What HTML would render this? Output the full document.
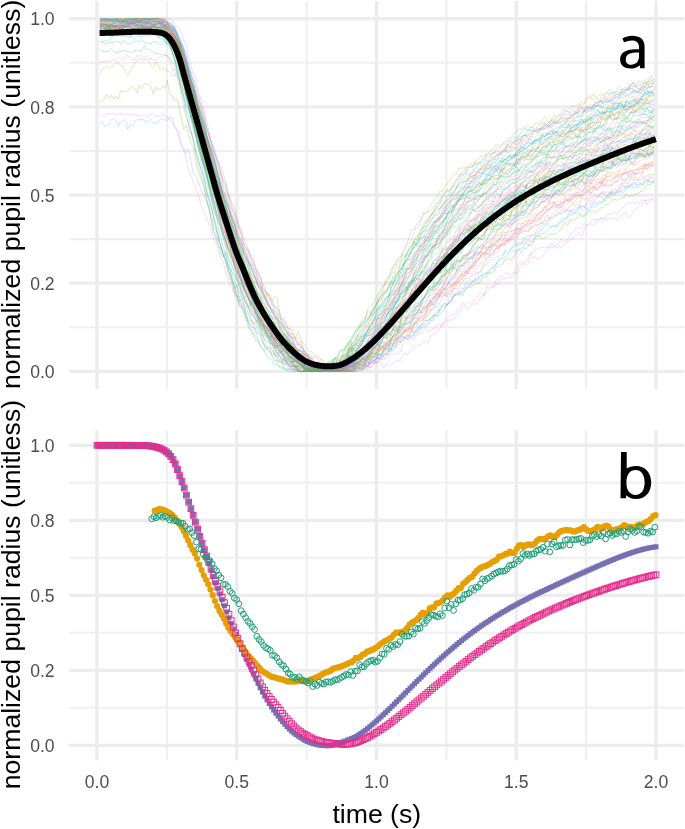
<!DOCTYPE html>
<html><head><meta charset="utf-8"><title>pupil</title>
<style>html,body{margin:0;padding:0;background:#fff;overflow:hidden}svg{display:block;filter:blur(0.45px)}</style>
</head><body>
<svg width="685" height="829" viewBox="0 0 685 829">
<rect width="685" height="829" fill="#fff"/>
<line x1="69.05" x2="683.95" y1="327.31" y2="327.31" stroke="#EFEFEF" stroke-width="2.1"/>
<line x1="69.05" x2="683.95" y1="239.14" y2="239.14" stroke="#EFEFEF" stroke-width="2.1"/>
<line x1="69.05" x2="683.95" y1="150.96" y2="150.96" stroke="#EFEFEF" stroke-width="2.1"/>
<line x1="69.05" x2="683.95" y1="62.79" y2="62.79" stroke="#EFEFEF" stroke-width="2.1"/>
<line x1="166.88" x2="166.88" y1="1.06" y2="389.03" stroke="#EFEFEF" stroke-width="2.1"/>
<line x1="306.62" x2="306.62" y1="1.06" y2="389.03" stroke="#EFEFEF" stroke-width="2.1"/>
<line x1="446.38" x2="446.38" y1="1.06" y2="389.03" stroke="#EFEFEF" stroke-width="2.1"/>
<line x1="586.12" x2="586.12" y1="1.06" y2="389.03" stroke="#EFEFEF" stroke-width="2.1"/>
<line x1="69.05" x2="683.95" y1="371.40" y2="371.40" stroke="#ECECEC" stroke-width="3.3"/>
<line x1="69.05" x2="683.95" y1="283.22" y2="283.22" stroke="#ECECEC" stroke-width="3.3"/>
<line x1="69.05" x2="683.95" y1="195.05" y2="195.05" stroke="#ECECEC" stroke-width="3.3"/>
<line x1="69.05" x2="683.95" y1="106.88" y2="106.88" stroke="#ECECEC" stroke-width="3.3"/>
<line x1="69.05" x2="683.95" y1="18.70" y2="18.70" stroke="#ECECEC" stroke-width="3.3"/>
<line x1="97.00" x2="97.00" y1="1.06" y2="389.03" stroke="#ECECEC" stroke-width="3.3"/>
<line x1="236.75" x2="236.75" y1="1.06" y2="389.03" stroke="#ECECEC" stroke-width="3.3"/>
<line x1="376.50" x2="376.50" y1="1.06" y2="389.03" stroke="#ECECEC" stroke-width="3.3"/>
<line x1="516.25" x2="516.25" y1="1.06" y2="389.03" stroke="#ECECEC" stroke-width="3.3"/>
<line x1="656.00" x2="656.00" y1="1.06" y2="389.03" stroke="#ECECEC" stroke-width="3.3"/>
<line x1="69.05" x2="683.95" y1="707.80" y2="707.80" stroke="#EFEFEF" stroke-width="2.1"/>
<line x1="69.05" x2="683.95" y1="632.80" y2="632.80" stroke="#EFEFEF" stroke-width="2.1"/>
<line x1="69.05" x2="683.95" y1="557.80" y2="557.80" stroke="#EFEFEF" stroke-width="2.1"/>
<line x1="69.05" x2="683.95" y1="482.80" y2="482.80" stroke="#EFEFEF" stroke-width="2.1"/>
<line x1="166.88" x2="166.88" y1="430.30" y2="760.30" stroke="#EFEFEF" stroke-width="2.1"/>
<line x1="306.62" x2="306.62" y1="430.30" y2="760.30" stroke="#EFEFEF" stroke-width="2.1"/>
<line x1="446.38" x2="446.38" y1="430.30" y2="760.30" stroke="#EFEFEF" stroke-width="2.1"/>
<line x1="586.12" x2="586.12" y1="430.30" y2="760.30" stroke="#EFEFEF" stroke-width="2.1"/>
<line x1="69.05" x2="683.95" y1="745.30" y2="745.30" stroke="#ECECEC" stroke-width="3.3"/>
<line x1="69.05" x2="683.95" y1="670.30" y2="670.30" stroke="#ECECEC" stroke-width="3.3"/>
<line x1="69.05" x2="683.95" y1="595.30" y2="595.30" stroke="#ECECEC" stroke-width="3.3"/>
<line x1="69.05" x2="683.95" y1="520.30" y2="520.30" stroke="#ECECEC" stroke-width="3.3"/>
<line x1="69.05" x2="683.95" y1="445.30" y2="445.30" stroke="#ECECEC" stroke-width="3.3"/>
<line x1="97.00" x2="97.00" y1="430.30" y2="760.30" stroke="#ECECEC" stroke-width="3.3"/>
<line x1="236.75" x2="236.75" y1="430.30" y2="760.30" stroke="#ECECEC" stroke-width="3.3"/>
<line x1="376.50" x2="376.50" y1="430.30" y2="760.30" stroke="#ECECEC" stroke-width="3.3"/>
<line x1="516.25" x2="516.25" y1="430.30" y2="760.30" stroke="#ECECEC" stroke-width="3.3"/>
<line x1="656.00" x2="656.00" y1="430.30" y2="760.30" stroke="#ECECEC" stroke-width="3.3"/>
<g fill="none" stroke-width="0.85" stroke-opacity="0.32" stroke-linejoin="round"><path d="M99.8,23.3 L102.1,25.6 L104.5,24.0 L106.8,25.3 L109.1,24.7 L111.4,23.9 L113.8,26.7 L116.1,27.1 L118.4,24.4 L120.8,23.4 L123.1,22.9 L125.4,22.1 L127.7,22.4 L130.1,23.2 L132.4,24.5 L134.7,22.9 L137.1,22.5 L139.4,22.0 L141.7,20.4 L144.0,21.3 L146.4,22.7 L148.7,22.6 L151.0,24.5 L153.4,24.0 L155.7,24.7 L158.0,24.2 L160.4,26.3 L162.7,28.6 L165.0,29.8 L167.3,31.5 L169.7,36.1 L172.0,40.9 L174.3,44.9 L176.7,52.9 L179.0,62.3 L181.3,72.9 L183.6,82.1 L186.0,94.9 L188.3,103.3 L190.6,112.4 L193.0,120.1 L195.3,130.3 L197.6,137.9 L199.9,147.6 L202.3,153.0 L204.6,165.2 L206.9,172.5 L209.3,186.1 L211.6,193.3 L213.9,200.2 L216.3,212.0 L218.6,214.5 L220.9,222.7 L223.2,232.1 L225.6,241.6 L227.9,247.0 L230.2,252.6 L232.6,261.7 L234.9,267.0 L237.2,278.0 L239.5,283.9 L241.9,293.0 L244.2,300.0 L246.5,304.7 L248.9,309.6 L251.2,313.9 L253.5,314.8 L255.8,317.6 L258.2,323.7 L260.5,324.4 L262.8,329.8 L265.2,329.4 L267.5,338.0 L269.8,337.1 L272.2,343.6 L274.5,344.4 L276.8,348.9 L279.1,345.1 L281.5,351.2 L283.8,353.3 L286.1,360.2 L288.5,366.2 L290.8,366.5 L293.1,365.3 L295.4,367.2 L297.8,369.6 L300.1,371.4 L302.4,371.4 L304.8,370.1 L307.1,366.8 L309.4,369.5 L311.7,369.9 L314.1,371.4 L316.4,371.1 L318.7,371.4 L321.1,371.4 L323.4,371.4 L325.7,366.9 L328.1,370.8 L330.4,367.8 L332.7,370.4 L335.0,369.4 L337.4,370.4 L339.7,369.1 L342.0,368.5 L344.4,371.4 L346.7,371.1 L349.0,369.0 L351.3,366.0 L353.7,365.3 L356.0,360.2 L358.3,357.4 L360.7,355.4 L363.0,351.8 L365.3,346.9 L367.6,341.3 L370.0,342.2 L372.3,338.6 L374.6,335.0 L377.0,329.2 L379.3,328.2 L381.6,324.6 L384.0,321.0 L386.3,318.6 L388.6,313.1 L390.9,311.6 L393.3,305.3 L395.6,301.1 L397.9,295.7 L400.3,289.2 L402.6,287.3 L404.9,285.1 L407.2,280.3 L409.6,275.7 L411.9,271.9 L414.2,267.1 L416.6,263.9 L418.9,259.6 L421.2,257.7 L423.5,252.1 L425.9,246.0 L428.2,243.0 L430.5,239.9 L432.9,238.3 L435.2,233.8 L437.5,230.2 L439.9,224.7 L442.2,221.5 L444.5,218.9 L446.8,218.0 L449.2,218.0 L451.5,213.1 L453.8,204.4 L456.2,202.5 L458.5,199.1 L460.8,194.7 L463.1,194.4 L465.5,190.8 L467.8,187.5 L470.1,186.9 L472.5,187.1 L474.8,186.0 L477.1,183.2 L479.4,183.0 L481.8,184.9 L484.1,180.6 L486.4,179.0 L488.8,175.0 L491.1,173.6 L493.4,171.9 L495.8,171.3 L498.1,166.5 L500.4,167.3 L502.7,162.7 L505.1,159.3 L507.4,160.4 L509.7,160.6 L512.1,158.4 L514.4,157.9 L516.7,153.8 L519.0,152.6 L521.4,151.7 L523.7,148.3 L526.0,149.1 L528.4,145.7 L530.7,142.5 L533.0,144.8 L535.3,139.9 L537.7,141.5 L540.0,140.3 L542.3,138.8 L544.7,139.0 L547.0,140.3 L549.3,137.2 L551.7,135.7 L554.0,133.4 L556.3,131.3 L558.6,135.0 L561.0,134.8 L563.3,131.8 L565.6,131.7 L568.0,131.1 L570.3,130.6 L572.6,127.7 L574.9,124.7 L577.3,125.1 L579.6,123.2 L581.9,122.0 L584.3,120.0 L586.6,117.1 L588.9,115.9 L591.2,113.9 L593.6,111.0 L595.9,110.0 L598.2,109.9 L600.6,114.8 L602.9,112.4 L605.2,112.2 L607.6,110.9 L609.9,112.2 L612.2,110.8 L614.5,103.4 L616.9,104.7 L619.2,107.0 L621.5,104.2 L623.9,109.4 L626.2,104.6 L628.5,108.2 L630.8,105.2 L633.2,107.9 L635.5,103.0 L637.8,103.5 L640.2,99.1 L642.5,99.3 L644.8,91.0 L647.1,90.0 L649.5,93.7 L651.8,90.9 L654.1,94.3" stroke="#00adfa"/>
<path d="M99.8,124.8 L102.1,121.2 L104.5,126.9 L106.8,124.6 L109.1,124.8 L111.4,119.6 L113.8,118.8 L116.1,120.9 L118.4,126.4 L120.8,121.7 L123.1,120.7 L125.4,119.3 L127.7,129.4 L130.1,124.7 L132.4,125.9 L134.7,121.7 L137.1,119.9 L139.4,119.7 L141.7,119.7 L144.0,119.7 L146.4,123.2 L148.7,120.3 L151.0,119.7 L153.4,123.6 L155.7,122.2 L158.0,122.8 L160.4,118.8 L162.7,120.3 L165.0,118.3 L167.3,120.8 L169.7,117.0 L172.0,117.5 L174.3,127.6 L176.7,130.1 L179.0,132.1 L181.3,145.0 L183.6,147.8 L186.0,153.1 L188.3,148.8 L190.6,158.7 L193.0,172.6 L195.3,173.8 L197.6,179.4 L199.9,186.6 L202.3,193.1 L204.6,196.6 L206.9,202.7 L209.3,208.1 L211.6,224.4 L213.9,232.6 L216.3,236.5 L218.6,247.4 L220.9,248.2 L223.2,252.2 L225.6,251.7 L227.9,266.5 L230.2,268.1 L232.6,273.0 L234.9,276.5 L237.2,279.4 L239.5,282.2 L241.9,292.7 L244.2,299.1 L246.5,302.6 L248.9,307.4 L251.2,301.7 L253.5,302.4 L255.8,313.9 L258.2,314.7 L260.5,326.4 L262.8,324.9 L265.2,330.7 L267.5,330.0 L269.8,341.4 L272.2,332.7 L274.5,346.4 L276.8,345.2 L279.1,346.3 L281.5,351.2 L283.8,353.5 L286.1,352.0 L288.5,354.1 L290.8,354.7 L293.1,362.8 L295.4,358.8 L297.8,369.4 L300.1,369.2 L302.4,365.4 L304.8,365.3 L307.1,369.1 L309.4,368.0 L311.7,371.4 L314.1,366.9 L316.4,369.9 L318.7,369.8 L321.1,371.4 L323.4,371.4 L325.7,371.4 L328.1,371.4 L330.4,369.4 L332.7,371.4 L335.0,370.1 L337.4,371.4 L339.7,371.1 L342.0,371.4 L344.4,362.0 L346.7,367.3 L349.0,367.0 L351.3,366.6 L353.7,369.7 L356.0,369.5 L358.3,357.3 L360.7,361.1 L363.0,358.5 L365.3,350.2 L367.6,343.6 L370.0,349.0 L372.3,341.2 L374.6,342.8 L377.0,341.5 L379.3,347.4 L381.6,343.4 L384.0,335.6 L386.3,334.6 L388.6,323.4 L390.9,328.6 L393.3,329.4 L395.6,311.4 L397.9,317.3 L400.3,314.8 L402.6,311.4 L404.9,311.9 L407.2,311.0 L409.6,307.2 L411.9,300.8 L414.2,302.1 L416.6,295.9 L418.9,298.6 L421.2,297.9 L423.5,286.4 L425.9,279.5 L428.2,278.7 L430.5,271.5 L432.9,269.5 L435.2,272.4 L437.5,268.0 L439.9,272.3 L442.2,262.3 L444.5,260.8 L446.8,263.2 L449.2,263.5 L451.5,264.9 L453.8,262.4 L456.2,253.5 L458.5,254.0 L460.8,246.5 L463.1,245.9 L465.5,244.5 L467.8,237.5 L470.1,240.0 L472.5,235.8 L474.8,234.1 L477.1,232.6 L479.4,231.9 L481.8,226.3 L484.1,226.1 L486.4,221.9 L488.8,216.0 L491.1,211.0 L493.4,214.1 L495.8,214.9 L498.1,216.0 L500.4,217.5 L502.7,212.0 L505.1,209.2 L507.4,199.6 L509.7,194.0 L512.1,198.3 L514.4,194.2 L516.7,200.7 L519.0,205.6 L521.4,202.4 L523.7,197.5 L526.0,196.3 L528.4,194.9 L530.7,194.7 L533.0,194.0 L535.3,191.6 L537.7,183.4 L540.0,184.0 L542.3,188.3 L544.7,180.9 L547.0,178.6 L549.3,179.0 L551.7,178.3 L554.0,177.0 L556.3,174.1 L558.6,171.8 L561.0,174.0 L563.3,172.5 L565.6,177.2 L568.0,171.8 L570.3,174.6 L572.6,173.3 L574.9,177.8 L577.3,172.3 L579.6,173.4 L581.9,167.6 L584.3,164.8 L586.6,171.4 L588.9,175.5 L591.2,172.5 L593.6,173.0 L595.9,159.2 L598.2,158.1 L600.6,159.3 L602.9,151.5 L605.2,140.9 L607.6,146.5 L609.9,152.8 L612.2,145.7 L614.5,155.2 L616.9,156.3 L619.2,152.5 L621.5,154.7 L623.9,149.9 L626.2,162.0 L628.5,160.2 L630.8,152.4 L633.2,148.6 L635.5,140.2 L637.8,138.2 L640.2,139.6 L642.5,134.7 L644.8,135.2 L647.1,130.5 L649.5,130.8 L651.8,138.2 L654.1,139.9" stroke="#3fa1ff"/>
<path d="M99.8,29.1 L102.1,26.5 L104.5,26.5 L106.8,25.1 L109.1,26.4 L111.4,26.3 L113.8,25.8 L116.1,24.1 L118.4,25.8 L120.8,25.1 L123.1,25.2 L125.4,23.1 L127.7,22.3 L130.1,22.3 L132.4,22.0 L134.7,23.4 L137.1,24.3 L139.4,22.4 L141.7,24.8 L144.0,21.5 L146.4,23.5 L148.7,25.2 L151.0,27.8 L153.4,26.6 L155.7,28.8 L158.0,26.8 L160.4,25.6 L162.7,28.9 L165.0,29.2 L167.3,30.7 L169.7,33.6 L172.0,37.6 L174.3,40.0 L176.7,45.8 L179.0,50.8 L181.3,59.0 L183.6,68.2 L186.0,78.4 L188.3,87.0 L190.6,99.3 L193.0,107.4 L195.3,115.4 L197.6,127.2 L199.9,135.5 L202.3,143.3 L204.6,153.9 L206.9,162.7 L209.3,169.4 L211.6,178.1 L213.9,185.9 L216.3,195.0 L218.6,200.5 L220.9,208.1 L223.2,217.9 L225.6,224.6 L227.9,234.8 L230.2,239.4 L232.6,244.6 L234.9,255.4 L237.2,261.6 L239.5,267.3 L241.9,270.5 L244.2,278.9 L246.5,287.5 L248.9,289.7 L251.2,294.7 L253.5,301.0 L255.8,306.3 L258.2,307.9 L260.5,317.8 L262.8,320.7 L265.2,320.9 L267.5,327.7 L269.8,331.8 L272.2,336.5 L274.5,337.7 L276.8,341.4 L279.1,342.3 L281.5,347.7 L283.8,351.0 L286.1,351.7 L288.5,356.3 L290.8,356.2 L293.1,358.8 L295.4,358.8 L297.8,363.7 L300.1,361.2 L302.4,367.9 L304.8,368.5 L307.1,367.1 L309.4,371.4 L311.7,366.8 L314.1,367.8 L316.4,366.9 L318.7,365.6 L321.1,369.3 L323.4,367.4 L325.7,368.7 L328.1,367.9 L330.4,367.2 L332.7,369.3 L335.0,369.6 L337.4,369.1 L339.7,369.2 L342.0,369.3 L344.4,367.7 L346.7,366.4 L349.0,364.5 L351.3,358.9 L353.7,355.6 L356.0,351.9 L358.3,347.4 L360.7,341.4 L363.0,339.9 L365.3,335.5 L367.6,336.6 L370.0,329.3 L372.3,329.4 L374.6,326.5 L377.0,320.0 L379.3,317.9 L381.6,314.8 L384.0,308.2 L386.3,302.9 L388.6,300.1 L390.9,295.9 L393.3,291.6 L395.6,289.7 L397.9,283.9 L400.3,276.5 L402.6,275.8 L404.9,270.7 L407.2,265.4 L409.6,263.6 L411.9,262.3 L414.2,259.0 L416.6,250.9 L418.9,247.9 L421.2,246.1 L423.5,243.4 L425.9,235.4 L428.2,231.7 L430.5,228.7 L432.9,224.5 L435.2,221.0 L437.5,217.8 L439.9,220.3 L442.2,216.7 L444.5,213.3 L446.8,208.7 L449.2,207.8 L451.5,204.1 L453.8,207.6 L456.2,209.1 L458.5,208.8 L460.8,206.5 L463.1,204.0 L465.5,198.5 L467.8,197.7 L470.1,192.6 L472.5,186.7 L474.8,181.8 L477.1,181.5 L479.4,182.8 L481.8,180.9 L484.1,179.5 L486.4,179.9 L488.8,178.1 L491.1,175.6 L493.4,170.1 L495.8,171.3 L498.1,169.3 L500.4,169.1 L502.7,169.7 L505.1,166.7 L507.4,163.7 L509.7,163.2 L512.1,162.8 L514.4,165.5 L516.7,164.3 L519.0,158.8 L521.4,158.0 L523.7,158.2 L526.0,155.7 L528.4,152.7 L530.7,151.8 L533.0,151.0 L535.3,150.8 L537.7,148.9 L540.0,147.4 L542.3,148.6 L544.7,146.8 L547.0,146.2 L549.3,145.4 L551.7,144.8 L554.0,141.2 L556.3,140.0 L558.6,138.7 L561.0,136.0 L563.3,136.5 L565.6,133.0 L568.0,132.2 L570.3,131.5 L572.6,131.4 L574.9,129.1 L577.3,127.7 L579.6,131.7 L581.9,126.7 L584.3,128.1 L586.6,125.2 L588.9,124.2 L591.2,123.8 L593.6,123.7 L595.9,122.7 L598.2,122.7 L600.6,122.5 L602.9,118.2 L605.2,120.8 L607.6,118.2 L609.9,115.5 L612.2,118.8 L614.5,118.9 L616.9,118.7 L619.2,111.3 L621.5,113.3 L623.9,110.3 L626.2,110.4 L628.5,109.4 L630.8,108.3 L633.2,110.3 L635.5,103.6 L637.8,104.3 L640.2,102.9 L642.5,103.9 L644.8,103.7 L647.1,98.8 L649.5,104.8 L651.8,101.2 L654.1,103.2" stroke="#ff62ba"/>
<path d="M99.8,32.0 L102.1,32.2 L104.5,34.3 L106.8,32.7 L109.1,33.0 L111.4,32.7 L113.8,31.5 L116.1,32.5 L118.4,32.7 L120.8,33.8 L123.1,31.4 L125.4,30.3 L127.7,29.8 L130.1,31.1 L132.4,32.9 L134.7,32.4 L137.1,30.0 L139.4,29.5 L141.7,28.5 L144.0,27.7 L146.4,29.1 L148.7,29.4 L151.0,29.0 L153.4,31.2 L155.7,30.6 L158.0,30.8 L160.4,28.6 L162.7,30.1 L165.0,30.0 L167.3,32.4 L169.7,36.7 L172.0,41.2 L174.3,43.5 L176.7,48.8 L179.0,55.0 L181.3,64.1 L183.6,75.7 L186.0,87.5 L188.3,92.1 L190.6,97.4 L193.0,104.5 L195.3,113.2 L197.6,123.6 L199.9,128.8 L202.3,138.9 L204.6,145.6 L206.9,150.9 L209.3,155.9 L211.6,162.0 L213.9,173.8 L216.3,184.8 L218.6,194.4 L220.9,199.9 L223.2,208.1 L225.6,216.3 L227.9,222.2 L230.2,227.2 L232.6,234.2 L234.9,240.2 L237.2,247.5 L239.5,251.0 L241.9,257.3 L244.2,262.3 L246.5,271.2 L248.9,273.3 L251.2,283.3 L253.5,288.9 L255.8,295.1 L258.2,299.9 L260.5,306.3 L262.8,307.0 L265.2,311.5 L267.5,315.4 L269.8,318.4 L272.2,322.3 L274.5,324.1 L276.8,328.8 L279.1,331.8 L281.5,335.8 L283.8,340.2 L286.1,338.1 L288.5,342.6 L290.8,343.3 L293.1,347.8 L295.4,347.6 L297.8,352.6 L300.1,357.5 L302.4,357.8 L304.8,360.6 L307.1,363.5 L309.4,368.3 L311.7,367.5 L314.1,369.6 L316.4,370.9 L318.7,369.9 L321.1,371.4 L323.4,371.4 L325.7,371.4 L328.1,371.4 L330.4,370.7 L332.7,371.4 L335.0,371.4 L337.4,368.6 L339.7,367.6 L342.0,365.8 L344.4,365.3 L346.7,359.8 L349.0,358.9 L351.3,358.9 L353.7,355.4 L356.0,354.8 L358.3,351.8 L360.7,351.8 L363.0,354.8 L365.3,352.7 L367.6,347.2 L370.0,345.1 L372.3,342.4 L374.6,337.5 L377.0,337.1 L379.3,331.8 L381.6,326.9 L384.0,325.5 L386.3,320.5 L388.6,319.5 L390.9,317.7 L393.3,317.9 L395.6,317.7 L397.9,315.4 L400.3,311.2 L402.6,310.4 L404.9,307.3 L407.2,306.8 L409.6,302.8 L411.9,296.7 L414.2,292.1 L416.6,291.0 L418.9,292.1 L421.2,285.4 L423.5,280.5 L425.9,281.9 L428.2,275.5 L430.5,277.7 L432.9,274.9 L435.2,275.2 L437.5,271.3 L439.9,273.7 L442.2,265.8 L444.5,264.8 L446.8,263.9 L449.2,260.7 L451.5,257.8 L453.8,257.1 L456.2,253.4 L458.5,251.0 L460.8,253.0 L463.1,246.2 L465.5,245.4 L467.8,242.1 L470.1,243.6 L472.5,240.7 L474.8,239.7 L477.1,235.7 L479.4,239.0 L481.8,239.9 L484.1,236.7 L486.4,229.5 L488.8,229.5 L491.1,229.1 L493.4,228.5 L495.8,225.6 L498.1,226.0 L500.4,226.0 L502.7,221.9 L505.1,221.4 L507.4,219.2 L509.7,216.2 L512.1,211.7 L514.4,208.2 L516.7,209.0 L519.0,206.3 L521.4,209.8 L523.7,203.9 L526.0,202.7 L528.4,198.1 L530.7,200.4 L533.0,199.1 L535.3,196.5 L537.7,196.3 L540.0,194.1 L542.3,195.4 L544.7,191.8 L547.0,189.0 L549.3,186.7 L551.7,186.8 L554.0,187.2 L556.3,189.9 L558.6,187.6 L561.0,188.0 L563.3,186.7 L565.6,187.9 L568.0,183.3 L570.3,184.4 L572.6,180.1 L574.9,184.1 L577.3,182.8 L579.6,182.6 L581.9,181.8 L584.3,184.7 L586.6,179.8 L588.9,179.1 L591.2,179.8 L593.6,173.9 L595.9,170.5 L598.2,169.6 L600.6,169.5 L602.9,166.9 L605.2,166.4 L607.6,163.8 L609.9,161.6 L612.2,160.8 L614.5,166.1 L616.9,163.1 L619.2,164.1 L621.5,162.2 L623.9,164.2 L626.2,161.6 L628.5,159.5 L630.8,158.5 L633.2,157.4 L635.5,156.5 L637.8,156.6 L640.2,153.3 L642.5,154.6 L644.8,156.4 L647.1,153.3 L649.5,154.3 L651.8,153.8 L654.1,149.8" stroke="#de8c00"/>
<path d="M99.8,29.2 L102.1,31.9 L104.5,31.7 L106.8,31.3 L109.1,31.1 L111.4,27.7 L113.8,24.5 L116.1,28.4 L118.4,27.1 L120.8,29.9 L123.1,27.2 L125.4,31.3 L127.7,32.0 L130.1,29.8 L132.4,32.3 L134.7,30.3 L137.1,34.1 L139.4,31.9 L141.7,30.3 L144.0,30.2 L146.4,32.1 L148.7,31.6 L151.0,31.0 L153.4,31.3 L155.7,30.8 L158.0,30.4 L160.4,30.8 L162.7,30.1 L165.0,31.1 L167.3,31.4 L169.7,34.3 L172.0,34.3 L174.3,36.3 L176.7,38.8 L179.0,41.5 L181.3,45.2 L183.6,49.1 L186.0,56.8 L188.3,69.3 L190.6,74.9 L193.0,80.8 L195.3,91.2 L197.6,101.5 L199.9,112.0 L202.3,121.2 L204.6,130.6 L206.9,137.9 L209.3,144.3 L211.6,153.8 L213.9,167.1 L216.3,173.6 L218.6,181.7 L220.9,188.6 L223.2,196.6 L225.6,205.4 L227.9,213.1 L230.2,219.8 L232.6,226.1 L234.9,236.2 L237.2,244.2 L239.5,251.3 L241.9,258.7 L244.2,265.1 L246.5,270.2 L248.9,272.2 L251.2,279.0 L253.5,284.8 L255.8,292.7 L258.2,296.1 L260.5,300.2 L262.8,304.6 L265.2,310.9 L267.5,315.3 L269.8,320.7 L272.2,323.8 L274.5,326.4 L276.8,333.8 L279.1,334.1 L281.5,337.5 L283.8,342.2 L286.1,342.1 L288.5,347.7 L290.8,347.7 L293.1,354.5 L295.4,352.1 L297.8,355.8 L300.1,358.4 L302.4,357.8 L304.8,361.3 L307.1,364.7 L309.4,364.7 L311.7,364.1 L314.1,368.3 L316.4,369.7 L318.7,371.4 L321.1,370.8 L323.4,370.1 L325.7,369.8 L328.1,371.4 L330.4,371.4 L332.7,371.1 L335.0,370.2 L337.4,368.7 L339.7,363.7 L342.0,364.4 L344.4,362.8 L346.7,362.7 L349.0,358.3 L351.3,356.9 L353.7,355.0 L356.0,357.0 L358.3,352.4 L360.7,349.3 L363.0,346.2 L365.3,346.6 L367.6,344.6 L370.0,345.6 L372.3,340.8 L374.6,340.4 L377.0,337.4 L379.3,336.9 L381.6,330.7 L384.0,330.4 L386.3,325.8 L388.6,319.6 L390.9,316.6 L393.3,309.7 L395.6,308.1 L397.9,307.1 L400.3,304.2 L402.6,296.4 L404.9,295.4 L407.2,292.3 L409.6,286.5 L411.9,283.4 L414.2,282.1 L416.6,279.6 L418.9,275.4 L421.2,274.7 L423.5,269.7 L425.9,266.3 L428.2,262.1 L430.5,259.3 L432.9,256.8 L435.2,254.1 L437.5,253.8 L439.9,248.2 L442.2,248.1 L444.5,244.9 L446.8,242.2 L449.2,241.4 L451.5,236.5 L453.8,236.8 L456.2,230.1 L458.5,231.6 L460.8,226.7 L463.1,224.7 L465.5,221.5 L467.8,220.0 L470.1,214.1 L472.5,210.6 L474.8,210.7 L477.1,211.9 L479.4,210.3 L481.8,208.5 L484.1,204.5 L486.4,202.8 L488.8,200.7 L491.1,201.2 L493.4,201.5 L495.8,201.6 L498.1,200.3 L500.4,197.0 L502.7,191.3 L505.1,189.1 L507.4,186.6 L509.7,186.3 L512.1,183.4 L514.4,182.6 L516.7,186.9 L519.0,188.2 L521.4,183.0 L523.7,182.4 L526.0,179.8 L528.4,178.7 L530.7,175.4 L533.0,175.5 L535.3,174.3 L537.7,171.7 L540.0,171.1 L542.3,166.0 L544.7,166.8 L547.0,164.6 L549.3,166.0 L551.7,165.1 L554.0,163.2 L556.3,160.9 L558.6,158.8 L561.0,158.8 L563.3,158.3 L565.6,157.7 L568.0,157.7 L570.3,156.3 L572.6,153.6 L574.9,152.8 L577.3,151.2 L579.6,149.9 L581.9,152.5 L584.3,151.7 L586.6,149.2 L588.9,150.8 L591.2,149.2 L593.6,149.9 L595.9,147.7 L598.2,143.1 L600.6,141.9 L602.9,141.5 L605.2,138.9 L607.6,138.9 L609.9,137.3 L612.2,137.4 L614.5,136.4 L616.9,136.0 L619.2,135.8 L621.5,135.5 L623.9,137.5 L626.2,137.0 L628.5,138.3 L630.8,133.4 L633.2,134.3 L635.5,135.8 L637.8,134.4 L640.2,132.2 L642.5,130.0 L644.8,129.7 L647.1,128.8 L649.5,123.7 L651.8,120.7 L654.1,119.6" stroke="#bf9c00"/>
<path d="M99.8,32.8 L102.1,30.8 L104.5,30.6 L106.8,26.9 L109.1,29.3 L111.4,29.8 L113.8,30.4 L116.1,29.9 L118.4,27.9 L120.8,26.6 L123.1,26.1 L125.4,25.3 L127.7,25.7 L130.1,25.4 L132.4,27.9 L134.7,25.4 L137.1,25.9 L139.4,25.0 L141.7,26.3 L144.0,26.3 L146.4,27.5 L148.7,28.8 L151.0,28.4 L153.4,29.6 L155.7,29.3 L158.0,28.6 L160.4,30.3 L162.7,29.5 L165.0,28.1 L167.3,30.0 L169.7,31.5 L172.0,33.6 L174.3,38.0 L176.7,42.8 L179.0,45.0 L181.3,51.3 L183.6,59.8 L186.0,71.7 L188.3,78.5 L190.6,85.9 L193.0,95.5 L195.3,102.7 L197.6,108.8 L199.9,119.3 L202.3,129.5 L204.6,136.8 L206.9,147.0 L209.3,154.6 L211.6,166.3 L213.9,174.6 L216.3,185.7 L218.6,191.6 L220.9,201.5 L223.2,206.3 L225.6,217.0 L227.9,220.9 L230.2,228.4 L232.6,236.9 L234.9,241.9 L237.2,255.1 L239.5,257.9 L241.9,258.8 L244.2,271.1 L246.5,274.4 L248.9,283.4 L251.2,288.2 L253.5,291.2 L255.8,297.5 L258.2,300.1 L260.5,307.8 L262.8,315.4 L265.2,316.0 L267.5,322.1 L269.8,323.9 L272.2,327.8 L274.5,331.7 L276.8,332.4 L279.1,335.8 L281.5,343.0 L283.8,344.8 L286.1,350.4 L288.5,349.4 L290.8,353.6 L293.1,353.6 L295.4,358.3 L297.8,360.8 L300.1,362.3 L302.4,365.9 L304.8,368.1 L307.1,368.5 L309.4,371.4 L311.7,370.3 L314.1,367.9 L316.4,370.9 L318.7,370.0 L321.1,370.3 L323.4,370.6 L325.7,369.1 L328.1,367.3 L330.4,369.2 L332.7,367.4 L335.0,368.3 L337.4,369.6 L339.7,370.4 L342.0,371.4 L344.4,370.2 L346.7,369.5 L349.0,366.4 L351.3,363.8 L353.7,362.8 L356.0,359.8 L358.3,355.6 L360.7,354.7 L363.0,349.5 L365.3,347.5 L367.6,346.0 L370.0,343.0 L372.3,344.3 L374.6,340.3 L377.0,337.0 L379.3,335.2 L381.6,332.2 L384.0,332.1 L386.3,323.0 L388.6,325.0 L390.9,318.3 L393.3,313.8 L395.6,314.5 L397.9,315.1 L400.3,314.5 L402.6,311.3 L404.9,310.4 L407.2,306.4 L409.6,302.4 L411.9,298.7 L414.2,291.0 L416.6,286.4 L418.9,286.6 L421.2,283.9 L423.5,283.6 L425.9,280.3 L428.2,275.1 L430.5,275.1 L432.9,273.8 L435.2,271.8 L437.5,269.7 L439.9,266.7 L442.2,258.9 L444.5,256.0 L446.8,250.7 L449.2,248.7 L451.5,250.6 L453.8,243.6 L456.2,241.2 L458.5,240.2 L460.8,236.9 L463.1,234.6 L465.5,232.5 L467.8,230.4 L470.1,230.1 L472.5,228.0 L474.8,226.3 L477.1,225.3 L479.4,224.5 L481.8,217.0 L484.1,216.1 L486.4,212.3 L488.8,214.1 L491.1,212.7 L493.4,213.1 L495.8,211.4 L498.1,210.4 L500.4,204.3 L502.7,206.6 L505.1,206.8 L507.4,206.5 L509.7,204.9 L512.1,205.4 L514.4,198.5 L516.7,195.2 L519.0,198.8 L521.4,196.6 L523.7,191.0 L526.0,188.3 L528.4,187.5 L530.7,185.5 L533.0,184.8 L535.3,181.6 L537.7,182.2 L540.0,178.9 L542.3,178.6 L544.7,177.8 L547.0,176.1 L549.3,178.7 L551.7,175.5 L554.0,177.2 L556.3,176.9 L558.6,177.4 L561.0,173.1 L563.3,172.5 L565.6,172.0 L568.0,168.9 L570.3,166.6 L572.6,165.6 L574.9,168.7 L577.3,165.9 L579.6,168.6 L581.9,161.8 L584.3,164.1 L586.6,161.0 L588.9,159.6 L591.2,163.3 L593.6,158.4 L595.9,159.9 L598.2,157.1 L600.6,157.5 L602.9,153.8 L605.2,149.5 L607.6,149.3 L609.9,147.0 L612.2,148.1 L614.5,148.9 L616.9,144.3 L619.2,148.8 L621.5,148.7 L623.9,145.6 L626.2,147.8 L628.5,147.0 L630.8,147.0 L633.2,148.5 L635.5,147.4 L637.8,146.8 L640.2,141.1 L642.5,142.8 L644.8,140.5 L647.1,137.2 L649.5,137.3 L651.8,135.5 L654.1,137.9" stroke="#e88526"/>
<path d="M99.8,30.0 L102.1,33.5 L104.5,28.4 L106.8,28.4 L109.1,27.6 L111.4,28.9 L113.8,28.6 L116.1,30.2 L118.4,29.1 L120.8,27.9 L123.1,29.2 L125.4,26.7 L127.7,26.6 L130.1,29.0 L132.4,29.8 L134.7,29.2 L137.1,26.8 L139.4,30.1 L141.7,29.2 L144.0,31.3 L146.4,31.1 L148.7,30.2 L151.0,27.0 L153.4,26.8 L155.7,27.4 L158.0,29.6 L160.4,30.1 L162.7,31.8 L165.0,33.9 L167.3,35.4 L169.7,40.3 L172.0,44.7 L174.3,49.2 L176.7,54.0 L179.0,65.6 L181.3,77.5 L183.6,82.5 L186.0,92.0 L188.3,99.4 L190.6,106.3 L193.0,113.8 L195.3,120.6 L197.6,131.8 L199.9,140.2 L202.3,146.3 L204.6,157.0 L206.9,165.6 L209.3,174.7 L211.6,183.4 L213.9,189.1 L216.3,198.9 L218.6,208.7 L220.9,214.0 L223.2,223.2 L225.6,227.7 L227.9,237.6 L230.2,245.1 L232.6,253.1 L234.9,258.3 L237.2,266.8 L239.5,274.2 L241.9,277.6 L244.2,282.7 L246.5,287.3 L248.9,294.0 L251.2,299.5 L253.5,305.1 L255.8,310.1 L258.2,316.5 L260.5,318.9 L262.8,323.5 L265.2,327.8 L267.5,328.3 L269.8,334.1 L272.2,339.0 L274.5,339.0 L276.8,344.4 L279.1,351.9 L281.5,351.6 L283.8,349.4 L286.1,348.8 L288.5,355.5 L290.8,356.6 L293.1,362.7 L295.4,357.4 L297.8,360.5 L300.1,364.0 L302.4,367.3 L304.8,369.0 L307.1,368.2 L309.4,368.6 L311.7,367.9 L314.1,368.0 L316.4,367.7 L318.7,370.4 L321.1,370.2 L323.4,368.6 L325.7,371.4 L328.1,370.8 L330.4,371.4 L332.7,370.8 L335.0,371.4 L337.4,365.9 L339.7,371.4 L342.0,370.9 L344.4,368.0 L346.7,365.3 L349.0,367.4 L351.3,362.0 L353.7,362.2 L356.0,358.5 L358.3,358.3 L360.7,358.2 L363.0,357.4 L365.3,355.7 L367.6,352.7 L370.0,349.0 L372.3,349.6 L374.6,342.6 L377.0,343.2 L379.3,341.6 L381.6,339.8 L384.0,337.1 L386.3,334.3 L388.6,330.7 L390.9,327.1 L393.3,326.4 L395.6,322.2 L397.9,321.9 L400.3,320.3 L402.6,315.0 L404.9,316.3 L407.2,311.4 L409.6,307.7 L411.9,307.8 L414.2,306.1 L416.6,298.2 L418.9,294.5 L421.2,292.8 L423.5,290.2 L425.9,285.9 L428.2,284.5 L430.5,281.2 L432.9,280.3 L435.2,276.7 L437.5,273.0 L439.9,274.3 L442.2,272.4 L444.5,270.5 L446.8,265.2 L449.2,261.3 L451.5,260.1 L453.8,256.4 L456.2,253.2 L458.5,251.1 L460.8,253.4 L463.1,249.0 L465.5,244.2 L467.8,245.1 L470.1,244.0 L472.5,242.8 L474.8,237.9 L477.1,238.3 L479.4,238.2 L481.8,236.1 L484.1,233.7 L486.4,229.3 L488.8,223.8 L491.1,222.6 L493.4,220.5 L495.8,221.6 L498.1,218.6 L500.4,219.5 L502.7,217.0 L505.1,211.5 L507.4,208.5 L509.7,206.2 L512.1,206.4 L514.4,207.8 L516.7,204.8 L519.0,205.8 L521.4,207.2 L523.7,206.7 L526.0,201.5 L528.4,204.7 L530.7,202.5 L533.0,200.7 L535.3,196.2 L537.7,194.0 L540.0,190.9 L542.3,193.8 L544.7,190.5 L547.0,190.2 L549.3,188.7 L551.7,191.6 L554.0,188.2 L556.3,185.8 L558.6,185.8 L561.0,184.4 L563.3,184.6 L565.6,184.1 L568.0,182.1 L570.3,177.8 L572.6,176.4 L574.9,175.6 L577.3,173.6 L579.6,171.6 L581.9,172.1 L584.3,173.7 L586.6,170.7 L588.9,168.8 L591.2,171.4 L593.6,170.5 L595.9,165.7 L598.2,164.6 L600.6,164.5 L602.9,163.7 L605.2,163.6 L607.6,160.6 L609.9,162.9 L612.2,163.4 L614.5,158.7 L616.9,160.5 L619.2,158.8 L621.5,161.8 L623.9,159.3 L626.2,157.4 L628.5,159.9 L630.8,154.3 L633.2,152.5 L635.5,154.1 L637.8,153.7 L640.2,154.8 L642.5,152.4 L644.8,149.8 L647.1,148.8 L649.5,145.5 L651.8,142.3 L654.1,135.3" stroke="#00c1a9"/>
<path d="M99.8,25.2 L102.1,25.5 L104.5,24.5 L106.8,27.3 L109.1,26.1 L111.4,28.8 L113.8,28.0 L116.1,24.8 L118.4,23.9 L120.8,23.8 L123.1,23.8 L125.4,24.9 L127.7,23.6 L130.1,24.1 L132.4,22.9 L134.7,25.9 L137.1,26.3 L139.4,26.7 L141.7,24.9 L144.0,23.8 L146.4,25.3 L148.7,26.8 L151.0,25.6 L153.4,24.2 L155.7,23.5 L158.0,27.6 L160.4,27.7 L162.7,27.9 L165.0,29.2 L167.3,27.5 L169.7,27.8 L172.0,31.3 L174.3,35.4 L176.7,39.9 L179.0,42.2 L181.3,46.0 L183.6,54.0 L186.0,61.8 L188.3,67.3 L190.6,75.5 L193.0,85.5 L195.3,94.5 L197.6,102.0 L199.9,109.3 L202.3,114.1 L204.6,128.2 L206.9,136.9 L209.3,144.0 L211.6,150.5 L213.9,156.9 L216.3,170.4 L218.6,175.1 L220.9,185.6 L223.2,194.4 L225.6,203.2 L227.9,207.1 L230.2,213.7 L232.6,219.3 L234.9,226.0 L237.2,235.3 L239.5,238.1 L241.9,242.4 L244.2,248.6 L246.5,254.5 L248.9,264.8 L251.2,274.1 L253.5,275.6 L255.8,278.5 L258.2,284.7 L260.5,290.1 L262.8,290.4 L265.2,299.4 L267.5,301.2 L269.8,306.8 L272.2,313.2 L274.5,315.7 L276.8,323.1 L279.1,326.7 L281.5,329.7 L283.8,333.6 L286.1,336.1 L288.5,342.9 L290.8,348.4 L293.1,349.0 L295.4,351.3 L297.8,353.0 L300.1,355.1 L302.4,356.2 L304.8,359.8 L307.1,358.8 L309.4,360.1 L311.7,364.1 L314.1,367.8 L316.4,368.5 L318.7,368.6 L321.1,370.8 L323.4,370.1 L325.7,371.4 L328.1,368.5 L330.4,369.5 L332.7,366.2 L335.0,369.2 L337.4,366.4 L339.7,368.3 L342.0,369.7 L344.4,366.4 L346.7,368.4 L349.0,362.8 L351.3,365.1 L353.7,362.3 L356.0,361.9 L358.3,356.1 L360.7,355.2 L363.0,356.2 L365.3,351.1 L367.6,349.7 L370.0,346.4 L372.3,343.1 L374.6,341.5 L377.0,340.9 L379.3,339.2 L381.6,332.2 L384.0,332.0 L386.3,329.4 L388.6,322.6 L390.9,321.0 L393.3,316.0 L395.6,313.3 L397.9,313.7 L400.3,312.9 L402.6,307.7 L404.9,301.0 L407.2,300.2 L409.6,294.6 L411.9,294.3 L414.2,289.4 L416.6,286.6 L418.9,286.8 L421.2,281.8 L423.5,279.1 L425.9,278.4 L428.2,273.6 L430.5,268.8 L432.9,267.1 L435.2,265.7 L437.5,260.9 L439.9,258.2 L442.2,256.6 L444.5,258.1 L446.8,253.9 L449.2,249.7 L451.5,246.0 L453.8,241.5 L456.2,239.8 L458.5,242.3 L460.8,234.2 L463.1,231.7 L465.5,230.5 L467.8,230.1 L470.1,229.1 L472.5,226.5 L474.8,223.5 L477.1,218.5 L479.4,215.1 L481.8,214.7 L484.1,213.7 L486.4,212.8 L488.8,210.4 L491.1,210.0 L493.4,210.3 L495.8,206.7 L498.1,205.9 L500.4,202.3 L502.7,201.7 L505.1,198.7 L507.4,197.8 L509.7,198.7 L512.1,194.7 L514.4,191.6 L516.7,190.1 L519.0,188.6 L521.4,184.9 L523.7,186.7 L526.0,187.2 L528.4,187.4 L530.7,188.9 L533.0,186.7 L535.3,182.0 L537.7,180.8 L540.0,177.9 L542.3,177.1 L544.7,174.7 L547.0,174.4 L549.3,170.1 L551.7,167.8 L554.0,167.9 L556.3,166.3 L558.6,165.7 L561.0,166.0 L563.3,163.1 L565.6,165.0 L568.0,163.0 L570.3,163.6 L572.6,161.1 L574.9,162.2 L577.3,157.9 L579.6,157.3 L581.9,153.9 L584.3,150.0 L586.6,151.0 L588.9,151.0 L591.2,155.0 L593.6,155.7 L595.9,154.3 L598.2,149.3 L600.6,145.7 L602.9,145.6 L605.2,147.3 L607.6,145.6 L609.9,145.7 L612.2,141.3 L614.5,141.8 L616.9,141.7 L619.2,141.1 L621.5,139.9 L623.9,137.3 L626.2,136.0 L628.5,134.6 L630.8,136.7 L633.2,137.8 L635.5,139.0 L637.8,136.7 L640.2,137.9 L642.5,138.6 L644.8,135.3 L647.1,131.7 L649.5,127.4 L651.8,129.3 L654.1,127.3" stroke="#9da700"/>
<path d="M99.8,24.7 L102.1,23.6 L104.5,24.6 L106.8,24.9 L109.1,24.3 L111.4,22.2 L113.8,22.4 L116.1,21.8 L118.4,23.5 L120.8,21.6 L123.1,21.5 L125.4,21.9 L127.7,20.6 L130.1,22.0 L132.4,22.3 L134.7,24.2 L137.1,22.0 L139.4,20.8 L141.7,20.1 L144.0,19.8 L146.4,19.8 L148.7,19.6 L151.0,22.4 L153.4,22.7 L155.7,24.3 L158.0,23.2 L160.4,24.2 L162.7,26.4 L165.0,28.6 L167.3,32.7 L169.7,38.6 L172.0,40.9 L174.3,50.2 L176.7,58.2 L179.0,66.0 L181.3,72.9 L183.6,82.0 L186.0,95.1 L188.3,108.4 L190.6,115.7 L193.0,120.2 L195.3,131.6 L197.6,141.6 L199.9,151.5 L202.3,161.6 L204.6,167.3 L206.9,174.8 L209.3,182.4 L211.6,189.1 L213.9,200.7 L216.3,205.4 L218.6,213.6 L220.9,223.8 L223.2,232.3 L225.6,241.1 L227.9,249.3 L230.2,256.0 L232.6,259.1 L234.9,267.5 L237.2,271.0 L239.5,277.1 L241.9,282.1 L244.2,288.1 L246.5,293.5 L248.9,299.4 L251.2,304.1 L253.5,305.5 L255.8,312.9 L258.2,319.8 L260.5,323.4 L262.8,326.8 L265.2,332.7 L267.5,336.4 L269.8,339.5 L272.2,340.7 L274.5,344.7 L276.8,353.0 L279.1,353.1 L281.5,350.8 L283.8,358.1 L286.1,360.7 L288.5,364.2 L290.8,365.1 L293.1,364.8 L295.4,367.2 L297.8,368.2 L300.1,365.4 L302.4,366.1 L304.8,371.4 L307.1,371.4 L309.4,371.4 L311.7,371.1 L314.1,371.4 L316.4,371.4 L318.7,370.4 L321.1,369.3 L323.4,370.2 L325.7,371.3 L328.1,368.9 L330.4,369.5 L332.7,364.9 L335.0,362.0 L337.4,358.8 L339.7,360.9 L342.0,362.2 L344.4,363.6 L346.7,363.3 L349.0,366.8 L351.3,363.0 L353.7,370.8 L356.0,363.9 L358.3,363.0 L360.7,360.4 L363.0,358.4 L365.3,356.7 L367.6,354.0 L370.0,354.0 L372.3,349.7 L374.6,348.1 L377.0,345.9 L379.3,340.2 L381.6,333.0 L384.0,328.5 L386.3,325.5 L388.6,318.8 L390.9,315.5 L393.3,309.5 L395.6,305.1 L397.9,299.0 L400.3,298.1 L402.6,297.1 L404.9,295.4 L407.2,286.7 L409.6,281.4 L411.9,279.0 L414.2,272.9 L416.6,268.7 L418.9,264.8 L421.2,260.7 L423.5,258.0 L425.9,252.3 L428.2,248.4 L430.5,243.9 L432.9,236.0 L435.2,231.0 L437.5,227.1 L439.9,226.3 L442.2,223.8 L444.5,220.7 L446.8,217.4 L449.2,213.9 L451.5,211.9 L453.8,208.0 L456.2,204.8 L458.5,201.2 L460.8,198.8 L463.1,193.4 L465.5,190.9 L467.8,187.8 L470.1,180.4 L472.5,182.1 L474.8,179.4 L477.1,176.8 L479.4,175.6 L481.8,172.8 L484.1,173.4 L486.4,174.6 L488.8,175.5 L491.1,169.9 L493.4,168.7 L495.8,164.7 L498.1,163.5 L500.4,160.4 L502.7,161.8 L505.1,159.1 L507.4,160.4 L509.7,155.2 L512.1,157.2 L514.4,157.1 L516.7,149.6 L519.0,150.4 L521.4,143.3 L523.7,145.3 L526.0,143.2 L528.4,141.5 L530.7,139.0 L533.0,141.6 L535.3,140.9 L537.7,138.4 L540.0,135.8 L542.3,134.1 L544.7,132.4 L547.0,134.9 L549.3,131.3 L551.7,130.9 L554.0,130.5 L556.3,126.7 L558.6,127.3 L561.0,125.7 L563.3,127.7 L565.6,127.3 L568.0,125.4 L570.3,120.9 L572.6,121.4 L574.9,119.7 L577.3,116.2 L579.6,116.9 L581.9,116.4 L584.3,110.7 L586.6,107.3 L588.9,107.8 L591.2,107.8 L593.6,108.7 L595.9,105.9 L598.2,105.0 L600.6,107.8 L602.9,107.4 L605.2,104.3 L607.6,102.4 L609.9,100.7 L612.2,102.9 L614.5,101.8 L616.9,101.4 L619.2,96.9 L621.5,98.6 L623.9,97.6 L626.2,95.7 L628.5,94.6 L630.8,95.2 L633.2,90.9 L635.5,90.2 L637.8,91.4 L640.2,92.6 L642.5,87.7 L644.8,89.9 L647.1,88.6 L649.5,86.9 L651.8,84.3 L654.1,81.6" stroke="#00b1f5"/>
<path d="M99.8,23.8 L102.1,24.5 L104.5,27.6 L106.8,26.0 L109.1,27.7 L111.4,29.2 L113.8,27.2 L116.1,29.5 L118.4,31.1 L120.8,32.2 L123.1,31.2 L125.4,29.2 L127.7,26.9 L130.1,25.4 L132.4,26.0 L134.7,25.9 L137.1,24.6 L139.4,24.7 L141.7,26.7 L144.0,26.7 L146.4,25.7 L148.7,26.5 L151.0,28.6 L153.4,28.0 L155.7,30.0 L158.0,31.8 L160.4,31.9 L162.7,30.4 L165.0,30.5 L167.3,33.3 L169.7,34.1 L172.0,38.3 L174.3,39.0 L176.7,40.5 L179.0,47.3 L181.3,51.9 L183.6,57.5 L186.0,64.8 L188.3,72.6 L190.6,79.1 L193.0,86.2 L195.3,94.9 L197.6,100.4 L199.9,108.2 L202.3,113.5 L204.6,122.0 L206.9,129.6 L209.3,137.8 L211.6,146.5 L213.9,151.8 L216.3,158.8 L218.6,162.5 L220.9,174.0 L223.2,182.3 L225.6,189.4 L227.9,195.9 L230.2,204.4 L232.6,211.7 L234.9,217.7 L237.2,222.2 L239.5,230.1 L241.9,236.6 L244.2,245.0 L246.5,247.5 L248.9,252.5 L251.2,257.4 L253.5,258.5 L255.8,268.6 L258.2,273.4 L260.5,276.2 L262.8,288.1 L265.2,290.3 L267.5,293.0 L269.8,295.9 L272.2,302.1 L274.5,307.4 L276.8,311.5 L279.1,317.4 L281.5,321.2 L283.8,324.6 L286.1,326.7 L288.5,328.2 L290.8,329.6 L293.1,338.2 L295.4,338.2 L297.8,342.7 L300.1,345.3 L302.4,348.3 L304.8,356.5 L307.1,355.5 L309.4,359.1 L311.7,356.6 L314.1,358.2 L316.4,354.7 L318.7,356.1 L321.1,359.9 L323.4,361.5 L325.7,366.7 L328.1,365.3 L330.4,367.5 L332.7,371.1 L335.0,371.4 L337.4,370.8 L339.7,370.4 L342.0,367.7 L344.4,368.0 L346.7,366.8 L349.0,366.7 L351.3,368.5 L353.7,365.6 L356.0,365.9 L358.3,367.3 L360.7,362.9 L363.0,362.3 L365.3,358.8 L367.6,356.7 L370.0,357.1 L372.3,351.7 L374.6,353.6 L377.0,353.6 L379.3,350.3 L381.6,349.8 L384.0,346.2 L386.3,344.7 L388.6,340.8 L390.9,338.2 L393.3,336.0 L395.6,331.3 L397.9,330.8 L400.3,325.6 L402.6,324.2 L404.9,323.7 L407.2,318.6 L409.6,318.3 L411.9,315.7 L414.2,314.8 L416.6,313.6 L418.9,309.8 L421.2,311.2 L423.5,308.4 L425.9,308.9 L428.2,304.1 L430.5,303.1 L432.9,299.2 L435.2,296.6 L437.5,294.3 L439.9,293.3 L442.2,286.1 L444.5,282.7 L446.8,278.0 L449.2,276.5 L451.5,274.7 L453.8,274.5 L456.2,272.5 L458.5,265.3 L460.8,265.9 L463.1,265.7 L465.5,262.5 L467.8,258.0 L470.1,258.2 L472.5,258.2 L474.8,254.7 L477.1,254.6 L479.4,252.7 L481.8,249.6 L484.1,245.7 L486.4,249.8 L488.8,247.0 L491.1,239.8 L493.4,236.6 L495.8,234.5 L498.1,236.3 L500.4,232.2 L502.7,232.2 L505.1,227.5 L507.4,226.0 L509.7,225.6 L512.1,223.9 L514.4,221.5 L516.7,218.7 L519.0,219.9 L521.4,218.8 L523.7,217.6 L526.0,217.2 L528.4,214.7 L530.7,211.5 L533.0,209.9 L535.3,206.9 L537.7,207.4 L540.0,204.1 L542.3,202.1 L544.7,201.4 L547.0,197.6 L549.3,201.1 L551.7,196.2 L554.0,194.1 L556.3,193.7 L558.6,194.7 L561.0,193.5 L563.3,195.2 L565.6,193.0 L568.0,190.1 L570.3,190.0 L572.6,190.1 L574.9,187.8 L577.3,189.0 L579.6,188.1 L581.9,186.3 L584.3,183.5 L586.6,183.2 L588.9,181.0 L591.2,183.4 L593.6,179.7 L595.9,181.6 L598.2,180.5 L600.6,182.9 L602.9,181.0 L605.2,180.1 L607.6,172.6 L609.9,173.5 L612.2,172.6 L614.5,172.7 L616.9,171.5 L619.2,170.4 L621.5,169.0 L623.9,170.1 L626.2,168.5 L628.5,166.8 L630.8,164.1 L633.2,163.4 L635.5,165.3 L637.8,161.7 L640.2,161.0 L642.5,158.8 L644.8,155.1 L647.1,154.2 L649.5,155.9 L651.8,154.3 L654.1,150.5" stroke="#d98f00"/>
<path d="M99.8,30.9 L102.1,30.8 L104.5,30.2 L106.8,30.9 L109.1,26.2 L111.4,27.0 L113.8,25.3 L116.1,26.7 L118.4,27.9 L120.8,29.6 L123.1,27.5 L125.4,26.0 L127.7,28.0 L130.1,30.5 L132.4,28.1 L134.7,30.9 L137.1,32.4 L139.4,31.3 L141.7,30.4 L144.0,28.6 L146.4,28.9 L148.7,29.2 L151.0,29.9 L153.4,28.3 L155.7,27.4 L158.0,30.0 L160.4,28.6 L162.7,29.8 L165.0,31.6 L167.3,32.1 L169.7,35.3 L172.0,37.7 L174.3,40.0 L176.7,45.3 L179.0,50.8 L181.3,61.6 L183.6,69.9 L186.0,76.6 L188.3,88.7 L190.6,96.5 L193.0,106.5 L195.3,114.5 L197.6,121.2 L199.9,131.2 L202.3,138.8 L204.6,146.6 L206.9,157.1 L209.3,165.4 L211.6,171.6 L213.9,179.4 L216.3,190.2 L218.6,196.5 L220.9,205.0 L223.2,215.8 L225.6,222.3 L227.9,230.9 L230.2,239.8 L232.6,248.7 L234.9,254.6 L237.2,265.9 L239.5,267.8 L241.9,274.3 L244.2,280.5 L246.5,286.2 L248.9,289.0 L251.2,297.6 L253.5,302.7 L255.8,306.2 L258.2,306.7 L260.5,313.9 L262.8,317.1 L265.2,318.8 L267.5,325.2 L269.8,328.1 L272.2,333.4 L274.5,337.5 L276.8,340.3 L279.1,344.2 L281.5,348.0 L283.8,349.9 L286.1,352.1 L288.5,355.7 L290.8,357.8 L293.1,358.2 L295.4,362.1 L297.8,360.1 L300.1,360.5 L302.4,362.4 L304.8,365.4 L307.1,362.9 L309.4,362.4 L311.7,364.7 L314.1,364.2 L316.4,366.1 L318.7,369.7 L321.1,370.9 L323.4,371.4 L325.7,371.4 L328.1,371.4 L330.4,371.1 L332.7,371.4 L335.0,371.4 L337.4,370.7 L339.7,370.5 L342.0,368.3 L344.4,365.6 L346.7,362.9 L349.0,360.5 L351.3,360.9 L353.7,358.7 L356.0,356.9 L358.3,351.3 L360.7,351.7 L363.0,348.6 L365.3,344.8 L367.6,347.1 L370.0,343.6 L372.3,343.0 L374.6,342.3 L377.0,336.6 L379.3,335.3 L381.6,333.7 L384.0,330.2 L386.3,325.0 L388.6,322.7 L390.9,320.4 L393.3,314.2 L395.6,312.5 L397.9,311.0 L400.3,307.3 L402.6,303.8 L404.9,301.5 L407.2,303.6 L409.6,301.2 L411.9,298.5 L414.2,292.0 L416.6,287.3 L418.9,284.7 L421.2,279.1 L423.5,277.4 L425.9,271.8 L428.2,276.8 L430.5,272.6 L432.9,268.9 L435.2,265.6 L437.5,263.7 L439.9,261.1 L442.2,259.1 L444.5,256.5 L446.8,252.1 L449.2,248.8 L451.5,248.7 L453.8,246.2 L456.2,244.6 L458.5,239.2 L460.8,233.3 L463.1,232.0 L465.5,228.6 L467.8,229.5 L470.1,225.2 L472.5,229.9 L474.8,229.5 L477.1,228.2 L479.4,222.8 L481.8,221.4 L484.1,218.8 L486.4,216.3 L488.8,219.7 L491.1,215.4 L493.4,211.6 L495.8,210.2 L498.1,206.4 L500.4,202.7 L502.7,200.6 L505.1,199.5 L507.4,198.0 L509.7,200.7 L512.1,200.6 L514.4,196.7 L516.7,192.6 L519.0,194.7 L521.4,192.2 L523.7,192.1 L526.0,191.0 L528.4,192.3 L530.7,191.2 L533.0,187.3 L535.3,187.3 L537.7,185.0 L540.0,179.3 L542.3,179.2 L544.7,178.1 L547.0,174.0 L549.3,174.4 L551.7,177.7 L554.0,175.5 L556.3,172.3 L558.6,172.5 L561.0,170.4 L563.3,170.9 L565.6,168.3 L568.0,165.9 L570.3,163.1 L572.6,162.7 L574.9,163.2 L577.3,163.1 L579.6,157.2 L581.9,158.0 L584.3,157.3 L586.6,160.4 L588.9,160.0 L591.2,156.4 L593.6,156.2 L595.9,154.6 L598.2,156.2 L600.6,156.5 L602.9,156.4 L605.2,156.3 L607.6,157.7 L609.9,154.9 L612.2,152.7 L614.5,150.3 L616.9,149.7 L619.2,147.9 L621.5,145.3 L623.9,144.4 L626.2,144.8 L628.5,146.3 L630.8,145.6 L633.2,141.9 L635.5,141.3 L637.8,139.1 L640.2,135.6 L642.5,138.2 L644.8,138.7 L647.1,137.3 L649.5,133.5 L651.8,137.3 L654.1,135.2" stroke="#7cae00"/>
<path d="M99.8,25.9 L102.1,26.1 L104.5,27.9 L106.8,27.0 L109.1,25.3 L111.4,27.3 L113.8,25.8 L116.1,26.5 L118.4,25.7 L120.8,27.9 L123.1,25.7 L125.4,24.1 L127.7,21.5 L130.1,22.1 L132.4,21.3 L134.7,23.1 L137.1,20.9 L139.4,21.1 L141.7,22.1 L144.0,21.7 L146.4,23.2 L148.7,23.0 L151.0,23.3 L153.4,23.0 L155.7,25.9 L158.0,24.2 L160.4,23.4 L162.7,21.1 L165.0,25.7 L167.3,28.2 L169.7,28.6 L172.0,31.7 L174.3,35.6 L176.7,39.1 L179.0,44.4 L181.3,53.4 L183.6,59.1 L186.0,70.5 L188.3,78.2 L190.6,86.2 L193.0,89.4 L195.3,100.1 L197.6,107.7 L199.9,119.9 L202.3,127.5 L204.6,137.2 L206.9,142.4 L209.3,151.9 L211.6,162.7 L213.9,167.3 L216.3,178.6 L218.6,184.2 L220.9,193.1 L223.2,202.1 L225.6,207.1 L227.9,216.1 L230.2,228.2 L232.6,234.3 L234.9,239.0 L237.2,249.3 L239.5,255.8 L241.9,258.1 L244.2,268.7 L246.5,272.1 L248.9,277.2 L251.2,281.7 L253.5,286.5 L255.8,299.6 L258.2,301.9 L260.5,305.8 L262.8,311.5 L265.2,311.4 L267.5,316.7 L269.8,323.1 L272.2,320.7 L274.5,323.3 L276.8,332.3 L279.1,333.2 L281.5,341.2 L283.8,341.5 L286.1,342.4 L288.5,343.0 L290.8,344.5 L293.1,346.9 L295.4,348.8 L297.8,356.6 L300.1,358.9 L302.4,358.4 L304.8,360.2 L307.1,365.0 L309.4,363.8 L311.7,367.5 L314.1,368.1 L316.4,366.5 L318.7,368.3 L321.1,369.0 L323.4,370.8 L325.7,371.4 L328.1,371.4 L330.4,371.4 L332.7,369.0 L335.0,368.9 L337.4,366.6 L339.7,361.8 L342.0,359.0 L344.4,355.1 L346.7,355.0 L349.0,349.8 L351.3,344.6 L353.7,341.7 L356.0,338.4 L358.3,333.9 L360.7,325.9 L363.0,323.8 L365.3,323.8 L367.6,320.8 L370.0,315.5 L372.3,308.5 L374.6,307.5 L377.0,300.9 L379.3,293.7 L381.6,290.0 L384.0,285.4 L386.3,278.7 L388.6,276.0 L390.9,269.2 L393.3,268.1 L395.6,263.5 L397.9,258.7 L400.3,257.1 L402.6,252.2 L404.9,246.7 L407.2,243.1 L409.6,235.9 L411.9,229.4 L414.2,229.3 L416.6,224.4 L418.9,221.7 L421.2,218.2 L423.5,214.4 L425.9,210.7 L428.2,211.7 L430.5,204.2 L432.9,202.5 L435.2,198.9 L437.5,196.0 L439.9,190.7 L442.2,191.6 L444.5,186.3 L446.8,184.7 L449.2,181.1 L451.5,177.5 L453.8,173.7 L456.2,174.0 L458.5,168.6 L460.8,168.1 L463.1,168.0 L465.5,167.8 L467.8,167.5 L470.1,167.2 L472.5,167.4 L474.8,163.6 L477.1,159.2 L479.4,157.7 L481.8,156.0 L484.1,155.2 L486.4,155.4 L488.8,153.0 L491.1,150.6 L493.4,148.8 L495.8,145.3 L498.1,145.0 L500.4,147.1 L502.7,144.6 L505.1,141.0 L507.4,139.0 L509.7,138.0 L512.1,135.2 L514.4,133.5 L516.7,131.1 L519.0,128.9 L521.4,129.1 L523.7,127.2 L526.0,127.0 L528.4,126.1 L530.7,128.0 L533.0,126.2 L535.3,123.4 L537.7,124.1 L540.0,121.9 L542.3,119.9 L544.7,116.5 L547.0,119.5 L549.3,124.2 L551.7,119.1 L554.0,115.8 L556.3,117.7 L558.6,114.4 L561.0,116.4 L563.3,114.1 L565.6,109.7 L568.0,112.2 L570.3,107.8 L572.6,105.9 L574.9,106.8 L577.3,104.6 L579.6,103.0 L581.9,101.2 L584.3,103.4 L586.6,97.5 L588.9,95.1 L591.2,98.1 L593.6,93.6 L595.9,98.4 L598.2,95.9 L600.6,94.4 L602.9,94.1 L605.2,93.9 L607.6,91.9 L609.9,90.0 L612.2,92.6 L614.5,93.5 L616.9,89.2 L619.2,87.0 L621.5,90.6 L623.9,87.9 L626.2,87.1 L628.5,89.8 L630.8,84.7 L633.2,83.3 L635.5,83.4 L637.8,81.7 L640.2,81.9 L642.5,81.8 L644.8,80.6 L647.1,79.4 L649.5,76.9 L651.8,75.9 L654.1,80.8" stroke="#cd9600"/>
<path d="M99.8,26.4 L102.1,24.8 L104.5,21.9 L106.8,20.2 L109.1,18.7 L111.4,19.9 L113.8,20.3 L116.1,19.7 L118.4,20.7 L120.8,22.9 L123.1,21.6 L125.4,20.6 L127.7,18.7 L130.1,18.7 L132.4,19.2 L134.7,21.3 L137.1,20.9 L139.4,21.3 L141.7,20.8 L144.0,20.5 L146.4,19.2 L148.7,19.9 L151.0,19.4 L153.4,18.7 L155.7,19.3 L158.0,18.7 L160.4,20.2 L162.7,21.5 L165.0,25.2 L167.3,29.6 L169.7,32.2 L172.0,36.5 L174.3,45.6 L176.7,54.1 L179.0,63.8 L181.3,75.0 L183.6,81.5 L186.0,91.2 L188.3,103.1 L190.6,111.8 L193.0,123.2 L195.3,132.3 L197.6,145.0 L199.9,151.8 L202.3,159.6 L204.6,166.4 L206.9,178.8 L209.3,188.3 L211.6,199.0 L213.9,209.2 L216.3,215.9 L218.6,228.3 L220.9,237.6 L223.2,246.8 L225.6,255.8 L227.9,258.4 L230.2,267.6 L232.6,274.1 L234.9,280.8 L237.2,288.4 L239.5,292.4 L241.9,298.2 L244.2,305.6 L246.5,308.7 L248.9,313.4 L251.2,320.5 L253.5,322.6 L255.8,324.9 L258.2,329.5 L260.5,332.7 L262.8,340.9 L265.2,348.1 L267.5,350.5 L269.8,351.4 L272.2,355.8 L274.5,355.8 L276.8,360.2 L279.1,361.6 L281.5,360.6 L283.8,367.8 L286.1,368.1 L288.5,369.3 L290.8,368.0 L293.1,370.0 L295.4,370.0 L297.8,371.4 L300.1,371.4 L302.4,371.4 L304.8,371.4 L307.1,371.3 L309.4,369.7 L311.7,369.5 L314.1,370.8 L316.4,371.4 L318.7,371.4 L321.1,371.4 L323.4,371.4 L325.7,367.1 L328.1,368.6 L330.4,365.2 L332.7,360.7 L335.0,363.3 L337.4,359.1 L339.7,360.7 L342.0,357.2 L344.4,353.3 L346.7,350.1 L349.0,348.4 L351.3,346.1 L353.7,341.2 L356.0,339.8 L358.3,334.6 L360.7,332.2 L363.0,326.6 L365.3,322.8 L367.6,318.9 L370.0,315.7 L372.3,310.3 L374.6,307.1 L377.0,302.0 L379.3,301.2 L381.6,299.2 L384.0,293.4 L386.3,291.3 L388.6,288.1 L390.9,284.6 L393.3,277.1 L395.6,275.2 L397.9,271.8 L400.3,264.8 L402.6,265.2 L404.9,257.6 L407.2,252.4 L409.6,249.3 L411.9,246.5 L414.2,242.2 L416.6,240.9 L418.9,235.3 L421.2,231.9 L423.5,224.4 L425.9,220.5 L428.2,218.7 L430.5,216.1 L432.9,211.9 L435.2,210.4 L437.5,204.1 L439.9,199.6 L442.2,195.6 L444.5,193.3 L446.8,190.9 L449.2,191.6 L451.5,187.9 L453.8,185.5 L456.2,179.8 L458.5,178.1 L460.8,172.8 L463.1,175.4 L465.5,173.4 L467.8,168.7 L470.1,167.0 L472.5,166.3 L474.8,164.8 L477.1,163.8 L479.4,162.0 L481.8,162.9 L484.1,160.4 L486.4,156.0 L488.8,156.1 L491.1,154.7 L493.4,153.4 L495.8,149.7 L498.1,148.1 L500.4,145.8 L502.7,143.8 L505.1,144.2 L507.4,141.5 L509.7,141.9 L512.1,136.7 L514.4,137.7 L516.7,137.2 L519.0,136.4 L521.4,131.4 L523.7,129.0 L526.0,128.1 L528.4,131.0 L530.7,127.2 L533.0,128.0 L535.3,128.3 L537.7,126.9 L540.0,124.2 L542.3,122.5 L544.7,124.2 L547.0,124.8 L549.3,126.3 L551.7,122.5 L554.0,119.6 L556.3,117.9 L558.6,116.1 L561.0,113.8 L563.3,110.6 L565.6,110.4 L568.0,111.9 L570.3,113.1 L572.6,110.1 L574.9,112.4 L577.3,109.0 L579.6,106.9 L581.9,107.5 L584.3,109.4 L586.6,105.4 L588.9,108.3 L591.2,107.7 L593.6,105.5 L595.9,103.7 L598.2,102.3 L600.6,101.7 L602.9,99.4 L605.2,95.9 L607.6,92.5 L609.9,94.5 L612.2,92.2 L614.5,92.7 L616.9,90.5 L619.2,93.2 L621.5,91.9 L623.9,93.6 L626.2,89.6 L628.5,89.4 L630.8,85.4 L633.2,82.0 L635.5,87.3 L637.8,84.3 L640.2,85.3 L642.5,83.4 L644.8,82.6 L647.1,81.2 L649.5,81.4 L651.8,80.3 L654.1,82.4" stroke="#00becd"/>
<path d="M99.8,22.8 L102.1,21.5 L104.5,22.8 L106.8,22.3 L109.1,20.9 L111.4,18.7 L113.8,19.8 L116.1,18.7 L118.4,18.7 L120.8,21.0 L123.1,19.5 L125.4,20.2 L127.7,20.0 L130.1,20.1 L132.4,22.3 L134.7,21.5 L137.1,20.0 L139.4,23.1 L141.7,21.3 L144.0,24.0 L146.4,22.7 L148.7,19.6 L151.0,18.7 L153.4,19.1 L155.7,18.8 L158.0,20.2 L160.4,20.6 L162.7,19.9 L165.0,22.7 L167.3,21.3 L169.7,23.7 L172.0,25.7 L174.3,28.3 L176.7,32.0 L179.0,37.6 L181.3,42.7 L183.6,48.4 L186.0,52.0 L188.3,62.0 L190.6,71.7 L193.0,73.7 L195.3,85.2 L197.6,97.0 L199.9,104.2 L202.3,108.5 L204.6,117.2 L206.9,129.7 L209.3,135.5 L211.6,143.4 L213.9,150.7 L216.3,161.4 L218.6,170.1 L220.9,176.6 L223.2,186.4 L225.6,196.6 L227.9,201.2 L230.2,208.2 L232.6,218.0 L234.9,222.9 L237.2,230.3 L239.5,237.9 L241.9,244.8 L244.2,251.1 L246.5,253.6 L248.9,262.2 L251.2,267.8 L253.5,269.3 L255.8,274.0 L258.2,280.9 L260.5,284.6 L262.8,289.9 L265.2,296.1 L267.5,304.5 L269.8,308.9 L272.2,310.1 L274.5,316.9 L276.8,316.7 L279.1,320.8 L281.5,322.9 L283.8,326.2 L286.1,330.6 L288.5,335.9 L290.8,338.5 L293.1,339.6 L295.4,346.0 L297.8,351.3 L300.1,350.8 L302.4,352.7 L304.8,353.8 L307.1,356.0 L309.4,357.7 L311.7,360.6 L314.1,363.4 L316.4,365.3 L318.7,369.4 L321.1,369.0 L323.4,369.2 L325.7,370.8 L328.1,371.4 L330.4,371.4 L332.7,371.4 L335.0,371.4 L337.4,370.8 L339.7,370.5 L342.0,370.4 L344.4,363.9 L346.7,360.8 L349.0,360.5 L351.3,358.2 L353.7,356.0 L356.0,356.5 L358.3,352.6 L360.7,344.4 L363.0,345.7 L365.3,343.6 L367.6,342.1 L370.0,338.1 L372.3,337.1 L374.6,334.6 L377.0,330.5 L379.3,328.0 L381.6,323.0 L384.0,321.3 L386.3,316.2 L388.6,312.4 L390.9,310.4 L393.3,307.9 L395.6,302.5 L397.9,300.0 L400.3,293.7 L402.6,292.0 L404.9,288.9 L407.2,286.6 L409.6,281.3 L411.9,280.4 L414.2,274.3 L416.6,272.5 L418.9,270.7 L421.2,267.8 L423.5,257.8 L425.9,257.0 L428.2,255.7 L430.5,248.9 L432.9,246.4 L435.2,246.3 L437.5,240.0 L439.9,237.3 L442.2,234.1 L444.5,227.1 L446.8,222.5 L449.2,217.6 L451.5,216.6 L453.8,210.4 L456.2,209.9 L458.5,210.5 L460.8,208.5 L463.1,208.7 L465.5,205.2 L467.8,203.8 L470.1,200.9 L472.5,198.9 L474.8,199.3 L477.1,196.5 L479.4,195.9 L481.8,197.3 L484.1,193.5 L486.4,193.5 L488.8,193.3 L491.1,188.3 L493.4,186.5 L495.8,185.1 L498.1,178.2 L500.4,177.1 L502.7,171.7 L505.1,174.6 L507.4,171.0 L509.7,168.4 L512.1,166.5 L514.4,164.7 L516.7,162.7 L519.0,164.7 L521.4,161.6 L523.7,160.4 L526.0,159.3 L528.4,159.9 L530.7,159.2 L533.0,156.3 L535.3,155.8 L537.7,157.0 L540.0,152.2 L542.3,154.9 L544.7,153.4 L547.0,150.9 L549.3,151.3 L551.7,146.8 L554.0,147.0 L556.3,147.7 L558.6,142.8 L561.0,143.4 L563.3,139.6 L565.6,139.6 L568.0,137.5 L570.3,138.1 L572.6,137.0 L574.9,134.7 L577.3,137.2 L579.6,135.0 L581.9,131.0 L584.3,134.5 L586.6,134.5 L588.9,131.7 L591.2,132.7 L593.6,133.1 L595.9,128.3 L598.2,127.4 L600.6,126.7 L602.9,130.0 L605.2,127.0 L607.6,128.8 L609.9,124.8 L612.2,122.0 L614.5,119.6 L616.9,118.9 L619.2,117.0 L621.5,116.4 L623.9,114.0 L626.2,111.2 L628.5,113.5 L630.8,112.7 L633.2,111.6 L635.5,112.3 L637.8,112.5 L640.2,112.3 L642.5,115.0 L644.8,111.3 L647.1,108.0 L649.5,106.1 L651.8,107.9 L654.1,109.3" stroke="#e36ef6"/>
<path d="M99.8,18.7 L102.1,18.7 L104.5,18.7 L106.8,18.7 L109.1,20.8 L111.4,21.3 L113.8,20.9 L116.1,20.2 L118.4,21.1 L120.8,18.7 L123.1,19.6 L125.4,19.7 L127.7,20.8 L130.1,18.7 L132.4,19.5 L134.7,20.4 L137.1,18.7 L139.4,18.7 L141.7,18.7 L144.0,20.0 L146.4,18.7 L148.7,18.7 L151.0,18.7 L153.4,20.6 L155.7,20.8 L158.0,20.7 L160.4,23.1 L162.7,22.9 L165.0,28.3 L167.3,32.6 L169.7,38.8 L172.0,44.1 L174.3,52.1 L176.7,57.5 L179.0,66.2 L181.3,74.5 L183.6,81.8 L186.0,90.8 L188.3,95.2 L190.6,104.4 L193.0,110.7 L195.3,118.4 L197.6,124.9 L199.9,133.2 L202.3,145.8 L204.6,155.4 L206.9,164.6 L209.3,171.6 L211.6,184.5 L213.9,190.0 L216.3,200.7 L218.6,210.9 L220.9,216.9 L223.2,224.4 L225.6,225.3 L227.9,232.2 L230.2,242.9 L232.6,250.2 L234.9,253.3 L237.2,259.6 L239.5,265.5 L241.9,269.5 L244.2,274.0 L246.5,283.7 L248.9,286.7 L251.2,292.1 L253.5,297.7 L255.8,300.5 L258.2,303.6 L260.5,307.6 L262.8,312.6 L265.2,318.8 L267.5,324.0 L269.8,327.9 L272.2,335.1 L274.5,337.9 L276.8,340.9 L279.1,342.3 L281.5,346.0 L283.8,349.9 L286.1,350.3 L288.5,350.6 L290.8,353.6 L293.1,356.8 L295.4,360.7 L297.8,360.1 L300.1,363.4 L302.4,366.1 L304.8,370.1 L307.1,367.2 L309.4,367.6 L311.7,367.5 L314.1,369.6 L316.4,369.4 L318.7,367.7 L321.1,369.7 L323.4,369.1 L325.7,370.0 L328.1,371.4 L330.4,371.4 L332.7,370.1 L335.0,369.3 L337.4,369.3 L339.7,369.2 L342.0,366.6 L344.4,370.4 L346.7,368.2 L349.0,367.2 L351.3,366.8 L353.7,362.7 L356.0,360.9 L358.3,359.0 L360.7,352.9 L363.0,354.8 L365.3,350.4 L367.6,351.0 L370.0,345.6 L372.3,343.2 L374.6,340.1 L377.0,339.8 L379.3,337.2 L381.6,329.6 L384.0,328.4 L386.3,321.3 L388.6,315.7 L390.9,312.6 L393.3,309.0 L395.6,302.6 L397.9,301.1 L400.3,294.2 L402.6,292.7 L404.9,288.6 L407.2,289.2 L409.6,284.8 L411.9,283.1 L414.2,278.3 L416.6,274.9 L418.9,272.9 L421.2,268.5 L423.5,262.4 L425.9,256.6 L428.2,255.1 L430.5,248.9 L432.9,246.3 L435.2,245.8 L437.5,241.8 L439.9,235.6 L442.2,233.1 L444.5,230.8 L446.8,228.1 L449.2,222.6 L451.5,221.9 L453.8,220.5 L456.2,216.8 L458.5,211.2 L460.8,207.4 L463.1,204.2 L465.5,197.2 L467.8,197.6 L470.1,198.1 L472.5,198.5 L474.8,196.2 L477.1,190.6 L479.4,191.4 L481.8,185.0 L484.1,182.0 L486.4,177.3 L488.8,173.6 L491.1,176.6 L493.4,173.1 L495.8,169.3 L498.1,173.1 L500.4,171.9 L502.7,165.5 L505.1,164.2 L507.4,164.0 L509.7,165.7 L512.1,166.8 L514.4,164.8 L516.7,157.4 L519.0,155.1 L521.4,154.0 L523.7,153.0 L526.0,152.7 L528.4,149.7 L530.7,151.5 L533.0,147.4 L535.3,150.1 L537.7,148.4 L540.0,142.2 L542.3,143.2 L544.7,139.4 L547.0,137.6 L549.3,139.0 L551.7,137.4 L554.0,134.0 L556.3,135.3 L558.6,135.8 L561.0,135.8 L563.3,136.5 L565.6,134.7 L568.0,131.9 L570.3,131.7 L572.6,130.4 L574.9,129.7 L577.3,123.8 L579.6,122.0 L581.9,122.9 L584.3,122.2 L586.6,120.5 L588.9,119.4 L591.2,117.0 L593.6,119.6 L595.9,117.5 L598.2,115.2 L600.6,117.5 L602.9,115.4 L605.2,112.6 L607.6,111.5 L609.9,111.0 L612.2,111.3 L614.5,109.7 L616.9,105.9 L619.2,107.4 L621.5,109.5 L623.9,107.3 L626.2,101.0 L628.5,101.2 L630.8,105.2 L633.2,100.8 L635.5,100.0 L637.8,104.2 L640.2,105.5 L642.5,103.1 L644.8,105.6 L647.1,102.9 L649.5,104.1 L651.8,104.3 L654.1,105.0" stroke="#00a9ff"/>
<path d="M99.8,22.1 L102.1,18.8 L104.5,19.1 L106.8,20.4 L109.1,20.9 L111.4,19.2 L113.8,19.8 L116.1,19.9 L118.4,18.7 L120.8,18.7 L123.1,19.4 L125.4,19.7 L127.7,18.7 L130.1,20.3 L132.4,20.1 L134.7,19.1 L137.1,18.8 L139.4,18.7 L141.7,19.0 L144.0,18.7 L146.4,19.2 L148.7,21.0 L151.0,21.8 L153.4,25.9 L155.7,25.7 L158.0,22.3 L160.4,22.4 L162.7,26.6 L165.0,26.8 L167.3,30.2 L169.7,33.3 L172.0,41.0 L174.3,48.4 L176.7,54.9 L179.0,63.8 L181.3,73.6 L183.6,81.8 L186.0,86.8 L188.3,100.7 L190.6,108.9 L193.0,118.9 L195.3,125.5 L197.6,127.9 L199.9,138.9 L202.3,148.1 L204.6,154.3 L206.9,162.5 L209.3,169.7 L211.6,176.7 L213.9,185.6 L216.3,200.1 L218.6,208.3 L220.9,212.5 L223.2,220.9 L225.6,229.7 L227.9,239.1 L230.2,249.4 L232.6,257.6 L234.9,262.8 L237.2,266.2 L239.5,275.4 L241.9,281.6 L244.2,288.3 L246.5,290.9 L248.9,297.0 L251.2,301.3 L253.5,309.0 L255.8,307.3 L258.2,314.2 L260.5,317.0 L262.8,323.6 L265.2,327.0 L267.5,330.9 L269.8,331.8 L272.2,337.8 L274.5,340.3 L276.8,342.6 L279.1,347.5 L281.5,351.0 L283.8,351.1 L286.1,352.6 L288.5,352.1 L290.8,357.5 L293.1,361.4 L295.4,361.4 L297.8,365.3 L300.1,363.8 L302.4,367.6 L304.8,366.8 L307.1,371.3 L309.4,368.7 L311.7,370.6 L314.1,370.7 L316.4,371.4 L318.7,368.9 L321.1,367.7 L323.4,370.0 L325.7,371.4 L328.1,368.9 L330.4,369.6 L332.7,369.9 L335.0,369.3 L337.4,369.0 L339.7,364.7 L342.0,362.3 L344.4,361.2 L346.7,356.4 L349.0,356.2 L351.3,350.1 L353.7,348.9 L356.0,346.2 L358.3,341.3 L360.7,335.0 L363.0,330.3 L365.3,325.7 L367.6,325.5 L370.0,320.3 L372.3,315.9 L374.6,311.7 L377.0,308.6 L379.3,306.2 L381.6,299.5 L384.0,294.6 L386.3,292.6 L388.6,288.3 L390.9,284.6 L393.3,283.6 L395.6,279.3 L397.9,276.7 L400.3,267.6 L402.6,269.4 L404.9,261.0 L407.2,259.2 L409.6,255.3 L411.9,250.3 L414.2,246.4 L416.6,242.6 L418.9,240.9 L421.2,235.4 L423.5,231.8 L425.9,227.5 L428.2,225.0 L430.5,220.9 L432.9,218.5 L435.2,214.1 L437.5,211.9 L439.9,207.7 L442.2,206.2 L444.5,201.3 L446.8,197.1 L449.2,194.9 L451.5,195.2 L453.8,192.0 L456.2,188.6 L458.5,184.0 L460.8,181.1 L463.1,179.7 L465.5,175.4 L467.8,174.3 L470.1,175.2 L472.5,176.6 L474.8,175.5 L477.1,171.0 L479.4,171.6 L481.8,166.5 L484.1,166.7 L486.4,163.8 L488.8,160.7 L491.1,160.9 L493.4,157.7 L495.8,156.4 L498.1,154.9 L500.4,151.0 L502.7,149.4 L505.1,148.7 L507.4,144.5 L509.7,147.1 L512.1,147.2 L514.4,149.3 L516.7,146.7 L519.0,142.8 L521.4,142.7 L523.7,142.1 L526.0,141.3 L528.4,139.5 L530.7,136.4 L533.0,136.7 L535.3,137.6 L537.7,134.3 L540.0,128.1 L542.3,129.5 L544.7,128.4 L547.0,127.6 L549.3,125.4 L551.7,127.0 L554.0,124.4 L556.3,123.2 L558.6,123.6 L561.0,123.4 L563.3,125.9 L565.6,123.1 L568.0,118.7 L570.3,117.9 L572.6,119.3 L574.9,117.4 L577.3,114.8 L579.6,115.7 L581.9,115.8 L584.3,110.3 L586.6,113.7 L588.9,109.1 L591.2,109.2 L593.6,109.6 L595.9,105.8 L598.2,105.8 L600.6,106.0 L602.9,107.7 L605.2,108.8 L607.6,106.6 L609.9,104.6 L612.2,103.0 L614.5,104.4 L616.9,103.2 L619.2,103.2 L621.5,101.4 L623.9,101.4 L626.2,101.4 L628.5,96.7 L630.8,98.1 L633.2,96.2 L635.5,98.0 L637.8,96.1 L640.2,94.8 L642.5,90.5 L644.8,87.1 L647.1,89.1 L649.5,82.3 L651.8,83.2 L654.1,83.8" stroke="#e48800"/>
<path d="M99.8,22.2 L102.1,21.9 L104.5,19.3 L106.8,21.3 L109.1,20.0 L111.4,19.5 L113.8,22.5 L116.1,21.8 L118.4,20.2 L120.8,20.9 L123.1,21.1 L125.4,20.0 L127.7,20.3 L130.1,18.7 L132.4,18.7 L134.7,18.7 L137.1,18.7 L139.4,18.7 L141.7,18.7 L144.0,18.7 L146.4,18.7 L148.7,18.7 L151.0,18.7 L153.4,18.7 L155.7,18.7 L158.0,18.7 L160.4,18.7 L162.7,20.8 L165.0,20.7 L167.3,23.5 L169.7,24.1 L172.0,22.9 L174.3,27.5 L176.7,33.4 L179.0,39.5 L181.3,45.8 L183.6,55.8 L186.0,66.7 L188.3,74.8 L190.6,84.7 L193.0,99.4 L195.3,107.6 L197.6,118.3 L199.9,125.1 L202.3,135.2 L204.6,141.4 L206.9,153.1 L209.3,160.9 L211.6,176.6 L213.9,184.9 L216.3,192.7 L218.6,200.6 L220.9,206.9 L223.2,216.7 L225.6,222.2 L227.9,232.7 L230.2,239.4 L232.6,245.4 L234.9,251.6 L237.2,261.5 L239.5,267.8 L241.9,279.4 L244.2,285.5 L246.5,295.4 L248.9,300.0 L251.2,303.7 L253.5,308.1 L255.8,315.4 L258.2,318.7 L260.5,328.8 L262.8,329.0 L265.2,333.4 L267.5,336.5 L269.8,342.3 L272.2,343.8 L274.5,346.2 L276.8,345.7 L279.1,350.0 L281.5,353.4 L283.8,355.9 L286.1,357.1 L288.5,359.4 L290.8,361.9 L293.1,366.3 L295.4,365.7 L297.8,366.4 L300.1,363.3 L302.4,366.5 L304.8,368.1 L307.1,368.7 L309.4,368.9 L311.7,371.4 L314.1,368.3 L316.4,370.8 L318.7,371.4 L321.1,371.4 L323.4,370.5 L325.7,371.4 L328.1,368.8 L330.4,365.3 L332.7,368.9 L335.0,366.5 L337.4,367.0 L339.7,362.5 L342.0,361.6 L344.4,360.7 L346.7,358.3 L349.0,360.1 L351.3,357.8 L353.7,359.0 L356.0,360.3 L358.3,363.1 L360.7,363.9 L363.0,367.3 L365.3,368.7 L367.6,366.3 L370.0,362.3 L372.3,359.9 L374.6,360.5 L377.0,358.0 L379.3,359.3 L381.6,355.3 L384.0,349.7 L386.3,349.2 L388.6,347.9 L390.9,342.6 L393.3,339.8 L395.6,335.5 L397.9,332.7 L400.3,328.5 L402.6,327.3 L404.9,323.2 L407.2,324.6 L409.6,323.1 L411.9,317.4 L414.2,313.5 L416.6,309.2 L418.9,310.1 L421.2,299.7 L423.5,299.2 L425.9,294.8 L428.2,290.9 L430.5,286.3 L432.9,287.8 L435.2,281.8 L437.5,282.9 L439.9,280.3 L442.2,276.2 L444.5,271.0 L446.8,265.4 L449.2,259.9 L451.5,256.9 L453.8,254.2 L456.2,249.8 L458.5,248.1 L460.8,247.1 L463.1,241.8 L465.5,243.4 L467.8,240.4 L470.1,241.6 L472.5,238.4 L474.8,238.4 L477.1,234.5 L479.4,229.1 L481.8,226.3 L484.1,224.2 L486.4,220.2 L488.8,218.1 L491.1,218.5 L493.4,217.0 L495.8,216.1 L498.1,214.2 L500.4,209.0 L502.7,205.5 L505.1,204.2 L507.4,202.8 L509.7,200.3 L512.1,195.6 L514.4,194.2 L516.7,195.7 L519.0,192.2 L521.4,190.2 L523.7,191.3 L526.0,187.0 L528.4,183.4 L530.7,183.5 L533.0,182.9 L535.3,183.1 L537.7,182.4 L540.0,186.5 L542.3,179.7 L544.7,175.2 L547.0,177.8 L549.3,177.6 L551.7,170.9 L554.0,174.0 L556.3,175.0 L558.6,176.2 L561.0,171.2 L563.3,170.2 L565.6,161.8 L568.0,159.0 L570.3,159.7 L572.6,157.2 L574.9,155.1 L577.3,156.2 L579.6,153.0 L581.9,154.9 L584.3,154.3 L586.6,154.8 L588.9,152.8 L591.2,152.4 L593.6,153.9 L595.9,150.7 L598.2,151.8 L600.6,154.2 L602.9,150.1 L605.2,150.4 L607.6,148.3 L609.9,146.1 L612.2,141.1 L614.5,143.7 L616.9,141.0 L619.2,141.5 L621.5,139.3 L623.9,141.3 L626.2,140.3 L628.5,139.0 L630.8,139.6 L633.2,139.7 L635.5,135.2 L637.8,137.9 L640.2,134.1 L642.5,129.3 L644.8,127.3 L647.1,124.9 L649.5,127.1 L651.8,126.6 L654.1,124.7" stroke="#00bdd5"/>
<path d="M99.8,22.7 L102.1,21.4 L104.5,21.7 L106.8,22.3 L109.1,21.0 L111.4,22.7 L113.8,23.1 L116.1,20.6 L118.4,18.7 L120.8,20.4 L123.1,22.1 L125.4,21.1 L127.7,21.4 L130.1,22.3 L132.4,20.9 L134.7,19.3 L137.1,19.3 L139.4,19.4 L141.7,21.2 L144.0,19.8 L146.4,19.3 L148.7,21.2 L151.0,19.4 L153.4,18.7 L155.7,18.7 L158.0,18.7 L160.4,18.7 L162.7,18.7 L165.0,19.0 L167.3,20.4 L169.7,25.6 L172.0,28.3 L174.3,30.1 L176.7,35.9 L179.0,40.9 L181.3,47.4 L183.6,53.9 L186.0,60.2 L188.3,69.8 L190.6,79.9 L193.0,83.1 L195.3,92.2 L197.6,98.6 L199.9,102.4 L202.3,111.6 L204.6,123.3 L206.9,128.0 L209.3,136.8 L211.6,142.2 L213.9,152.6 L216.3,156.7 L218.6,163.5 L220.9,173.1 L223.2,179.9 L225.6,182.3 L227.9,193.3 L230.2,200.2 L232.6,202.8 L234.9,209.3 L237.2,217.8 L239.5,226.4 L241.9,231.1 L244.2,238.4 L246.5,244.0 L248.9,252.3 L251.2,257.9 L253.5,264.6 L255.8,268.7 L258.2,272.4 L260.5,279.1 L262.8,283.0 L265.2,290.1 L267.5,296.6 L269.8,299.8 L272.2,304.2 L274.5,306.8 L276.8,309.0 L279.1,312.8 L281.5,317.9 L283.8,321.1 L286.1,322.6 L288.5,328.6 L290.8,329.2 L293.1,330.5 L295.4,337.4 L297.8,337.5 L300.1,341.1 L302.4,342.7 L304.8,344.8 L307.1,349.4 L309.4,352.0 L311.7,351.4 L314.1,355.1 L316.4,357.1 L318.7,362.3 L321.1,358.2 L323.4,360.7 L325.7,363.1 L328.1,365.1 L330.4,366.3 L332.7,365.0 L335.0,371.4 L337.4,371.4 L339.7,371.2 L342.0,371.4 L344.4,371.0 L346.7,371.4 L349.0,370.2 L351.3,368.8 L353.7,368.7 L356.0,366.8 L358.3,361.5 L360.7,359.5 L363.0,357.9 L365.3,360.1 L367.6,360.3 L370.0,353.1 L372.3,351.2 L374.6,350.3 L377.0,350.4 L379.3,347.1 L381.6,346.9 L384.0,343.9 L386.3,342.6 L388.6,336.8 L390.9,333.7 L393.3,327.6 L395.6,325.4 L397.9,321.6 L400.3,322.4 L402.6,319.4 L404.9,317.8 L407.2,317.7 L409.6,315.9 L411.9,314.8 L414.2,309.7 L416.6,306.4 L418.9,305.6 L421.2,301.1 L423.5,298.2 L425.9,294.2 L428.2,291.0 L430.5,289.7 L432.9,291.1 L435.2,289.6 L437.5,284.2 L439.9,282.6 L442.2,276.0 L444.5,276.5 L446.8,271.9 L449.2,267.8 L451.5,266.8 L453.8,264.4 L456.2,261.9 L458.5,260.4 L460.8,261.5 L463.1,256.4 L465.5,258.0 L467.8,253.9 L470.1,252.4 L472.5,250.4 L474.8,243.9 L477.1,240.7 L479.4,240.4 L481.8,235.9 L484.1,232.8 L486.4,231.2 L488.8,226.5 L491.1,223.5 L493.4,222.6 L495.8,221.2 L498.1,218.8 L500.4,219.6 L502.7,217.7 L505.1,214.8 L507.4,216.1 L509.7,214.7 L512.1,216.0 L514.4,213.3 L516.7,212.9 L519.0,212.5 L521.4,211.1 L523.7,212.5 L526.0,209.7 L528.4,206.8 L530.7,203.9 L533.0,201.0 L535.3,198.0 L537.7,197.6 L540.0,198.2 L542.3,194.6 L544.7,195.0 L547.0,192.1 L549.3,193.0 L551.7,190.5 L554.0,188.9 L556.3,185.4 L558.6,186.7 L561.0,185.0 L563.3,182.8 L565.6,180.4 L568.0,178.3 L570.3,177.9 L572.6,176.8 L574.9,174.9 L577.3,175.3 L579.6,176.1 L581.9,174.9 L584.3,177.5 L586.6,177.2 L588.9,175.7 L591.2,171.7 L593.6,171.2 L595.9,173.9 L598.2,167.4 L600.6,167.5 L602.9,169.1 L605.2,169.9 L607.6,167.7 L609.9,166.6 L612.2,162.9 L614.5,165.1 L616.9,163.7 L619.2,158.2 L621.5,156.8 L623.9,157.3 L626.2,151.7 L628.5,151.4 L630.8,152.9 L633.2,151.8 L635.5,153.7 L637.8,151.8 L640.2,152.2 L642.5,149.9 L644.8,151.7 L647.1,150.7 L649.5,149.6 L651.8,149.0 L654.1,145.6" stroke="#f57a5f"/>
<path d="M99.8,32.6 L102.1,30.9 L104.5,30.8 L106.8,26.2 L109.1,27.0 L111.4,26.1 L113.8,25.8 L116.1,26.4 L118.4,27.3 L120.8,25.8 L123.1,26.4 L125.4,26.6 L127.7,26.2 L130.1,24.4 L132.4,24.1 L134.7,25.5 L137.1,25.9 L139.4,21.4 L141.7,21.2 L144.0,24.3 L146.4,25.3 L148.7,26.0 L151.0,27.6 L153.4,26.7 L155.7,25.5 L158.0,27.6 L160.4,29.0 L162.7,26.0 L165.0,27.6 L167.3,30.3 L169.7,32.0 L172.0,37.0 L174.3,41.8 L176.7,48.9 L179.0,59.7 L181.3,70.4 L183.6,80.7 L186.0,93.2 L188.3,104.7 L190.6,116.8 L193.0,124.3 L195.3,134.6 L197.6,146.4 L199.9,155.8 L202.3,167.9 L204.6,179.0 L206.9,191.0 L209.3,199.2 L211.6,206.9 L213.9,217.7 L216.3,226.2 L218.6,239.1 L220.9,246.5 L223.2,253.6 L225.6,260.7 L227.9,268.7 L230.2,276.7 L232.6,285.7 L234.9,294.5 L237.2,297.6 L239.5,306.9 L241.9,307.7 L244.2,316.1 L246.5,320.3 L248.9,329.0 L251.2,329.9 L253.5,335.0 L255.8,341.3 L258.2,340.6 L260.5,346.1 L262.8,348.7 L265.2,352.4 L267.5,357.8 L269.8,357.8 L272.2,360.8 L274.5,364.9 L276.8,364.2 L279.1,366.9 L281.5,368.5 L283.8,368.8 L286.1,369.9 L288.5,369.5 L290.8,369.6 L293.1,369.5 L295.4,365.9 L297.8,370.3 L300.1,371.3 L302.4,371.4 L304.8,370.5 L307.1,369.9 L309.4,369.4 L311.7,371.4 L314.1,366.6 L316.4,365.1 L318.7,366.0 L321.1,363.6 L323.4,364.2 L325.7,364.8 L328.1,365.3 L330.4,366.5 L332.7,366.7 L335.0,365.5 L337.4,365.3 L339.7,363.5 L342.0,364.4 L344.4,358.4 L346.7,358.1 L349.0,356.2 L351.3,351.2 L353.7,350.5 L356.0,349.8 L358.3,342.9 L360.7,341.3 L363.0,338.5 L365.3,334.2 L367.6,331.2 L370.0,325.0 L372.3,321.2 L374.6,317.0 L377.0,308.3 L379.3,309.1 L381.6,305.5 L384.0,303.1 L386.3,297.6 L388.6,295.8 L390.9,291.8 L393.3,291.6 L395.6,283.9 L397.9,280.8 L400.3,272.1 L402.6,269.9 L404.9,262.8 L407.2,261.8 L409.6,256.3 L411.9,249.0 L414.2,248.1 L416.6,243.8 L418.9,243.6 L421.2,238.6 L423.5,237.2 L425.9,230.4 L428.2,229.9 L430.5,226.3 L432.9,222.0 L435.2,222.1 L437.5,218.4 L439.9,218.2 L442.2,214.4 L444.5,212.8 L446.8,206.8 L449.2,205.4 L451.5,200.3 L453.8,198.7 L456.2,199.7 L458.5,195.1 L460.8,192.6 L463.1,189.8 L465.5,186.2 L467.8,188.4 L470.1,183.8 L472.5,181.6 L474.8,178.4 L477.1,177.1 L479.4,178.6 L481.8,174.1 L484.1,173.1 L486.4,169.5 L488.8,169.6 L491.1,165.6 L493.4,166.0 L495.8,166.6 L498.1,162.8 L500.4,160.5 L502.7,162.1 L505.1,158.5 L507.4,157.6 L509.7,155.3 L512.1,153.9 L514.4,156.3 L516.7,154.8 L519.0,150.5 L521.4,146.7 L523.7,149.5 L526.0,147.8 L528.4,145.3 L530.7,145.3 L533.0,141.5 L535.3,141.2 L537.7,139.5 L540.0,142.1 L542.3,134.9 L544.7,136.9 L547.0,134.6 L549.3,133.4 L551.7,134.4 L554.0,131.7 L556.3,132.6 L558.6,134.1 L561.0,132.0 L563.3,131.0 L565.6,129.6 L568.0,126.1 L570.3,130.1 L572.6,125.5 L574.9,127.4 L577.3,125.1 L579.6,124.7 L581.9,123.3 L584.3,125.0 L586.6,122.5 L588.9,124.8 L591.2,119.5 L593.6,116.3 L595.9,111.7 L598.2,110.7 L600.6,111.7 L602.9,113.8 L605.2,112.7 L607.6,109.4 L609.9,109.8 L612.2,108.1 L614.5,109.3 L616.9,108.8 L619.2,104.8 L621.5,106.6 L623.9,104.6 L626.2,105.7 L628.5,104.1 L630.8,102.4 L633.2,99.4 L635.5,98.7 L637.8,100.7 L640.2,97.3 L642.5,96.5 L644.8,92.6 L647.1,93.4 L649.5,96.1 L651.8,94.3 L654.1,96.1" stroke="#00bfc4"/>
<path d="M99.8,61.8 L102.1,61.8 L104.5,61.7 L106.8,61.0 L109.1,61.3 L111.4,60.4 L113.8,60.3 L116.1,59.2 L118.4,57.6 L120.8,58.2 L123.1,60.5 L125.4,56.3 L127.7,55.5 L130.1,58.1 L132.4,60.1 L134.7,59.9 L137.1,55.6 L139.4,56.2 L141.7,55.8 L144.0,58.0 L146.4,55.5 L148.7,58.2 L151.0,58.5 L153.4,59.8 L155.7,60.0 L158.0,58.5 L160.4,57.1 L162.7,57.2 L165.0,54.9 L167.3,55.1 L169.7,61.6 L172.0,67.9 L174.3,72.2 L176.7,77.1 L179.0,84.5 L181.3,95.4 L183.6,107.3 L186.0,117.0 L188.3,122.8 L190.6,130.7 L193.0,139.3 L195.3,151.6 L197.6,157.9 L199.9,165.0 L202.3,174.7 L204.6,182.4 L206.9,194.3 L209.3,201.6 L211.6,208.6 L213.9,219.4 L216.3,226.9 L218.6,235.3 L220.9,246.3 L223.2,253.9 L225.6,258.9 L227.9,268.1 L230.2,274.9 L232.6,281.8 L234.9,286.6 L237.2,295.7 L239.5,301.4 L241.9,304.8 L244.2,306.9 L246.5,311.8 L248.9,315.8 L251.2,319.1 L253.5,323.3 L255.8,332.6 L258.2,338.0 L260.5,339.7 L262.8,343.8 L265.2,345.9 L267.5,348.6 L269.8,350.6 L272.2,353.8 L274.5,354.8 L276.8,356.6 L279.1,359.8 L281.5,363.1 L283.8,361.7 L286.1,366.0 L288.5,368.1 L290.8,368.3 L293.1,371.4 L295.4,371.4 L297.8,371.4 L300.1,371.4 L302.4,371.4 L304.8,368.0 L307.1,371.4 L309.4,369.6 L311.7,366.0 L314.1,366.8 L316.4,369.7 L318.7,371.0 L321.1,368.3 L323.4,369.3 L325.7,370.4 L328.1,371.4 L330.4,371.4 L332.7,369.4 L335.0,369.8 L337.4,367.6 L339.7,367.8 L342.0,365.2 L344.4,365.8 L346.7,367.1 L349.0,366.3 L351.3,364.6 L353.7,364.7 L356.0,360.4 L358.3,359.5 L360.7,357.1 L363.0,358.6 L365.3,357.9 L367.6,351.0 L370.0,356.2 L372.3,351.6 L374.6,346.8 L377.0,347.9 L379.3,349.9 L381.6,347.6 L384.0,345.2 L386.3,345.1 L388.6,344.2 L390.9,339.1 L393.3,334.9 L395.6,333.6 L397.9,327.7 L400.3,327.4 L402.6,325.3 L404.9,325.0 L407.2,321.4 L409.6,321.5 L411.9,319.6 L414.2,315.9 L416.6,313.9 L418.9,309.0 L421.2,305.8 L423.5,308.1 L425.9,306.0 L428.2,304.1 L430.5,303.9 L432.9,305.1 L435.2,303.9 L437.5,301.7 L439.9,295.2 L442.2,297.1 L444.5,295.5 L446.8,296.6 L449.2,296.8 L451.5,292.6 L453.8,290.2 L456.2,285.9 L458.5,282.8 L460.8,279.4 L463.1,278.4 L465.5,275.1 L467.8,274.4 L470.1,274.0 L472.5,273.1 L474.8,270.5 L477.1,267.4 L479.4,265.5 L481.8,261.3 L484.1,261.3 L486.4,257.3 L488.8,257.4 L491.1,257.4 L493.4,255.0 L495.8,253.0 L498.1,251.2 L500.4,244.2 L502.7,244.8 L505.1,240.1 L507.4,241.5 L509.7,238.0 L512.1,238.5 L514.4,237.2 L516.7,236.8 L519.0,231.6 L521.4,232.7 L523.7,230.1 L526.0,231.3 L528.4,232.1 L530.7,227.7 L533.0,226.9 L535.3,225.3 L537.7,225.5 L540.0,224.4 L542.3,219.6 L544.7,221.1 L547.0,221.1 L549.3,221.4 L551.7,214.8 L554.0,213.0 L556.3,209.9 L558.6,212.6 L561.0,210.3 L563.3,208.1 L565.6,211.1 L568.0,209.3 L570.3,210.6 L572.6,210.7 L574.9,210.2 L577.3,209.2 L579.6,205.9 L581.9,210.3 L584.3,208.4 L586.6,202.5 L588.9,199.4 L591.2,200.7 L593.6,198.8 L595.9,197.1 L598.2,196.4 L600.6,192.5 L602.9,193.9 L605.2,190.5 L607.6,193.0 L609.9,192.8 L612.2,189.8 L614.5,189.3 L616.9,190.9 L619.2,189.3 L621.5,187.7 L623.9,185.5 L626.2,188.7 L628.5,185.8 L630.8,184.2 L633.2,183.8 L635.5,182.5 L637.8,180.9 L640.2,175.7 L642.5,176.7 L644.8,178.5 L647.1,180.0 L649.5,180.9 L651.8,176.7 L654.1,174.9" stroke="#ea6af1"/>
<path d="M99.8,20.6 L102.1,18.7 L104.5,19.0 L106.8,18.7 L109.1,18.8 L111.4,19.5 L113.8,18.9 L116.1,19.9 L118.4,20.8 L120.8,20.7 L123.1,22.3 L125.4,20.7 L127.7,22.1 L130.1,19.7 L132.4,19.8 L134.7,19.1 L137.1,20.0 L139.4,22.4 L141.7,22.8 L144.0,22.2 L146.4,20.9 L148.7,18.7 L151.0,18.7 L153.4,18.7 L155.7,18.7 L158.0,18.7 L160.4,20.6 L162.7,19.4 L165.0,20.6 L167.3,24.2 L169.7,25.9 L172.0,28.1 L174.3,34.0 L176.7,39.4 L179.0,43.7 L181.3,52.3 L183.6,58.8 L186.0,70.1 L188.3,76.5 L190.6,83.2 L193.0,94.4 L195.3,100.8 L197.6,111.5 L199.9,116.3 L202.3,128.7 L204.6,133.1 L206.9,141.9 L209.3,151.5 L211.6,159.9 L213.9,166.3 L216.3,178.4 L218.6,187.3 L220.9,193.3 L223.2,204.3 L225.6,210.2 L227.9,217.5 L230.2,226.5 L232.6,232.7 L234.9,239.6 L237.2,247.9 L239.5,251.2 L241.9,257.5 L244.2,261.0 L246.5,270.0 L248.9,275.7 L251.2,282.5 L253.5,286.4 L255.8,291.8 L258.2,299.6 L260.5,305.4 L262.8,309.9 L265.2,314.3 L267.5,320.3 L269.8,324.1 L272.2,324.4 L274.5,329.5 L276.8,330.0 L279.1,334.8 L281.5,337.1 L283.8,340.2 L286.1,344.7 L288.5,345.8 L290.8,349.8 L293.1,351.8 L295.4,353.4 L297.8,356.6 L300.1,359.6 L302.4,362.7 L304.8,361.6 L307.1,360.4 L309.4,366.6 L311.7,370.2 L314.1,366.7 L316.4,366.9 L318.7,366.2 L321.1,369.9 L323.4,370.9 L325.7,371.4 L328.1,371.4 L330.4,371.2 L332.7,371.4 L335.0,371.4 L337.4,370.7 L339.7,367.8 L342.0,371.4 L344.4,368.8 L346.7,367.6 L349.0,369.8 L351.3,366.3 L353.7,369.3 L356.0,370.2 L358.3,368.1 L360.7,369.6 L363.0,369.3 L365.3,367.0 L367.6,365.9 L370.0,362.8 L372.3,361.5 L374.6,359.2 L377.0,358.3 L379.3,351.7 L381.6,350.0 L384.0,350.4 L386.3,346.2 L388.6,349.9 L390.9,343.3 L393.3,343.3 L395.6,341.3 L397.9,333.6 L400.3,333.0 L402.6,333.5 L404.9,331.3 L407.2,330.2 L409.6,330.5 L411.9,329.1 L414.2,323.2 L416.6,323.3 L418.9,318.1 L421.2,316.7 L423.5,316.2 L425.9,314.0 L428.2,308.8 L430.5,305.9 L432.9,303.3 L435.2,300.3 L437.5,295.7 L439.9,297.4 L442.2,292.1 L444.5,289.1 L446.8,290.0 L449.2,287.2 L451.5,285.0 L453.8,284.5 L456.2,283.1 L458.5,277.0 L460.8,276.1 L463.1,274.6 L465.5,272.1 L467.8,269.2 L470.1,267.7 L472.5,268.9 L474.8,264.2 L477.1,261.8 L479.4,258.4 L481.8,255.0 L484.1,253.9 L486.4,254.8 L488.8,253.7 L491.1,248.3 L493.4,244.5 L495.8,245.1 L498.1,248.6 L500.4,245.1 L502.7,243.6 L505.1,242.9 L507.4,237.8 L509.7,239.6 L512.1,235.8 L514.4,233.2 L516.7,233.5 L519.0,234.4 L521.4,227.9 L523.7,224.5 L526.0,224.5 L528.4,220.9 L530.7,223.6 L533.0,223.9 L535.3,219.0 L537.7,213.4 L540.0,212.5 L542.3,210.8 L544.7,206.8 L547.0,206.9 L549.3,201.8 L551.7,204.0 L554.0,202.1 L556.3,203.1 L558.6,206.0 L561.0,201.2 L563.3,198.6 L565.6,197.7 L568.0,201.3 L570.3,199.8 L572.6,198.9 L574.9,196.0 L577.3,194.6 L579.6,194.4 L581.9,196.6 L584.3,194.8 L586.6,192.5 L588.9,192.2 L591.2,183.7 L593.6,183.2 L595.9,184.7 L598.2,182.3 L600.6,181.8 L602.9,182.7 L605.2,182.1 L607.6,180.6 L609.9,182.1 L612.2,180.1 L614.5,177.2 L616.9,175.7 L619.2,175.0 L621.5,175.1 L623.9,172.9 L626.2,172.7 L628.5,172.6 L630.8,169.9 L633.2,170.6 L635.5,169.4 L637.8,169.2 L640.2,167.8 L642.5,165.7 L644.8,164.9 L647.1,165.8 L649.5,166.5 L651.8,165.8 L654.1,166.0" stroke="#ff699c"/>
<path d="M99.8,21.4 L102.1,18.7 L104.5,20.7 L106.8,21.3 L109.1,20.8 L111.4,21.2 L113.8,21.4 L116.1,23.9 L118.4,21.9 L120.8,24.4 L123.1,22.0 L125.4,20.8 L127.7,21.0 L130.1,20.0 L132.4,20.8 L134.7,22.2 L137.1,18.7 L139.4,18.7 L141.7,18.7 L144.0,18.7 L146.4,20.5 L148.7,19.4 L151.0,20.8 L153.4,21.5 L155.7,21.8 L158.0,21.5 L160.4,22.2 L162.7,24.8 L165.0,25.4 L167.3,25.7 L169.7,27.9 L172.0,31.3 L174.3,36.4 L176.7,41.4 L179.0,48.3 L181.3,55.9 L183.6,66.4 L186.0,77.1 L188.3,85.0 L190.6,91.9 L193.0,101.3 L195.3,111.5 L197.6,118.6 L199.9,130.2 L202.3,138.1 L204.6,145.6 L206.9,152.9 L209.3,163.7 L211.6,169.4 L213.9,179.0 L216.3,189.1 L218.6,196.6 L220.9,207.2 L223.2,210.1 L225.6,216.5 L227.9,223.0 L230.2,233.5 L232.6,237.4 L234.9,247.0 L237.2,250.9 L239.5,257.4 L241.9,263.7 L244.2,265.7 L246.5,274.3 L248.9,281.5 L251.2,289.1 L253.5,292.2 L255.8,298.4 L258.2,306.4 L260.5,310.7 L262.8,313.5 L265.2,314.4 L267.5,320.8 L269.8,322.9 L272.2,326.8 L274.5,334.1 L276.8,336.2 L279.1,338.3 L281.5,341.8 L283.8,343.6 L286.1,348.8 L288.5,346.6 L290.8,352.5 L293.1,355.2 L295.4,355.8 L297.8,355.3 L300.1,359.9 L302.4,361.0 L304.8,362.6 L307.1,361.8 L309.4,364.5 L311.7,368.2 L314.1,368.8 L316.4,371.4 L318.7,371.4 L321.1,369.3 L323.4,370.6 L325.7,371.4 L328.1,371.4 L330.4,371.4 L332.7,371.4 L335.0,371.4 L337.4,371.4 L339.7,371.4 L342.0,368.8 L344.4,371.1 L346.7,369.8 L349.0,364.2 L351.3,365.6 L353.7,361.8 L356.0,363.7 L358.3,362.8 L360.7,360.0 L363.0,360.1 L365.3,359.3 L367.6,355.4 L370.0,354.2 L372.3,353.4 L374.6,351.7 L377.0,351.0 L379.3,344.0 L381.6,340.0 L384.0,335.8 L386.3,336.1 L388.6,332.8 L390.9,330.8 L393.3,328.9 L395.6,325.7 L397.9,326.8 L400.3,321.4 L402.6,317.2 L404.9,317.6 L407.2,318.8 L409.6,318.1 L411.9,316.7 L414.2,311.9 L416.6,309.1 L418.9,304.6 L421.2,306.0 L423.5,298.5 L425.9,298.4 L428.2,296.2 L430.5,295.4 L432.9,293.8 L435.2,288.4 L437.5,282.8 L439.9,284.9 L442.2,281.4 L444.5,278.6 L446.8,273.3 L449.2,274.4 L451.5,271.3 L453.8,267.9 L456.2,267.4 L458.5,265.9 L460.8,261.3 L463.1,258.5 L465.5,259.7 L467.8,255.9 L470.1,252.6 L472.5,252.7 L474.8,252.9 L477.1,250.2 L479.4,248.3 L481.8,244.3 L484.1,246.2 L486.4,243.1 L488.8,242.1 L491.1,244.3 L493.4,238.6 L495.8,234.8 L498.1,228.3 L500.4,230.4 L502.7,226.6 L505.1,224.3 L507.4,224.8 L509.7,227.7 L512.1,220.1 L514.4,217.8 L516.7,217.6 L519.0,214.8 L521.4,214.8 L523.7,215.8 L526.0,211.3 L528.4,209.3 L530.7,209.7 L533.0,208.9 L535.3,208.4 L537.7,207.8 L540.0,204.0 L542.3,201.7 L544.7,196.2 L547.0,200.1 L549.3,195.5 L551.7,197.4 L554.0,192.1 L556.3,193.4 L558.6,195.2 L561.0,192.8 L563.3,193.5 L565.6,191.4 L568.0,188.9 L570.3,190.6 L572.6,185.6 L574.9,185.0 L577.3,182.0 L579.6,180.4 L581.9,178.5 L584.3,179.1 L586.6,178.9 L588.9,181.1 L591.2,181.5 L593.6,180.1 L595.9,178.3 L598.2,179.0 L600.6,180.1 L602.9,175.1 L605.2,175.9 L607.6,171.2 L609.9,172.5 L612.2,169.8 L614.5,166.6 L616.9,165.0 L619.2,165.3 L621.5,162.7 L623.9,159.8 L626.2,159.9 L628.5,161.0 L630.8,161.5 L633.2,163.4 L635.5,159.6 L637.8,155.5 L640.2,154.3 L642.5,157.0 L644.8,158.0 L647.1,158.1 L649.5,154.3 L651.8,153.8 L654.1,152.1" stroke="#ff6c91"/>
<path d="M99.8,25.7 L102.1,24.6 L104.5,24.6 L106.8,24.2 L109.1,24.4 L111.4,25.2 L113.8,23.1 L116.1,22.9 L118.4,20.5 L120.8,23.1 L123.1,22.1 L125.4,22.9 L127.7,21.4 L130.1,22.8 L132.4,23.9 L134.7,21.5 L137.1,22.3 L139.4,22.4 L141.7,22.4 L144.0,22.6 L146.4,22.6 L148.7,21.7 L151.0,23.7 L153.4,23.9 L155.7,25.2 L158.0,23.2 L160.4,23.7 L162.7,24.7 L165.0,25.8 L167.3,26.9 L169.7,27.7 L172.0,30.6 L174.3,33.7 L176.7,38.2 L179.0,42.7 L181.3,49.7 L183.6,55.2 L186.0,62.1 L188.3,70.7 L190.6,79.2 L193.0,88.8 L195.3,100.3 L197.6,105.2 L199.9,110.3 L202.3,119.2 L204.6,126.6 L206.9,136.1 L209.3,145.3 L211.6,151.3 L213.9,157.7 L216.3,168.1 L218.6,175.9 L220.9,184.5 L223.2,194.8 L225.6,200.2 L227.9,205.1 L230.2,212.2 L232.6,225.0 L234.9,232.3 L237.2,237.5 L239.5,241.4 L241.9,248.5 L244.2,254.4 L246.5,261.2 L248.9,267.3 L251.2,273.5 L253.5,281.9 L255.8,288.6 L258.2,292.5 L260.5,296.2 L262.8,302.1 L265.2,306.7 L267.5,310.2 L269.8,315.3 L272.2,318.3 L274.5,318.8 L276.8,319.1 L279.1,324.4 L281.5,329.7 L283.8,332.1 L286.1,337.7 L288.5,340.6 L290.8,344.6 L293.1,347.3 L295.4,351.6 L297.8,353.5 L300.1,356.6 L302.4,357.2 L304.8,363.8 L307.1,358.3 L309.4,362.2 L311.7,362.3 L314.1,363.3 L316.4,364.1 L318.7,367.9 L321.1,369.8 L323.4,366.5 L325.7,366.6 L328.1,371.4 L330.4,370.3 L332.7,371.4 L335.0,371.4 L337.4,371.4 L339.7,371.4 L342.0,371.4 L344.4,371.4 L346.7,369.5 L349.0,365.3 L351.3,363.3 L353.7,360.2 L356.0,360.6 L358.3,357.4 L360.7,353.9 L363.0,353.2 L365.3,352.7 L367.6,347.6 L370.0,346.7 L372.3,343.5 L374.6,340.9 L377.0,338.0 L379.3,333.2 L381.6,331.2 L384.0,327.5 L386.3,323.1 L388.6,324.1 L390.9,314.9 L393.3,313.2 L395.6,310.8 L397.9,303.6 L400.3,305.4 L402.6,304.1 L404.9,299.7 L407.2,288.2 L409.6,285.7 L411.9,280.8 L414.2,280.6 L416.6,274.6 L418.9,275.7 L421.2,272.2 L423.5,269.3 L425.9,264.5 L428.2,257.4 L430.5,255.3 L432.9,249.0 L435.2,245.2 L437.5,244.2 L439.9,243.4 L442.2,238.4 L444.5,233.1 L446.8,232.4 L449.2,229.8 L451.5,225.0 L453.8,221.6 L456.2,221.2 L458.5,217.5 L460.8,214.0 L463.1,209.8 L465.5,208.7 L467.8,206.0 L470.1,204.1 L472.5,206.1 L474.8,198.6 L477.1,199.5 L479.4,195.8 L481.8,197.1 L484.1,193.0 L486.4,192.1 L488.8,188.8 L491.1,187.8 L493.4,184.5 L495.8,185.0 L498.1,181.0 L500.4,176.2 L502.7,176.6 L505.1,177.2 L507.4,176.9 L509.7,176.1 L512.1,173.4 L514.4,172.5 L516.7,170.7 L519.0,169.8 L521.4,166.6 L523.7,168.7 L526.0,165.5 L528.4,163.9 L530.7,161.9 L533.0,157.2 L535.3,157.8 L537.7,152.8 L540.0,152.6 L542.3,147.7 L544.7,146.7 L547.0,146.5 L549.3,142.5 L551.7,147.3 L554.0,144.3 L556.3,144.7 L558.6,141.4 L561.0,139.2 L563.3,143.6 L565.6,147.0 L568.0,147.0 L570.3,143.5 L572.6,142.4 L574.9,142.5 L577.3,141.6 L579.6,134.8 L581.9,141.7 L584.3,139.2 L586.6,135.8 L588.9,131.7 L591.2,132.7 L593.6,129.6 L595.9,130.6 L598.2,128.2 L600.6,127.8 L602.9,124.8 L605.2,120.9 L607.6,116.7 L609.9,115.5 L612.2,112.0 L614.5,117.5 L616.9,119.7 L619.2,113.5 L621.5,115.7 L623.9,113.8 L626.2,117.9 L628.5,116.7 L630.8,111.8 L633.2,113.7 L635.5,110.5 L637.8,109.8 L640.2,108.9 L642.5,107.6 L644.8,111.8 L647.1,109.9 L649.5,111.0 L651.8,110.8 L654.1,109.1" stroke="#00bc5a"/>
<path d="M99.8,28.7 L102.1,29.0 L104.5,27.8 L106.8,30.5 L109.1,29.7 L111.4,31.9 L113.8,31.6 L116.1,32.2 L118.4,31.1 L120.8,31.1 L123.1,31.1 L125.4,31.3 L127.7,30.7 L130.1,27.4 L132.4,27.4 L134.7,32.3 L137.1,31.8 L139.4,29.2 L141.7,28.7 L144.0,27.0 L146.4,28.9 L148.7,27.1 L151.0,27.9 L153.4,29.2 L155.7,30.9 L158.0,33.6 L160.4,32.9 L162.7,32.8 L165.0,32.2 L167.3,36.1 L169.7,35.1 L172.0,37.9 L174.3,40.9 L176.7,47.1 L179.0,52.7 L181.3,54.5 L183.6,60.9 L186.0,69.7 L188.3,71.2 L190.6,82.8 L193.0,88.2 L195.3,100.1 L197.6,109.3 L199.9,118.9 L202.3,126.9 L204.6,135.0 L206.9,147.8 L209.3,153.9 L211.6,164.2 L213.9,175.9 L216.3,182.7 L218.6,187.9 L220.9,198.0 L223.2,204.9 L225.6,212.1 L227.9,219.0 L230.2,225.5 L232.6,235.0 L234.9,242.5 L237.2,248.2 L239.5,252.9 L241.9,260.3 L244.2,264.4 L246.5,269.7 L248.9,277.7 L251.2,280.1 L253.5,286.5 L255.8,291.0 L258.2,297.9 L260.5,304.7 L262.8,307.4 L265.2,312.7 L267.5,319.9 L269.8,324.4 L272.2,328.1 L274.5,332.0 L276.8,335.4 L279.1,336.6 L281.5,339.0 L283.8,343.6 L286.1,349.2 L288.5,351.4 L290.8,352.9 L293.1,354.0 L295.4,355.2 L297.8,355.9 L300.1,355.2 L302.4,360.9 L304.8,360.4 L307.1,364.7 L309.4,365.0 L311.7,365.1 L314.1,365.4 L316.4,365.7 L318.7,365.9 L321.1,366.2 L323.4,371.4 L325.7,371.4 L328.1,370.0 L330.4,369.2 L332.7,368.3 L335.0,370.6 L337.4,370.1 L339.7,371.4 L342.0,367.8 L344.4,366.6 L346.7,361.4 L349.0,355.9 L351.3,358.9 L353.7,355.0 L356.0,353.4 L358.3,349.2 L360.7,345.9 L363.0,342.7 L365.3,336.8 L367.6,335.6 L370.0,335.8 L372.3,333.5 L374.6,331.4 L377.0,327.5 L379.3,319.3 L381.6,318.5 L384.0,314.4 L386.3,311.3 L388.6,308.0 L390.9,301.0 L393.3,299.3 L395.6,296.2 L397.9,292.6 L400.3,286.3 L402.6,280.7 L404.9,275.1 L407.2,269.2 L409.6,268.5 L411.9,265.9 L414.2,261.3 L416.6,257.5 L418.9,253.9 L421.2,249.6 L423.5,250.2 L425.9,247.1 L428.2,242.9 L430.5,237.4 L432.9,232.1 L435.2,230.5 L437.5,233.1 L439.9,228.6 L442.2,227.3 L444.5,219.3 L446.8,215.0 L449.2,211.2 L451.5,207.3 L453.8,206.9 L456.2,204.4 L458.5,200.9 L460.8,196.0 L463.1,195.5 L465.5,194.1 L467.8,191.3 L470.1,191.9 L472.5,190.8 L474.8,188.4 L477.1,184.4 L479.4,185.7 L481.8,182.8 L484.1,179.7 L486.4,174.4 L488.8,172.4 L491.1,169.6 L493.4,169.4 L495.8,168.6 L498.1,166.0 L500.4,164.0 L502.7,160.7 L505.1,163.0 L507.4,162.9 L509.7,164.8 L512.1,163.9 L514.4,166.1 L516.7,159.4 L519.0,159.7 L521.4,157.3 L523.7,156.7 L526.0,154.5 L528.4,155.2 L530.7,149.9 L533.0,150.7 L535.3,148.8 L537.7,147.3 L540.0,150.1 L542.3,151.0 L544.7,149.8 L547.0,146.2 L549.3,142.7 L551.7,142.6 L554.0,141.4 L556.3,138.6 L558.6,137.1 L561.0,134.3 L563.3,133.4 L565.6,134.7 L568.0,133.7 L570.3,130.6 L572.6,131.3 L574.9,130.7 L577.3,127.4 L579.6,126.6 L581.9,123.7 L584.3,121.9 L586.6,122.6 L588.9,118.1 L591.2,119.5 L593.6,123.0 L595.9,122.7 L598.2,121.6 L600.6,119.8 L602.9,115.8 L605.2,115.8 L607.6,116.7 L609.9,112.8 L612.2,107.7 L614.5,109.7 L616.9,108.8 L619.2,109.8 L621.5,107.4 L623.9,106.8 L626.2,109.1 L628.5,110.2 L630.8,106.4 L633.2,105.9 L635.5,105.3 L637.8,103.8 L640.2,102.5 L642.5,101.1 L644.8,102.8 L647.1,103.4 L649.5,102.3 L651.8,100.7 L654.1,100.7" stroke="#00ba38"/>
<path d="M99.8,26.4 L102.1,25.3 L104.5,24.8 L106.8,26.2 L109.1,25.2 L111.4,22.9 L113.8,24.0 L116.1,21.0 L118.4,22.7 L120.8,23.7 L123.1,22.2 L125.4,20.4 L127.7,22.8 L130.1,22.6 L132.4,19.9 L134.7,20.9 L137.1,21.7 L139.4,23.3 L141.7,23.3 L144.0,21.4 L146.4,24.0 L148.7,20.2 L151.0,20.8 L153.4,21.4 L155.7,22.8 L158.0,23.6 L160.4,22.6 L162.7,24.2 L165.0,25.5 L167.3,30.8 L169.7,35.0 L172.0,36.6 L174.3,42.8 L176.7,47.9 L179.0,53.0 L181.3,60.3 L183.6,70.8 L186.0,80.8 L188.3,89.3 L190.6,95.7 L193.0,104.9 L195.3,114.4 L197.6,122.5 L199.9,128.8 L202.3,137.5 L204.6,148.8 L206.9,155.4 L209.3,163.9 L211.6,173.4 L213.9,182.6 L216.3,190.2 L218.6,198.4 L220.9,207.1 L223.2,210.9 L225.6,221.0 L227.9,228.8 L230.2,237.7 L232.6,241.7 L234.9,249.8 L237.2,257.7 L239.5,262.1 L241.9,270.2 L244.2,280.9 L246.5,287.5 L248.9,291.7 L251.2,296.8 L253.5,301.3 L255.8,305.1 L258.2,308.6 L260.5,311.5 L262.8,317.5 L265.2,320.0 L267.5,325.6 L269.8,328.5 L272.2,333.4 L274.5,335.3 L276.8,339.8 L279.1,344.0 L281.5,345.2 L283.8,345.5 L286.1,350.6 L288.5,348.7 L290.8,352.6 L293.1,354.7 L295.4,357.8 L297.8,358.7 L300.1,364.2 L302.4,366.9 L304.8,368.4 L307.1,368.9 L309.4,369.0 L311.7,367.8 L314.1,367.5 L316.4,367.3 L318.7,369.2 L321.1,367.2 L323.4,367.8 L325.7,370.0 L328.1,371.4 L330.4,371.4 L332.7,371.4 L335.0,370.4 L337.4,370.9 L339.7,368.4 L342.0,368.6 L344.4,368.4 L346.7,369.5 L349.0,368.1 L351.3,370.3 L353.7,370.7 L356.0,367.5 L358.3,368.4 L360.7,367.1 L363.0,366.0 L365.3,362.4 L367.6,360.4 L370.0,355.3 L372.3,350.2 L374.6,348.7 L377.0,346.4 L379.3,341.7 L381.6,343.4 L384.0,336.7 L386.3,338.3 L388.6,334.1 L390.9,331.1 L393.3,329.9 L395.6,329.8 L397.9,323.8 L400.3,321.9 L402.6,314.1 L404.9,312.1 L407.2,308.5 L409.6,308.1 L411.9,302.9 L414.2,294.1 L416.6,292.8 L418.9,289.0 L421.2,285.4 L423.5,284.2 L425.9,280.2 L428.2,280.7 L430.5,275.1 L432.9,271.1 L435.2,267.2 L437.5,266.1 L439.9,262.9 L442.2,259.9 L444.5,254.8 L446.8,252.8 L449.2,254.1 L451.5,248.7 L453.8,244.1 L456.2,240.8 L458.5,237.5 L460.8,234.5 L463.1,233.2 L465.5,231.9 L467.8,222.7 L470.1,220.7 L472.5,222.4 L474.8,218.5 L477.1,220.9 L479.4,221.4 L481.8,215.4 L484.1,214.6 L486.4,212.6 L488.8,207.8 L491.1,208.6 L493.4,204.5 L495.8,203.1 L498.1,202.3 L500.4,200.4 L502.7,199.9 L505.1,198.6 L507.4,196.7 L509.7,195.5 L512.1,192.2 L514.4,193.7 L516.7,187.2 L519.0,186.7 L521.4,183.0 L523.7,183.0 L526.0,177.4 L528.4,178.4 L530.7,178.2 L533.0,176.9 L535.3,176.0 L537.7,173.6 L540.0,175.6 L542.3,172.1 L544.7,169.1 L547.0,165.5 L549.3,163.3 L551.7,162.8 L554.0,163.5 L556.3,161.2 L558.6,159.7 L561.0,158.3 L563.3,158.5 L565.6,156.8 L568.0,156.9 L570.3,155.4 L572.6,158.0 L574.9,154.7 L577.3,155.5 L579.6,153.5 L581.9,146.3 L584.3,149.7 L586.6,149.1 L588.9,149.6 L591.2,147.9 L593.6,149.8 L595.9,144.8 L598.2,145.3 L600.6,141.7 L602.9,140.3 L605.2,140.2 L607.6,135.9 L609.9,141.1 L612.2,139.0 L614.5,137.8 L616.9,137.4 L619.2,132.6 L621.5,132.1 L623.9,134.1 L626.2,132.2 L628.5,131.6 L630.8,132.3 L633.2,130.4 L635.5,130.5 L637.8,131.1 L640.2,133.0 L642.5,130.2 L644.8,129.6 L647.1,126.2 L649.5,125.5 L651.8,127.9 L654.1,129.5" stroke="#a6a400"/>
<path d="M99.8,25.5 L102.1,23.9 L104.5,24.8 L106.8,24.9 L109.1,26.4 L111.4,25.6 L113.8,26.7 L116.1,26.2 L118.4,25.7 L120.8,24.9 L123.1,26.7 L125.4,26.9 L127.7,26.2 L130.1,27.4 L132.4,25.1 L134.7,25.3 L137.1,24.3 L139.4,24.9 L141.7,25.0 L144.0,26.0 L146.4,27.6 L148.7,26.9 L151.0,26.7 L153.4,27.5 L155.7,26.9 L158.0,28.6 L160.4,26.6 L162.7,29.2 L165.0,32.1 L167.3,32.3 L169.7,35.3 L172.0,36.6 L174.3,40.7 L176.7,47.9 L179.0,55.9 L181.3,67.1 L183.6,73.0 L186.0,83.5 L188.3,91.4 L190.6,101.5 L193.0,109.2 L195.3,115.4 L197.6,126.2 L199.9,133.3 L202.3,143.7 L204.6,157.4 L206.9,164.2 L209.3,173.4 L211.6,181.9 L213.9,189.3 L216.3,198.8 L218.6,207.5 L220.9,217.9 L223.2,223.0 L225.6,228.7 L227.9,238.6 L230.2,244.8 L232.6,252.1 L234.9,260.8 L237.2,261.9 L239.5,272.4 L241.9,278.5 L244.2,286.8 L246.5,292.7 L248.9,297.7 L251.2,301.5 L253.5,305.7 L255.8,311.4 L258.2,315.7 L260.5,318.2 L262.8,323.3 L265.2,325.9 L267.5,328.3 L269.8,334.5 L272.2,338.1 L274.5,341.6 L276.8,344.7 L279.1,346.5 L281.5,348.6 L283.8,354.9 L286.1,353.1 L288.5,357.4 L290.8,357.6 L293.1,358.1 L295.4,361.1 L297.8,363.9 L300.1,365.9 L302.4,363.7 L304.8,368.4 L307.1,368.0 L309.4,366.6 L311.7,365.4 L314.1,369.7 L316.4,371.2 L318.7,367.5 L321.1,368.4 L323.4,368.9 L325.7,368.2 L328.1,364.9 L330.4,371.3 L332.7,366.8 L335.0,367.9 L337.4,370.4 L339.7,370.8 L342.0,367.1 L344.4,368.2 L346.7,366.0 L349.0,360.5 L351.3,358.1 L353.7,359.6 L356.0,356.4 L358.3,354.4 L360.7,351.4 L363.0,348.4 L365.3,345.9 L367.6,341.2 L370.0,338.7 L372.3,337.1 L374.6,332.8 L377.0,327.0 L379.3,323.5 L381.6,322.0 L384.0,323.7 L386.3,316.0 L388.6,309.8 L390.9,303.9 L393.3,300.9 L395.6,296.7 L397.9,294.2 L400.3,294.4 L402.6,288.5 L404.9,281.6 L407.2,277.8 L409.6,277.0 L411.9,274.5 L414.2,273.1 L416.6,266.8 L418.9,264.6 L421.2,258.4 L423.5,255.0 L425.9,258.5 L428.2,251.5 L430.5,251.8 L432.9,245.2 L435.2,246.6 L437.5,242.7 L439.9,241.3 L442.2,237.7 L444.5,237.3 L446.8,232.4 L449.2,228.0 L451.5,225.2 L453.8,222.4 L456.2,221.8 L458.5,220.0 L460.8,218.8 L463.1,214.0 L465.5,209.1 L467.8,209.3 L470.1,208.7 L472.5,210.2 L474.8,202.3 L477.1,207.3 L479.4,208.0 L481.8,201.5 L484.1,201.9 L486.4,195.9 L488.8,197.4 L491.1,194.3 L493.4,192.2 L495.8,192.0 L498.1,188.4 L500.4,184.9 L502.7,188.2 L505.1,185.1 L507.4,179.8 L509.7,181.5 L512.1,179.3 L514.4,179.0 L516.7,179.4 L519.0,176.2 L521.4,176.8 L523.7,175.5 L526.0,173.1 L528.4,172.1 L530.7,172.0 L533.0,171.6 L535.3,171.0 L537.7,165.9 L540.0,164.3 L542.3,169.2 L544.7,166.4 L547.0,161.8 L549.3,156.4 L551.7,158.2 L554.0,156.7 L556.3,155.0 L558.6,151.4 L561.0,153.3 L563.3,150.6 L565.6,145.2 L568.0,146.4 L570.3,147.0 L572.6,143.9 L574.9,146.1 L577.3,144.9 L579.6,142.9 L581.9,142.0 L584.3,140.5 L586.6,141.9 L588.9,143.1 L591.2,137.8 L593.6,137.2 L595.9,136.1 L598.2,139.3 L600.6,138.1 L602.9,140.3 L605.2,135.6 L607.6,136.2 L609.9,139.1 L612.2,135.1 L614.5,133.9 L616.9,130.3 L619.2,131.3 L621.5,128.7 L623.9,125.1 L626.2,122.2 L628.5,124.8 L630.8,128.0 L633.2,124.5 L635.5,125.1 L637.8,123.2 L640.2,121.6 L642.5,120.8 L644.8,123.2 L647.1,122.9 L649.5,117.6 L651.8,118.9 L654.1,121.0" stroke="#ff61cc"/>
<path d="M99.8,24.1 L102.1,23.9 L104.5,24.1 L106.8,25.1 L109.1,25.6 L111.4,25.2 L113.8,26.5 L116.1,25.2 L118.4,23.1 L120.8,21.9 L123.1,22.9 L125.4,21.9 L127.7,22.9 L130.1,25.7 L132.4,22.7 L134.7,23.6 L137.1,21.4 L139.4,21.3 L141.7,21.3 L144.0,19.9 L146.4,20.1 L148.7,23.8 L151.0,21.9 L153.4,20.2 L155.7,21.6 L158.0,21.5 L160.4,23.4 L162.7,22.8 L165.0,25.2 L167.3,24.1 L169.7,25.0 L172.0,27.6 L174.3,31.4 L176.7,34.5 L179.0,39.6 L181.3,46.5 L183.6,51.1 L186.0,64.2 L188.3,71.3 L190.6,80.9 L193.0,86.8 L195.3,99.4 L197.6,107.0 L199.9,116.5 L202.3,123.0 L204.6,129.0 L206.9,137.4 L209.3,145.3 L211.6,153.2 L213.9,160.7 L216.3,167.4 L218.6,177.7 L220.9,184.6 L223.2,192.2 L225.6,195.4 L227.9,204.9 L230.2,213.2 L232.6,218.6 L234.9,224.2 L237.2,237.1 L239.5,244.5 L241.9,249.8 L244.2,254.8 L246.5,258.2 L248.9,263.2 L251.2,269.4 L253.5,271.3 L255.8,280.2 L258.2,286.8 L260.5,292.4 L262.8,297.4 L265.2,298.6 L267.5,305.3 L269.8,306.9 L272.2,309.4 L274.5,315.0 L276.8,320.0 L279.1,322.2 L281.5,329.4 L283.8,335.2 L286.1,337.2 L288.5,339.3 L290.8,346.2 L293.1,349.4 L295.4,350.0 L297.8,349.2 L300.1,350.5 L302.4,353.5 L304.8,354.0 L307.1,353.8 L309.4,359.8 L311.7,361.6 L314.1,363.2 L316.4,365.5 L318.7,366.7 L321.1,367.4 L323.4,371.2 L325.7,371.0 L328.1,371.4 L330.4,369.9 L332.7,370.2 L335.0,371.4 L337.4,371.1 L339.7,371.4 L342.0,371.3 L344.4,371.4 L346.7,369.3 L349.0,369.7 L351.3,370.7 L353.7,364.6 L356.0,363.4 L358.3,360.6 L360.7,356.4 L363.0,357.3 L365.3,355.4 L367.6,358.6 L370.0,355.6 L372.3,355.9 L374.6,354.2 L377.0,354.9 L379.3,354.2 L381.6,354.6 L384.0,349.0 L386.3,346.8 L388.6,344.5 L390.9,338.9 L393.3,336.2 L395.6,337.9 L397.9,331.1 L400.3,327.5 L402.6,323.5 L404.9,324.0 L407.2,323.5 L409.6,322.9 L411.9,321.6 L414.2,318.5 L416.6,312.0 L418.9,310.5 L421.2,305.2 L423.5,301.8 L425.9,302.2 L428.2,298.4 L430.5,292.7 L432.9,290.4 L435.2,289.5 L437.5,289.1 L439.9,284.0 L442.2,281.1 L444.5,281.1 L446.8,279.4 L449.2,272.9 L451.5,271.7 L453.8,266.9 L456.2,269.5 L458.5,270.4 L460.8,267.9 L463.1,264.2 L465.5,259.6 L467.8,258.6 L470.1,257.3 L472.5,256.4 L474.8,252.7 L477.1,248.2 L479.4,247.3 L481.8,248.7 L484.1,243.1 L486.4,242.0 L488.8,235.4 L491.1,234.9 L493.4,230.9 L495.8,230.8 L498.1,229.3 L500.4,228.4 L502.7,226.4 L505.1,223.1 L507.4,224.5 L509.7,223.0 L512.1,220.3 L514.4,218.3 L516.7,214.7 L519.0,210.2 L521.4,212.8 L523.7,210.8 L526.0,209.7 L528.4,206.2 L530.7,204.0 L533.0,203.8 L535.3,201.8 L537.7,201.4 L540.0,197.6 L542.3,196.6 L544.7,193.0 L547.0,195.1 L549.3,195.6 L551.7,194.2 L554.0,193.5 L556.3,190.5 L558.6,189.4 L561.0,191.9 L563.3,189.7 L565.6,184.0 L568.0,185.2 L570.3,185.6 L572.6,186.5 L574.9,180.6 L577.3,180.7 L579.6,176.5 L581.9,175.9 L584.3,172.6 L586.6,176.0 L588.9,173.8 L591.2,175.3 L593.6,177.4 L595.9,171.4 L598.2,170.3 L600.6,170.3 L602.9,171.6 L605.2,170.9 L607.6,168.2 L609.9,169.0 L612.2,164.6 L614.5,161.5 L616.9,158.9 L619.2,159.1 L621.5,158.7 L623.9,160.0 L626.2,160.4 L628.5,157.7 L630.8,156.6 L633.2,154.7 L635.5,153.0 L637.8,154.2 L640.2,155.4 L642.5,154.6 L644.8,158.2 L647.1,154.0 L649.5,154.1 L651.8,148.0 L654.1,147.1" stroke="#00bf80"/>
<path d="M99.8,28.7 L102.1,30.4 L104.5,31.2 L106.8,30.7 L109.1,30.0 L111.4,29.7 L113.8,31.1 L116.1,25.7 L118.4,28.0 L120.8,29.5 L123.1,30.4 L125.4,30.3 L127.7,29.4 L130.1,31.2 L132.4,29.0 L134.7,29.6 L137.1,25.8 L139.4,29.0 L141.7,27.5 L144.0,28.1 L146.4,27.6 L148.7,27.9 L151.0,27.4 L153.4,26.3 L155.7,27.1 L158.0,27.4 L160.4,30.3 L162.7,30.1 L165.0,31.2 L167.3,33.0 L169.7,35.8 L172.0,40.4 L174.3,48.7 L176.7,53.4 L179.0,60.3 L181.3,67.4 L183.6,79.3 L186.0,88.3 L188.3,97.5 L190.6,108.9 L193.0,116.5 L195.3,129.5 L197.6,136.6 L199.9,143.8 L202.3,154.7 L204.6,164.2 L206.9,169.2 L209.3,175.8 L211.6,183.2 L213.9,191.1 L216.3,198.9 L218.6,211.9 L220.9,223.0 L223.2,229.1 L225.6,234.7 L227.9,247.4 L230.2,251.3 L232.6,258.0 L234.9,265.9 L237.2,272.5 L239.5,275.0 L241.9,282.4 L244.2,292.1 L246.5,296.6 L248.9,298.8 L251.2,306.3 L253.5,312.0 L255.8,314.6 L258.2,317.1 L260.5,321.8 L262.8,321.5 L265.2,327.5 L267.5,328.0 L269.8,334.5 L272.2,335.7 L274.5,341.1 L276.8,345.6 L279.1,346.8 L281.5,351.4 L283.8,354.8 L286.1,356.4 L288.5,361.9 L290.8,361.0 L293.1,361.4 L295.4,365.9 L297.8,365.8 L300.1,362.7 L302.4,364.7 L304.8,366.7 L307.1,366.3 L309.4,369.5 L311.7,369.7 L314.1,370.7 L316.4,371.2 L318.7,371.3 L321.1,369.7 L323.4,371.4 L325.7,371.4 L328.1,370.4 L330.4,370.3 L332.7,368.8 L335.0,368.0 L337.4,367.5 L339.7,371.4 L342.0,366.8 L344.4,366.4 L346.7,366.7 L349.0,368.3 L351.3,367.1 L353.7,363.3 L356.0,364.6 L358.3,362.5 L360.7,360.1 L363.0,356.4 L365.3,352.1 L367.6,350.3 L370.0,348.6 L372.3,345.1 L374.6,342.2 L377.0,336.3 L379.3,333.1 L381.6,331.8 L384.0,331.4 L386.3,326.6 L388.6,320.6 L390.9,320.7 L393.3,313.4 L395.6,309.9 L397.9,307.0 L400.3,307.0 L402.6,301.5 L404.9,290.4 L407.2,290.6 L409.6,287.6 L411.9,281.6 L414.2,272.8 L416.6,271.3 L418.9,268.7 L421.2,262.4 L423.5,262.2 L425.9,257.5 L428.2,252.9 L430.5,249.9 L432.9,246.5 L435.2,243.2 L437.5,241.1 L439.9,235.3 L442.2,233.6 L444.5,229.9 L446.8,230.2 L449.2,223.8 L451.5,219.6 L453.8,213.4 L456.2,213.0 L458.5,210.9 L460.8,203.7 L463.1,205.6 L465.5,202.3 L467.8,201.8 L470.1,195.9 L472.5,193.3 L474.8,192.4 L477.1,188.6 L479.4,186.9 L481.8,181.8 L484.1,183.9 L486.4,183.4 L488.8,182.3 L491.1,176.9 L493.4,176.5 L495.8,172.7 L498.1,169.6 L500.4,168.8 L502.7,172.6 L505.1,170.0 L507.4,173.4 L509.7,172.0 L512.1,168.1 L514.4,164.5 L516.7,163.1 L519.0,164.0 L521.4,158.4 L523.7,157.3 L526.0,157.8 L528.4,154.1 L530.7,157.2 L533.0,154.1 L535.3,151.2 L537.7,148.5 L540.0,142.3 L542.3,144.9 L544.7,141.0 L547.0,139.3 L549.3,137.2 L551.7,138.0 L554.0,140.2 L556.3,136.0 L558.6,137.7 L561.0,134.3 L563.3,131.6 L565.6,135.1 L568.0,133.3 L570.3,128.4 L572.6,130.6 L574.9,129.7 L577.3,129.7 L579.6,129.4 L581.9,130.0 L584.3,129.1 L586.6,125.8 L588.9,125.7 L591.2,123.3 L593.6,126.5 L595.9,124.3 L598.2,121.9 L600.6,122.8 L602.9,118.9 L605.2,118.7 L607.6,117.7 L609.9,117.1 L612.2,112.8 L614.5,114.1 L616.9,113.2 L619.2,113.0 L621.5,110.8 L623.9,109.3 L626.2,110.0 L628.5,106.8 L630.8,106.2 L633.2,105.5 L635.5,99.8 L637.8,103.8 L640.2,99.6 L642.5,100.0 L644.8,99.7 L647.1,96.9 L649.5,96.9 L651.8,96.9 L654.1,97.4" stroke="#ed813e"/>
<path d="M99.8,25.7 L102.1,25.7 L104.5,27.7 L106.8,27.0 L109.1,28.1 L111.4,25.6 L113.8,26.9 L116.1,26.7 L118.4,27.1 L120.8,28.3 L123.1,26.2 L125.4,22.4 L127.7,24.3 L130.1,24.2 L132.4,23.3 L134.7,24.4 L137.1,24.2 L139.4,24.2 L141.7,22.5 L144.0,22.6 L146.4,24.7 L148.7,24.8 L151.0,23.4 L153.4,25.7 L155.7,27.1 L158.0,27.2 L160.4,26.8 L162.7,27.6 L165.0,25.5 L167.3,28.9 L169.7,30.8 L172.0,34.0 L174.3,39.0 L176.7,44.5 L179.0,52.0 L181.3,58.9 L183.6,70.5 L186.0,78.4 L188.3,85.7 L190.6,92.5 L193.0,107.5 L195.3,114.9 L197.6,122.9 L199.9,130.5 L202.3,140.6 L204.6,149.7 L206.9,159.6 L209.3,167.8 L211.6,180.3 L213.9,187.4 L216.3,195.0 L218.6,206.5 L220.9,210.4 L223.2,221.1 L225.6,225.0 L227.9,233.5 L230.2,239.6 L232.6,245.5 L234.9,251.9 L237.2,262.6 L239.5,265.2 L241.9,271.9 L244.2,279.5 L246.5,286.1 L248.9,293.0 L251.2,295.5 L253.5,301.3 L255.8,306.4 L258.2,314.7 L260.5,321.0 L262.8,325.1 L265.2,329.4 L267.5,326.5 L269.8,327.5 L272.2,331.1 L274.5,333.9 L276.8,343.3 L279.1,344.6 L281.5,345.0 L283.8,344.4 L286.1,350.8 L288.5,355.3 L290.8,357.9 L293.1,358.5 L295.4,362.6 L297.8,361.3 L300.1,363.3 L302.4,365.7 L304.8,368.2 L307.1,367.5 L309.4,371.4 L311.7,370.3 L314.1,369.2 L316.4,370.2 L318.7,371.2 L321.1,371.4 L323.4,371.4 L325.7,371.4 L328.1,371.4 L330.4,371.4 L332.7,371.4 L335.0,371.1 L337.4,368.5 L339.7,367.0 L342.0,364.8 L344.4,368.9 L346.7,364.3 L349.0,365.0 L351.3,366.5 L353.7,365.8 L356.0,364.6 L358.3,363.0 L360.7,369.0 L363.0,368.4 L365.3,364.2 L367.6,370.5 L370.0,363.0 L372.3,361.7 L374.6,362.5 L377.0,362.9 L379.3,360.1 L381.6,357.1 L384.0,353.7 L386.3,353.4 L388.6,351.6 L390.9,348.8 L393.3,343.8 L395.6,338.9 L397.9,337.4 L400.3,336.8 L402.6,332.5 L404.9,333.8 L407.2,329.7 L409.6,328.7 L411.9,328.2 L414.2,322.8 L416.6,322.8 L418.9,318.6 L421.2,315.8 L423.5,315.6 L425.9,312.1 L428.2,304.7 L430.5,299.6 L432.9,297.3 L435.2,295.6 L437.5,290.6 L439.9,290.2 L442.2,289.7 L444.5,283.0 L446.8,285.1 L449.2,282.4 L451.5,277.8 L453.8,279.8 L456.2,273.4 L458.5,269.4 L460.8,266.7 L463.1,265.7 L465.5,264.7 L467.8,261.6 L470.1,258.5 L472.5,255.0 L474.8,255.4 L477.1,254.5 L479.4,254.3 L481.8,248.7 L484.1,246.3 L486.4,243.7 L488.8,241.0 L491.1,238.5 L493.4,237.8 L495.8,232.1 L498.1,230.4 L500.4,227.1 L502.7,225.2 L505.1,226.3 L507.4,226.2 L509.7,223.0 L512.1,224.4 L514.4,218.8 L516.7,216.4 L519.0,215.8 L521.4,214.5 L523.7,209.9 L526.0,205.6 L528.4,206.0 L530.7,205.8 L533.0,207.0 L535.3,203.3 L537.7,200.6 L540.0,202.5 L542.3,201.8 L544.7,201.3 L547.0,196.8 L549.3,195.8 L551.7,196.1 L554.0,195.4 L556.3,193.0 L558.6,192.8 L561.0,188.9 L563.3,185.9 L565.6,183.9 L568.0,182.8 L570.3,182.1 L572.6,182.3 L574.9,179.9 L577.3,178.5 L579.6,181.3 L581.9,179.3 L584.3,185.0 L586.6,183.0 L588.9,184.0 L591.2,179.5 L593.6,178.3 L595.9,176.9 L598.2,173.6 L600.6,171.4 L602.9,167.8 L605.2,167.2 L607.6,163.4 L609.9,163.0 L612.2,161.5 L614.5,163.7 L616.9,161.2 L619.2,162.9 L621.5,159.9 L623.9,161.5 L626.2,160.1 L628.5,160.1 L630.8,159.3 L633.2,156.2 L635.5,158.4 L637.8,153.0 L640.2,152.7 L642.5,154.1 L644.8,152.7 L647.1,151.4 L649.5,156.4 L651.8,151.5 L654.1,153.5" stroke="#ff61c3"/>
<path d="M99.8,25.0 L102.1,24.9 L104.5,26.0 L106.8,25.5 L109.1,27.0 L111.4,26.1 L113.8,22.9 L116.1,26.4 L118.4,25.5 L120.8,25.8 L123.1,25.8 L125.4,26.2 L127.7,27.3 L130.1,27.1 L132.4,27.2 L134.7,24.7 L137.1,23.3 L139.4,26.5 L141.7,25.7 L144.0,23.0 L146.4,22.7 L148.7,23.3 L151.0,22.6 L153.4,21.6 L155.7,21.8 L158.0,22.9 L160.4,24.6 L162.7,27.1 L165.0,27.7 L167.3,29.7 L169.7,31.3 L172.0,35.7 L174.3,40.3 L176.7,44.0 L179.0,50.5 L181.3,60.4 L183.6,67.4 L186.0,76.3 L188.3,84.2 L190.6,94.7 L193.0,99.5 L195.3,104.8 L197.6,114.0 L199.9,121.3 L202.3,131.0 L204.6,136.7 L206.9,146.0 L209.3,151.5 L211.6,160.3 L213.9,170.0 L216.3,176.4 L218.6,185.8 L220.9,192.4 L223.2,202.5 L225.6,206.6 L227.9,215.4 L230.2,221.0 L232.6,226.8 L234.9,234.6 L237.2,241.6 L239.5,250.1 L241.9,254.5 L244.2,261.9 L246.5,270.4 L248.9,275.1 L251.2,281.3 L253.5,286.0 L255.8,286.5 L258.2,294.6 L260.5,298.4 L262.8,305.6 L265.2,311.8 L267.5,314.3 L269.8,319.7 L272.2,322.3 L274.5,328.4 L276.8,328.0 L279.1,333.5 L281.5,337.0 L283.8,340.8 L286.1,342.0 L288.5,341.0 L290.8,344.2 L293.1,343.0 L295.4,350.6 L297.8,353.9 L300.1,354.5 L302.4,353.6 L304.8,357.7 L307.1,361.9 L309.4,361.7 L311.7,363.8 L314.1,368.1 L316.4,367.2 L318.7,368.4 L321.1,367.9 L323.4,370.6 L325.7,370.0 L328.1,370.2 L330.4,370.6 L332.7,370.4 L335.0,371.4 L337.4,369.5 L339.7,368.0 L342.0,367.1 L344.4,366.1 L346.7,362.9 L349.0,362.0 L351.3,359.1 L353.7,356.4 L356.0,355.1 L358.3,346.0 L360.7,345.3 L363.0,341.1 L365.3,336.2 L367.6,333.8 L370.0,331.3 L372.3,331.4 L374.6,330.5 L377.0,320.9 L379.3,316.8 L381.6,313.5 L384.0,311.5 L386.3,305.2 L388.6,303.4 L390.9,297.1 L393.3,295.1 L395.6,291.6 L397.9,289.2 L400.3,282.5 L402.6,276.0 L404.9,273.3 L407.2,269.5 L409.6,269.4 L411.9,261.9 L414.2,257.3 L416.6,254.1 L418.9,248.6 L421.2,245.2 L423.5,245.0 L425.9,238.6 L428.2,237.2 L430.5,234.1 L432.9,228.2 L435.2,225.4 L437.5,225.6 L439.9,217.4 L442.2,217.2 L444.5,210.8 L446.8,211.1 L449.2,206.5 L451.5,205.7 L453.8,205.7 L456.2,203.3 L458.5,198.2 L460.8,196.9 L463.1,192.7 L465.5,189.4 L467.8,188.9 L470.1,188.6 L472.5,184.1 L474.8,179.1 L477.1,176.9 L479.4,172.1 L481.8,172.9 L484.1,172.5 L486.4,169.4 L488.8,168.4 L491.1,166.8 L493.4,167.3 L495.8,165.2 L498.1,168.5 L500.4,167.6 L502.7,165.4 L505.1,163.1 L507.4,163.3 L509.7,161.0 L512.1,157.3 L514.4,154.4 L516.7,155.2 L519.0,152.8 L521.4,148.3 L523.7,146.0 L526.0,142.9 L528.4,141.6 L530.7,142.1 L533.0,143.9 L535.3,143.6 L537.7,143.2 L540.0,140.3 L542.3,136.8 L544.7,136.7 L547.0,134.0 L549.3,134.5 L551.7,134.4 L554.0,130.7 L556.3,132.3 L558.6,131.5 L561.0,127.1 L563.3,126.9 L565.6,127.9 L568.0,124.7 L570.3,125.3 L572.6,124.7 L574.9,124.3 L577.3,127.2 L579.6,120.2 L581.9,120.5 L584.3,122.3 L586.6,119.3 L588.9,121.3 L591.2,117.5 L593.6,114.2 L595.9,113.6 L598.2,116.8 L600.6,112.9 L602.9,111.7 L605.2,113.4 L607.6,111.9 L609.9,112.5 L612.2,111.6 L614.5,109.3 L616.9,108.4 L619.2,104.8 L621.5,102.5 L623.9,105.5 L626.2,102.2 L628.5,103.8 L630.8,102.2 L633.2,102.8 L635.5,98.7 L637.8,98.3 L640.2,99.3 L642.5,96.0 L644.8,96.1 L647.1,93.2 L649.5,89.9 L651.8,93.2 L654.1,87.8" stroke="#db72fb"/>
<path d="M99.8,43.5 L102.1,41.0 L104.5,43.5 L106.8,43.6 L109.1,42.1 L111.4,42.2 L113.8,42.7 L116.1,41.7 L118.4,41.0 L120.8,44.2 L123.1,40.1 L125.4,41.9 L127.7,43.8 L130.1,43.8 L132.4,42.5 L134.7,41.6 L137.1,41.1 L139.4,41.9 L141.7,39.1 L144.0,42.4 L146.4,43.4 L148.7,43.2 L151.0,43.6 L153.4,41.6 L155.7,41.7 L158.0,43.3 L160.4,44.4 L162.7,42.6 L165.0,42.9 L167.3,43.4 L169.7,44.3 L172.0,47.3 L174.3,51.8 L176.7,56.1 L179.0,61.8 L181.3,72.8 L183.6,78.0 L186.0,87.0 L188.3,96.0 L190.6,103.2 L193.0,111.0 L195.3,124.0 L197.6,132.8 L199.9,139.7 L202.3,149.7 L204.6,156.7 L206.9,168.7 L209.3,174.4 L211.6,187.4 L213.9,191.9 L216.3,204.6 L218.6,209.9 L220.9,215.7 L223.2,220.7 L225.6,232.9 L227.9,240.5 L230.2,247.9 L232.6,253.5 L234.9,262.5 L237.2,266.8 L239.5,271.3 L241.9,280.4 L244.2,287.0 L246.5,292.5 L248.9,295.6 L251.2,303.9 L253.5,305.5 L255.8,312.0 L258.2,317.4 L260.5,320.6 L262.8,324.0 L265.2,331.4 L267.5,336.2 L269.8,336.6 L272.2,335.5 L274.5,337.8 L276.8,344.5 L279.1,346.1 L281.5,345.7 L283.8,351.3 L286.1,354.7 L288.5,359.1 L290.8,359.3 L293.1,363.9 L295.4,368.0 L297.8,365.5 L300.1,367.4 L302.4,366.2 L304.8,364.8 L307.1,368.4 L309.4,371.4 L311.7,371.4 L314.1,371.4 L316.4,371.4 L318.7,371.4 L321.1,371.4 L323.4,371.4 L325.7,370.2 L328.1,369.7 L330.4,370.6 L332.7,368.1 L335.0,371.1 L337.4,369.7 L339.7,363.3 L342.0,365.5 L344.4,365.2 L346.7,361.1 L349.0,354.5 L351.3,348.3 L353.7,347.3 L356.0,342.7 L358.3,339.8 L360.7,340.5 L363.0,337.8 L365.3,335.3 L367.6,330.1 L370.0,328.9 L372.3,324.3 L374.6,317.2 L377.0,314.5 L379.3,310.1 L381.6,308.0 L384.0,304.7 L386.3,302.1 L388.6,297.3 L390.9,292.4 L393.3,288.9 L395.6,285.2 L397.9,279.5 L400.3,276.7 L402.6,275.2 L404.9,268.3 L407.2,268.2 L409.6,266.0 L411.9,263.7 L414.2,258.2 L416.6,253.2 L418.9,251.2 L421.2,242.4 L423.5,240.9 L425.9,236.8 L428.2,238.0 L430.5,233.1 L432.9,228.3 L435.2,222.8 L437.5,221.0 L439.9,216.3 L442.2,213.6 L444.5,206.4 L446.8,206.0 L449.2,203.0 L451.5,200.7 L453.8,198.5 L456.2,193.5 L458.5,192.2 L460.8,190.8 L463.1,187.9 L465.5,186.0 L467.8,183.3 L470.1,183.6 L472.5,178.9 L474.8,177.1 L477.1,180.3 L479.4,178.4 L481.8,174.6 L484.1,171.5 L486.4,168.9 L488.8,168.2 L491.1,165.7 L493.4,162.7 L495.8,162.4 L498.1,158.4 L500.4,157.6 L502.7,159.1 L505.1,160.2 L507.4,158.0 L509.7,155.2 L512.1,158.2 L514.4,154.0 L516.7,156.0 L519.0,153.2 L521.4,150.8 L523.7,147.4 L526.0,144.3 L528.4,142.8 L530.7,143.8 L533.0,142.9 L535.3,142.9 L537.7,139.8 L540.0,139.2 L542.3,134.3 L544.7,136.9 L547.0,133.4 L549.3,134.3 L551.7,132.1 L554.0,132.7 L556.3,132.3 L558.6,128.3 L561.0,126.5 L563.3,123.7 L565.6,124.0 L568.0,123.6 L570.3,127.6 L572.6,127.7 L574.9,124.8 L577.3,124.8 L579.6,122.9 L581.9,118.7 L584.3,122.3 L586.6,119.2 L588.9,117.1 L591.2,118.3 L593.6,117.9 L595.9,116.6 L598.2,112.0 L600.6,112.6 L602.9,110.8 L605.2,114.4 L607.6,108.1 L609.9,108.7 L612.2,106.8 L614.5,107.0 L616.9,109.0 L619.2,102.5 L621.5,105.3 L623.9,107.1 L626.2,101.7 L628.5,103.8 L630.8,100.3 L633.2,99.4 L635.5,102.4 L637.8,101.4 L640.2,101.5 L642.5,95.5 L644.8,92.7 L647.1,94.6 L649.5,91.0 L651.8,93.1 L654.1,93.9" stroke="#00c19f"/>
<path d="M99.8,25.2 L102.1,24.5 L104.5,23.5 L106.8,23.4 L109.1,23.4 L111.4,26.0 L113.8,26.6 L116.1,25.2 L118.4,25.0 L120.8,24.9 L123.1,24.4 L125.4,22.8 L127.7,25.0 L130.1,25.0 L132.4,22.2 L134.7,28.5 L137.1,27.3 L139.4,27.1 L141.7,26.0 L144.0,25.9 L146.4,26.5 L148.7,25.4 L151.0,25.0 L153.4,25.1 L155.7,24.8 L158.0,23.1 L160.4,23.3 L162.7,24.7 L165.0,27.7 L167.3,28.0 L169.7,31.4 L172.0,35.8 L174.3,37.0 L176.7,41.6 L179.0,45.9 L181.3,54.4 L183.6,60.3 L186.0,67.8 L188.3,73.6 L190.6,83.0 L193.0,87.4 L195.3,97.3 L197.6,104.4 L199.9,116.9 L202.3,122.8 L204.6,129.4 L206.9,139.2 L209.3,145.9 L211.6,154.6 L213.9,158.5 L216.3,167.8 L218.6,177.3 L220.9,187.0 L223.2,193.5 L225.6,196.2 L227.9,203.2 L230.2,208.5 L232.6,217.5 L234.9,225.7 L237.2,230.4 L239.5,235.4 L241.9,244.0 L244.2,250.0 L246.5,259.5 L248.9,261.7 L251.2,267.7 L253.5,273.6 L255.8,281.8 L258.2,286.6 L260.5,286.1 L262.8,293.5 L265.2,298.3 L267.5,300.8 L269.8,308.6 L272.2,312.8 L274.5,315.5 L276.8,318.1 L279.1,320.2 L281.5,324.2 L283.8,330.1 L286.1,332.1 L288.5,335.7 L290.8,336.4 L293.1,343.3 L295.4,345.4 L297.8,344.4 L300.1,346.0 L302.4,347.4 L304.8,352.0 L307.1,356.6 L309.4,355.2 L311.7,362.4 L314.1,361.7 L316.4,366.1 L318.7,369.1 L321.1,366.9 L323.4,367.9 L325.7,371.4 L328.1,370.7 L330.4,371.4 L332.7,371.4 L335.0,371.3 L337.4,369.8 L339.7,369.1 L342.0,367.7 L344.4,368.8 L346.7,368.7 L349.0,365.9 L351.3,364.6 L353.7,362.6 L356.0,358.5 L358.3,357.7 L360.7,356.7 L363.0,350.9 L365.3,347.5 L367.6,351.5 L370.0,343.3 L372.3,341.2 L374.6,339.4 L377.0,335.9 L379.3,335.9 L381.6,331.8 L384.0,328.1 L386.3,324.2 L388.6,319.3 L390.9,320.3 L393.3,315.6 L395.6,312.7 L397.9,308.8 L400.3,310.1 L402.6,305.5 L404.9,304.7 L407.2,300.0 L409.6,296.8 L411.9,292.0 L414.2,293.3 L416.6,283.7 L418.9,282.3 L421.2,282.2 L423.5,275.0 L425.9,272.0 L428.2,270.4 L430.5,271.7 L432.9,267.5 L435.2,263.3 L437.5,263.6 L439.9,258.5 L442.2,257.9 L444.5,253.6 L446.8,252.7 L449.2,247.6 L451.5,241.7 L453.8,237.0 L456.2,236.0 L458.5,235.4 L460.8,234.0 L463.1,231.4 L465.5,229.4 L467.8,226.8 L470.1,222.7 L472.5,219.3 L474.8,217.7 L477.1,214.9 L479.4,214.5 L481.8,215.7 L484.1,212.3 L486.4,207.3 L488.8,208.1 L491.1,205.8 L493.4,207.6 L495.8,206.6 L498.1,206.4 L500.4,202.0 L502.7,199.2 L505.1,197.9 L507.4,197.0 L509.7,189.6 L512.1,193.1 L514.4,188.8 L516.7,191.0 L519.0,184.6 L521.4,185.7 L523.7,184.4 L526.0,185.7 L528.4,183.5 L530.7,181.3 L533.0,180.7 L535.3,176.8 L537.7,174.1 L540.0,172.9 L542.3,169.4 L544.7,169.4 L547.0,167.4 L549.3,168.7 L551.7,168.7 L554.0,170.0 L556.3,167.3 L558.6,164.8 L561.0,167.3 L563.3,162.9 L565.6,164.9 L568.0,163.3 L570.3,161.2 L572.6,157.7 L574.9,159.5 L577.3,158.6 L579.6,162.5 L581.9,158.6 L584.3,158.2 L586.6,153.8 L588.9,153.9 L591.2,156.0 L593.6,152.0 L595.9,152.3 L598.2,146.5 L600.6,151.1 L602.9,150.5 L605.2,144.5 L607.6,145.5 L609.9,143.4 L612.2,143.6 L614.5,140.2 L616.9,138.8 L619.2,137.3 L621.5,133.7 L623.9,134.3 L626.2,135.8 L628.5,134.5 L630.8,135.4 L633.2,132.2 L635.5,130.7 L637.8,133.3 L640.2,134.1 L642.5,134.8 L644.8,132.6 L647.1,133.6 L649.5,131.9 L651.8,126.7 L654.1,127.7" stroke="#fc61d4"/>
<path d="M99.8,28.7 L102.1,31.3 L104.5,29.9 L106.8,28.1 L109.1,27.5 L111.4,27.3 L113.8,26.4 L116.1,27.6 L118.4,28.6 L120.8,27.7 L123.1,27.8 L125.4,26.6 L127.7,26.1 L130.1,25.7 L132.4,23.4 L134.7,23.0 L137.1,26.2 L139.4,27.7 L141.7,28.1 L144.0,27.4 L146.4,28.1 L148.7,27.5 L151.0,28.1 L153.4,26.1 L155.7,25.7 L158.0,26.8 L160.4,26.3 L162.7,27.4 L165.0,27.5 L167.3,27.8 L169.7,29.2 L172.0,33.9 L174.3,38.3 L176.7,41.6 L179.0,50.0 L181.3,57.7 L183.6,64.6 L186.0,73.8 L188.3,84.3 L190.6,92.0 L193.0,99.1 L195.3,106.2 L197.6,116.3 L199.9,120.8 L202.3,130.4 L204.6,141.4 L206.9,149.1 L209.3,156.6 L211.6,166.5 L213.9,176.2 L216.3,184.9 L218.6,194.0 L220.9,198.9 L223.2,205.6 L225.6,215.6 L227.9,219.3 L230.2,228.6 L232.6,237.2 L234.9,245.3 L237.2,251.2 L239.5,256.1 L241.9,264.4 L244.2,270.2 L246.5,277.5 L248.9,278.7 L251.2,287.2 L253.5,294.0 L255.8,297.8 L258.2,301.0 L260.5,303.6 L262.8,309.8 L265.2,311.9 L267.5,319.9 L269.8,324.0 L272.2,327.0 L274.5,327.7 L276.8,331.4 L279.1,335.7 L281.5,339.3 L283.8,340.7 L286.1,340.3 L288.5,343.7 L290.8,349.4 L293.1,352.5 L295.4,353.6 L297.8,354.9 L300.1,359.9 L302.4,362.7 L304.8,365.2 L307.1,365.0 L309.4,367.0 L311.7,367.9 L314.1,367.1 L316.4,364.9 L318.7,369.4 L321.1,369.4 L323.4,370.3 L325.7,367.7 L328.1,371.4 L330.4,371.4 L332.7,371.4 L335.0,371.4 L337.4,371.4 L339.7,371.4 L342.0,371.4 L344.4,371.4 L346.7,369.1 L349.0,371.4 L351.3,371.4 L353.7,371.4 L356.0,371.4 L358.3,371.4 L360.7,370.8 L363.0,368.6 L365.3,366.3 L367.6,362.9 L370.0,363.1 L372.3,362.5 L374.6,362.7 L377.0,362.9 L379.3,361.8 L381.6,362.8 L384.0,368.4 L386.3,363.2 L388.6,365.4 L390.9,364.6 L393.3,363.5 L395.6,361.1 L397.9,360.2 L400.3,360.6 L402.6,356.2 L404.9,352.9 L407.2,355.5 L409.6,352.1 L411.9,348.8 L414.2,348.2 L416.6,345.7 L418.9,344.8 L421.2,344.9 L423.5,341.3 L425.9,342.0 L428.2,342.6 L430.5,335.9 L432.9,334.3 L435.2,334.0 L437.5,331.9 L439.9,328.4 L442.2,323.7 L444.5,322.7 L446.8,321.3 L449.2,319.7 L451.5,320.9 L453.8,317.5 L456.2,318.3 L458.5,315.5 L460.8,310.6 L463.1,306.0 L465.5,306.0 L467.8,310.4 L470.1,306.3 L472.5,303.5 L474.8,304.5 L477.1,303.0 L479.4,299.7 L481.8,298.9 L484.1,293.1 L486.4,293.0 L488.8,289.4 L491.1,287.6 L493.4,286.2 L495.8,280.7 L498.1,278.6 L500.4,275.9 L502.7,276.9 L505.1,274.1 L507.4,272.5 L509.7,275.5 L512.1,273.2 L514.4,272.5 L516.7,269.1 L519.0,263.5 L521.4,261.8 L523.7,263.0 L526.0,261.5 L528.4,256.2 L530.7,252.8 L533.0,252.8 L535.3,249.1 L537.7,249.0 L540.0,247.7 L542.3,247.0 L544.7,247.2 L547.0,247.4 L549.3,246.8 L551.7,248.3 L554.0,246.0 L556.3,244.8 L558.6,243.8 L561.0,239.0 L563.3,241.7 L565.6,240.6 L568.0,239.7 L570.3,234.1 L572.6,233.2 L574.9,228.3 L577.3,227.5 L579.6,228.8 L581.9,227.9 L584.3,223.7 L586.6,225.7 L588.9,223.2 L591.2,220.7 L593.6,219.2 L595.9,219.2 L598.2,220.0 L600.6,217.4 L602.9,219.7 L605.2,218.5 L607.6,214.0 L609.9,214.2 L612.2,214.3 L614.5,212.3 L616.9,214.2 L619.2,210.7 L621.5,207.9 L623.9,207.3 L626.2,203.2 L628.5,202.4 L630.8,203.3 L633.2,202.3 L635.5,203.5 L637.8,201.9 L640.2,203.4 L642.5,199.5 L644.8,200.3 L647.1,200.7 L649.5,199.5 L651.8,198.8 L654.1,200.8" stroke="#ae87ff"/>
<path d="M99.8,23.2 L102.1,22.8 L104.5,20.3 L106.8,22.0 L109.1,22.4 L111.4,21.2 L113.8,21.7 L116.1,23.3 L118.4,22.7 L120.8,23.6 L123.1,23.9 L125.4,22.5 L127.7,21.5 L130.1,23.8 L132.4,21.2 L134.7,21.5 L137.1,20.3 L139.4,20.4 L141.7,21.7 L144.0,21.0 L146.4,22.9 L148.7,22.2 L151.0,21.9 L153.4,21.9 L155.7,21.1 L158.0,21.7 L160.4,21.8 L162.7,23.5 L165.0,25.6 L167.3,23.2 L169.7,26.7 L172.0,29.8 L174.3,34.4 L176.7,37.9 L179.0,43.8 L181.3,50.5 L183.6,54.3 L186.0,62.7 L188.3,72.8 L190.6,80.6 L193.0,85.9 L195.3,92.5 L197.6,100.3 L199.9,110.3 L202.3,119.3 L204.6,124.6 L206.9,134.8 L209.3,141.6 L211.6,149.8 L213.9,156.1 L216.3,164.8 L218.6,173.0 L220.9,180.5 L223.2,190.0 L225.6,199.7 L227.9,206.0 L230.2,214.1 L232.6,222.6 L234.9,226.1 L237.2,236.3 L239.5,238.2 L241.9,242.2 L244.2,252.1 L246.5,253.7 L248.9,259.2 L251.2,263.1 L253.5,268.7 L255.8,269.7 L258.2,280.4 L260.5,285.6 L262.8,291.8 L265.2,296.8 L267.5,303.6 L269.8,307.6 L272.2,311.6 L274.5,314.0 L276.8,319.1 L279.1,322.1 L281.5,325.3 L283.8,328.7 L286.1,330.7 L288.5,333.9 L290.8,337.8 L293.1,339.3 L295.4,346.8 L297.8,349.7 L300.1,351.6 L302.4,355.6 L304.8,353.5 L307.1,357.5 L309.4,360.3 L311.7,357.9 L314.1,361.6 L316.4,363.1 L318.7,364.7 L321.1,363.0 L323.4,369.7 L325.7,371.4 L328.1,368.8 L330.4,370.2 L332.7,371.4 L335.0,370.3 L337.4,371.3 L339.7,368.8 L342.0,368.5 L344.4,368.8 L346.7,369.0 L349.0,365.2 L351.3,364.4 L353.7,361.0 L356.0,356.2 L358.3,355.2 L360.7,350.5 L363.0,346.1 L365.3,344.6 L367.6,342.8 L370.0,341.4 L372.3,336.7 L374.6,331.7 L377.0,323.8 L379.3,321.8 L381.6,319.5 L384.0,314.2 L386.3,308.3 L388.6,308.4 L390.9,301.9 L393.3,301.6 L395.6,296.6 L397.9,295.0 L400.3,285.2 L402.6,283.3 L404.9,275.5 L407.2,269.5 L409.6,267.4 L411.9,258.3 L414.2,254.6 L416.6,251.4 L418.9,250.3 L421.2,246.1 L423.5,242.1 L425.9,241.2 L428.2,236.7 L430.5,234.0 L432.9,231.5 L435.2,225.8 L437.5,220.1 L439.9,217.1 L442.2,210.4 L444.5,209.1 L446.8,203.0 L449.2,201.8 L451.5,200.4 L453.8,197.7 L456.2,199.4 L458.5,191.0 L460.8,188.9 L463.1,187.2 L465.5,184.0 L467.8,179.3 L470.1,178.4 L472.5,175.8 L474.8,175.5 L477.1,170.3 L479.4,169.2 L481.8,169.7 L484.1,168.9 L486.4,167.1 L488.8,161.2 L491.1,158.7 L493.4,157.0 L495.8,157.0 L498.1,153.9 L500.4,153.5 L502.7,151.8 L505.1,150.9 L507.4,152.4 L509.7,147.1 L512.1,146.1 L514.4,143.6 L516.7,144.3 L519.0,141.0 L521.4,140.1 L523.7,139.7 L526.0,137.4 L528.4,134.8 L530.7,133.5 L533.0,131.0 L535.3,130.2 L537.7,132.6 L540.0,128.7 L542.3,126.8 L544.7,128.7 L547.0,125.6 L549.3,122.9 L551.7,118.7 L554.0,120.2 L556.3,122.9 L558.6,120.9 L561.0,117.5 L563.3,114.3 L565.6,114.6 L568.0,114.8 L570.3,114.4 L572.6,115.7 L574.9,113.7 L577.3,112.6 L579.6,108.7 L581.9,109.0 L584.3,109.8 L586.6,108.4 L588.9,110.5 L591.2,109.1 L593.6,104.7 L595.9,104.0 L598.2,102.9 L600.6,101.3 L602.9,102.9 L605.2,100.9 L607.6,101.9 L609.9,99.5 L612.2,99.5 L614.5,96.1 L616.9,94.1 L619.2,95.7 L621.5,93.5 L623.9,94.9 L626.2,91.8 L628.5,89.3 L630.8,86.1 L633.2,86.2 L635.5,85.2 L637.8,87.9 L640.2,89.4 L642.5,90.4 L644.8,85.7 L647.1,87.7 L649.5,87.7 L651.8,86.5 L654.1,84.9" stroke="#ff66a6"/>
<path d="M99.8,26.8 L102.1,24.7 L104.5,24.1 L106.8,22.6 L109.1,27.8 L111.4,27.1 L113.8,28.5 L116.1,27.5 L118.4,28.5 L120.8,26.0 L123.1,29.1 L125.4,30.5 L127.7,29.6 L130.1,29.0 L132.4,28.3 L134.7,28.8 L137.1,28.8 L139.4,26.9 L141.7,26.9 L144.0,25.2 L146.4,26.0 L148.7,27.4 L151.0,26.9 L153.4,27.5 L155.7,28.7 L158.0,26.8 L160.4,27.2 L162.7,27.0 L165.0,30.1 L167.3,28.6 L169.7,31.5 L172.0,33.0 L174.3,35.9 L176.7,39.7 L179.0,45.3 L181.3,54.4 L183.6,58.5 L186.0,70.9 L188.3,81.0 L190.6,91.4 L193.0,102.1 L195.3,113.2 L197.6,120.0 L199.9,128.6 L202.3,138.2 L204.6,149.7 L206.9,156.9 L209.3,164.0 L211.6,176.3 L213.9,187.4 L216.3,199.5 L218.6,206.6 L220.9,212.9 L223.2,223.0 L225.6,234.4 L227.9,239.8 L230.2,248.2 L232.6,256.1 L234.9,264.9 L237.2,269.2 L239.5,275.6 L241.9,282.5 L244.2,290.6 L246.5,294.0 L248.9,300.4 L251.2,305.1 L253.5,306.1 L255.8,311.5 L258.2,315.5 L260.5,320.7 L262.8,325.0 L265.2,329.1 L267.5,335.5 L269.8,337.0 L272.2,341.3 L274.5,343.3 L276.8,346.6 L279.1,350.5 L281.5,351.0 L283.8,357.5 L286.1,357.8 L288.5,357.0 L290.8,361.1 L293.1,365.7 L295.4,366.1 L297.8,370.6 L300.1,371.4 L302.4,371.4 L304.8,371.4 L307.1,371.4 L309.4,371.4 L311.7,371.4 L314.1,371.4 L316.4,371.4 L318.7,371.4 L321.1,371.4 L323.4,371.4 L325.7,370.8 L328.1,364.0 L330.4,365.9 L332.7,363.5 L335.0,362.0 L337.4,361.7 L339.7,360.5 L342.0,356.6 L344.4,358.1 L346.7,354.2 L349.0,349.1 L351.3,346.9 L353.7,345.3 L356.0,340.7 L358.3,338.4 L360.7,336.6 L363.0,335.6 L365.3,331.4 L367.6,325.8 L370.0,320.4 L372.3,316.3 L374.6,309.4 L377.0,302.1 L379.3,298.9 L381.6,295.6 L384.0,292.1 L386.3,292.6 L388.6,285.2 L390.9,280.5 L393.3,275.3 L395.6,270.8 L397.9,268.7 L400.3,262.9 L402.6,259.2 L404.9,256.7 L407.2,254.1 L409.6,248.2 L411.9,246.2 L414.2,240.2 L416.6,236.2 L418.9,234.6 L421.2,233.6 L423.5,228.7 L425.9,222.3 L428.2,221.7 L430.5,215.4 L432.9,214.5 L435.2,206.4 L437.5,207.2 L439.9,203.3 L442.2,197.1 L444.5,193.5 L446.8,189.1 L449.2,189.9 L451.5,189.0 L453.8,183.6 L456.2,180.3 L458.5,179.0 L460.8,174.7 L463.1,171.5 L465.5,170.6 L467.8,166.7 L470.1,163.1 L472.5,166.3 L474.8,161.5 L477.1,164.2 L479.4,164.3 L481.8,159.5 L484.1,159.9 L486.4,153.2 L488.8,153.6 L491.1,154.2 L493.4,152.5 L495.8,152.1 L498.1,151.6 L500.4,153.0 L502.7,152.5 L505.1,148.2 L507.4,144.2 L509.7,145.0 L512.1,143.0 L514.4,142.6 L516.7,141.1 L519.0,137.5 L521.4,138.8 L523.7,135.3 L526.0,135.6 L528.4,132.4 L530.7,129.8 L533.0,129.7 L535.3,131.4 L537.7,132.3 L540.0,130.6 L542.3,126.2 L544.7,126.3 L547.0,123.4 L549.3,121.8 L551.7,120.7 L554.0,123.9 L556.3,120.5 L558.6,120.3 L561.0,117.6 L563.3,117.7 L565.6,118.4 L568.0,118.1 L570.3,118.2 L572.6,116.0 L574.9,114.3 L577.3,110.9 L579.6,104.2 L581.9,105.7 L584.3,103.5 L586.6,100.3 L588.9,96.9 L591.2,99.0 L593.6,99.5 L595.9,103.4 L598.2,102.4 L600.6,98.6 L602.9,94.9 L605.2,97.5 L607.6,99.8 L609.9,97.6 L612.2,96.5 L614.5,95.4 L616.9,93.5 L619.2,95.5 L621.5,96.2 L623.9,94.8 L626.2,96.4 L628.5,93.8 L630.8,92.4 L633.2,91.7 L635.5,90.7 L637.8,92.4 L640.2,88.0 L642.5,86.9 L644.8,84.5 L647.1,83.7 L649.5,78.8 L651.8,80.2 L654.1,79.6" stroke="#d39200"/>
<path d="M99.8,35.8 L102.1,32.2 L104.5,30.9 L106.8,30.8 L109.1,26.7 L111.4,24.9 L113.8,25.6 L116.1,26.2 L118.4,28.6 L120.8,25.3 L123.1,26.9 L125.4,24.0 L127.7,24.2 L130.1,25.8 L132.4,26.0 L134.7,26.4 L137.1,24.5 L139.4,29.0 L141.7,24.4 L144.0,27.1 L146.4,25.2 L148.7,23.1 L151.0,26.7 L153.4,24.0 L155.7,25.2 L158.0,23.0 L160.4,25.8 L162.7,25.8 L165.0,27.5 L167.3,28.4 L169.7,30.0 L172.0,30.3 L174.3,36.6 L176.7,41.4 L179.0,50.4 L181.3,56.1 L183.6,68.2 L186.0,79.4 L188.3,89.3 L190.6,95.5 L193.0,106.8 L195.3,113.0 L197.6,125.4 L199.9,137.3 L202.3,144.0 L204.6,148.6 L206.9,156.6 L209.3,169.1 L211.6,179.6 L213.9,190.0 L216.3,198.8 L218.6,210.2 L220.9,217.5 L223.2,223.5 L225.6,233.5 L227.9,240.1 L230.2,248.1 L232.6,251.8 L234.9,259.8 L237.2,264.5 L239.5,275.8 L241.9,280.5 L244.2,287.7 L246.5,292.8 L248.9,297.3 L251.2,303.9 L253.5,309.0 L255.8,313.8 L258.2,317.7 L260.5,324.0 L262.8,325.4 L265.2,329.0 L267.5,336.9 L269.8,337.5 L272.2,340.9 L274.5,344.7 L276.8,347.0 L279.1,350.5 L281.5,355.1 L283.8,356.3 L286.1,358.3 L288.5,359.2 L290.8,366.6 L293.1,366.3 L295.4,371.4 L297.8,371.4 L300.1,371.4 L302.4,371.4 L304.8,371.4 L307.1,368.7 L309.4,371.4 L311.7,370.4 L314.1,371.1 L316.4,368.6 L318.7,371.4 L321.1,370.5 L323.4,371.4 L325.7,371.4 L328.1,371.4 L330.4,371.3 L332.7,367.2 L335.0,367.3 L337.4,369.5 L339.7,367.0 L342.0,367.5 L344.4,364.1 L346.7,362.9 L349.0,356.8 L351.3,356.4 L353.7,358.0 L356.0,356.8 L358.3,353.7 L360.7,352.1 L363.0,349.8 L365.3,346.4 L367.6,346.4 L370.0,345.5 L372.3,343.0 L374.6,342.5 L377.0,337.3 L379.3,334.8 L381.6,333.2 L384.0,332.8 L386.3,327.7 L388.6,325.6 L390.9,322.0 L393.3,316.4 L395.6,311.4 L397.9,309.6 L400.3,305.3 L402.6,304.9 L404.9,299.1 L407.2,300.8 L409.6,296.6 L411.9,289.1 L414.2,284.9 L416.6,285.1 L418.9,279.7 L421.2,279.8 L423.5,275.2 L425.9,273.9 L428.2,269.2 L430.5,270.3 L432.9,270.3 L435.2,265.9 L437.5,262.0 L439.9,260.5 L442.2,261.4 L444.5,258.8 L446.8,256.0 L449.2,249.7 L451.5,247.3 L453.8,246.1 L456.2,239.2 L458.5,238.6 L460.8,235.2 L463.1,231.0 L465.5,226.2 L467.8,223.9 L470.1,227.4 L472.5,224.6 L474.8,220.3 L477.1,218.6 L479.4,215.2 L481.8,211.5 L484.1,212.1 L486.4,208.4 L488.8,207.8 L491.1,205.6 L493.4,204.3 L495.8,205.7 L498.1,204.3 L500.4,202.8 L502.7,200.0 L505.1,198.2 L507.4,196.3 L509.7,192.7 L512.1,191.8 L514.4,192.2 L516.7,189.8 L519.0,187.8 L521.4,187.1 L523.7,186.6 L526.0,187.4 L528.4,182.7 L530.7,180.7 L533.0,178.8 L535.3,181.7 L537.7,180.9 L540.0,177.6 L542.3,177.9 L544.7,172.9 L547.0,172.5 L549.3,171.4 L551.7,171.4 L554.0,171.4 L556.3,169.1 L558.6,169.6 L561.0,170.1 L563.3,169.7 L565.6,171.7 L568.0,171.0 L570.3,165.4 L572.6,170.0 L574.9,168.4 L577.3,166.6 L579.6,161.7 L581.9,162.2 L584.3,160.4 L586.6,157.3 L588.9,158.1 L591.2,154.1 L593.6,150.3 L595.9,149.4 L598.2,149.0 L600.6,148.7 L602.9,149.5 L605.2,149.9 L607.6,144.3 L609.9,148.8 L612.2,147.1 L614.5,147.4 L616.9,144.1 L619.2,140.1 L621.5,142.9 L623.9,142.0 L626.2,141.4 L628.5,142.4 L630.8,142.5 L633.2,140.2 L635.5,135.2 L637.8,134.2 L640.2,134.8 L642.5,134.8 L644.8,133.4 L647.1,136.1 L649.5,137.5 L651.8,137.5 L654.1,133.6" stroke="#f962dc"/>
<path d="M99.8,21.9 L102.1,23.4 L104.5,25.1 L106.8,24.3 L109.1,24.2 L111.4,22.4 L113.8,24.9 L116.1,26.0 L118.4,27.0 L120.8,24.8 L123.1,27.9 L125.4,25.9 L127.7,23.2 L130.1,26.6 L132.4,26.4 L134.7,23.8 L137.1,24.0 L139.4,26.4 L141.7,25.1 L144.0,24.1 L146.4,24.4 L148.7,23.0 L151.0,24.1 L153.4,25.1 L155.7,25.2 L158.0,24.2 L160.4,21.7 L162.7,24.3 L165.0,21.5 L167.3,24.3 L169.7,28.7 L172.0,30.3 L174.3,33.6 L176.7,39.8 L179.0,41.9 L181.3,50.0 L183.6,57.9 L186.0,64.7 L188.3,74.5 L190.6,81.1 L193.0,93.5 L195.3,97.5 L197.6,111.9 L199.9,121.8 L202.3,131.7 L204.6,138.2 L206.9,145.3 L209.3,156.6 L211.6,167.6 L213.9,172.2 L216.3,183.1 L218.6,190.0 L220.9,197.7 L223.2,208.6 L225.6,214.9 L227.9,221.9 L230.2,229.5 L232.6,238.9 L234.9,240.3 L237.2,249.2 L239.5,256.9 L241.9,263.1 L244.2,268.0 L246.5,273.0 L248.9,278.4 L251.2,288.7 L253.5,296.9 L255.8,300.9 L258.2,304.9 L260.5,311.3 L262.8,312.9 L265.2,318.4 L267.5,324.0 L269.8,323.6 L272.2,331.1 L274.5,335.5 L276.8,338.3 L279.1,341.9 L281.5,345.4 L283.8,343.2 L286.1,347.8 L288.5,352.4 L290.8,354.3 L293.1,355.6 L295.4,357.3 L297.8,359.8 L300.1,366.9 L302.4,367.2 L304.8,371.1 L307.1,367.2 L309.4,368.9 L311.7,369.8 L314.1,370.3 L316.4,371.4 L318.7,371.4 L321.1,371.4 L323.4,371.4 L325.7,371.0 L328.1,371.3 L330.4,371.4 L332.7,370.8 L335.0,369.4 L337.4,371.4 L339.7,371.4 L342.0,371.0 L344.4,367.6 L346.7,366.5 L349.0,362.4 L351.3,364.0 L353.7,363.5 L356.0,361.7 L358.3,361.0 L360.7,359.6 L363.0,351.8 L365.3,351.9 L367.6,349.2 L370.0,344.1 L372.3,339.0 L374.6,335.0 L377.0,333.5 L379.3,328.2 L381.6,321.4 L384.0,318.0 L386.3,315.1 L388.6,312.2 L390.9,306.4 L393.3,304.2 L395.6,298.2 L397.9,292.5 L400.3,288.2 L402.6,282.2 L404.9,276.6 L407.2,275.5 L409.6,272.1 L411.9,270.8 L414.2,262.0 L416.6,259.2 L418.9,251.6 L421.2,249.5 L423.5,244.0 L425.9,240.8 L428.2,237.7 L430.5,230.1 L432.9,226.9 L435.2,220.7 L437.5,219.0 L439.9,216.3 L442.2,212.7 L444.5,211.1 L446.8,204.4 L449.2,203.0 L451.5,198.5 L453.8,194.0 L456.2,196.2 L458.5,192.7 L460.8,187.5 L463.1,189.7 L465.5,186.5 L467.8,181.0 L470.1,176.2 L472.5,178.8 L474.8,176.3 L477.1,172.0 L479.4,172.8 L481.8,170.8 L484.1,171.2 L486.4,166.9 L488.8,164.0 L491.1,164.6 L493.4,161.4 L495.8,157.1 L498.1,154.6 L500.4,154.1 L502.7,150.8 L505.1,148.5 L507.4,153.4 L509.7,152.4 L512.1,147.3 L514.4,147.6 L516.7,148.7 L519.0,145.3 L521.4,138.6 L523.7,135.0 L526.0,136.0 L528.4,135.6 L530.7,133.1 L533.0,131.4 L535.3,131.1 L537.7,129.7 L540.0,130.6 L542.3,128.2 L544.7,122.6 L547.0,125.4 L549.3,128.5 L551.7,124.7 L554.0,121.3 L556.3,122.0 L558.6,122.4 L561.0,122.2 L563.3,121.2 L565.6,119.5 L568.0,122.0 L570.3,117.2 L572.6,114.6 L574.9,111.5 L577.3,114.0 L579.6,110.8 L581.9,107.2 L584.3,110.6 L586.6,107.1 L588.9,107.2 L591.2,105.0 L593.6,104.5 L595.9,102.4 L598.2,99.8 L600.6,101.1 L602.9,102.7 L605.2,101.2 L607.6,97.5 L609.9,93.3 L612.2,93.7 L614.5,96.5 L616.9,94.4 L619.2,93.5 L621.5,93.9 L623.9,90.1 L626.2,90.6 L628.5,85.1 L630.8,89.2 L633.2,87.8 L635.5,85.9 L637.8,88.4 L640.2,90.1 L642.5,83.9 L644.8,82.9 L647.1,83.5 L649.5,83.5 L651.8,84.4 L654.1,82.6" stroke="#fd6f86"/>
<path d="M99.8,23.2 L102.1,24.7 L104.5,26.8 L106.8,27.7 L109.1,25.0 L111.4,23.9 L113.8,25.3 L116.1,26.9 L118.4,26.3 L120.8,27.6 L123.1,26.0 L125.4,27.5 L127.7,24.2 L130.1,24.5 L132.4,24.6 L134.7,26.2 L137.1,24.7 L139.4,25.4 L141.7,26.0 L144.0,27.0 L146.4,25.9 L148.7,25.9 L151.0,26.5 L153.4,27.3 L155.7,24.6 L158.0,24.0 L160.4,23.9 L162.7,25.6 L165.0,25.4 L167.3,27.3 L169.7,28.7 L172.0,31.5 L174.3,28.4 L176.7,37.9 L179.0,42.9 L181.3,48.8 L183.6,53.2 L186.0,65.4 L188.3,70.8 L190.6,78.1 L193.0,89.3 L195.3,96.0 L197.6,107.0 L199.9,115.0 L202.3,127.2 L204.6,132.8 L206.9,143.0 L209.3,150.6 L211.6,160.5 L213.9,168.7 L216.3,177.6 L218.6,183.7 L220.9,193.2 L223.2,204.4 L225.6,207.5 L227.9,218.9 L230.2,221.1 L232.6,232.1 L234.9,240.0 L237.2,249.5 L239.5,257.2 L241.9,263.3 L244.2,266.7 L246.5,275.4 L248.9,279.4 L251.2,285.2 L253.5,291.8 L255.8,297.8 L258.2,306.4 L260.5,312.0 L262.8,315.1 L265.2,315.8 L267.5,321.7 L269.8,323.8 L272.2,329.8 L274.5,331.1 L276.8,335.8 L279.1,340.2 L281.5,341.8 L283.8,345.3 L286.1,349.1 L288.5,350.4 L290.8,353.9 L293.1,356.0 L295.4,357.7 L297.8,359.9 L300.1,363.2 L302.4,365.9 L304.8,365.6 L307.1,363.1 L309.4,370.3 L311.7,371.4 L314.1,371.1 L316.4,371.4 L318.7,368.9 L321.1,369.9 L323.4,371.4 L325.7,368.4 L328.1,368.6 L330.4,368.4 L332.7,367.0 L335.0,371.4 L337.4,371.4 L339.7,369.3 L342.0,371.4 L344.4,371.4 L346.7,371.4 L349.0,371.0 L351.3,371.4 L353.7,370.7 L356.0,366.6 L358.3,366.6 L360.7,365.1 L363.0,362.4 L365.3,356.6 L367.6,356.2 L370.0,352.4 L372.3,352.6 L374.6,347.2 L377.0,345.2 L379.3,342.3 L381.6,340.6 L384.0,334.9 L386.3,334.6 L388.6,327.8 L390.9,327.8 L393.3,324.4 L395.6,319.0 L397.9,318.6 L400.3,315.0 L402.6,309.9 L404.9,306.6 L407.2,305.0 L409.6,302.1 L411.9,298.9 L414.2,298.3 L416.6,297.3 L418.9,289.7 L421.2,283.2 L423.5,281.9 L425.9,278.1 L428.2,273.1 L430.5,271.2 L432.9,264.3 L435.2,259.0 L437.5,260.7 L439.9,255.3 L442.2,252.2 L444.5,246.9 L446.8,247.9 L449.2,247.1 L451.5,243.7 L453.8,242.9 L456.2,239.6 L458.5,233.1 L460.8,228.6 L463.1,230.4 L465.5,224.4 L467.8,221.0 L470.1,221.1 L472.5,218.2 L474.8,218.0 L477.1,217.9 L479.4,211.0 L481.8,209.5 L484.1,206.6 L486.4,203.8 L488.8,204.6 L491.1,204.9 L493.4,196.9 L495.8,197.3 L498.1,197.3 L500.4,197.0 L502.7,193.4 L505.1,189.1 L507.4,188.5 L509.7,183.5 L512.1,181.2 L514.4,181.0 L516.7,182.5 L519.0,179.8 L521.4,178.9 L523.7,176.9 L526.0,175.9 L528.4,170.5 L530.7,173.2 L533.0,171.3 L535.3,169.0 L537.7,164.4 L540.0,167.8 L542.3,163.2 L544.7,166.9 L547.0,162.8 L549.3,162.5 L551.7,158.7 L554.0,155.8 L556.3,157.8 L558.6,155.0 L561.0,151.8 L563.3,150.9 L565.6,146.1 L568.0,148.7 L570.3,149.6 L572.6,150.0 L574.9,147.8 L577.3,146.4 L579.6,148.7 L581.9,150.4 L584.3,148.7 L586.6,144.6 L588.9,143.6 L591.2,143.3 L593.6,139.9 L595.9,142.2 L598.2,141.1 L600.6,138.3 L602.9,136.5 L605.2,137.9 L607.6,140.0 L609.9,135.9 L612.2,133.4 L614.5,132.9 L616.9,131.3 L619.2,125.9 L621.5,126.6 L623.9,125.4 L626.2,126.5 L628.5,127.2 L630.8,126.9 L633.2,128.0 L635.5,124.4 L637.8,119.6 L640.2,120.3 L642.5,117.6 L644.8,117.2 L647.1,117.6 L649.5,117.1 L651.8,116.3 L654.1,114.1" stroke="#8e92ff"/>
<path d="M99.8,25.5 L102.1,27.1 L104.5,25.7 L106.8,24.7 L109.1,22.0 L111.4,25.2 L113.8,25.2 L116.1,26.4 L118.4,26.2 L120.8,27.8 L123.1,27.1 L125.4,25.7 L127.7,25.4 L130.1,25.1 L132.4,23.8 L134.7,22.5 L137.1,24.5 L139.4,25.1 L141.7,24.4 L144.0,24.3 L146.4,21.1 L148.7,23.1 L151.0,25.5 L153.4,26.6 L155.7,27.2 L158.0,29.1 L160.4,28.7 L162.7,31.0 L165.0,33.3 L167.3,35.4 L169.7,39.7 L172.0,44.9 L174.3,52.0 L176.7,59.6 L179.0,69.7 L181.3,78.4 L183.6,84.5 L186.0,92.1 L188.3,100.7 L190.6,113.8 L193.0,122.5 L195.3,134.2 L197.6,139.9 L199.9,151.2 L202.3,160.5 L204.6,168.1 L206.9,178.8 L209.3,186.7 L211.6,193.9 L213.9,203.7 L216.3,211.8 L218.6,216.0 L220.9,225.4 L223.2,231.9 L225.6,239.7 L227.9,248.4 L230.2,253.5 L232.6,261.1 L234.9,264.8 L237.2,269.4 L239.5,277.3 L241.9,283.2 L244.2,286.2 L246.5,292.9 L248.9,299.5 L251.2,302.0 L253.5,306.2 L255.8,309.9 L258.2,313.2 L260.5,315.8 L262.8,324.4 L265.2,325.5 L267.5,334.8 L269.8,336.0 L272.2,338.5 L274.5,342.0 L276.8,345.8 L279.1,350.1 L281.5,353.6 L283.8,356.4 L286.1,361.6 L288.5,360.9 L290.8,362.0 L293.1,365.7 L295.4,365.1 L297.8,369.5 L300.1,371.4 L302.4,371.4 L304.8,370.9 L307.1,368.6 L309.4,370.7 L311.7,371.4 L314.1,370.7 L316.4,368.9 L318.7,371.0 L321.1,368.0 L323.4,368.7 L325.7,371.4 L328.1,368.5 L330.4,365.6 L332.7,370.3 L335.0,365.5 L337.4,364.0 L339.7,360.5 L342.0,361.4 L344.4,356.3 L346.7,353.0 L349.0,350.4 L351.3,346.8 L353.7,350.8 L356.0,343.9 L358.3,341.1 L360.7,338.3 L363.0,336.3 L365.3,333.4 L367.6,330.0 L370.0,324.0 L372.3,322.9 L374.6,318.7 L377.0,318.0 L379.3,314.9 L381.6,313.4 L384.0,312.4 L386.3,305.3 L388.6,302.6 L390.9,296.4 L393.3,293.1 L395.6,291.4 L397.9,287.5 L400.3,278.3 L402.6,276.6 L404.9,274.9 L407.2,268.0 L409.6,269.5 L411.9,266.5 L414.2,262.4 L416.6,259.3 L418.9,254.1 L421.2,250.4 L423.5,247.5 L425.9,243.9 L428.2,237.4 L430.5,237.8 L432.9,231.2 L435.2,226.7 L437.5,226.5 L439.9,223.2 L442.2,222.3 L444.5,218.3 L446.8,215.1 L449.2,210.8 L451.5,207.5 L453.8,205.2 L456.2,201.1 L458.5,200.5 L460.8,195.2 L463.1,194.7 L465.5,188.6 L467.8,186.1 L470.1,187.2 L472.5,189.4 L474.8,190.6 L477.1,191.8 L479.4,186.0 L481.8,184.1 L484.1,184.2 L486.4,181.6 L488.8,180.1 L491.1,177.1 L493.4,177.8 L495.8,179.8 L498.1,177.1 L500.4,171.5 L502.7,169.7 L505.1,164.8 L507.4,161.2 L509.7,159.1 L512.1,156.3 L514.4,155.6 L516.7,154.9 L519.0,155.9 L521.4,156.3 L523.7,151.5 L526.0,153.6 L528.4,154.9 L530.7,150.8 L533.0,146.9 L535.3,145.5 L537.7,148.2 L540.0,145.6 L542.3,143.9 L544.7,142.9 L547.0,141.1 L549.3,137.2 L551.7,136.6 L554.0,138.7 L556.3,135.7 L558.6,134.6 L561.0,137.5 L563.3,138.6 L565.6,136.0 L568.0,137.2 L570.3,134.4 L572.6,134.3 L574.9,131.4 L577.3,128.7 L579.6,127.0 L581.9,132.5 L584.3,129.6 L586.6,128.8 L588.9,123.6 L591.2,122.4 L593.6,122.3 L595.9,120.3 L598.2,119.2 L600.6,118.1 L602.9,117.7 L605.2,118.7 L607.6,118.9 L609.9,117.7 L612.2,114.7 L614.5,115.4 L616.9,111.6 L619.2,112.3 L621.5,111.1 L623.9,109.4 L626.2,109.7 L628.5,107.9 L630.8,107.2 L633.2,110.5 L635.5,110.5 L637.8,107.5 L640.2,106.5 L642.5,105.7 L644.8,103.9 L647.1,100.2 L649.5,100.1 L651.8,99.2 L654.1,99.3" stroke="#b79f00"/>
<path d="M99.8,25.8 L102.1,26.4 L104.5,26.2 L106.8,24.9 L109.1,25.2 L111.4,25.3 L113.8,21.5 L116.1,25.4 L118.4,28.0 L120.8,26.9 L123.1,25.5 L125.4,24.4 L127.7,23.1 L130.1,23.7 L132.4,23.2 L134.7,22.4 L137.1,25.5 L139.4,24.9 L141.7,27.4 L144.0,26.0 L146.4,27.6 L148.7,26.0 L151.0,25.0 L153.4,25.6 L155.7,26.8 L158.0,25.2 L160.4,25.6 L162.7,25.3 L165.0,26.1 L167.3,24.9 L169.7,25.9 L172.0,28.8 L174.3,29.5 L176.7,32.9 L179.0,38.6 L181.3,44.8 L183.6,53.6 L186.0,59.4 L188.3,71.2 L190.6,79.1 L193.0,87.0 L195.3,99.2 L197.6,107.6 L199.9,115.3 L202.3,122.8 L204.6,132.8 L206.9,143.3 L209.3,150.1 L211.6,160.6 L213.9,167.9 L216.3,177.7 L218.6,184.7 L220.9,196.9 L223.2,203.0 L225.6,211.6 L227.9,220.9 L230.2,226.4 L232.6,237.0 L234.9,242.2 L237.2,251.1 L239.5,257.8 L241.9,263.6 L244.2,266.1 L246.5,274.1 L248.9,280.4 L251.2,285.0 L253.5,293.6 L255.8,300.9 L258.2,305.7 L260.5,309.5 L262.8,313.0 L265.2,319.0 L267.5,324.4 L269.8,326.5 L272.2,327.9 L274.5,334.5 L276.8,335.8 L279.1,343.0 L281.5,345.2 L283.8,349.3 L286.1,348.4 L288.5,354.7 L290.8,358.4 L293.1,356.6 L295.4,360.2 L297.8,361.6 L300.1,365.0 L302.4,365.2 L304.8,370.1 L307.1,370.3 L309.4,369.4 L311.7,366.6 L314.1,369.8 L316.4,369.9 L318.7,367.2 L321.1,365.9 L323.4,371.4 L325.7,370.4 L328.1,368.3 L330.4,366.6 L332.7,365.9 L335.0,363.1 L337.4,364.6 L339.7,361.0 L342.0,360.8 L344.4,360.9 L346.7,355.4 L349.0,349.9 L351.3,350.2 L353.7,343.5 L356.0,341.3 L358.3,335.0 L360.7,337.2 L363.0,336.7 L365.3,333.4 L367.6,334.7 L370.0,331.6 L372.3,329.4 L374.6,325.9 L377.0,318.6 L379.3,318.3 L381.6,317.4 L384.0,313.6 L386.3,313.4 L388.6,310.3 L390.9,308.3 L393.3,306.7 L395.6,303.3 L397.9,301.2 L400.3,297.2 L402.6,293.1 L404.9,292.8 L407.2,289.9 L409.6,286.6 L411.9,285.0 L414.2,277.9 L416.6,278.4 L418.9,278.0 L421.2,272.4 L423.5,273.3 L425.9,270.2 L428.2,268.0 L430.5,267.7 L432.9,260.9 L435.2,259.5 L437.5,258.8 L439.9,253.3 L442.2,251.0 L444.5,248.1 L446.8,250.3 L449.2,245.7 L451.5,245.4 L453.8,245.8 L456.2,244.3 L458.5,240.1 L460.8,240.2 L463.1,234.9 L465.5,237.1 L467.8,234.9 L470.1,229.5 L472.5,226.8 L474.8,229.9 L477.1,228.7 L479.4,227.1 L481.8,223.0 L484.1,218.0 L486.4,217.8 L488.8,213.8 L491.1,211.4 L493.4,212.6 L495.8,204.8 L498.1,204.8 L500.4,203.2 L502.7,202.1 L505.1,198.9 L507.4,200.5 L509.7,199.0 L512.1,197.4 L514.4,195.8 L516.7,191.2 L519.0,190.3 L521.4,194.0 L523.7,193.7 L526.0,194.1 L528.4,193.5 L530.7,193.2 L533.0,189.2 L535.3,192.7 L537.7,188.5 L540.0,189.2 L542.3,191.6 L544.7,189.7 L547.0,185.4 L549.3,187.2 L551.7,183.2 L554.0,186.4 L556.3,184.2 L558.6,181.9 L561.0,175.2 L563.3,174.9 L565.6,174.0 L568.0,170.8 L570.3,168.4 L572.6,172.1 L574.9,168.1 L577.3,172.2 L579.6,169.8 L581.9,169.1 L584.3,167.9 L586.6,166.1 L588.9,165.3 L591.2,165.3 L593.6,165.0 L595.9,162.5 L598.2,164.5 L600.6,159.9 L602.9,156.5 L605.2,157.8 L607.6,159.4 L609.9,159.8 L612.2,156.9 L614.5,154.0 L616.9,153.9 L619.2,153.5 L621.5,154.5 L623.9,152.1 L626.2,152.2 L628.5,149.9 L630.8,150.4 L633.2,147.8 L635.5,147.4 L637.8,144.6 L640.2,143.6 L642.5,145.8 L644.8,144.1 L647.1,144.5 L649.5,141.9 L651.8,142.4 L654.1,138.8" stroke="#00b6ea"/>
<path d="M99.8,18.7 L102.1,20.3 L104.5,20.0 L106.8,19.5 L109.1,19.5 L111.4,21.0 L113.8,19.3 L116.1,18.7 L118.4,18.7 L120.8,18.7 L123.1,19.6 L125.4,18.7 L127.7,18.7 L130.1,18.7 L132.4,19.1 L134.7,20.4 L137.1,18.7 L139.4,20.9 L141.7,19.4 L144.0,19.1 L146.4,18.7 L148.7,18.7 L151.0,18.7 L153.4,18.7 L155.7,18.7 L158.0,18.7 L160.4,19.8 L162.7,20.3 L165.0,22.5 L167.3,25.2 L169.7,26.0 L172.0,27.7 L174.3,28.0 L176.7,30.6 L179.0,37.4 L181.3,39.8 L183.6,50.7 L186.0,61.5 L188.3,68.6 L190.6,76.4 L193.0,87.4 L195.3,92.5 L197.6,106.0 L199.9,112.3 L202.3,118.4 L204.6,122.4 L206.9,136.3 L209.3,145.2 L211.6,152.9 L213.9,163.2 L216.3,173.1 L218.6,180.5 L220.9,189.0 L223.2,196.6 L225.6,205.1 L227.9,217.3 L230.2,226.5 L232.6,231.1 L234.9,242.0 L237.2,244.3 L239.5,250.4 L241.9,258.0 L244.2,264.7 L246.5,269.4 L248.9,274.4 L251.2,280.3 L253.5,287.4 L255.8,290.2 L258.2,294.5 L260.5,296.1 L262.8,300.2 L265.2,304.0 L267.5,309.5 L269.8,312.2 L272.2,318.1 L274.5,324.9 L276.8,327.2 L279.1,331.2 L281.5,337.4 L283.8,336.1 L286.1,343.5 L288.5,345.4 L290.8,346.6 L293.1,348.1 L295.4,351.6 L297.8,354.4 L300.1,354.4 L302.4,356.9 L304.8,358.5 L307.1,363.6 L309.4,366.0 L311.7,368.5 L314.1,368.1 L316.4,371.4 L318.7,368.8 L321.1,369.4 L323.4,371.1 L325.7,369.8 L328.1,371.4 L330.4,371.4 L332.7,371.4 L335.0,371.4 L337.4,369.9 L339.7,371.4 L342.0,368.3 L344.4,369.8 L346.7,368.5 L349.0,369.7 L351.3,367.9 L353.7,365.4 L356.0,370.4 L358.3,368.9 L360.7,366.8 L363.0,368.1 L365.3,363.6 L367.6,362.4 L370.0,361.7 L372.3,357.0 L374.6,356.2 L377.0,354.3 L379.3,355.8 L381.6,355.5 L384.0,348.5 L386.3,351.0 L388.6,350.9 L390.9,346.9 L393.3,344.0 L395.6,339.8 L397.9,338.9 L400.3,336.7 L402.6,333.6 L404.9,329.7 L407.2,327.3 L409.6,325.8 L411.9,322.8 L414.2,317.5 L416.6,315.1 L418.9,312.0 L421.2,313.3 L423.5,311.7 L425.9,305.8 L428.2,303.9 L430.5,300.9 L432.9,305.2 L435.2,301.4 L437.5,298.2 L439.9,294.8 L442.2,290.3 L444.5,288.8 L446.8,287.0 L449.2,280.3 L451.5,277.2 L453.8,276.4 L456.2,271.0 L458.5,267.2 L460.8,265.5 L463.1,263.6 L465.5,263.2 L467.8,261.1 L470.1,257.9 L472.5,259.0 L474.8,252.6 L477.1,252.1 L479.4,252.3 L481.8,251.1 L484.1,248.5 L486.4,247.4 L488.8,246.6 L491.1,247.4 L493.4,246.4 L495.8,241.5 L498.1,240.3 L500.4,236.8 L502.7,235.7 L505.1,235.3 L507.4,231.0 L509.7,228.7 L512.1,225.7 L514.4,221.9 L516.7,220.7 L519.0,217.8 L521.4,214.8 L523.7,215.0 L526.0,212.9 L528.4,214.0 L530.7,213.3 L533.0,208.7 L535.3,203.5 L537.7,204.3 L540.0,204.0 L542.3,201.2 L544.7,201.7 L547.0,202.4 L549.3,200.5 L551.7,198.0 L554.0,194.6 L556.3,192.9 L558.6,191.4 L561.0,192.3 L563.3,190.7 L565.6,186.2 L568.0,185.0 L570.3,186.2 L572.6,184.4 L574.9,185.7 L577.3,187.4 L579.6,183.2 L581.9,181.9 L584.3,175.5 L586.6,175.2 L588.9,176.8 L591.2,177.1 L593.6,175.5 L595.9,174.4 L598.2,174.2 L600.6,171.1 L602.9,170.7 L605.2,168.9 L607.6,167.2 L609.9,168.7 L612.2,168.1 L614.5,164.0 L616.9,164.2 L619.2,161.3 L621.5,160.7 L623.9,158.5 L626.2,155.5 L628.5,160.2 L630.8,158.2 L633.2,159.2 L635.5,155.5 L637.8,156.1 L640.2,156.3 L642.5,155.1 L644.8,153.9 L647.1,153.4 L649.5,152.0 L651.8,152.8 L654.1,154.4" stroke="#00a5ff"/>
<path d="M99.8,112.7 L102.1,115.5 L104.5,116.9 L106.8,113.2 L109.1,113.9 L111.4,114.0 L113.8,113.5 L116.1,114.5 L118.4,114.1 L120.8,113.3 L123.1,114.6 L125.4,114.0 L127.7,114.2 L130.1,114.7 L132.4,114.0 L134.7,115.0 L137.1,114.9 L139.4,116.9 L141.7,114.7 L144.0,115.3 L146.4,116.8 L148.7,116.0 L151.0,113.0 L153.4,114.0 L155.7,116.2 L158.0,116.1 L160.4,116.2 L162.7,115.1 L165.0,115.7 L167.3,116.4 L169.7,120.2 L172.0,122.1 L174.3,124.9 L176.7,129.6 L179.0,140.0 L181.3,145.0 L183.6,150.6 L186.0,158.4 L188.3,168.8 L190.6,174.6 L193.0,181.4 L195.3,187.2 L197.6,192.6 L199.9,200.9 L202.3,208.5 L204.6,212.5 L206.9,220.0 L209.3,223.9 L211.6,229.1 L213.9,240.1 L216.3,244.0 L218.6,249.3 L220.9,258.1 L223.2,261.9 L225.6,272.2 L227.9,278.6 L230.2,285.0 L232.6,287.9 L234.9,296.3 L237.2,298.8 L239.5,303.4 L241.9,307.8 L244.2,311.8 L246.5,320.6 L248.9,322.9 L251.2,326.2 L253.5,327.6 L255.8,332.9 L258.2,332.3 L260.5,335.5 L262.8,335.7 L265.2,342.6 L267.5,346.6 L269.8,346.6 L272.2,350.6 L274.5,354.4 L276.8,355.1 L279.1,355.9 L281.5,358.4 L283.8,361.0 L286.1,361.4 L288.5,363.9 L290.8,364.3 L293.1,367.4 L295.4,364.8 L297.8,366.5 L300.1,369.6 L302.4,371.0 L304.8,369.6 L307.1,369.3 L309.4,370.0 L311.7,371.4 L314.1,370.0 L316.4,370.9 L318.7,368.9 L321.1,371.4 L323.4,371.4 L325.7,371.4 L328.1,371.4 L330.4,371.4 L332.7,371.4 L335.0,371.4 L337.4,371.4 L339.7,367.2 L342.0,371.4 L344.4,371.4 L346.7,370.7 L349.0,369.2 L351.3,371.0 L353.7,369.4 L356.0,364.2 L358.3,365.8 L360.7,365.7 L363.0,366.3 L365.3,365.0 L367.6,365.3 L370.0,368.3 L372.3,363.5 L374.6,363.0 L377.0,356.3 L379.3,359.2 L381.6,357.1 L384.0,354.0 L386.3,353.6 L388.6,354.8 L390.9,353.8 L393.3,354.3 L395.6,354.0 L397.9,353.7 L400.3,351.4 L402.6,344.4 L404.9,341.1 L407.2,339.6 L409.6,339.7 L411.9,338.1 L414.2,339.2 L416.6,334.1 L418.9,332.4 L421.2,332.9 L423.5,330.8 L425.9,328.8 L428.2,331.5 L430.5,331.5 L432.9,328.0 L435.2,329.7 L437.5,324.6 L439.9,323.4 L442.2,326.8 L444.5,320.8 L446.8,319.1 L449.2,315.8 L451.5,314.1 L453.8,315.2 L456.2,312.8 L458.5,308.4 L460.8,305.9 L463.1,302.1 L465.5,304.9 L467.8,302.8 L470.1,303.2 L472.5,300.0 L474.8,300.2 L477.1,297.5 L479.4,293.1 L481.8,293.3 L484.1,296.0 L486.4,286.5 L488.8,287.6 L491.1,285.8 L493.4,287.6 L495.8,284.8 L498.1,284.2 L500.4,280.2 L502.7,278.9 L505.1,279.1 L507.4,277.5 L509.7,277.6 L512.1,277.0 L514.4,273.4 L516.7,273.7 L519.0,270.0 L521.4,264.3 L523.7,263.8 L526.0,265.3 L528.4,263.0 L530.7,254.2 L533.0,257.6 L535.3,257.1 L537.7,259.2 L540.0,258.2 L542.3,256.1 L544.7,253.5 L547.0,251.3 L549.3,246.9 L551.7,243.0 L554.0,245.7 L556.3,248.2 L558.6,245.5 L561.0,247.9 L563.3,245.9 L565.6,243.8 L568.0,241.1 L570.3,240.0 L572.6,239.0 L574.9,236.1 L577.3,234.3 L579.6,232.7 L581.9,235.8 L584.3,230.2 L586.6,226.6 L588.9,224.0 L591.2,223.6 L593.6,225.6 L595.9,221.1 L598.2,221.3 L600.6,218.4 L602.9,217.6 L605.2,218.4 L607.6,220.3 L609.9,218.1 L612.2,217.6 L614.5,217.7 L616.9,220.0 L619.2,218.5 L621.5,215.3 L623.9,213.6 L626.2,212.6 L628.5,217.3 L630.8,216.1 L633.2,212.1 L635.5,209.1 L637.8,207.5 L640.2,205.6 L642.5,203.9 L644.8,199.9 L647.1,204.6 L649.5,201.6 L651.8,198.8 L654.1,198.1" stroke="#f564e3"/>
<path d="M99.8,32.1 L102.1,31.2 L104.5,30.8 L106.8,30.4 L109.1,29.8 L111.4,30.1 L113.8,26.8 L116.1,28.1 L118.4,27.5 L120.8,29.8 L123.1,28.4 L125.4,26.3 L127.7,26.8 L130.1,27.1 L132.4,29.5 L134.7,31.3 L137.1,28.2 L139.4,28.4 L141.7,28.7 L144.0,27.9 L146.4,26.4 L148.7,27.4 L151.0,25.0 L153.4,24.4 L155.7,27.7 L158.0,31.1 L160.4,31.5 L162.7,34.6 L165.0,39.4 L167.3,42.4 L169.7,46.2 L172.0,50.6 L174.3,58.5 L176.7,68.3 L179.0,79.1 L181.3,86.6 L183.6,96.2 L186.0,109.0 L188.3,115.8 L190.6,129.4 L193.0,138.3 L195.3,147.4 L197.6,156.6 L199.9,165.4 L202.3,172.0 L204.6,181.2 L206.9,191.5 L209.3,202.7 L211.6,210.1 L213.9,218.2 L216.3,229.2 L218.6,236.9 L220.9,247.2 L223.2,254.8 L225.6,258.8 L227.9,264.6 L230.2,270.2 L232.6,280.2 L234.9,288.5 L237.2,296.0 L239.5,296.2 L241.9,306.6 L244.2,311.0 L246.5,316.8 L248.9,323.7 L251.2,324.6 L253.5,327.9 L255.8,328.7 L258.2,332.3 L260.5,336.2 L262.8,341.0 L265.2,347.0 L267.5,348.4 L269.8,346.8 L272.2,350.6 L274.5,353.8 L276.8,354.0 L279.1,357.5 L281.5,361.0 L283.8,365.0 L286.1,363.3 L288.5,365.3 L290.8,367.4 L293.1,365.5 L295.4,368.2 L297.8,371.4 L300.1,371.4 L302.4,371.4 L304.8,371.4 L307.1,371.4 L309.4,371.4 L311.7,371.4 L314.1,371.4 L316.4,371.4 L318.7,370.7 L321.1,371.4 L323.4,370.2 L325.7,369.4 L328.1,365.2 L330.4,363.5 L332.7,360.9 L335.0,358.2 L337.4,362.7 L339.7,365.6 L342.0,363.3 L344.4,367.2 L346.7,369.6 L349.0,370.3 L351.3,367.4 L353.7,362.7 L356.0,365.0 L358.3,363.0 L360.7,364.5 L363.0,366.4 L365.3,360.8 L367.6,361.5 L370.0,364.1 L372.3,361.6 L374.6,360.0 L377.0,362.8 L379.3,360.4 L381.6,359.2 L384.0,359.5 L386.3,357.4 L388.6,353.7 L390.9,349.4 L393.3,351.5 L395.6,346.8 L397.9,345.6 L400.3,342.8 L402.6,339.0 L404.9,337.3 L407.2,339.2 L409.6,337.0 L411.9,334.6 L414.2,336.0 L416.6,332.7 L418.9,330.4 L421.2,327.7 L423.5,324.4 L425.9,324.6 L428.2,320.9 L430.5,318.1 L432.9,317.0 L435.2,313.5 L437.5,310.7 L439.9,310.5 L442.2,306.2 L444.5,306.7 L446.8,305.1 L449.2,303.4 L451.5,300.1 L453.8,296.1 L456.2,294.0 L458.5,292.7 L460.8,292.4 L463.1,291.6 L465.5,288.3 L467.8,288.0 L470.1,284.2 L472.5,281.9 L474.8,278.3 L477.1,280.1 L479.4,277.7 L481.8,274.9 L484.1,276.1 L486.4,272.1 L488.8,274.0 L491.1,270.3 L493.4,266.1 L495.8,265.3 L498.1,260.3 L500.4,258.2 L502.7,258.9 L505.1,256.8 L507.4,255.3 L509.7,252.7 L512.1,250.2 L514.4,251.1 L516.7,251.5 L519.0,249.0 L521.4,253.4 L523.7,247.7 L526.0,249.1 L528.4,245.3 L530.7,240.8 L533.0,242.0 L535.3,235.8 L537.7,235.8 L540.0,236.3 L542.3,233.4 L544.7,233.6 L547.0,230.6 L549.3,229.6 L551.7,226.6 L554.0,225.4 L556.3,227.2 L558.6,223.8 L561.0,222.6 L563.3,221.5 L565.6,218.1 L568.0,216.0 L570.3,210.3 L572.6,212.8 L574.9,212.0 L577.3,212.6 L579.6,212.8 L581.9,215.1 L584.3,215.8 L586.6,210.8 L588.9,210.5 L591.2,207.5 L593.6,206.6 L595.9,205.2 L598.2,201.6 L600.6,202.4 L602.9,201.9 L605.2,198.8 L607.6,196.5 L609.9,198.1 L612.2,191.1 L614.5,192.8 L616.9,192.9 L619.2,192.5 L621.5,190.7 L623.9,189.1 L626.2,186.5 L628.5,187.7 L630.8,185.5 L633.2,184.8 L635.5,182.7 L637.8,188.0 L640.2,184.0 L642.5,185.6 L644.8,183.4 L647.1,182.4 L649.5,180.6 L651.8,181.9 L654.1,182.5" stroke="#00bbdc"/>
<path d="M99.8,21.4 L102.1,19.4 L104.5,19.3 L106.8,18.7 L109.1,18.7 L111.4,21.3 L113.8,20.3 L116.1,18.7 L118.4,18.7 L120.8,20.1 L123.1,22.0 L125.4,20.5 L127.7,21.5 L130.1,20.7 L132.4,19.4 L134.7,18.7 L137.1,18.7 L139.4,20.7 L141.7,20.7 L144.0,20.1 L146.4,22.2 L148.7,20.9 L151.0,20.7 L153.4,20.5 L155.7,21.0 L158.0,21.0 L160.4,21.9 L162.7,19.7 L165.0,21.9 L167.3,22.2 L169.7,23.1 L172.0,24.8 L174.3,29.5 L176.7,34.6 L179.0,39.8 L181.3,45.3 L183.6,48.6 L186.0,56.7 L188.3,64.0 L190.6,73.0 L193.0,81.1 L195.3,93.2 L197.6,104.7 L199.9,112.6 L202.3,118.7 L204.6,128.6 L206.9,136.6 L209.3,144.2 L211.6,149.4 L213.9,157.9 L216.3,167.4 L218.6,179.0 L220.9,188.6 L223.2,196.0 L225.6,204.3 L227.9,212.0 L230.2,222.0 L232.6,227.7 L234.9,231.8 L237.2,240.3 L239.5,245.3 L241.9,253.5 L244.2,259.7 L246.5,262.2 L248.9,271.8 L251.2,280.5 L253.5,284.6 L255.8,291.6 L258.2,296.0 L260.5,301.5 L262.8,309.4 L265.2,311.0 L267.5,314.4 L269.8,317.1 L272.2,322.3 L274.5,323.2 L276.8,329.3 L279.1,334.6 L281.5,334.6 L283.8,336.6 L286.1,338.7 L288.5,341.1 L290.8,341.9 L293.1,347.1 L295.4,352.3 L297.8,350.3 L300.1,355.0 L302.4,358.9 L304.8,358.1 L307.1,364.0 L309.4,365.4 L311.7,365.1 L314.1,367.5 L316.4,368.7 L318.7,371.4 L321.1,371.4 L323.4,370.8 L325.7,371.4 L328.1,371.4 L330.4,368.8 L332.7,369.8 L335.0,369.2 L337.4,371.4 L339.7,370.6 L342.0,370.8 L344.4,371.4 L346.7,371.4 L349.0,371.4 L351.3,371.4 L353.7,370.5 L356.0,368.2 L358.3,367.2 L360.7,368.6 L363.0,369.7 L365.3,366.7 L367.6,366.0 L370.0,360.6 L372.3,361.0 L374.6,359.6 L377.0,358.0 L379.3,358.2 L381.6,358.5 L384.0,355.9 L386.3,353.7 L388.6,351.9 L390.9,350.6 L393.3,344.8 L395.6,343.0 L397.9,340.1 L400.3,337.0 L402.6,335.9 L404.9,337.7 L407.2,335.3 L409.6,336.6 L411.9,338.0 L414.2,333.2 L416.6,328.6 L418.9,326.3 L421.2,328.8 L423.5,326.2 L425.9,327.4 L428.2,323.8 L430.5,320.3 L432.9,320.4 L435.2,314.9 L437.5,316.5 L439.9,307.7 L442.2,304.7 L444.5,302.9 L446.8,305.8 L449.2,302.1 L451.5,300.5 L453.8,296.2 L456.2,294.9 L458.5,294.1 L460.8,293.8 L463.1,288.8 L465.5,286.7 L467.8,284.9 L470.1,285.7 L472.5,281.1 L474.8,281.7 L477.1,280.5 L479.4,275.2 L481.8,275.6 L484.1,272.9 L486.4,273.7 L488.8,270.7 L491.1,267.5 L493.4,267.5 L495.8,264.5 L498.1,260.7 L500.4,259.0 L502.7,256.6 L505.1,251.4 L507.4,252.9 L509.7,251.1 L512.1,246.8 L514.4,243.9 L516.7,244.2 L519.0,242.4 L521.4,244.6 L523.7,238.3 L526.0,237.5 L528.4,235.3 L530.7,235.7 L533.0,236.5 L535.3,234.3 L537.7,233.9 L540.0,230.1 L542.3,230.1 L544.7,225.8 L547.0,223.5 L549.3,226.7 L551.7,226.6 L554.0,225.0 L556.3,226.7 L558.6,222.3 L561.0,221.0 L563.3,217.9 L565.6,219.2 L568.0,216.9 L570.3,213.6 L572.6,215.2 L574.9,212.9 L577.3,209.8 L579.6,206.7 L581.9,206.0 L584.3,206.0 L586.6,209.5 L588.9,206.7 L591.2,207.0 L593.6,202.7 L595.9,203.4 L598.2,204.9 L600.6,203.1 L602.9,200.4 L605.2,197.6 L607.6,195.8 L609.9,191.6 L612.2,195.4 L614.5,194.9 L616.9,191.9 L619.2,191.2 L621.5,192.0 L623.9,192.4 L626.2,188.1 L628.5,186.7 L630.8,186.5 L633.2,187.4 L635.5,185.9 L637.8,184.3 L640.2,183.4 L642.5,184.9 L644.8,180.7 L647.1,179.7 L649.5,182.9 L651.8,181.7 L654.1,181.6" stroke="#00b4f0"/>
<path d="M99.8,24.3 L102.1,20.2 L104.5,21.7 L106.8,19.2 L109.1,22.6 L111.4,20.6 L113.8,19.9 L116.1,20.1 L118.4,20.4 L120.8,22.0 L123.1,19.6 L125.4,20.5 L127.7,21.3 L130.1,22.2 L132.4,21.2 L134.7,23.0 L137.1,22.5 L139.4,20.3 L141.7,18.9 L144.0,18.9 L146.4,18.7 L148.7,18.7 L151.0,19.2 L153.4,18.7 L155.7,18.7 L158.0,19.6 L160.4,21.2 L162.7,23.5 L165.0,24.4 L167.3,27.3 L169.7,27.8 L172.0,30.0 L174.3,38.4 L176.7,42.5 L179.0,48.3 L181.3,59.5 L183.6,62.9 L186.0,70.3 L188.3,80.6 L190.6,88.5 L193.0,97.4 L195.3,104.5 L197.6,117.3 L199.9,127.3 L202.3,133.0 L204.6,142.3 L206.9,147.6 L209.3,156.1 L211.6,164.9 L213.9,173.0 L216.3,180.9 L218.6,189.2 L220.9,197.4 L223.2,208.2 L225.6,217.0 L227.9,226.2 L230.2,234.8 L232.6,246.7 L234.9,250.2 L237.2,259.8 L239.5,262.4 L241.9,267.0 L244.2,271.6 L246.5,275.6 L248.9,282.1 L251.2,289.4 L253.5,293.8 L255.8,299.8 L258.2,301.6 L260.5,304.9 L262.8,313.2 L265.2,317.3 L267.5,320.4 L269.8,330.6 L272.2,331.1 L274.5,333.9 L276.8,336.3 L279.1,338.8 L281.5,342.1 L283.8,343.6 L286.1,344.4 L288.5,348.2 L290.8,350.3 L293.1,351.2 L295.4,358.9 L297.8,356.9 L300.1,360.3 L302.4,363.9 L304.8,364.6 L307.1,368.6 L309.4,370.2 L311.7,371.4 L314.1,369.1 L316.4,371.4 L318.7,369.4 L321.1,370.5 L323.4,371.4 L325.7,371.4 L328.1,371.4 L330.4,371.4 L332.7,371.4 L335.0,371.4 L337.4,369.8 L339.7,367.0 L342.0,370.0 L344.4,366.5 L346.7,366.9 L349.0,363.4 L351.3,360.3 L353.7,364.8 L356.0,359.4 L358.3,358.0 L360.7,360.3 L363.0,352.6 L365.3,355.0 L367.6,349.0 L370.0,351.2 L372.3,348.5 L374.6,348.9 L377.0,343.4 L379.3,344.5 L381.6,343.3 L384.0,342.7 L386.3,341.9 L388.6,339.6 L390.9,335.0 L393.3,333.6 L395.6,327.1 L397.9,330.9 L400.3,325.7 L402.6,328.9 L404.9,326.9 L407.2,324.2 L409.6,320.8 L411.9,319.1 L414.2,314.6 L416.6,313.1 L418.9,309.6 L421.2,313.1 L423.5,306.1 L425.9,302.9 L428.2,300.3 L430.5,300.6 L432.9,298.9 L435.2,293.4 L437.5,293.9 L439.9,289.8 L442.2,288.0 L444.5,284.2 L446.8,282.0 L449.2,282.6 L451.5,279.2 L453.8,276.2 L456.2,276.3 L458.5,271.6 L460.8,271.1 L463.1,268.8 L465.5,268.5 L467.8,265.6 L470.1,262.2 L472.5,260.5 L474.8,254.1 L477.1,252.2 L479.4,255.5 L481.8,255.4 L484.1,253.5 L486.4,253.3 L488.8,253.7 L491.1,248.7 L493.4,251.2 L495.8,248.6 L498.1,243.6 L500.4,243.6 L502.7,241.4 L505.1,236.9 L507.4,240.4 L509.7,237.5 L512.1,234.7 L514.4,232.8 L516.7,228.8 L519.0,231.6 L521.4,227.5 L523.7,227.3 L526.0,224.1 L528.4,223.6 L530.7,220.8 L533.0,220.4 L535.3,221.2 L537.7,221.7 L540.0,215.0 L542.3,214.8 L544.7,214.5 L547.0,211.6 L549.3,209.3 L551.7,207.6 L554.0,207.9 L556.3,208.1 L558.6,207.8 L561.0,206.5 L563.3,202.1 L565.6,200.1 L568.0,199.8 L570.3,197.4 L572.6,194.5 L574.9,196.3 L577.3,195.5 L579.6,195.9 L581.9,195.6 L584.3,192.3 L586.6,190.2 L588.9,190.1 L591.2,194.0 L593.6,186.3 L595.9,190.5 L598.2,188.3 L600.6,187.6 L602.9,187.1 L605.2,186.4 L607.6,185.2 L609.9,185.1 L612.2,184.2 L614.5,181.6 L616.9,181.8 L619.2,177.9 L621.5,177.3 L623.9,182.3 L626.2,179.3 L628.5,174.6 L630.8,174.2 L633.2,174.5 L635.5,174.2 L637.8,173.7 L640.2,174.0 L642.5,173.4 L644.8,167.6 L647.1,168.9 L649.5,166.9 L651.8,164.9 L654.1,161.7" stroke="#c77cff"/>
<path d="M99.8,23.0 L102.1,19.9 L104.5,19.2 L106.8,18.7 L109.1,21.3 L111.4,19.6 L113.8,22.1 L116.1,21.2 L118.4,20.4 L120.8,19.9 L123.1,22.3 L125.4,20.0 L127.7,22.3 L130.1,23.5 L132.4,22.3 L134.7,19.9 L137.1,22.1 L139.4,21.1 L141.7,23.1 L144.0,22.3 L146.4,23.3 L148.7,22.2 L151.0,23.1 L153.4,24.4 L155.7,22.8 L158.0,23.8 L160.4,22.6 L162.7,21.3 L165.0,21.6 L167.3,24.7 L169.7,25.7 L172.0,26.6 L174.3,25.7 L176.7,33.5 L179.0,40.8 L181.3,49.8 L183.6,56.8 L186.0,61.9 L188.3,74.0 L190.6,84.6 L193.0,95.7 L195.3,104.9 L197.6,115.7 L199.9,126.5 L202.3,138.3 L204.6,141.5 L206.9,152.1 L209.3,158.3 L211.6,168.8 L213.9,174.6 L216.3,185.3 L218.6,192.6 L220.9,199.3 L223.2,205.9 L225.6,213.5 L227.9,222.8 L230.2,232.5 L232.6,237.8 L234.9,247.3 L237.2,249.5 L239.5,251.3 L241.9,263.6 L244.2,269.4 L246.5,277.9 L248.9,284.2 L251.2,287.1 L253.5,289.7 L255.8,297.4 L258.2,301.2 L260.5,305.6 L262.8,311.6 L265.2,312.0 L267.5,319.5 L269.8,323.2 L272.2,326.0 L274.5,328.5 L276.8,334.8 L279.1,337.6 L281.5,344.5 L283.8,348.9 L286.1,352.6 L288.5,358.4 L290.8,356.2 L293.1,360.6 L295.4,360.9 L297.8,364.0 L300.1,363.6 L302.4,365.6 L304.8,365.9 L307.1,367.1 L309.4,370.0 L311.7,366.1 L314.1,368.1 L316.4,370.0 L318.7,371.4 L321.1,371.4 L323.4,371.4 L325.7,368.4 L328.1,370.1 L330.4,368.3 L332.7,371.3 L335.0,371.4 L337.4,371.1 L339.7,367.0 L342.0,369.4 L344.4,369.2 L346.7,366.8 L349.0,363.9 L351.3,362.3 L353.7,361.4 L356.0,360.2 L358.3,358.9 L360.7,356.1 L363.0,353.0 L365.3,351.6 L367.6,348.2 L370.0,346.8 L372.3,345.2 L374.6,345.5 L377.0,340.9 L379.3,337.2 L381.6,334.2 L384.0,335.0 L386.3,331.4 L388.6,326.0 L390.9,324.4 L393.3,322.4 L395.6,318.1 L397.9,313.5 L400.3,314.9 L402.6,309.0 L404.9,307.8 L407.2,303.6 L409.6,299.6 L411.9,294.6 L414.2,291.8 L416.6,291.3 L418.9,287.0 L421.2,286.6 L423.5,283.1 L425.9,279.9 L428.2,279.3 L430.5,278.9 L432.9,273.4 L435.2,270.1 L437.5,268.8 L439.9,264.0 L442.2,260.6 L444.5,255.4 L446.8,256.5 L449.2,254.3 L451.5,256.8 L453.8,254.0 L456.2,247.4 L458.5,244.1 L460.8,243.3 L463.1,240.3 L465.5,233.3 L467.8,232.1 L470.1,228.8 L472.5,224.9 L474.8,229.0 L477.1,226.1 L479.4,225.3 L481.8,222.0 L484.1,216.5 L486.4,219.4 L488.8,217.0 L491.1,215.5 L493.4,214.3 L495.8,213.6 L498.1,213.4 L500.4,207.3 L502.7,209.7 L505.1,202.1 L507.4,203.6 L509.7,198.8 L512.1,197.5 L514.4,196.8 L516.7,196.1 L519.0,191.8 L521.4,192.5 L523.7,192.0 L526.0,192.6 L528.4,191.7 L530.7,190.2 L533.0,189.9 L535.3,186.2 L537.7,186.7 L540.0,184.9 L542.3,185.9 L544.7,177.2 L547.0,180.7 L549.3,178.2 L551.7,177.5 L554.0,177.5 L556.3,175.1 L558.6,169.4 L561.0,171.0 L563.3,170.6 L565.6,168.8 L568.0,167.0 L570.3,168.2 L572.6,168.5 L574.9,167.6 L577.3,163.8 L579.6,164.5 L581.9,159.0 L584.3,162.2 L586.6,159.9 L588.9,160.2 L591.2,160.0 L593.6,159.0 L595.9,159.4 L598.2,157.9 L600.6,157.4 L602.9,153.4 L605.2,152.8 L607.6,147.5 L609.9,150.5 L612.2,148.6 L614.5,151.0 L616.9,149.4 L619.2,152.1 L621.5,149.9 L623.9,147.9 L626.2,146.1 L628.5,148.0 L630.8,145.7 L633.2,146.0 L635.5,142.5 L637.8,143.9 L640.2,142.5 L642.5,142.1 L644.8,138.1 L647.1,137.5 L649.5,140.5 L651.8,137.5 L654.1,137.1" stroke="#00c095"/>
<path d="M99.8,24.8 L102.1,27.6 L104.5,23.2 L106.8,25.6 L109.1,26.1 L111.4,25.1 L113.8,27.8 L116.1,26.5 L118.4,24.3 L120.8,26.1 L123.1,24.7 L125.4,23.2 L127.7,22.3 L130.1,21.7 L132.4,23.4 L134.7,23.0 L137.1,23.1 L139.4,23.0 L141.7,23.5 L144.0,23.6 L146.4,22.6 L148.7,22.0 L151.0,21.3 L153.4,21.2 L155.7,22.6 L158.0,21.6 L160.4,22.8 L162.7,20.2 L165.0,25.0 L167.3,26.7 L169.7,30.4 L172.0,35.9 L174.3,38.2 L176.7,43.3 L179.0,51.5 L181.3,56.5 L183.6,61.2 L186.0,72.0 L188.3,74.9 L190.6,82.4 L193.0,94.5 L195.3,102.2 L197.6,108.2 L199.9,119.5 L202.3,124.8 L204.6,130.6 L206.9,142.8 L209.3,150.4 L211.6,160.5 L213.9,170.9 L216.3,177.2 L218.6,185.0 L220.9,189.0 L223.2,199.4 L225.6,203.2 L227.9,211.3 L230.2,216.2 L232.6,223.1 L234.9,230.8 L237.2,235.2 L239.5,240.4 L241.9,246.8 L244.2,255.3 L246.5,257.3 L248.9,261.4 L251.2,267.8 L253.5,274.0 L255.8,279.1 L258.2,286.7 L260.5,291.1 L262.8,294.7 L265.2,301.3 L267.5,305.0 L269.8,306.7 L272.2,312.4 L274.5,316.0 L276.8,319.1 L279.1,327.2 L281.5,331.4 L283.8,333.5 L286.1,336.3 L288.5,338.2 L290.8,343.7 L293.1,342.5 L295.4,348.2 L297.8,348.1 L300.1,351.8 L302.4,351.2 L304.8,351.7 L307.1,355.7 L309.4,359.1 L311.7,361.6 L314.1,361.9 L316.4,363.5 L318.7,365.0 L321.1,364.4 L323.4,366.1 L325.7,368.2 L328.1,367.8 L330.4,371.4 L332.7,370.6 L335.0,371.4 L337.4,371.4 L339.7,371.4 L342.0,371.4 L344.4,371.0 L346.7,371.4 L349.0,371.4 L351.3,365.0 L353.7,367.8 L356.0,365.1 L358.3,362.5 L360.7,360.8 L363.0,362.4 L365.3,364.1 L367.6,362.3 L370.0,359.3 L372.3,357.0 L374.6,355.7 L377.0,352.6 L379.3,348.5 L381.6,348.4 L384.0,347.4 L386.3,345.0 L388.6,343.5 L390.9,340.8 L393.3,338.4 L395.6,340.5 L397.9,337.4 L400.3,330.2 L402.6,327.7 L404.9,330.8 L407.2,329.1 L409.6,328.3 L411.9,324.6 L414.2,324.1 L416.6,317.6 L418.9,312.5 L421.2,311.4 L423.5,307.5 L425.9,306.9 L428.2,306.1 L430.5,301.0 L432.9,299.1 L435.2,295.5 L437.5,293.7 L439.9,288.3 L442.2,287.2 L444.5,289.5 L446.8,284.8 L449.2,282.7 L451.5,287.8 L453.8,281.8 L456.2,282.2 L458.5,277.8 L460.8,276.4 L463.1,270.9 L465.5,271.0 L467.8,273.9 L470.1,268.5 L472.5,263.3 L474.8,262.3 L477.1,255.6 L479.4,252.3 L481.8,252.8 L484.1,253.2 L486.4,249.2 L488.8,250.9 L491.1,245.3 L493.4,244.0 L495.8,244.1 L498.1,241.0 L500.4,238.2 L502.7,240.8 L505.1,235.4 L507.4,235.1 L509.7,234.0 L512.1,230.0 L514.4,230.1 L516.7,227.3 L519.0,223.6 L521.4,223.3 L523.7,223.4 L526.0,222.1 L528.4,221.1 L530.7,214.8 L533.0,215.4 L535.3,213.6 L537.7,215.0 L540.0,212.4 L542.3,212.0 L544.7,206.1 L547.0,210.1 L549.3,208.7 L551.7,207.7 L554.0,202.2 L556.3,208.0 L558.6,204.4 L561.0,204.3 L563.3,201.6 L565.6,201.4 L568.0,200.9 L570.3,196.6 L572.6,195.8 L574.9,193.2 L577.3,192.4 L579.6,193.4 L581.9,190.9 L584.3,190.0 L586.6,188.1 L588.9,190.8 L591.2,189.4 L593.6,186.0 L595.9,189.7 L598.2,189.4 L600.6,185.6 L602.9,181.9 L605.2,176.0 L607.6,176.7 L609.9,175.0 L612.2,176.5 L614.5,178.8 L616.9,176.2 L619.2,170.9 L621.5,173.2 L623.9,174.1 L626.2,172.3 L628.5,174.2 L630.8,171.7 L633.2,172.3 L635.5,173.7 L637.8,173.2 L640.2,172.4 L642.5,172.6 L644.8,165.7 L647.1,169.7 L649.5,163.4 L651.8,164.5 L654.1,165.0" stroke="#f8766d"/>
<path d="M99.8,20.8 L102.1,20.6 L104.5,21.0 L106.8,21.6 L109.1,19.7 L111.4,19.9 L113.8,21.7 L116.1,18.9 L118.4,19.9 L120.8,23.5 L123.1,20.2 L125.4,18.7 L127.7,18.7 L130.1,18.7 L132.4,18.7 L134.7,19.1 L137.1,18.8 L139.4,18.7 L141.7,21.8 L144.0,18.7 L146.4,19.7 L148.7,19.1 L151.0,19.2 L153.4,18.9 L155.7,20.8 L158.0,20.9 L160.4,21.8 L162.7,22.3 L165.0,24.0 L167.3,26.1 L169.7,27.4 L172.0,32.6 L174.3,36.4 L176.7,40.1 L179.0,43.8 L181.3,57.1 L183.6,65.8 L186.0,75.2 L188.3,82.5 L190.6,92.0 L193.0,95.9 L195.3,105.6 L197.6,112.0 L199.9,121.2 L202.3,131.0 L204.6,141.3 L206.9,148.2 L209.3,155.5 L211.6,167.2 L213.9,175.5 L216.3,185.8 L218.6,193.2 L220.9,200.2 L223.2,206.0 L225.6,213.6 L227.9,219.7 L230.2,227.7 L232.6,234.5 L234.9,242.5 L237.2,248.7 L239.5,256.2 L241.9,260.9 L244.2,264.1 L246.5,277.2 L248.9,278.7 L251.2,285.3 L253.5,289.2 L255.8,297.8 L258.2,302.2 L260.5,308.5 L262.8,318.8 L265.2,320.3 L267.5,320.9 L269.8,328.6 L272.2,327.5 L274.5,331.3 L276.8,330.4 L279.1,336.0 L281.5,336.9 L283.8,340.3 L286.1,340.0 L288.5,343.7 L290.8,347.3 L293.1,353.1 L295.4,352.8 L297.8,357.1 L300.1,360.8 L302.4,361.5 L304.8,367.0 L307.1,364.7 L309.4,369.2 L311.7,368.7 L314.1,371.4 L316.4,371.4 L318.7,370.6 L321.1,370.7 L323.4,370.4 L325.7,371.4 L328.1,371.4 L330.4,369.3 L332.7,367.9 L335.0,366.8 L337.4,365.2 L339.7,362.4 L342.0,361.4 L344.4,357.8 L346.7,355.7 L349.0,356.5 L351.3,357.3 L353.7,355.6 L356.0,350.7 L358.3,347.1 L360.7,341.2 L363.0,340.7 L365.3,337.6 L367.6,330.9 L370.0,326.7 L372.3,324.1 L374.6,321.4 L377.0,315.4 L379.3,315.0 L381.6,311.4 L384.0,306.0 L386.3,306.2 L388.6,296.2 L390.9,293.7 L393.3,295.3 L395.6,293.7 L397.9,289.3 L400.3,286.8 L402.6,284.5 L404.9,280.8 L407.2,272.8 L409.6,272.1 L411.9,267.8 L414.2,266.8 L416.6,260.0 L418.9,255.7 L421.2,254.4 L423.5,248.7 L425.9,249.9 L428.2,245.9 L430.5,244.3 L432.9,244.6 L435.2,240.3 L437.5,236.1 L439.9,234.7 L442.2,232.8 L444.5,227.9 L446.8,221.6 L449.2,219.9 L451.5,220.7 L453.8,216.6 L456.2,214.9 L458.5,212.9 L460.8,215.4 L463.1,213.7 L465.5,211.7 L467.8,207.2 L470.1,206.6 L472.5,207.4 L474.8,205.1 L477.1,202.1 L479.4,198.4 L481.8,194.4 L484.1,193.7 L486.4,193.9 L488.8,190.1 L491.1,187.2 L493.4,182.5 L495.8,185.4 L498.1,182.9 L500.4,182.4 L502.7,179.1 L505.1,177.3 L507.4,174.3 L509.7,176.4 L512.1,174.1 L514.4,170.1 L516.7,172.6 L519.0,170.3 L521.4,173.2 L523.7,169.7 L526.0,167.0 L528.4,168.1 L530.7,165.9 L533.0,166.7 L535.3,164.1 L537.7,163.3 L540.0,163.6 L542.3,161.1 L544.7,161.1 L547.0,155.6 L549.3,153.9 L551.7,152.2 L554.0,150.8 L556.3,148.9 L558.6,150.7 L561.0,147.6 L563.3,148.4 L565.6,146.2 L568.0,146.4 L570.3,145.4 L572.6,147.1 L574.9,143.7 L577.3,143.0 L579.6,142.7 L581.9,140.6 L584.3,138.4 L586.6,141.2 L588.9,136.9 L591.2,136.3 L593.6,132.0 L595.9,131.8 L598.2,133.7 L600.6,134.5 L602.9,132.4 L605.2,130.5 L607.6,129.9 L609.9,131.3 L612.2,135.7 L614.5,135.0 L616.9,135.1 L619.2,131.5 L621.5,127.4 L623.9,130.4 L626.2,131.0 L628.5,127.2 L630.8,123.5 L633.2,121.1 L635.5,121.9 L637.8,119.9 L640.2,117.3 L642.5,115.7 L644.8,114.2 L647.1,115.0 L649.5,117.7 L651.8,112.4 L654.1,110.4" stroke="#00c0b3"/>
<path d="M99.8,40.1 L102.1,42.4 L104.5,40.6 L106.8,41.6 L109.1,40.2 L111.4,37.1 L113.8,35.7 L116.1,35.4 L118.4,35.2 L120.8,35.7 L123.1,36.7 L125.4,36.7 L127.7,35.7 L130.1,36.4 L132.4,37.0 L134.7,38.8 L137.1,36.6 L139.4,35.9 L141.7,36.3 L144.0,36.0 L146.4,36.2 L148.7,35.4 L151.0,36.3 L153.4,33.7 L155.7,35.1 L158.0,35.9 L160.4,39.1 L162.7,38.8 L165.0,42.0 L167.3,41.3 L169.7,44.1 L172.0,45.3 L174.3,45.0 L176.7,48.0 L179.0,53.8 L181.3,57.9 L183.6,66.6 L186.0,76.4 L188.3,84.8 L190.6,91.7 L193.0,101.5 L195.3,109.0 L197.6,114.0 L199.9,123.9 L202.3,132.9 L204.6,138.7 L206.9,148.9 L209.3,157.9 L211.6,162.9 L213.9,173.7 L216.3,178.3 L218.6,184.5 L220.9,193.1 L223.2,201.1 L225.6,209.5 L227.9,211.8 L230.2,220.2 L232.6,230.0 L234.9,236.5 L237.2,248.2 L239.5,254.8 L241.9,263.1 L244.2,266.4 L246.5,272.3 L248.9,282.2 L251.2,283.3 L253.5,290.0 L255.8,291.6 L258.2,299.1 L260.5,302.2 L262.8,307.6 L265.2,308.3 L267.5,314.2 L269.8,316.0 L272.2,322.9 L274.5,322.5 L276.8,323.3 L279.1,326.9 L281.5,335.6 L283.8,333.0 L286.1,336.2 L288.5,342.0 L290.8,345.4 L293.1,344.9 L295.4,352.8 L297.8,353.8 L300.1,357.5 L302.4,359.2 L304.8,364.1 L307.1,365.2 L309.4,363.8 L311.7,364.3 L314.1,367.6 L316.4,366.0 L318.7,371.0 L321.1,370.0 L323.4,370.2 L325.7,371.4 L328.1,371.1 L330.4,370.8 L332.7,367.0 L335.0,364.8 L337.4,367.7 L339.7,367.9 L342.0,366.6 L344.4,364.3 L346.7,360.6 L349.0,357.5 L351.3,355.1 L353.7,351.3 L356.0,351.1 L358.3,347.3 L360.7,344.4 L363.0,341.4 L365.3,340.2 L367.6,341.2 L370.0,334.4 L372.3,334.4 L374.6,326.9 L377.0,326.6 L379.3,325.2 L381.6,321.7 L384.0,317.5 L386.3,314.7 L388.6,312.7 L390.9,309.1 L393.3,309.0 L395.6,303.0 L397.9,298.6 L400.3,295.6 L402.6,291.0 L404.9,290.9 L407.2,287.4 L409.6,282.8 L411.9,280.5 L414.2,278.2 L416.6,275.8 L418.9,268.9 L421.2,266.8 L423.5,260.4 L425.9,256.2 L428.2,255.9 L430.5,253.0 L432.9,250.0 L435.2,247.7 L437.5,248.1 L439.9,246.1 L442.2,238.7 L444.5,236.0 L446.8,235.2 L449.2,229.9 L451.5,224.9 L453.8,227.2 L456.2,227.7 L458.5,229.3 L460.8,223.3 L463.1,221.6 L465.5,220.6 L467.8,216.9 L470.1,213.8 L472.5,210.2 L474.8,211.1 L477.1,209.2 L479.4,206.2 L481.8,204.8 L484.1,201.6 L486.4,198.5 L488.8,199.9 L491.1,196.4 L493.4,194.7 L495.8,190.8 L498.1,194.8 L500.4,195.8 L502.7,189.2 L505.1,188.7 L507.4,187.2 L509.7,185.4 L512.1,182.5 L514.4,183.6 L516.7,181.8 L519.0,178.6 L521.4,179.7 L523.7,178.5 L526.0,175.2 L528.4,173.4 L530.7,171.3 L533.0,172.9 L535.3,170.1 L537.7,168.1 L540.0,163.1 L542.3,162.9 L544.7,164.5 L547.0,164.0 L549.3,162.5 L551.7,166.3 L554.0,164.6 L556.3,161.1 L558.6,157.1 L561.0,156.0 L563.3,159.9 L565.6,157.2 L568.0,158.7 L570.3,155.2 L572.6,157.8 L574.9,152.6 L577.3,152.6 L579.6,149.6 L581.9,147.3 L584.3,143.4 L586.6,143.9 L588.9,146.0 L591.2,145.3 L593.6,141.9 L595.9,137.6 L598.2,139.9 L600.6,142.6 L602.9,142.2 L605.2,137.5 L607.6,138.8 L609.9,137.6 L612.2,137.4 L614.5,134.2 L616.9,131.3 L619.2,131.0 L621.5,134.2 L623.9,132.5 L626.2,129.3 L628.5,128.7 L630.8,128.2 L633.2,129.3 L635.5,128.5 L637.8,126.5 L640.2,125.5 L642.5,121.6 L644.8,123.5 L647.1,124.1 L649.5,126.2 L651.8,127.0 L654.1,126.8" stroke="#00c08b"/>
<path d="M99.8,18.7 L102.1,18.7 L104.5,19.0 L106.8,18.7 L109.1,19.0 L111.4,20.3 L113.8,18.9 L116.1,18.7 L118.4,20.9 L120.8,19.9 L123.1,19.8 L125.4,21.7 L127.7,20.4 L130.1,21.9 L132.4,21.0 L134.7,23.5 L137.1,21.2 L139.4,22.0 L141.7,25.8 L144.0,26.0 L146.4,22.8 L148.7,22.8 L151.0,19.8 L153.4,21.8 L155.7,22.2 L158.0,21.2 L160.4,21.1 L162.7,22.7 L165.0,25.8 L167.3,27.1 L169.7,32.0 L172.0,38.1 L174.3,48.1 L176.7,55.6 L179.0,64.5 L181.3,72.6 L183.6,83.2 L186.0,95.2 L188.3,99.7 L190.6,112.9 L193.0,119.9 L195.3,133.1 L197.6,144.0 L199.9,151.5 L202.3,161.3 L204.6,168.7 L206.9,177.0 L209.3,185.0 L211.6,200.1 L213.9,210.3 L216.3,215.7 L218.6,220.7 L220.9,225.8 L223.2,237.5 L225.6,246.6 L227.9,256.2 L230.2,262.4 L232.6,267.1 L234.9,274.8 L237.2,281.2 L239.5,287.4 L241.9,293.3 L244.2,296.9 L246.5,300.4 L248.9,308.0 L251.2,312.1 L253.5,315.8 L255.8,320.1 L258.2,326.7 L260.5,330.7 L262.8,335.4 L265.2,340.5 L267.5,341.8 L269.8,342.9 L272.2,343.8 L274.5,349.5 L276.8,352.8 L279.1,355.4 L281.5,357.0 L283.8,359.4 L286.1,364.2 L288.5,365.8 L290.8,366.8 L293.1,369.4 L295.4,369.7 L297.8,370.0 L300.1,371.4 L302.4,371.4 L304.8,371.4 L307.1,370.5 L309.4,369.4 L311.7,371.4 L314.1,371.4 L316.4,371.2 L318.7,369.7 L321.1,370.1 L323.4,369.5 L325.7,370.2 L328.1,370.1 L330.4,368.7 L332.7,370.1 L335.0,369.3 L337.4,366.8 L339.7,369.8 L342.0,366.1 L344.4,367.6 L346.7,364.2 L349.0,365.4 L351.3,365.8 L353.7,366.7 L356.0,364.3 L358.3,365.5 L360.7,362.7 L363.0,358.2 L365.3,357.3 L367.6,357.0 L370.0,350.6 L372.3,347.1 L374.6,347.4 L377.0,344.0 L379.3,346.0 L381.6,341.8 L384.0,337.4 L386.3,338.7 L388.6,334.9 L390.9,333.6 L393.3,328.5 L395.6,331.5 L397.9,329.8 L400.3,323.9 L402.6,322.7 L404.9,320.9 L407.2,317.2 L409.6,312.1 L411.9,311.2 L414.2,310.5 L416.6,305.4 L418.9,302.8 L421.2,301.2 L423.5,297.2 L425.9,296.0 L428.2,290.0 L430.5,289.9 L432.9,288.7 L435.2,285.3 L437.5,283.0 L439.9,276.5 L442.2,276.4 L444.5,275.0 L446.8,271.6 L449.2,270.0 L451.5,268.9 L453.8,264.4 L456.2,261.6 L458.5,262.0 L460.8,261.3 L463.1,259.7 L465.5,254.8 L467.8,254.3 L470.1,250.9 L472.5,245.9 L474.8,243.5 L477.1,241.5 L479.4,237.7 L481.8,239.9 L484.1,237.4 L486.4,235.8 L488.8,234.9 L491.1,230.2 L493.4,229.5 L495.8,227.5 L498.1,223.8 L500.4,226.3 L502.7,224.6 L505.1,221.6 L507.4,218.9 L509.7,220.1 L512.1,216.2 L514.4,214.8 L516.7,216.5 L519.0,213.7 L521.4,212.9 L523.7,212.3 L526.0,211.8 L528.4,207.2 L530.7,204.4 L533.0,202.2 L535.3,196.0 L537.7,198.2 L540.0,196.2 L542.3,197.5 L544.7,196.3 L547.0,195.6 L549.3,194.8 L551.7,192.5 L554.0,190.7 L556.3,190.9 L558.6,190.8 L561.0,188.1 L563.3,186.7 L565.6,181.4 L568.0,181.9 L570.3,181.7 L572.6,180.3 L574.9,179.0 L577.3,179.8 L579.6,177.1 L581.9,173.4 L584.3,173.8 L586.6,175.4 L588.9,176.7 L591.2,175.4 L593.6,174.5 L595.9,172.5 L598.2,171.1 L600.6,170.6 L602.9,170.9 L605.2,167.7 L607.6,167.9 L609.9,167.3 L612.2,166.7 L614.5,161.7 L616.9,159.7 L619.2,157.6 L621.5,162.2 L623.9,160.1 L626.2,160.7 L628.5,156.9 L630.8,155.4 L633.2,153.0 L635.5,155.4 L637.8,154.0 L640.2,154.0 L642.5,153.6 L644.8,156.9 L647.1,155.2 L649.5,154.4 L651.8,154.1 L654.1,150.0" stroke="#00bb4b"/>
<path d="M99.8,18.7 L102.1,18.7 L104.5,18.7 L106.8,18.7 L109.1,18.7 L111.4,18.7 L113.8,18.7 L116.1,18.7 L118.4,20.0 L120.8,20.3 L123.1,20.7 L125.4,19.2 L127.7,20.0 L130.1,18.7 L132.4,20.2 L134.7,21.8 L137.1,20.0 L139.4,18.8 L141.7,18.7 L144.0,18.7 L146.4,18.7 L148.7,19.2 L151.0,19.5 L153.4,18.7 L155.7,18.7 L158.0,18.7 L160.4,18.7 L162.7,18.7 L165.0,18.7 L167.3,18.7 L169.7,18.7 L172.0,20.0 L174.3,23.4 L176.7,25.9 L179.0,28.1 L181.3,32.7 L183.6,40.1 L186.0,44.2 L188.3,55.2 L190.6,63.6 L193.0,72.8 L195.3,75.3 L197.6,88.8 L199.9,97.2 L202.3,102.0 L204.6,112.9 L206.9,122.3 L209.3,132.1 L211.6,143.3 L213.9,151.3 L216.3,155.2 L218.6,163.7 L220.9,166.7 L223.2,172.9 L225.6,182.0 L227.9,190.5 L230.2,199.2 L232.6,206.6 L234.9,213.0 L237.2,220.7 L239.5,229.3 L241.9,237.1 L244.2,245.2 L246.5,250.9 L248.9,249.6 L251.2,258.2 L253.5,260.8 L255.8,268.2 L258.2,274.0 L260.5,278.0 L262.8,287.1 L265.2,291.2 L267.5,296.7 L269.8,299.2 L272.2,305.8 L274.5,312.4 L276.8,314.2 L279.1,316.4 L281.5,319.7 L283.8,323.7 L286.1,328.1 L288.5,331.8 L290.8,337.7 L293.1,336.9 L295.4,338.9 L297.8,343.6 L300.1,347.1 L302.4,351.2 L304.8,350.6 L307.1,353.0 L309.4,357.7 L311.7,359.2 L314.1,364.1 L316.4,363.3 L318.7,364.8 L321.1,368.5 L323.4,367.9 L325.7,367.7 L328.1,367.3 L330.4,371.4 L332.7,371.1 L335.0,370.7 L337.4,369.6 L339.7,370.6 L342.0,366.8 L344.4,367.1 L346.7,366.6 L349.0,366.6 L351.3,363.8 L353.7,361.0 L356.0,358.1 L358.3,356.3 L360.7,354.4 L363.0,350.8 L365.3,351.3 L367.6,345.4 L370.0,343.7 L372.3,336.5 L374.6,335.1 L377.0,332.9 L379.3,330.0 L381.6,328.0 L384.0,326.0 L386.3,327.1 L388.6,323.0 L390.9,318.1 L393.3,320.4 L395.6,314.7 L397.9,312.8 L400.3,309.3 L402.6,308.8 L404.9,305.1 L407.2,301.8 L409.6,298.3 L411.9,297.4 L414.2,294.3 L416.6,293.6 L418.9,287.0 L421.2,284.3 L423.5,284.1 L425.9,279.2 L428.2,277.5 L430.5,278.5 L432.9,274.6 L435.2,274.0 L437.5,272.7 L439.9,266.8 L442.2,261.6 L444.5,260.9 L446.8,255.6 L449.2,257.1 L451.5,250.2 L453.8,248.7 L456.2,248.4 L458.5,243.9 L460.8,242.4 L463.1,241.3 L465.5,236.0 L467.8,237.6 L470.1,236.7 L472.5,231.3 L474.8,230.2 L477.1,226.9 L479.4,226.1 L481.8,225.2 L484.1,222.3 L486.4,219.8 L488.8,221.2 L491.1,216.6 L493.4,220.2 L495.8,216.7 L498.1,212.3 L500.4,208.0 L502.7,206.5 L505.1,202.9 L507.4,201.5 L509.7,200.2 L512.1,200.2 L514.4,197.9 L516.7,197.8 L519.0,195.5 L521.4,198.4 L523.7,198.3 L526.0,194.5 L528.4,195.0 L530.7,193.6 L533.0,188.3 L535.3,190.9 L537.7,189.2 L540.0,188.4 L542.3,187.2 L544.7,187.5 L547.0,186.9 L549.3,183.3 L551.7,184.7 L554.0,177.7 L556.3,179.6 L558.6,180.3 L561.0,176.0 L563.3,177.3 L565.6,174.9 L568.0,169.7 L570.3,168.9 L572.6,167.7 L574.9,169.1 L577.3,170.1 L579.6,164.7 L581.9,166.7 L584.3,169.1 L586.6,165.2 L588.9,164.9 L591.2,160.8 L593.6,160.1 L595.9,161.5 L598.2,161.7 L600.6,156.8 L602.9,158.0 L605.2,158.5 L607.6,158.1 L609.9,157.1 L612.2,158.4 L614.5,156.5 L616.9,157.0 L619.2,151.7 L621.5,156.5 L623.9,148.6 L626.2,146.7 L628.5,147.1 L630.8,147.0 L633.2,146.5 L635.5,146.2 L637.8,144.4 L640.2,147.2 L642.5,142.1 L644.8,143.0 L647.1,143.6 L649.5,141.8 L651.8,140.8 L654.1,134.5" stroke="#9f8cff"/>
<path d="M99.8,24.9 L102.1,27.5 L104.5,25.2 L106.8,27.0 L109.1,27.3 L111.4,27.5 L113.8,28.7 L116.1,27.7 L118.4,26.8 L120.8,26.6 L123.1,26.6 L125.4,28.7 L127.7,29.2 L130.1,30.3 L132.4,30.3 L134.7,29.6 L137.1,31.5 L139.4,27.6 L141.7,28.8 L144.0,28.2 L146.4,28.4 L148.7,26.9 L151.0,26.8 L153.4,25.4 L155.7,23.3 L158.0,21.0 L160.4,23.4 L162.7,24.0 L165.0,28.3 L167.3,31.9 L169.7,34.6 L172.0,35.4 L174.3,39.7 L176.7,43.7 L179.0,51.6 L181.3,59.6 L183.6,66.4 L186.0,80.8 L188.3,86.2 L190.6,97.2 L193.0,102.9 L195.3,113.4 L197.6,126.4 L199.9,130.6 L202.3,143.2 L204.6,149.4 L206.9,160.6 L209.3,163.8 L211.6,171.9 L213.9,181.6 L216.3,191.7 L218.6,197.9 L220.9,210.0 L223.2,217.8 L225.6,223.3 L227.9,234.2 L230.2,238.1 L232.6,248.8 L234.9,255.2 L237.2,260.5 L239.5,266.6 L241.9,271.6 L244.2,276.7 L246.5,281.1 L248.9,286.3 L251.2,292.2 L253.5,298.0 L255.8,301.2 L258.2,307.3 L260.5,310.3 L262.8,316.9 L265.2,324.1 L267.5,326.6 L269.8,331.2 L272.2,333.4 L274.5,343.2 L276.8,342.6 L279.1,344.5 L281.5,342.5 L283.8,345.4 L286.1,348.8 L288.5,353.6 L290.8,354.5 L293.1,356.8 L295.4,359.0 L297.8,360.5 L300.1,361.9 L302.4,365.8 L304.8,367.8 L307.1,368.9 L309.4,369.0 L311.7,371.4 L314.1,370.9 L316.4,371.4 L318.7,371.4 L321.1,371.4 L323.4,371.4 L325.7,371.4 L328.1,368.0 L330.4,369.5 L332.7,368.9 L335.0,365.7 L337.4,361.4 L339.7,360.3 L342.0,356.3 L344.4,355.8 L346.7,352.8 L349.0,351.3 L351.3,350.1 L353.7,347.6 L356.0,343.6 L358.3,346.3 L360.7,343.6 L363.0,340.9 L365.3,338.4 L367.6,335.8 L370.0,332.2 L372.3,326.7 L374.6,322.7 L377.0,320.3 L379.3,314.7 L381.6,313.4 L384.0,309.6 L386.3,309.6 L388.6,305.4 L390.9,305.1 L393.3,297.2 L395.6,290.8 L397.9,289.8 L400.3,286.7 L402.6,281.2 L404.9,278.5 L407.2,277.8 L409.6,275.2 L411.9,270.4 L414.2,266.6 L416.6,263.0 L418.9,261.6 L421.2,258.5 L423.5,252.4 L425.9,251.3 L428.2,248.6 L430.5,245.2 L432.9,248.3 L435.2,244.5 L437.5,239.2 L439.9,237.6 L442.2,236.1 L444.5,233.7 L446.8,230.4 L449.2,227.4 L451.5,223.1 L453.8,219.5 L456.2,216.6 L458.5,218.1 L460.8,213.0 L463.1,210.7 L465.5,206.8 L467.8,201.2 L470.1,202.0 L472.5,199.1 L474.8,198.4 L477.1,200.4 L479.4,199.8 L481.8,195.2 L484.1,195.5 L486.4,192.6 L488.8,190.6 L491.1,187.9 L493.4,188.3 L495.8,187.7 L498.1,187.2 L500.4,182.2 L502.7,182.3 L505.1,179.7 L507.4,177.1 L509.7,176.7 L512.1,176.0 L514.4,176.3 L516.7,174.3 L519.0,175.3 L521.4,174.2 L523.7,170.7 L526.0,169.9 L528.4,171.2 L530.7,169.9 L533.0,165.2 L535.3,164.9 L537.7,159.4 L540.0,161.3 L542.3,161.2 L544.7,164.0 L547.0,157.1 L549.3,154.5 L551.7,157.4 L554.0,154.5 L556.3,150.8 L558.6,152.9 L561.0,156.3 L563.3,154.9 L565.6,152.1 L568.0,152.0 L570.3,148.0 L572.6,144.0 L574.9,147.8 L577.3,143.8 L579.6,144.6 L581.9,141.5 L584.3,137.9 L586.6,139.9 L588.9,138.2 L591.2,138.9 L593.6,137.1 L595.9,137.5 L598.2,137.0 L600.6,139.5 L602.9,136.5 L605.2,135.0 L607.6,134.0 L609.9,130.1 L612.2,127.4 L614.5,125.4 L616.9,122.2 L619.2,123.5 L621.5,121.9 L623.9,118.5 L626.2,122.2 L628.5,121.7 L630.8,120.3 L633.2,122.3 L635.5,122.7 L637.8,122.3 L640.2,121.7 L642.5,123.7 L644.8,120.1 L647.1,120.7 L649.5,120.1 L651.8,117.1 L654.1,115.3" stroke="#f17d50"/>
<path d="M99.8,22.9 L102.1,24.7 L104.5,22.8 L106.8,21.7 L109.1,22.8 L111.4,23.6 L113.8,23.4 L116.1,20.5 L118.4,22.0 L120.8,20.8 L123.1,19.5 L125.4,19.4 L127.7,18.9 L130.1,19.8 L132.4,19.4 L134.7,20.0 L137.1,20.4 L139.4,20.3 L141.7,20.4 L144.0,18.7 L146.4,19.8 L148.7,20.2 L151.0,19.2 L153.4,20.9 L155.7,23.3 L158.0,21.8 L160.4,23.4 L162.7,28.2 L165.0,26.2 L167.3,33.1 L169.7,39.6 L172.0,43.9 L174.3,52.8 L176.7,60.8 L179.0,66.6 L181.3,73.5 L183.6,82.7 L186.0,91.4 L188.3,97.9 L190.6,107.0 L193.0,111.9 L195.3,125.3 L197.6,129.2 L199.9,141.4 L202.3,151.0 L204.6,157.9 L206.9,166.2 L209.3,172.3 L211.6,185.2 L213.9,193.5 L216.3,199.3 L218.6,204.3 L220.9,211.8 L223.2,218.8 L225.6,226.7 L227.9,234.2 L230.2,242.5 L232.6,246.6 L234.9,256.3 L237.2,260.6 L239.5,265.4 L241.9,273.9 L244.2,278.2 L246.5,285.2 L248.9,290.2 L251.2,296.3 L253.5,301.9 L255.8,303.5 L258.2,310.0 L260.5,314.8 L262.8,321.1 L265.2,326.4 L267.5,328.5 L269.8,332.1 L272.2,337.9 L274.5,337.0 L276.8,339.2 L279.1,342.4 L281.5,345.6 L283.8,349.1 L286.1,347.3 L288.5,353.3 L290.8,353.1 L293.1,356.1 L295.4,355.1 L297.8,362.7 L300.1,358.8 L302.4,364.2 L304.8,367.5 L307.1,370.3 L309.4,369.0 L311.7,367.7 L314.1,365.6 L316.4,368.4 L318.7,371.2 L321.1,371.4 L323.4,371.4 L325.7,371.4 L328.1,371.4 L330.4,371.4 L332.7,371.4 L335.0,371.4 L337.4,371.4 L339.7,371.4 L342.0,366.8 L344.4,368.7 L346.7,367.4 L349.0,347.3 L351.3,348.3 L353.7,366.4 L356.0,369.2 L358.3,367.8 L360.7,364.0 L363.0,365.2 L365.3,361.0 L367.6,359.0 L370.0,359.9 L372.3,356.2 L374.6,353.0 L377.0,352.3 L379.3,350.9 L381.6,345.9 L384.0,345.5 L386.3,343.2 L388.6,345.3 L390.9,339.3 L393.3,341.2 L395.6,339.3 L397.9,336.6 L400.3,335.4 L402.6,334.9 L404.9,331.5 L407.2,332.6 L409.6,329.2 L411.9,328.7 L414.2,324.8 L416.6,322.3 L418.9,318.5 L421.2,320.7 L423.5,320.2 L425.9,316.9 L428.2,315.4 L430.5,309.4 L432.9,309.3 L435.2,306.5 L437.5,306.5 L439.9,302.1 L442.2,299.4 L444.5,293.2 L446.8,291.7 L449.2,294.4 L451.5,292.4 L453.8,287.9 L456.2,289.3 L458.5,288.8 L460.8,283.8 L463.1,281.8 L465.5,278.2 L467.8,278.6 L470.1,277.2 L472.5,275.9 L474.8,273.4 L477.1,272.9 L479.4,272.1 L481.8,268.8 L484.1,262.8 L486.4,261.6 L488.8,255.7 L491.1,254.1 L493.4,254.0 L495.8,247.9 L498.1,248.5 L500.4,247.1 L502.7,245.2 L505.1,244.0 L507.4,240.6 L509.7,241.0 L512.1,239.1 L514.4,242.0 L516.7,238.8 L519.0,235.1 L521.4,230.6 L523.7,231.5 L526.0,230.4 L528.4,230.8 L530.7,227.2 L533.0,227.4 L535.3,224.4 L537.7,225.1 L540.0,222.0 L542.3,223.8 L544.7,219.6 L547.0,214.9 L549.3,219.1 L551.7,217.3 L554.0,215.5 L556.3,216.3 L558.6,213.4 L561.0,213.3 L563.3,211.5 L565.6,212.4 L568.0,208.0 L570.3,205.5 L572.6,204.0 L574.9,205.2 L577.3,203.9 L579.6,206.6 L581.9,197.4 L584.3,200.1 L586.6,198.7 L588.9,197.8 L591.2,197.8 L593.6,196.5 L595.9,194.5 L598.2,196.8 L600.6,197.2 L602.9,198.5 L605.2,201.5 L607.6,197.7 L609.9,194.3 L612.2,192.7 L614.5,192.0 L616.9,189.8 L619.2,188.4 L621.5,183.8 L623.9,182.9 L626.2,183.3 L628.5,183.1 L630.8,177.8 L633.2,179.7 L635.5,176.4 L637.8,179.4 L640.2,179.6 L642.5,178.4 L644.8,177.6 L647.1,175.1 L649.5,174.2 L651.8,174.7 L654.1,173.4" stroke="#88ac00"/>
<path d="M99.8,27.5 L102.1,30.2 L104.5,28.2 L106.8,25.8 L109.1,26.4 L111.4,27.9 L113.8,26.8 L116.1,26.3 L118.4,25.0 L120.8,25.1 L123.1,25.0 L125.4,27.4 L127.7,23.7 L130.1,23.8 L132.4,22.4 L134.7,18.7 L137.1,22.4 L139.4,23.7 L141.7,26.6 L144.0,27.7 L146.4,28.2 L148.7,28.3 L151.0,27.5 L153.4,25.1 L155.7,27.4 L158.0,27.4 L160.4,27.6 L162.7,31.8 L165.0,31.9 L167.3,34.5 L169.7,38.4 L172.0,43.2 L174.3,46.4 L176.7,52.8 L179.0,63.6 L181.3,72.5 L183.6,78.5 L186.0,86.8 L188.3,97.2 L190.6,100.0 L193.0,109.2 L195.3,115.8 L197.6,125.0 L199.9,130.9 L202.3,144.4 L204.6,149.0 L206.9,153.4 L209.3,161.7 L211.6,170.1 L213.9,177.0 L216.3,181.9 L218.6,190.1 L220.9,200.6 L223.2,207.7 L225.6,215.0 L227.9,222.7 L230.2,231.6 L232.6,238.3 L234.9,245.5 L237.2,247.2 L239.5,256.5 L241.9,259.5 L244.2,262.1 L246.5,268.7 L248.9,275.7 L251.2,282.5 L253.5,286.5 L255.8,292.8 L258.2,300.5 L260.5,306.0 L262.8,310.3 L265.2,310.6 L267.5,315.4 L269.8,321.1 L272.2,322.6 L274.5,326.1 L276.8,332.3 L279.1,333.2 L281.5,334.1 L283.8,339.1 L286.1,342.6 L288.5,343.6 L290.8,347.7 L293.1,346.0 L295.4,350.1 L297.8,353.4 L300.1,354.2 L302.4,355.8 L304.8,361.8 L307.1,363.0 L309.4,367.2 L311.7,370.7 L314.1,371.2 L316.4,369.5 L318.7,371.4 L321.1,371.4 L323.4,371.4 L325.7,368.0 L328.1,367.1 L330.4,362.4 L332.7,362.5 L335.0,357.5 L337.4,358.7 L339.7,357.7 L342.0,355.0 L344.4,349.9 L346.7,344.6 L349.0,341.7 L351.3,339.5 L353.7,335.7 L356.0,329.3 L358.3,327.0 L360.7,325.1 L363.0,322.4 L365.3,321.1 L367.6,318.6 L370.0,315.1 L372.3,312.3 L374.6,308.2 L377.0,305.6 L379.3,298.1 L381.6,294.0 L384.0,291.4 L386.3,289.7 L388.6,288.0 L390.9,280.7 L393.3,282.7 L395.6,276.9 L397.9,272.5 L400.3,270.2 L402.6,266.8 L404.9,261.9 L407.2,259.1 L409.6,252.7 L411.9,249.9 L414.2,241.7 L416.6,246.0 L418.9,238.5 L421.2,238.0 L423.5,236.7 L425.9,236.3 L428.2,233.5 L430.5,228.2 L432.9,224.6 L435.2,221.6 L437.5,221.2 L439.9,219.3 L442.2,216.0 L444.5,213.8 L446.8,213.4 L449.2,211.8 L451.5,211.3 L453.8,206.3 L456.2,204.0 L458.5,201.8 L460.8,198.4 L463.1,199.2 L465.5,198.3 L467.8,193.8 L470.1,190.0 L472.5,190.6 L474.8,188.1 L477.1,185.9 L479.4,183.1 L481.8,184.9 L484.1,183.1 L486.4,180.1 L488.8,179.4 L491.1,177.7 L493.4,176.1 L495.8,175.6 L498.1,175.5 L500.4,170.8 L502.7,169.2 L505.1,168.2 L507.4,170.8 L509.7,168.9 L512.1,169.5 L514.4,167.4 L516.7,165.0 L519.0,160.6 L521.4,156.2 L523.7,155.6 L526.0,157.3 L528.4,156.0 L530.7,156.3 L533.0,154.2 L535.3,151.4 L537.7,151.4 L540.0,152.0 L542.3,152.8 L544.7,152.1 L547.0,155.5 L549.3,148.8 L551.7,148.7 L554.0,143.8 L556.3,146.2 L558.6,143.6 L561.0,142.8 L563.3,142.6 L565.6,137.5 L568.0,135.7 L570.3,131.7 L572.6,132.3 L574.9,133.5 L577.3,138.2 L579.6,132.4 L581.9,131.2 L584.3,129.9 L586.6,129.7 L588.9,125.9 L591.2,127.1 L593.6,128.9 L595.9,128.9 L598.2,127.8 L600.6,123.2 L602.9,125.3 L605.2,125.9 L607.6,119.3 L609.9,116.8 L612.2,120.2 L614.5,119.2 L616.9,118.2 L619.2,118.0 L621.5,118.9 L623.9,115.8 L626.2,119.4 L628.5,115.5 L630.8,112.5 L633.2,112.8 L635.5,111.8 L637.8,110.6 L640.2,111.4 L642.5,109.7 L644.8,108.5 L647.1,108.2 L649.5,112.5 L651.8,111.6 L654.1,109.5" stroke="#00b81e"/>
<path d="M99.8,32.9 L102.1,34.3 L104.5,33.2 L106.8,34.3 L109.1,34.4 L111.4,32.6 L113.8,33.6 L116.1,33.0 L118.4,33.3 L120.8,33.2 L123.1,31.3 L125.4,31.7 L127.7,29.2 L130.1,29.5 L132.4,28.6 L134.7,28.2 L137.1,27.9 L139.4,26.3 L141.7,26.5 L144.0,29.3 L146.4,30.4 L148.7,31.2 L151.0,28.7 L153.4,29.9 L155.7,31.0 L158.0,33.6 L160.4,35.6 L162.7,35.3 L165.0,37.7 L167.3,37.0 L169.7,40.9 L172.0,41.3 L174.3,43.8 L176.7,47.1 L179.0,52.3 L181.3,56.8 L183.6,63.7 L186.0,73.4 L188.3,79.6 L190.6,85.9 L193.0,93.9 L195.3,105.5 L197.6,112.2 L199.9,119.0 L202.3,127.7 L204.6,133.8 L206.9,141.4 L209.3,148.9 L211.6,157.2 L213.9,167.1 L216.3,174.4 L218.6,178.3 L220.9,187.6 L223.2,195.8 L225.6,201.1 L227.9,208.5 L230.2,213.3 L232.6,221.3 L234.9,227.6 L237.2,233.4 L239.5,242.1 L241.9,247.6 L244.2,253.3 L246.5,258.5 L248.9,264.2 L251.2,264.9 L253.5,272.6 L255.8,277.6 L258.2,284.0 L260.5,286.4 L262.8,292.9 L265.2,296.6 L267.5,301.0 L269.8,305.0 L272.2,309.5 L274.5,311.5 L276.8,315.0 L279.1,321.1 L281.5,325.0 L283.8,327.2 L286.1,330.6 L288.5,335.8 L290.8,340.7 L293.1,345.8 L295.4,348.5 L297.8,350.7 L300.1,349.2 L302.4,352.5 L304.8,356.5 L307.1,360.6 L309.4,361.9 L311.7,364.1 L314.1,368.4 L316.4,366.6 L318.7,369.8 L321.1,371.4 L323.4,369.0 L325.7,367.3 L328.1,370.1 L330.4,368.6 L332.7,369.5 L335.0,369.9 L337.4,367.4 L339.7,366.3 L342.0,362.6 L344.4,365.1 L346.7,365.3 L349.0,361.4 L351.3,361.4 L353.7,360.2 L356.0,357.2 L358.3,356.4 L360.7,354.8 L363.0,348.5 L365.3,347.9 L367.6,346.7 L370.0,344.1 L372.3,340.6 L374.6,338.4 L377.0,337.2 L379.3,330.1 L381.6,330.3 L384.0,324.7 L386.3,325.4 L388.6,323.4 L390.9,320.5 L393.3,317.5 L395.6,317.2 L397.9,314.4 L400.3,309.6 L402.6,305.2 L404.9,301.2 L407.2,301.4 L409.6,299.5 L411.9,293.2 L414.2,291.5 L416.6,285.2 L418.9,284.5 L421.2,283.8 L423.5,279.1 L425.9,274.4 L428.2,270.0 L430.5,268.4 L432.9,262.6 L435.2,264.1 L437.5,261.2 L439.9,260.0 L442.2,255.9 L444.5,256.1 L446.8,254.3 L449.2,248.5 L451.5,245.8 L453.8,241.0 L456.2,236.9 L458.5,238.0 L460.8,234.5 L463.1,233.7 L465.5,234.5 L467.8,228.1 L470.1,231.3 L472.5,230.1 L474.8,224.8 L477.1,224.1 L479.4,223.9 L481.8,217.7 L484.1,216.1 L486.4,214.3 L488.8,214.7 L491.1,214.1 L493.4,209.4 L495.8,208.9 L498.1,207.6 L500.4,204.7 L502.7,204.8 L505.1,200.3 L507.4,200.2 L509.7,198.9 L512.1,195.7 L514.4,193.9 L516.7,198.0 L519.0,195.9 L521.4,190.4 L523.7,190.5 L526.0,185.8 L528.4,180.3 L530.7,181.1 L533.0,180.8 L535.3,180.8 L537.7,178.5 L540.0,181.4 L542.3,181.1 L544.7,181.3 L547.0,176.7 L549.3,176.3 L551.7,175.2 L554.0,169.4 L556.3,171.4 L558.6,170.7 L561.0,168.8 L563.3,169.5 L565.6,165.2 L568.0,166.4 L570.3,169.8 L572.6,165.6 L574.9,162.1 L577.3,162.6 L579.6,162.9 L581.9,164.6 L584.3,159.6 L586.6,162.0 L588.9,160.0 L591.2,160.0 L593.6,156.5 L595.9,155.4 L598.2,156.1 L600.6,155.6 L602.9,154.6 L605.2,153.0 L607.6,154.4 L609.9,152.6 L612.2,147.8 L614.5,148.7 L616.9,147.8 L619.2,143.3 L621.5,142.3 L623.9,140.6 L626.2,139.5 L628.5,139.2 L630.8,138.2 L633.2,139.4 L635.5,141.6 L637.8,138.6 L640.2,140.1 L642.5,140.3 L644.8,142.1 L647.1,140.0 L649.5,133.6 L651.8,132.9 L654.1,130.1" stroke="#00b9e3"/>
<path d="M99.8,27.7 L102.1,24.3 L104.5,23.9 L106.8,25.4 L109.1,25.3 L111.4,24.3 L113.8,25.2 L116.1,26.1 L118.4,25.1 L120.8,26.0 L123.1,25.9 L125.4,22.7 L127.7,23.6 L130.1,22.9 L132.4,22.8 L134.7,20.7 L137.1,22.8 L139.4,21.5 L141.7,25.1 L144.0,26.9 L146.4,24.8 L148.7,23.6 L151.0,24.2 L153.4,22.4 L155.7,22.1 L158.0,23.0 L160.4,24.3 L162.7,25.6 L165.0,26.9 L167.3,27.8 L169.7,29.9 L172.0,31.5 L174.3,36.9 L176.7,42.3 L179.0,50.9 L181.3,57.5 L183.6,66.1 L186.0,76.5 L188.3,86.4 L190.6,93.1 L193.0,103.3 L195.3,114.2 L197.6,122.5 L199.9,132.7 L202.3,145.8 L204.6,155.7 L206.9,162.0 L209.3,174.7 L211.6,183.3 L213.9,194.7 L216.3,203.0 L218.6,212.4 L220.9,220.2 L223.2,228.2 L225.6,236.6 L227.9,246.3 L230.2,255.0 L232.6,256.6 L234.9,264.4 L237.2,273.0 L239.5,276.8 L241.9,281.9 L244.2,288.9 L246.5,294.3 L248.9,302.2 L251.2,308.6 L253.5,311.6 L255.8,314.9 L258.2,320.9 L260.5,321.9 L262.8,329.0 L265.2,332.1 L267.5,332.4 L269.8,333.6 L272.2,337.4 L274.5,347.1 L276.8,347.4 L279.1,351.9 L281.5,354.4 L283.8,356.2 L286.1,358.7 L288.5,361.4 L290.8,361.4 L293.1,363.0 L295.4,366.6 L297.8,368.3 L300.1,368.7 L302.4,367.5 L304.8,364.8 L307.1,368.0 L309.4,366.4 L311.7,368.3 L314.1,371.4 L316.4,371.4 L318.7,371.4 L321.1,370.3 L323.4,368.6 L325.7,371.4 L328.1,371.4 L330.4,368.6 L332.7,367.2 L335.0,369.1 L337.4,367.2 L339.7,368.6 L342.0,369.5 L344.4,371.0 L346.7,365.4 L349.0,371.0 L351.3,369.8 L353.7,371.4 L356.0,368.2 L358.3,369.7 L360.7,367.1 L363.0,363.3 L365.3,365.1 L367.6,366.6 L370.0,367.5 L372.3,366.8 L374.6,362.4 L377.0,360.3 L379.3,353.5 L381.6,354.1 L384.0,349.3 L386.3,345.1 L388.6,345.8 L390.9,343.3 L393.3,344.6 L395.6,343.4 L397.9,341.5 L400.3,338.4 L402.6,337.1 L404.9,338.1 L407.2,337.3 L409.6,331.6 L411.9,330.8 L414.2,327.8 L416.6,326.3 L418.9,323.1 L421.2,320.0 L423.5,318.3 L425.9,316.0 L428.2,312.6 L430.5,311.3 L432.9,306.6 L435.2,305.0 L437.5,299.4 L439.9,292.4 L442.2,292.5 L444.5,296.1 L446.8,293.2 L449.2,290.2 L451.5,286.9 L453.8,283.6 L456.2,286.0 L458.5,281.4 L460.8,279.6 L463.1,278.5 L465.5,270.4 L467.8,273.7 L470.1,268.0 L472.5,267.4 L474.8,264.3 L477.1,260.9 L479.4,258.5 L481.8,256.8 L484.1,257.9 L486.4,252.1 L488.8,255.3 L491.1,255.2 L493.4,252.2 L495.8,249.9 L498.1,246.7 L500.4,244.5 L502.7,246.5 L505.1,244.9 L507.4,241.9 L509.7,239.1 L512.1,235.9 L514.4,234.2 L516.7,228.8 L519.0,229.3 L521.4,229.4 L523.7,227.1 L526.0,226.6 L528.4,223.9 L530.7,223.8 L533.0,221.8 L535.3,220.0 L537.7,219.8 L540.0,219.5 L542.3,214.8 L544.7,212.9 L547.0,209.9 L549.3,209.6 L551.7,206.7 L554.0,206.1 L556.3,204.9 L558.6,208.6 L561.0,207.3 L563.3,203.9 L565.6,200.9 L568.0,199.2 L570.3,199.2 L572.6,199.0 L574.9,193.8 L577.3,192.8 L579.6,189.6 L581.9,190.8 L584.3,188.6 L586.6,186.4 L588.9,184.3 L591.2,183.2 L593.6,187.0 L595.9,185.0 L598.2,182.4 L600.6,183.3 L602.9,184.4 L605.2,185.3 L607.6,179.5 L609.9,179.7 L612.2,180.1 L614.5,177.8 L616.9,176.4 L619.2,177.5 L621.5,176.5 L623.9,171.4 L626.2,171.0 L628.5,176.3 L630.8,175.8 L633.2,170.5 L635.5,171.5 L637.8,168.0 L640.2,166.3 L642.5,166.6 L644.8,162.9 L647.1,166.7 L649.5,162.3 L651.8,162.0 L654.1,157.6" stroke="#ff64b0"/>
<path d="M99.8,23.7 L102.1,23.3 L104.5,21.2 L106.8,20.8 L109.1,20.3 L111.4,18.7 L113.8,20.8 L116.1,20.7 L118.4,21.1 L120.8,21.4 L123.1,19.8 L125.4,18.7 L127.7,18.7 L130.1,18.7 L132.4,18.7 L134.7,18.7 L137.1,18.7 L139.4,18.7 L141.7,18.7 L144.0,18.7 L146.4,18.7 L148.7,18.7 L151.0,18.7 L153.4,18.7 L155.7,18.7 L158.0,18.7 L160.4,18.7 L162.7,21.4 L165.0,21.0 L167.3,21.8 L169.7,26.8 L172.0,27.7 L174.3,32.7 L176.7,39.4 L179.0,46.3 L181.3,55.2 L183.6,65.4 L186.0,74.7 L188.3,85.6 L190.6,91.9 L193.0,101.9 L195.3,112.7 L197.6,119.5 L199.9,126.7 L202.3,139.3 L204.6,147.4 L206.9,156.7 L209.3,164.3 L211.6,173.1 L213.9,182.8 L216.3,188.9 L218.6,194.8 L220.9,205.2 L223.2,212.2 L225.6,220.4 L227.9,224.7 L230.2,238.1 L232.6,247.7 L234.9,252.2 L237.2,257.7 L239.5,266.2 L241.9,270.5 L244.2,277.5 L246.5,283.9 L248.9,288.8 L251.2,293.9 L253.5,299.6 L255.8,305.0 L258.2,312.2 L260.5,317.1 L262.8,320.0 L265.2,324.5 L267.5,327.0 L269.8,332.8 L272.2,335.5 L274.5,338.1 L276.8,343.5 L279.1,344.1 L281.5,347.8 L283.8,351.6 L286.1,351.3 L288.5,356.3 L290.8,358.0 L293.1,361.3 L295.4,364.1 L297.8,366.4 L300.1,368.8 L302.4,369.2 L304.8,371.4 L307.1,371.4 L309.4,369.5 L311.7,369.6 L314.1,368.7 L316.4,366.8 L318.7,367.2 L321.1,369.7 L323.4,368.5 L325.7,367.0 L328.1,363.8 L330.4,366.7 L332.7,362.6 L335.0,358.0 L337.4,357.7 L339.7,350.7 L342.0,350.1 L344.4,348.7 L346.7,346.0 L349.0,345.4 L351.3,340.7 L353.7,338.2 L356.0,334.2 L358.3,328.8 L360.7,321.9 L363.0,318.2 L365.3,319.2 L367.6,309.2 L370.0,307.0 L372.3,304.9 L374.6,301.2 L377.0,295.6 L379.3,293.2 L381.6,285.9 L384.0,286.1 L386.3,282.0 L388.6,277.5 L390.9,274.8 L393.3,271.2 L395.6,268.2 L397.9,263.9 L400.3,261.3 L402.6,255.1 L404.9,256.5 L407.2,251.9 L409.6,247.3 L411.9,244.6 L414.2,239.9 L416.6,239.4 L418.9,233.9 L421.2,228.2 L423.5,227.3 L425.9,225.2 L428.2,219.3 L430.5,217.6 L432.9,212.1 L435.2,210.1 L437.5,209.2 L439.9,208.5 L442.2,207.5 L444.5,202.2 L446.8,200.7 L449.2,196.9 L451.5,196.6 L453.8,193.5 L456.2,187.8 L458.5,186.3 L460.8,185.4 L463.1,182.3 L465.5,180.9 L467.8,179.2 L470.1,177.5 L472.5,175.6 L474.8,175.7 L477.1,174.8 L479.4,170.1 L481.8,167.7 L484.1,168.7 L486.4,167.6 L488.8,164.8 L491.1,169.4 L493.4,167.0 L495.8,168.7 L498.1,169.3 L500.4,162.9 L502.7,157.2 L505.1,155.4 L507.4,156.8 L509.7,157.4 L512.1,158.4 L514.4,155.1 L516.7,152.2 L519.0,150.2 L521.4,146.4 L523.7,147.8 L526.0,149.2 L528.4,147.1 L530.7,145.9 L533.0,142.3 L535.3,139.9 L537.7,139.3 L540.0,138.3 L542.3,137.1 L544.7,136.7 L547.0,134.2 L549.3,131.7 L551.7,130.3 L554.0,134.4 L556.3,132.3 L558.6,132.2 L561.0,131.0 L563.3,130.4 L565.6,129.2 L568.0,126.8 L570.3,125.3 L572.6,121.9 L574.9,120.2 L577.3,121.4 L579.6,119.1 L581.9,119.1 L584.3,123.0 L586.6,119.4 L588.9,120.7 L591.2,117.0 L593.6,115.5 L595.9,115.8 L598.2,114.1 L600.6,114.1 L602.9,113.7 L605.2,109.7 L607.6,107.7 L609.9,107.7 L612.2,104.8 L614.5,103.2 L616.9,103.4 L619.2,103.8 L621.5,102.8 L623.9,107.1 L626.2,106.4 L628.5,105.5 L630.8,107.8 L633.2,104.3 L635.5,104.1 L637.8,100.8 L640.2,99.0 L642.5,99.3 L644.8,99.0 L647.1,95.4 L649.5,92.1 L651.8,92.5 L654.1,90.2" stroke="#6eb000"/>
<path d="M99.8,32.8 L102.1,32.0 L104.5,33.5 L106.8,33.6 L109.1,36.5 L111.4,33.4 L113.8,34.1 L116.1,32.1 L118.4,34.6 L120.8,35.9 L123.1,33.7 L125.4,34.9 L127.7,36.9 L130.1,37.2 L132.4,34.5 L134.7,32.6 L137.1,32.0 L139.4,33.2 L141.7,31.9 L144.0,31.9 L146.4,31.3 L148.7,33.5 L151.0,32.2 L153.4,32.6 L155.7,32.4 L158.0,37.4 L160.4,36.8 L162.7,38.9 L165.0,40.4 L167.3,45.5 L169.7,46.5 L172.0,52.6 L174.3,58.6 L176.7,67.5 L179.0,74.2 L181.3,80.5 L183.6,90.6 L186.0,96.8 L188.3,105.8 L190.6,114.5 L193.0,123.0 L195.3,128.9 L197.6,136.8 L199.9,146.4 L202.3,156.8 L204.6,163.9 L206.9,169.5 L209.3,180.6 L211.6,185.9 L213.9,195.2 L216.3,202.3 L218.6,209.2 L220.9,212.5 L223.2,222.7 L225.6,228.0 L227.9,233.8 L230.2,240.2 L232.6,245.1 L234.9,249.4 L237.2,255.6 L239.5,263.2 L241.9,269.5 L244.2,277.4 L246.5,281.9 L248.9,289.7 L251.2,295.3 L253.5,302.5 L255.8,307.0 L258.2,312.2 L260.5,312.0 L262.8,316.5 L265.2,319.4 L267.5,322.8 L269.8,326.5 L272.2,329.2 L274.5,331.5 L276.8,340.9 L279.1,341.1 L281.5,343.9 L283.8,344.6 L286.1,346.3 L288.5,350.7 L290.8,350.4 L293.1,351.4 L295.4,354.5 L297.8,355.6 L300.1,358.2 L302.4,361.5 L304.8,365.0 L307.1,370.3 L309.4,371.4 L311.7,371.4 L314.1,369.2 L316.4,368.2 L318.7,368.8 L321.1,366.0 L323.4,368.2 L325.7,370.1 L328.1,371.4 L330.4,370.1 L332.7,371.4 L335.0,371.4 L337.4,370.0 L339.7,371.4 L342.0,369.6 L344.4,369.6 L346.7,366.9 L349.0,364.5 L351.3,359.7 L353.7,354.8 L356.0,351.9 L358.3,348.5 L360.7,347.5 L363.0,338.7 L365.3,334.7 L367.6,332.0 L370.0,326.1 L372.3,322.1 L374.6,319.3 L377.0,311.6 L379.3,309.3 L381.6,305.4 L384.0,301.5 L386.3,298.2 L388.6,296.3 L390.9,288.6 L393.3,284.0 L395.6,278.8 L397.9,277.5 L400.3,274.2 L402.6,266.3 L404.9,262.3 L407.2,253.9 L409.6,254.9 L411.9,251.2 L414.2,246.8 L416.6,242.5 L418.9,240.4 L421.2,233.5 L423.5,231.4 L425.9,229.6 L428.2,224.2 L430.5,221.3 L432.9,217.3 L435.2,214.1 L437.5,215.8 L439.9,209.8 L442.2,204.3 L444.5,203.9 L446.8,199.9 L449.2,200.3 L451.5,192.6 L453.8,191.6 L456.2,189.5 L458.5,184.6 L460.8,182.7 L463.1,182.0 L465.5,181.9 L467.8,178.9 L470.1,173.8 L472.5,173.0 L474.8,169.3 L477.1,167.1 L479.4,169.5 L481.8,168.4 L484.1,165.1 L486.4,164.1 L488.8,162.0 L491.1,162.2 L493.4,158.9 L495.8,159.6 L498.1,157.8 L500.4,154.6 L502.7,154.8 L505.1,152.2 L507.4,147.0 L509.7,147.0 L512.1,144.0 L514.4,140.7 L516.7,141.4 L519.0,140.2 L521.4,136.3 L523.7,135.5 L526.0,134.5 L528.4,139.9 L530.7,135.7 L533.0,132.6 L535.3,130.5 L537.7,129.0 L540.0,128.0 L542.3,130.1 L544.7,125.8 L547.0,125.8 L549.3,125.6 L551.7,123.1 L554.0,122.2 L556.3,122.8 L558.6,122.3 L561.0,121.0 L563.3,120.7 L565.6,122.5 L568.0,117.5 L570.3,115.5 L572.6,114.2 L574.9,113.9 L577.3,112.7 L579.6,113.3 L581.9,112.2 L584.3,111.5 L586.6,110.2 L588.9,111.2 L591.2,111.3 L593.6,105.3 L595.9,105.9 L598.2,105.1 L600.6,100.0 L602.9,103.9 L605.2,102.1 L607.6,101.6 L609.9,100.3 L612.2,101.2 L614.5,97.8 L616.9,96.8 L619.2,98.4 L621.5,92.0 L623.9,91.7 L626.2,88.7 L628.5,90.2 L630.8,88.7 L633.2,89.0 L635.5,92.2 L637.8,93.1 L640.2,89.4 L642.5,86.5 L644.8,87.0 L647.1,82.8 L649.5,87.8 L651.8,86.7 L654.1,86.7" stroke="#00c0bc"/>
<path d="M99.8,27.2 L102.1,26.8 L104.5,28.3 L106.8,26.6 L109.1,26.8 L111.4,31.8 L113.8,29.7 L116.1,29.6 L118.4,31.0 L120.8,29.5 L123.1,28.0 L125.4,26.5 L127.7,25.7 L130.1,27.0 L132.4,28.1 L134.7,26.1 L137.1,26.7 L139.4,31.4 L141.7,30.2 L144.0,29.9 L146.4,30.3 L148.7,29.9 L151.0,29.6 L153.4,31.0 L155.7,30.5 L158.0,30.7 L160.4,32.2 L162.7,34.0 L165.0,36.3 L167.3,39.9 L169.7,41.5 L172.0,50.2 L174.3,56.6 L176.7,70.0 L179.0,78.0 L181.3,91.3 L183.6,100.0 L186.0,112.7 L188.3,124.6 L190.6,131.5 L193.0,137.0 L195.3,150.5 L197.6,161.8 L199.9,171.8 L202.3,179.7 L204.6,189.4 L206.9,201.5 L209.3,208.5 L211.6,216.7 L213.9,225.9 L216.3,230.9 L218.6,241.8 L220.9,245.1 L223.2,255.7 L225.6,262.5 L227.9,271.8 L230.2,277.8 L232.6,282.4 L234.9,292.7 L237.2,297.3 L239.5,304.8 L241.9,306.4 L244.2,309.8 L246.5,317.2 L248.9,325.5 L251.2,330.7 L253.5,333.4 L255.8,336.3 L258.2,340.5 L260.5,346.1 L262.8,349.1 L265.2,350.2 L267.5,348.2 L269.8,350.4 L272.2,357.1 L274.5,360.4 L276.8,360.8 L279.1,366.9 L281.5,367.1 L283.8,367.8 L286.1,370.0 L288.5,371.4 L290.8,371.4 L293.1,371.4 L295.4,371.0 L297.8,369.1 L300.1,371.4 L302.4,371.4 L304.8,370.6 L307.1,369.4 L309.4,371.4 L311.7,371.4 L314.1,367.9 L316.4,371.2 L318.7,369.9 L321.1,365.4 L323.4,363.4 L325.7,365.9 L328.1,364.7 L330.4,365.1 L332.7,367.0 L335.0,366.1 L337.4,369.2 L339.7,370.4 L342.0,369.8 L344.4,370.7 L346.7,371.4 L349.0,370.3 L351.3,370.7 L353.7,367.2 L356.0,362.4 L358.3,362.0 L360.7,361.1 L363.0,358.9 L365.3,359.7 L367.6,357.2 L370.0,357.2 L372.3,358.3 L374.6,356.9 L377.0,357.5 L379.3,354.3 L381.6,354.6 L384.0,351.9 L386.3,349.4 L388.6,347.4 L390.9,349.1 L393.3,346.1 L395.6,346.7 L397.9,341.1 L400.3,342.0 L402.6,341.0 L404.9,337.3 L407.2,334.3 L409.6,336.3 L411.9,330.5 L414.2,332.7 L416.6,331.3 L418.9,327.6 L421.2,324.7 L423.5,321.5 L425.9,320.1 L428.2,320.3 L430.5,319.0 L432.9,315.0 L435.2,315.1 L437.5,316.7 L439.9,313.7 L442.2,311.5 L444.5,309.5 L446.8,304.0 L449.2,303.3 L451.5,301.1 L453.8,293.7 L456.2,295.5 L458.5,293.7 L460.8,294.9 L463.1,295.5 L465.5,288.6 L467.8,287.4 L470.1,287.5 L472.5,286.2 L474.8,283.9 L477.1,283.3 L479.4,283.4 L481.8,278.3 L484.1,276.8 L486.4,277.3 L488.8,271.5 L491.1,273.6 L493.4,272.3 L495.8,267.4 L498.1,266.4 L500.4,265.0 L502.7,264.1 L505.1,259.3 L507.4,258.6 L509.7,259.9 L512.1,260.2 L514.4,255.2 L516.7,251.7 L519.0,248.2 L521.4,248.4 L523.7,245.8 L526.0,241.3 L528.4,245.1 L530.7,245.6 L533.0,242.6 L535.3,237.3 L537.7,235.0 L540.0,237.5 L542.3,238.9 L544.7,238.0 L547.0,236.6 L549.3,233.9 L551.7,234.4 L554.0,234.3 L556.3,233.4 L558.6,231.4 L561.0,229.6 L563.3,224.6 L565.6,223.3 L568.0,224.9 L570.3,219.0 L572.6,220.7 L574.9,219.1 L577.3,218.3 L579.6,214.0 L581.9,217.4 L584.3,216.4 L586.6,214.3 L588.9,210.5 L591.2,211.7 L593.6,210.9 L595.9,212.4 L598.2,210.4 L600.6,208.2 L602.9,207.2 L605.2,204.1 L607.6,204.9 L609.9,202.6 L612.2,199.9 L614.5,199.4 L616.9,200.2 L619.2,199.1 L621.5,197.7 L623.9,197.9 L626.2,193.9 L628.5,195.9 L630.8,195.8 L633.2,195.8 L635.5,194.3 L637.8,194.6 L640.2,191.7 L642.5,191.3 L644.8,188.6 L647.1,184.5 L649.5,184.6 L651.8,184.0 L654.1,180.7" stroke="#49b500"/>
<path d="M99.8,48.9 L102.1,51.5 L104.5,51.5 L106.8,51.7 L109.1,50.8 L111.4,48.5 L113.8,51.4 L116.1,52.8 L118.4,52.2 L120.8,51.3 L123.1,50.5 L125.4,50.5 L127.7,51.0 L130.1,52.5 L132.4,52.0 L134.7,50.4 L137.1,49.8 L139.4,51.3 L141.7,50.8 L144.0,45.8 L146.4,49.5 L148.7,49.0 L151.0,50.6 L153.4,52.7 L155.7,53.4 L158.0,52.9 L160.4,54.8 L162.7,54.1 L165.0,55.6 L167.3,55.8 L169.7,58.7 L172.0,61.9 L174.3,65.8 L176.7,72.5 L179.0,79.8 L181.3,90.2 L183.6,96.3 L186.0,104.9 L188.3,107.7 L190.6,116.8 L193.0,129.4 L195.3,134.3 L197.6,142.1 L199.9,147.7 L202.3,157.2 L204.6,167.1 L206.9,174.1 L209.3,186.9 L211.6,195.9 L213.9,203.8 L216.3,214.4 L218.6,222.8 L220.9,228.7 L223.2,235.0 L225.6,241.5 L227.9,248.5 L230.2,251.1 L232.6,258.5 L234.9,268.7 L237.2,272.3 L239.5,277.1 L241.9,285.5 L244.2,289.4 L246.5,296.0 L248.9,299.0 L251.2,306.8 L253.5,308.0 L255.8,312.8 L258.2,316.6 L260.5,319.7 L262.8,324.3 L265.2,327.9 L267.5,333.2 L269.8,335.1 L272.2,343.2 L274.5,345.5 L276.8,347.8 L279.1,349.8 L281.5,353.9 L283.8,356.7 L286.1,361.0 L288.5,357.6 L290.8,361.5 L293.1,361.9 L295.4,361.3 L297.8,363.2 L300.1,367.4 L302.4,368.5 L304.8,371.4 L307.1,371.4 L309.4,371.4 L311.7,369.4 L314.1,371.2 L316.4,369.7 L318.7,368.7 L321.1,368.6 L323.4,370.0 L325.7,365.2 L328.1,361.8 L330.4,360.6 L332.7,359.6 L335.0,359.0 L337.4,356.1 L339.7,353.2 L342.0,349.6 L344.4,350.8 L346.7,345.5 L349.0,341.9 L351.3,337.7 L353.7,333.5 L356.0,331.3 L358.3,328.4 L360.7,326.3 L363.0,322.4 L365.3,318.8 L367.6,311.4 L370.0,312.5 L372.3,314.4 L374.6,313.8 L377.0,310.0 L379.3,306.3 L381.6,303.8 L384.0,299.8 L386.3,298.1 L388.6,295.5 L390.9,289.4 L393.3,281.7 L395.6,276.2 L397.9,274.5 L400.3,269.7 L402.6,266.8 L404.9,263.0 L407.2,259.7 L409.6,259.8 L411.9,259.0 L414.2,252.7 L416.6,251.0 L418.9,245.4 L421.2,246.4 L423.5,247.7 L425.9,240.5 L428.2,240.6 L430.5,237.5 L432.9,235.5 L435.2,232.1 L437.5,229.4 L439.9,225.8 L442.2,222.6 L444.5,218.8 L446.8,216.3 L449.2,211.4 L451.5,212.6 L453.8,209.4 L456.2,204.6 L458.5,199.7 L460.8,199.6 L463.1,195.5 L465.5,195.9 L467.8,191.8 L470.1,189.6 L472.5,192.6 L474.8,192.5 L477.1,192.7 L479.4,189.9 L481.8,187.4 L484.1,184.7 L486.4,184.0 L488.8,179.3 L491.1,179.0 L493.4,179.8 L495.8,177.4 L498.1,179.2 L500.4,174.8 L502.7,177.0 L505.1,172.3 L507.4,173.9 L509.7,172.0 L512.1,169.7 L514.4,168.1 L516.7,166.4 L519.0,171.1 L521.4,167.0 L523.7,163.3 L526.0,165.9 L528.4,163.7 L530.7,162.9 L533.0,159.3 L535.3,159.0 L537.7,156.0 L540.0,154.9 L542.3,153.8 L544.7,154.6 L547.0,153.8 L549.3,151.7 L551.7,150.9 L554.0,150.5 L556.3,147.8 L558.6,147.5 L561.0,143.8 L563.3,144.5 L565.6,143.2 L568.0,140.2 L570.3,138.2 L572.6,139.1 L574.9,137.0 L577.3,137.2 L579.6,136.6 L581.9,137.3 L584.3,136.1 L586.6,131.4 L588.9,127.9 L591.2,129.7 L593.6,131.9 L595.9,127.4 L598.2,126.0 L600.6,126.3 L602.9,127.2 L605.2,130.8 L607.6,128.1 L609.9,128.8 L612.2,130.4 L614.5,127.1 L616.9,127.4 L619.2,124.4 L621.5,120.4 L623.9,119.9 L626.2,117.7 L628.5,120.0 L630.8,120.2 L633.2,115.6 L635.5,115.2 L637.8,115.9 L640.2,114.2 L642.5,114.0 L644.8,114.1 L647.1,114.7 L649.5,112.5 L651.8,112.2 L654.1,113.6" stroke="#00be67"/>
<path d="M99.8,19.2 L102.1,22.7 L104.5,20.4 L106.8,19.0 L109.1,19.7 L111.4,20.3 L113.8,18.7 L116.1,22.1 L118.4,23.4 L120.8,22.0 L123.1,20.7 L125.4,20.7 L127.7,21.8 L130.1,21.5 L132.4,21.3 L134.7,21.9 L137.1,21.0 L139.4,18.7 L141.7,21.1 L144.0,19.1 L146.4,18.7 L148.7,19.5 L151.0,18.7 L153.4,20.3 L155.7,18.7 L158.0,20.9 L160.4,22.5 L162.7,23.2 L165.0,24.8 L167.3,22.9 L169.7,25.5 L172.0,26.5 L174.3,30.2 L176.7,37.5 L179.0,39.3 L181.3,45.0 L183.6,55.7 L186.0,65.4 L188.3,74.9 L190.6,80.4 L193.0,93.6 L195.3,105.9 L197.6,113.3 L199.9,123.8 L202.3,131.5 L204.6,141.9 L206.9,150.2 L209.3,158.9 L211.6,165.4 L213.9,174.7 L216.3,185.1 L218.6,194.6 L220.9,202.0 L223.2,208.5 L225.6,218.9 L227.9,226.0 L230.2,233.1 L232.6,245.2 L234.9,250.8 L237.2,255.4 L239.5,264.6 L241.9,272.9 L244.2,276.9 L246.5,286.1 L248.9,293.0 L251.2,296.3 L253.5,301.9 L255.8,306.0 L258.2,308.1 L260.5,314.6 L262.8,316.4 L265.2,318.7 L267.5,329.9 L269.8,329.1 L272.2,335.6 L274.5,343.0 L276.8,344.5 L279.1,346.7 L281.5,348.0 L283.8,349.9 L286.1,355.3 L288.5,353.9 L290.8,358.9 L293.1,359.1 L295.4,361.7 L297.8,362.8 L300.1,364.3 L302.4,366.7 L304.8,365.3 L307.1,364.9 L309.4,365.5 L311.7,367.2 L314.1,369.3 L316.4,369.9 L318.7,370.0 L321.1,371.4 L323.4,371.4 L325.7,371.4 L328.1,371.4 L330.4,371.4 L332.7,371.4 L335.0,369.6 L337.4,370.9 L339.7,371.4 L342.0,369.2 L344.4,368.1 L346.7,368.6 L349.0,367.1 L351.3,366.9 L353.7,366.4 L356.0,364.6 L358.3,365.8 L360.7,361.3 L363.0,363.1 L365.3,362.4 L367.6,358.2 L370.0,354.3 L372.3,349.4 L374.6,347.9 L377.0,345.0 L379.3,339.8 L381.6,332.8 L384.0,331.2 L386.3,331.9 L388.6,327.5 L390.9,325.7 L393.3,319.9 L395.6,315.1 L397.9,312.5 L400.3,310.4 L402.6,308.9 L404.9,305.8 L407.2,301.7 L409.6,295.1 L411.9,290.6 L414.2,285.9 L416.6,286.4 L418.9,283.2 L421.2,285.6 L423.5,280.9 L425.9,279.4 L428.2,278.5 L430.5,273.3 L432.9,272.6 L435.2,274.2 L437.5,266.7 L439.9,262.7 L442.2,257.9 L444.5,254.0 L446.8,248.7 L449.2,249.0 L451.5,246.9 L453.8,241.0 L456.2,236.7 L458.5,234.5 L460.8,231.0 L463.1,227.9 L465.5,226.4 L467.8,224.0 L470.1,221.1 L472.5,220.3 L474.8,220.5 L477.1,214.0 L479.4,214.8 L481.8,211.9 L484.1,207.4 L486.4,205.0 L488.8,205.3 L491.1,203.0 L493.4,202.0 L495.8,195.1 L498.1,193.7 L500.4,196.5 L502.7,197.7 L505.1,196.8 L507.4,191.1 L509.7,188.0 L512.1,188.6 L514.4,187.0 L516.7,185.9 L519.0,183.4 L521.4,184.3 L523.7,180.2 L526.0,177.6 L528.4,176.9 L530.7,176.4 L533.0,174.6 L535.3,172.8 L537.7,172.4 L540.0,172.1 L542.3,171.7 L544.7,170.6 L547.0,168.0 L549.3,168.1 L551.7,166.3 L554.0,164.7 L556.3,164.5 L558.6,157.0 L561.0,155.4 L563.3,154.9 L565.6,155.5 L568.0,153.6 L570.3,150.9 L572.6,152.6 L574.9,152.1 L577.3,150.6 L579.6,146.3 L581.9,149.7 L584.3,147.4 L586.6,146.3 L588.9,146.8 L591.2,141.4 L593.6,143.4 L595.9,141.4 L598.2,137.8 L600.6,141.5 L602.9,141.2 L605.2,140.4 L607.6,135.6 L609.9,137.7 L612.2,140.2 L614.5,139.2 L616.9,135.8 L619.2,134.9 L621.5,131.5 L623.9,130.3 L626.2,126.7 L628.5,130.2 L630.8,128.4 L633.2,126.1 L635.5,127.1 L637.8,125.0 L640.2,123.6 L642.5,121.6 L644.8,124.2 L647.1,123.1 L649.5,121.0 L651.8,117.6 L654.1,116.7" stroke="#f066ea"/>
<path d="M99.8,25.4 L102.1,27.3 L104.5,29.5 L106.8,28.4 L109.1,29.4 L111.4,25.2 L113.8,25.6 L116.1,29.5 L118.4,28.5 L120.8,28.6 L123.1,29.9 L125.4,30.4 L127.7,30.2 L130.1,29.6 L132.4,30.4 L134.7,28.9 L137.1,28.9 L139.4,28.6 L141.7,29.1 L144.0,31.6 L146.4,29.5 L148.7,26.8 L151.0,27.8 L153.4,26.1 L155.7,27.6 L158.0,27.9 L160.4,27.8 L162.7,28.2 L165.0,30.5 L167.3,33.5 L169.7,33.9 L172.0,33.5 L174.3,35.2 L176.7,40.6 L179.0,47.0 L181.3,53.0 L183.6,61.6 L186.0,73.5 L188.3,78.0 L190.6,83.2 L193.0,96.4 L195.3,103.5 L197.6,108.4 L199.9,118.8 L202.3,128.8 L204.6,137.9 L206.9,146.6 L209.3,156.9 L211.6,165.8 L213.9,175.0 L216.3,181.1 L218.6,192.9 L220.9,201.1 L223.2,206.8 L225.6,220.5 L227.9,223.4 L230.2,232.8 L232.6,239.6 L234.9,247.5 L237.2,256.7 L239.5,260.5 L241.9,268.9 L244.2,274.5 L246.5,280.1 L248.9,284.7 L251.2,287.8 L253.5,297.6 L255.8,300.5 L258.2,302.2 L260.5,310.3 L262.8,314.1 L265.2,316.7 L267.5,321.9 L269.8,323.7 L272.2,326.3 L274.5,328.5 L276.8,335.0 L279.1,339.6 L281.5,345.1 L283.8,345.4 L286.1,350.6 L288.5,354.6 L290.8,357.4 L293.1,355.2 L295.4,361.0 L297.8,362.0 L300.1,364.0 L302.4,363.0 L304.8,368.8 L307.1,371.2 L309.4,371.2 L311.7,371.4 L314.1,371.4 L316.4,371.4 L318.7,371.4 L321.1,371.4 L323.4,371.2 L325.7,371.4 L328.1,371.4 L330.4,371.4 L332.7,371.1 L335.0,371.4 L337.4,368.8 L339.7,366.6 L342.0,366.8 L344.4,363.5 L346.7,363.1 L349.0,342.5 L351.3,341.5 L353.7,362.5 L356.0,362.2 L358.3,364.4 L360.7,361.2 L363.0,362.5 L365.3,360.1 L367.6,360.1 L370.0,357.7 L372.3,353.7 L374.6,353.0 L377.0,352.8 L379.3,349.4 L381.6,348.9 L384.0,345.3 L386.3,343.9 L388.6,342.0 L390.9,338.3 L393.3,336.0 L395.6,335.3 L397.9,333.6 L400.3,331.9 L402.6,326.7 L404.9,323.5 L407.2,317.4 L409.6,316.4 L411.9,313.7 L414.2,309.7 L416.6,306.6 L418.9,305.5 L421.2,303.4 L423.5,298.6 L425.9,293.6 L428.2,287.7 L430.5,289.0 L432.9,285.9 L435.2,286.3 L437.5,283.8 L439.9,279.1 L442.2,275.2 L444.5,274.0 L446.8,270.0 L449.2,269.9 L451.5,269.4 L453.8,262.8 L456.2,259.9 L458.5,260.5 L460.8,261.4 L463.1,254.8 L465.5,256.0 L467.8,254.9 L470.1,251.4 L472.5,246.7 L474.8,243.6 L477.1,240.1 L479.4,237.0 L481.8,235.1 L484.1,236.0 L486.4,230.1 L488.8,227.6 L491.1,222.9 L493.4,226.9 L495.8,225.4 L498.1,222.7 L500.4,224.4 L502.7,221.6 L505.1,213.0 L507.4,211.5 L509.7,213.0 L512.1,208.0 L514.4,202.2 L516.7,206.8 L519.0,205.1 L521.4,201.3 L523.7,200.4 L526.0,201.8 L528.4,202.1 L530.7,200.8 L533.0,196.9 L535.3,193.1 L537.7,190.3 L540.0,189.8 L542.3,188.9 L544.7,189.4 L547.0,190.1 L549.3,188.5 L551.7,186.4 L554.0,188.1 L556.3,185.1 L558.6,180.8 L561.0,183.6 L563.3,184.2 L565.6,179.2 L568.0,177.2 L570.3,174.7 L572.6,172.7 L574.9,171.9 L577.3,167.8 L579.6,169.3 L581.9,168.3 L584.3,167.3 L586.6,169.1 L588.9,167.6 L591.2,166.3 L593.6,166.9 L595.9,163.1 L598.2,162.9 L600.6,159.4 L602.9,162.0 L605.2,160.8 L607.6,158.4 L609.9,158.1 L612.2,156.8 L614.5,155.3 L616.9,157.7 L619.2,155.7 L621.5,153.6 L623.9,154.3 L626.2,150.4 L628.5,150.6 L630.8,147.1 L633.2,150.2 L635.5,146.9 L637.8,149.1 L640.2,149.2 L642.5,150.2 L644.8,149.3 L647.1,147.9 L649.5,146.3 L651.8,146.8 L654.1,147.6" stroke="#2bb600"/>
<path d="M99.8,18.7 L102.1,19.9 L104.5,21.9 L106.8,19.4 L109.1,19.9 L111.4,20.4 L113.8,18.7 L116.1,19.2 L118.4,22.1 L120.8,19.8 L123.1,19.8 L125.4,18.7 L127.7,20.0 L130.1,19.2 L132.4,18.7 L134.7,18.7 L137.1,18.7 L139.4,18.7 L141.7,18.7 L144.0,19.7 L146.4,21.3 L148.7,19.5 L151.0,18.7 L153.4,19.1 L155.7,20.2 L158.0,20.7 L160.4,21.3 L162.7,18.7 L165.0,19.8 L167.3,20.7 L169.7,23.8 L172.0,24.8 L174.3,31.8 L176.7,35.5 L179.0,41.9 L181.3,50.3 L183.6,61.1 L186.0,72.0 L188.3,76.9 L190.6,85.2 L193.0,95.1 L195.3,103.8 L197.6,114.1 L199.9,118.4 L202.3,126.5 L204.6,135.4 L206.9,141.9 L209.3,149.5 L211.6,160.6 L213.9,170.4 L216.3,177.9 L218.6,186.5 L220.9,193.3 L223.2,204.2 L225.6,210.3 L227.9,212.9 L230.2,221.6 L232.6,232.6 L234.9,240.1 L237.2,245.5 L239.5,256.0 L241.9,260.9 L244.2,268.7 L246.5,269.6 L248.9,275.7 L251.2,280.0 L253.5,290.5 L255.8,291.8 L258.2,300.9 L260.5,298.7 L262.8,308.2 L265.2,311.4 L267.5,316.0 L269.8,319.0 L272.2,321.9 L274.5,328.0 L276.8,331.4 L279.1,329.6 L281.5,335.5 L283.8,337.3 L286.1,340.5 L288.5,343.2 L290.8,350.8 L293.1,352.6 L295.4,356.0 L297.8,355.3 L300.1,358.6 L302.4,360.5 L304.8,359.2 L307.1,361.3 L309.4,369.3 L311.7,371.4 L314.1,369.4 L316.4,370.6 L318.7,369.8 L321.1,371.4 L323.4,371.4 L325.7,371.4 L328.1,371.4 L330.4,367.6 L332.7,369.8 L335.0,370.5 L337.4,367.8 L339.7,367.4 L342.0,371.4 L344.4,369.1 L346.7,370.0 L349.0,371.4 L351.3,371.4 L353.7,371.4 L356.0,370.2 L358.3,369.1 L360.7,371.1 L363.0,365.3 L365.3,364.9 L367.6,365.8 L370.0,358.3 L372.3,360.0 L374.6,354.9 L377.0,351.7 L379.3,348.1 L381.6,348.0 L384.0,347.4 L386.3,347.1 L388.6,345.9 L390.9,345.2 L393.3,343.6 L395.6,339.4 L397.9,337.8 L400.3,334.6 L402.6,332.4 L404.9,329.6 L407.2,328.4 L409.6,327.7 L411.9,327.0 L414.2,324.1 L416.6,321.3 L418.9,319.8 L421.2,317.5 L423.5,319.6 L425.9,311.8 L428.2,308.2 L430.5,305.8 L432.9,300.2 L435.2,297.5 L437.5,292.8 L439.9,296.4 L442.2,294.1 L444.5,292.4 L446.8,296.5 L449.2,291.2 L451.5,290.9 L453.8,286.7 L456.2,282.9 L458.5,281.2 L460.8,277.3 L463.1,275.3 L465.5,275.2 L467.8,272.0 L470.1,264.7 L472.5,266.1 L474.8,261.4 L477.1,257.4 L479.4,258.6 L481.8,252.6 L484.1,255.2 L486.4,250.6 L488.8,247.0 L491.1,246.1 L493.4,245.5 L495.8,244.6 L498.1,245.7 L500.4,246.1 L502.7,243.0 L505.1,244.9 L507.4,240.6 L509.7,241.1 L512.1,239.7 L514.4,236.2 L516.7,233.0 L519.0,228.8 L521.4,228.9 L523.7,227.2 L526.0,224.9 L528.4,226.5 L530.7,223.6 L533.0,220.2 L535.3,216.7 L537.7,218.6 L540.0,218.6 L542.3,216.7 L544.7,213.1 L547.0,211.3 L549.3,208.4 L551.7,205.8 L554.0,204.1 L556.3,205.9 L558.6,204.4 L561.0,207.4 L563.3,207.3 L565.6,205.1 L568.0,203.0 L570.3,201.7 L572.6,198.2 L574.9,197.5 L577.3,195.6 L579.6,195.6 L581.9,194.9 L584.3,194.5 L586.6,190.2 L588.9,192.0 L591.2,192.8 L593.6,191.3 L595.9,188.6 L598.2,184.6 L600.6,181.5 L602.9,185.3 L605.2,185.9 L607.6,184.7 L609.9,185.9 L612.2,184.9 L614.5,182.1 L616.9,181.5 L619.2,180.4 L621.5,179.2 L623.9,179.7 L626.2,180.6 L628.5,177.7 L630.8,176.1 L633.2,177.8 L635.5,173.0 L637.8,169.4 L640.2,170.1 L642.5,168.1 L644.8,168.2 L647.1,164.5 L649.5,165.0 L651.8,165.9 L654.1,165.7" stroke="#fb737a"/>
<path d="M99.8,27.4 L102.1,29.3 L104.5,28.9 L106.8,28.9 L109.1,29.1 L111.4,31.1 L113.8,32.7 L116.1,31.0 L118.4,30.0 L120.8,29.9 L123.1,27.7 L125.4,27.3 L127.7,28.9 L130.1,26.3 L132.4,31.1 L134.7,29.9 L137.1,31.2 L139.4,29.5 L141.7,26.8 L144.0,27.6 L146.4,26.6 L148.7,29.7 L151.0,31.7 L153.4,31.2 L155.7,29.2 L158.0,28.7 L160.4,29.8 L162.7,31.0 L165.0,36.9 L167.3,38.5 L169.7,43.8 L172.0,51.7 L174.3,57.5 L176.7,64.6 L179.0,70.2 L181.3,76.9 L183.6,84.7 L186.0,93.0 L188.3,101.7 L190.6,107.6 L193.0,112.6 L195.3,121.2 L197.6,133.5 L199.9,143.6 L202.3,152.9 L204.6,162.6 L206.9,167.9 L209.3,176.8 L211.6,187.3 L213.9,193.2 L216.3,199.4 L218.6,207.9 L220.9,214.9 L223.2,222.0 L225.6,226.5 L227.9,235.7 L230.2,244.1 L232.6,248.4 L234.9,255.1 L237.2,259.3 L239.5,268.9 L241.9,273.1 L244.2,278.3 L246.5,281.9 L248.9,290.1 L251.2,291.8 L253.5,297.3 L255.8,301.4 L258.2,307.1 L260.5,306.9 L262.8,310.6 L265.2,316.3 L267.5,320.3 L269.8,325.4 L272.2,329.4 L274.5,331.8 L276.8,331.4 L279.1,334.9 L281.5,344.3 L283.8,341.9 L286.1,348.0 L288.5,350.7 L290.8,354.3 L293.1,359.7 L295.4,358.7 L297.8,359.8 L300.1,362.9 L302.4,366.3 L304.8,365.0 L307.1,370.9 L309.4,370.6 L311.7,371.4 L314.1,369.5 L316.4,370.2 L318.7,370.1 L321.1,368.2 L323.4,370.4 L325.7,371.1 L328.1,371.2 L330.4,371.4 L332.7,371.4 L335.0,371.4 L337.4,371.4 L339.7,371.4 L342.0,370.1 L344.4,367.8 L346.7,365.9 L349.0,364.3 L351.3,358.9 L353.7,357.3 L356.0,355.1 L358.3,353.4 L360.7,351.0 L363.0,350.3 L365.3,348.7 L367.6,341.9 L370.0,340.4 L372.3,339.2 L374.6,336.9 L377.0,334.5 L379.3,329.2 L381.6,324.9 L384.0,321.1 L386.3,316.1 L388.6,312.0 L390.9,310.2 L393.3,301.4 L395.6,303.1 L397.9,299.5 L400.3,292.6 L402.6,290.1 L404.9,286.5 L407.2,288.0 L409.6,284.3 L411.9,280.9 L414.2,280.9 L416.6,279.0 L418.9,279.8 L421.2,271.4 L423.5,272.0 L425.9,267.3 L428.2,261.3 L430.5,258.7 L432.9,252.0 L435.2,249.5 L437.5,247.5 L439.9,242.5 L442.2,240.6 L444.5,236.9 L446.8,234.8 L449.2,233.9 L451.5,228.5 L453.8,223.4 L456.2,220.6 L458.5,218.3 L460.8,219.4 L463.1,218.2 L465.5,212.5 L467.8,211.2 L470.1,208.8 L472.5,208.5 L474.8,210.0 L477.1,208.2 L479.4,205.9 L481.8,204.9 L484.1,201.2 L486.4,199.7 L488.8,195.4 L491.1,193.9 L493.4,192.7 L495.8,189.6 L498.1,189.6 L500.4,189.3 L502.7,183.9 L505.1,181.6 L507.4,184.1 L509.7,179.3 L512.1,179.0 L514.4,180.1 L516.7,178.4 L519.0,177.8 L521.4,174.1 L523.7,174.4 L526.0,170.6 L528.4,168.8 L530.7,171.5 L533.0,170.4 L535.3,166.1 L537.7,162.4 L540.0,162.5 L542.3,157.9 L544.7,157.3 L547.0,157.3 L549.3,157.0 L551.7,158.2 L554.0,157.1 L556.3,158.9 L558.6,155.5 L561.0,155.9 L563.3,157.5 L565.6,153.3 L568.0,151.4 L570.3,152.8 L572.6,149.9 L574.9,147.5 L577.3,146.2 L579.6,142.8 L581.9,142.0 L584.3,140.8 L586.6,138.8 L588.9,139.0 L591.2,141.7 L593.6,139.9 L595.9,140.9 L598.2,137.0 L600.6,133.9 L602.9,133.7 L605.2,134.2 L607.6,129.4 L609.9,127.4 L612.2,131.5 L614.5,132.3 L616.9,128.8 L619.2,125.6 L621.5,127.4 L623.9,120.5 L626.2,122.0 L628.5,121.4 L630.8,121.7 L633.2,123.4 L635.5,121.9 L637.8,123.6 L640.2,121.4 L642.5,123.1 L644.8,123.7 L647.1,120.5 L649.5,118.2 L651.8,119.2 L654.1,115.5" stroke="#00bf74"/>
<path d="M99.8,27.7 L102.1,29.8 L104.5,28.3 L106.8,27.3 L109.1,30.4 L111.4,26.3 L113.8,27.6 L116.1,25.7 L118.4,25.6 L120.8,26.1 L123.1,23.4 L125.4,25.6 L127.7,25.2 L130.1,22.6 L132.4,25.0 L134.7,24.9 L137.1,24.8 L139.4,23.7 L141.7,24.2 L144.0,24.6 L146.4,22.5 L148.7,22.9 L151.0,24.3 L153.4,25.9 L155.7,27.8 L158.0,26.1 L160.4,27.8 L162.7,30.0 L165.0,28.6 L167.3,27.0 L169.7,28.4 L172.0,30.6 L174.3,31.6 L176.7,34.3 L179.0,40.4 L181.3,42.9 L183.6,46.8 L186.0,57.4 L188.3,66.6 L190.6,71.9 L193.0,79.3 L195.3,86.7 L197.6,93.7 L199.9,100.8 L202.3,112.0 L204.6,116.5 L206.9,127.4 L209.3,134.1 L211.6,143.2 L213.9,147.3 L216.3,157.1 L218.6,165.7 L220.9,171.7 L223.2,181.0 L225.6,185.1 L227.9,195.4 L230.2,202.2 L232.6,209.6 L234.9,215.2 L237.2,226.6 L239.5,227.3 L241.9,234.6 L244.2,245.5 L246.5,248.2 L248.9,255.6 L251.2,260.0 L253.5,267.6 L255.8,272.8 L258.2,279.0 L260.5,282.3 L262.8,288.6 L265.2,290.6 L267.5,295.0 L269.8,295.0 L272.2,299.4 L274.5,305.8 L276.8,307.7 L279.1,309.0 L281.5,319.9 L283.8,317.3 L286.1,325.1 L288.5,330.3 L290.8,335.5 L293.1,338.9 L295.4,340.0 L297.8,344.9 L300.1,342.3 L302.4,347.9 L304.8,351.2 L307.1,355.3 L309.4,353.7 L311.7,357.4 L314.1,362.9 L316.4,364.2 L318.7,365.9 L321.1,366.4 L323.4,368.4 L325.7,368.2 L328.1,370.3 L330.4,371.2 L332.7,369.0 L335.0,368.8 L337.4,369.5 L339.7,365.0 L342.0,360.6 L344.4,359.7 L346.7,356.5 L349.0,353.5 L351.3,347.7 L353.7,345.4 L356.0,344.6 L358.3,341.4 L360.7,338.4 L363.0,332.8 L365.3,327.0 L367.6,321.3 L370.0,317.2 L372.3,312.5 L374.6,308.0 L377.0,304.5 L379.3,299.3 L381.6,295.7 L384.0,286.4 L386.3,281.9 L388.6,280.0 L390.9,273.0 L393.3,266.0 L395.6,263.5 L397.9,261.0 L400.3,258.2 L402.6,253.2 L404.9,249.9 L407.2,243.9 L409.6,242.9 L411.9,238.7 L414.2,231.7 L416.6,227.4 L418.9,225.9 L421.2,219.9 L423.5,212.8 L425.9,213.7 L428.2,212.1 L430.5,211.5 L432.9,207.9 L435.2,204.3 L437.5,202.6 L439.9,203.8 L442.2,198.2 L444.5,196.0 L446.8,196.9 L449.2,192.6 L451.5,187.2 L453.8,186.2 L456.2,187.5 L458.5,180.3 L460.8,180.0 L463.1,173.9 L465.5,173.2 L467.8,171.2 L470.1,174.0 L472.5,172.8 L474.8,168.0 L477.1,165.3 L479.4,162.3 L481.8,164.7 L484.1,164.3 L486.4,160.5 L488.8,161.2 L491.1,155.6 L493.4,152.4 L495.8,153.9 L498.1,155.2 L500.4,154.4 L502.7,151.5 L505.1,150.9 L507.4,144.7 L509.7,141.8 L512.1,140.9 L514.4,141.6 L516.7,138.4 L519.0,139.0 L521.4,141.5 L523.7,136.0 L526.0,132.4 L528.4,128.9 L530.7,130.8 L533.0,129.6 L535.3,131.0 L537.7,128.7 L540.0,129.8 L542.3,129.9 L544.7,129.4 L547.0,128.9 L549.3,125.4 L551.7,127.5 L554.0,123.5 L556.3,122.4 L558.6,120.3 L561.0,118.7 L563.3,119.6 L565.6,117.9 L568.0,118.7 L570.3,117.2 L572.6,116.3 L574.9,114.9 L577.3,112.7 L579.6,111.0 L581.9,110.9 L584.3,111.9 L586.6,109.2 L588.9,106.7 L591.2,108.2 L593.6,106.2 L595.9,106.6 L598.2,104.6 L600.6,106.4 L602.9,100.9 L605.2,98.8 L607.6,99.1 L609.9,103.0 L612.2,99.5 L614.5,97.9 L616.9,96.9 L619.2,95.1 L621.5,89.6 L623.9,89.1 L626.2,89.4 L628.5,90.0 L630.8,92.1 L633.2,92.3 L635.5,92.5 L637.8,91.3 L640.2,92.9 L642.5,94.0 L644.8,95.0 L647.1,90.6 L649.5,96.0 L651.8,95.5 L654.1,94.8" stroke="#7a97ff"/>
<path d="M99.8,102.4 L102.1,100.9 L104.5,99.4 L106.8,94.1 L109.1,98.5 L111.4,95.2 L113.8,99.4 L116.1,96.5 L118.4,99.1 L120.8,90.5 L123.1,91.3 L125.4,91.4 L127.7,91.2 L130.1,88.7 L132.4,86.5 L134.7,88.4 L137.1,92.6 L139.4,85.2 L141.7,88.5 L144.0,83.5 L146.4,84.4 L148.7,84.4 L151.0,86.3 L153.4,93.8 L155.7,87.2 L158.0,89.2 L160.4,89.2 L162.7,85.9 L165.0,88.5 L167.3,80.4 L169.7,94.6 L172.0,95.3 L174.3,100.3 L176.7,99.0 L179.0,106.3 L181.3,118.6 L183.6,129.1 L186.0,125.3 L188.3,133.5 L190.6,142.4 L193.0,146.9 L195.3,158.2 L197.6,169.7 L199.9,176.2 L202.3,181.9 L204.6,190.6 L206.9,199.7 L209.3,212.5 L211.6,220.1 L213.9,231.1 L216.3,240.3 L218.6,245.6 L220.9,253.3 L223.2,257.0 L225.6,252.9 L227.9,266.5 L230.2,272.8 L232.6,280.5 L234.9,288.5 L237.2,284.0 L239.5,301.3 L241.9,299.4 L244.2,305.9 L246.5,314.7 L248.9,321.5 L251.2,320.3 L253.5,323.9 L255.8,322.5 L258.2,317.3 L260.5,328.1 L262.8,335.5 L265.2,333.6 L267.5,332.9 L269.8,343.8 L272.2,345.8 L274.5,354.3 L276.8,357.2 L279.1,361.0 L281.5,363.2 L283.8,358.7 L286.1,361.3 L288.5,364.3 L290.8,362.0 L293.1,362.7 L295.4,364.6 L297.8,370.1 L300.1,370.2 L302.4,371.4 L304.8,371.4 L307.1,371.4 L309.4,371.4 L311.7,371.4 L314.1,371.4 L316.4,363.8 L318.7,371.4 L321.1,371.4 L323.4,368.9 L325.7,370.6 L328.1,362.2 L330.4,367.0 L332.7,370.9 L335.0,368.1 L337.4,371.4 L339.7,370.3 L342.0,371.4 L344.4,371.0 L346.7,371.4 L349.0,371.4 L351.3,371.4 L353.7,371.4 L356.0,366.5 L358.3,367.7 L360.7,368.9 L363.0,371.0 L365.3,364.8 L367.6,354.9 L370.0,350.3 L372.3,354.1 L374.6,348.5 L377.0,350.2 L379.3,345.7 L381.6,332.7 L384.0,337.1 L386.3,337.8 L388.6,331.7 L390.9,336.6 L393.3,328.6 L395.6,325.5 L397.9,332.6 L400.3,324.8 L402.6,306.7 L404.9,312.1 L407.2,311.9 L409.6,305.2 L411.9,295.2 L414.2,291.2 L416.6,292.9 L418.9,294.6 L421.2,288.3 L423.5,281.9 L425.9,285.5 L428.2,285.8 L430.5,287.1 L432.9,289.2 L435.2,271.1 L437.5,271.2 L439.9,272.8 L442.2,271.5 L444.5,268.3 L446.8,270.4 L449.2,273.2 L451.5,260.2 L453.8,269.7 L456.2,263.0 L458.5,251.6 L460.8,248.4 L463.1,246.3 L465.5,244.8 L467.8,240.1 L470.1,230.9 L472.5,231.5 L474.8,223.4 L477.1,227.4 L479.4,222.1 L481.8,225.3 L484.1,225.3 L486.4,227.0 L488.8,225.6 L491.1,229.2 L493.4,222.4 L495.8,221.6 L498.1,215.1 L500.4,215.5 L502.7,217.1 L505.1,221.5 L507.4,219.4 L509.7,219.6 L512.1,210.4 L514.4,207.0 L516.7,207.6 L519.0,198.7 L521.4,205.9 L523.7,200.0 L526.0,184.2 L528.4,196.3 L530.7,184.9 L533.0,182.6 L535.3,177.1 L537.7,174.1 L540.0,182.5 L542.3,179.8 L544.7,180.2 L547.0,184.2 L549.3,180.4 L551.7,183.0 L554.0,181.3 L556.3,177.4 L558.6,185.1 L561.0,174.5 L563.3,175.7 L565.6,176.5 L568.0,180.4 L570.3,176.7 L572.6,181.9 L574.9,178.8 L577.3,178.8 L579.6,176.5 L581.9,177.3 L584.3,173.0 L586.6,170.3 L588.9,171.6 L591.2,172.4 L593.6,174.6 L595.9,176.9 L598.2,174.1 L600.6,167.7 L602.9,162.9 L605.2,156.1 L607.6,151.3 L609.9,158.9 L612.2,163.1 L614.5,153.6 L616.9,157.9 L619.2,155.9 L621.5,153.3 L623.9,148.6 L626.2,151.4 L628.5,145.7 L630.8,146.9 L633.2,141.2 L635.5,141.8 L637.8,149.5 L640.2,141.0 L642.5,142.1 L644.8,140.1 L647.1,139.8 L649.5,146.9 L651.8,144.1 L654.1,148.9" stroke="#5eb300"/>
<path d="M99.8,34.7 L102.1,35.1 L104.5,35.4 L106.8,32.7 L109.1,31.2 L111.4,30.0 L113.8,30.1 L116.1,29.9 L118.4,31.3 L120.8,30.7 L123.1,28.7 L125.4,30.2 L127.7,29.2 L130.1,27.0 L132.4,28.8 L134.7,28.1 L137.1,27.0 L139.4,26.7 L141.7,25.2 L144.0,24.1 L146.4,23.6 L148.7,24.6 L151.0,24.9 L153.4,27.1 L155.7,31.2 L158.0,30.7 L160.4,33.5 L162.7,36.9 L165.0,39.6 L167.3,39.2 L169.7,41.5 L172.0,45.0 L174.3,48.6 L176.7,55.9 L179.0,60.1 L181.3,66.7 L183.6,74.1 L186.0,82.7 L188.3,92.7 L190.6,103.4 L193.0,111.0 L195.3,122.3 L197.6,125.7 L199.9,131.7 L202.3,138.3 L204.6,146.1 L206.9,153.0 L209.3,163.5 L211.6,174.1 L213.9,180.3 L216.3,186.5 L218.6,198.0 L220.9,204.6 L223.2,213.7 L225.6,219.4 L227.9,227.4 L230.2,235.7 L232.6,240.9 L234.9,248.0 L237.2,251.6 L239.5,260.9 L241.9,266.1 L244.2,271.8 L246.5,275.5 L248.9,280.5 L251.2,287.3 L253.5,296.2 L255.8,296.9 L258.2,304.8 L260.5,310.3 L262.8,313.5 L265.2,315.3 L267.5,323.4 L269.8,322.6 L272.2,322.3 L274.5,326.8 L276.8,331.5 L279.1,333.3 L281.5,339.5 L283.8,344.1 L286.1,345.1 L288.5,351.5 L290.8,352.5 L293.1,353.6 L295.4,354.7 L297.8,360.0 L300.1,358.6 L302.4,360.4 L304.8,361.6 L307.1,362.2 L309.4,361.9 L311.7,362.2 L314.1,364.0 L316.4,367.3 L318.7,366.2 L321.1,369.1 L323.4,371.4 L325.7,371.4 L328.1,371.4 L330.4,371.4 L332.7,371.4 L335.0,371.4 L337.4,371.4 L339.7,370.9 L342.0,369.0 L344.4,369.3 L346.7,366.5 L349.0,369.5 L351.3,366.4 L353.7,366.3 L356.0,367.8 L358.3,365.5 L360.7,363.8 L363.0,362.3 L365.3,362.0 L367.6,363.1 L370.0,365.0 L372.3,362.5 L374.6,359.9 L377.0,358.7 L379.3,357.2 L381.6,356.2 L384.0,355.7 L386.3,352.5 L388.6,349.0 L390.9,349.9 L393.3,349.4 L395.6,346.1 L397.9,338.1 L400.3,342.2 L402.6,336.5 L404.9,338.5 L407.2,339.0 L409.6,334.8 L411.9,328.8 L414.2,333.3 L416.6,330.8 L418.9,329.5 L421.2,323.9 L423.5,324.1 L425.9,320.5 L428.2,320.4 L430.5,319.4 L432.9,318.3 L435.2,313.6 L437.5,312.5 L439.9,311.8 L442.2,306.4 L444.5,303.1 L446.8,304.8 L449.2,300.2 L451.5,296.8 L453.8,296.3 L456.2,291.8 L458.5,292.8 L460.8,287.2 L463.1,289.1 L465.5,282.9 L467.8,282.5 L470.1,279.6 L472.5,281.2 L474.8,280.0 L477.1,273.4 L479.4,272.3 L481.8,270.4 L484.1,265.7 L486.4,265.0 L488.8,262.0 L491.1,259.8 L493.4,259.9 L495.8,257.7 L498.1,256.3 L500.4,255.3 L502.7,255.2 L505.1,250.0 L507.4,249.8 L509.7,249.9 L512.1,248.0 L514.4,246.9 L516.7,245.3 L519.0,245.1 L521.4,243.1 L523.7,242.0 L526.0,238.9 L528.4,241.0 L530.7,235.4 L533.0,234.6 L535.3,233.9 L537.7,228.5 L540.0,228.1 L542.3,223.2 L544.7,224.5 L547.0,222.1 L549.3,217.3 L551.7,219.9 L554.0,216.8 L556.3,214.3 L558.6,213.8 L561.0,213.6 L563.3,211.0 L565.6,209.4 L568.0,211.3 L570.3,211.5 L572.6,209.1 L574.9,207.9 L577.3,207.6 L579.6,208.4 L581.9,206.7 L584.3,207.1 L586.6,204.8 L588.9,202.3 L591.2,204.8 L593.6,201.1 L595.9,200.2 L598.2,196.1 L600.6,194.3 L602.9,191.1 L605.2,195.9 L607.6,194.5 L609.9,194.2 L612.2,191.8 L614.5,195.3 L616.9,191.0 L619.2,189.8 L621.5,183.4 L623.9,186.7 L626.2,185.6 L628.5,185.5 L630.8,185.0 L633.2,180.9 L635.5,179.4 L637.8,180.4 L640.2,183.0 L642.5,183.4 L644.8,180.4 L647.1,182.7 L649.5,175.6 L651.8,178.7 L654.1,179.7" stroke="#d177ff"/>
<path d="M99.8,33.0 L102.1,31.1 L104.5,32.8 L106.8,28.9 L109.1,29.7 L111.4,29.6 L113.8,29.5 L116.1,29.6 L118.4,28.1 L120.8,27.9 L123.1,26.9 L125.4,27.7 L127.7,28.1 L130.1,26.4 L132.4,26.7 L134.7,26.1 L137.1,24.8 L139.4,24.2 L141.7,28.1 L144.0,26.8 L146.4,27.1 L148.7,26.7 L151.0,28.8 L153.4,32.0 L155.7,31.1 L158.0,31.6 L160.4,32.7 L162.7,35.9 L165.0,38.7 L167.3,40.2 L169.7,44.7 L172.0,50.8 L174.3,58.8 L176.7,66.1 L179.0,77.9 L181.3,88.0 L183.6,94.3 L186.0,101.0 L188.3,109.5 L190.6,115.7 L193.0,123.7 L195.3,130.0 L197.6,143.8 L199.9,154.0 L202.3,160.6 L204.6,172.0 L206.9,182.6 L209.3,190.0 L211.6,200.7 L213.9,205.4 L216.3,211.7 L218.6,218.6 L220.9,230.6 L223.2,238.0 L225.6,245.6 L227.9,254.7 L230.2,257.2 L232.6,267.4 L234.9,271.0 L237.2,278.6 L239.5,286.8 L241.9,297.6 L244.2,299.0 L246.5,305.5 L248.9,308.4 L251.2,316.1 L253.5,316.0 L255.8,321.2 L258.2,321.2 L260.5,328.2 L262.8,333.3 L265.2,335.9 L267.5,337.3 L269.8,338.2 L272.2,344.9 L274.5,347.4 L276.8,354.0 L279.1,354.9 L281.5,359.5 L283.8,360.4 L286.1,362.1 L288.5,364.0 L290.8,367.0 L293.1,369.1 L295.4,368.6 L297.8,370.9 L300.1,371.4 L302.4,371.2 L304.8,371.1 L307.1,371.4 L309.4,369.6 L311.7,369.8 L314.1,371.0 L316.4,369.7 L318.7,368.5 L321.1,367.6 L323.4,368.2 L325.7,369.9 L328.1,371.4 L330.4,367.5 L332.7,368.8 L335.0,369.7 L337.4,364.7 L339.7,369.2 L342.0,366.1 L344.4,365.9 L346.7,362.6 L349.0,360.4 L351.3,354.2 L353.7,353.2 L356.0,352.4 L358.3,357.2 L360.7,353.1 L363.0,351.7 L365.3,349.9 L367.6,350.3 L370.0,345.1 L372.3,347.5 L374.6,341.2 L377.0,340.9 L379.3,333.2 L381.6,326.3 L384.0,328.8 L386.3,326.8 L388.6,320.4 L390.9,317.8 L393.3,317.0 L395.6,312.3 L397.9,307.4 L400.3,303.2 L402.6,301.9 L404.9,298.9 L407.2,298.7 L409.6,294.8 L411.9,289.3 L414.2,291.7 L416.6,289.2 L418.9,286.4 L421.2,279.4 L423.5,281.6 L425.9,280.9 L428.2,276.2 L430.5,270.5 L432.9,270.4 L435.2,267.5 L437.5,264.0 L439.9,257.6 L442.2,256.2 L444.5,253.4 L446.8,249.6 L449.2,247.0 L451.5,246.2 L453.8,239.6 L456.2,239.8 L458.5,237.1 L460.8,232.8 L463.1,234.4 L465.5,232.7 L467.8,231.6 L470.1,229.1 L472.5,227.0 L474.8,226.0 L477.1,221.2 L479.4,222.6 L481.8,218.0 L484.1,219.5 L486.4,213.6 L488.8,212.2 L491.1,209.7 L493.4,209.0 L495.8,206.7 L498.1,202.5 L500.4,197.3 L502.7,201.2 L505.1,203.3 L507.4,199.4 L509.7,197.1 L512.1,195.3 L514.4,194.5 L516.7,189.5 L519.0,189.1 L521.4,190.4 L523.7,186.4 L526.0,187.0 L528.4,189.5 L530.7,187.3 L533.0,185.1 L535.3,187.3 L537.7,184.1 L540.0,183.8 L542.3,179.6 L544.7,180.0 L547.0,180.0 L549.3,178.0 L551.7,173.6 L554.0,173.7 L556.3,171.2 L558.6,171.4 L561.0,169.7 L563.3,165.2 L565.6,168.3 L568.0,168.3 L570.3,170.3 L572.6,167.6 L574.9,164.6 L577.3,163.5 L579.6,161.9 L581.9,160.2 L584.3,161.6 L586.6,159.4 L588.9,160.5 L591.2,159.1 L593.6,159.7 L595.9,157.8 L598.2,155.9 L600.6,154.0 L602.9,155.3 L605.2,155.7 L607.6,151.6 L609.9,152.7 L612.2,150.3 L614.5,150.8 L616.9,148.4 L619.2,147.8 L621.5,142.6 L623.9,143.0 L626.2,141.9 L628.5,140.0 L630.8,140.3 L633.2,141.5 L635.5,136.6 L637.8,142.5 L640.2,140.1 L642.5,141.2 L644.8,136.8 L647.1,134.2 L649.5,132.7 L651.8,135.3 L654.1,134.5" stroke="#bb81ff"/>
<path d="M99.8,74.2 L102.1,68.2 L104.5,68.6 L106.8,66.1 L109.1,68.6 L111.4,65.9 L113.8,66.9 L116.1,62.4 L118.4,62.7 L120.8,66.1 L123.1,66.2 L125.4,72.7 L127.7,75.5 L130.1,70.4 L132.4,68.3 L134.7,62.5 L137.1,61.1 L139.4,58.8 L141.7,60.1 L144.0,59.4 L146.4,59.1 L148.7,60.7 L151.0,65.9 L153.4,67.3 L155.7,61.6 L158.0,64.7 L160.4,69.8 L162.7,67.7 L165.0,68.6 L167.3,71.2 L169.7,71.4 L172.0,75.2 L174.3,76.6 L176.7,73.2 L179.0,78.4 L181.3,82.1 L183.6,89.8 L186.0,97.9 L188.3,103.1 L190.6,107.0 L193.0,121.6 L195.3,129.9 L197.6,134.8 L199.9,142.3 L202.3,148.9 L204.6,157.3 L206.9,161.1 L209.3,166.5 L211.6,174.5 L213.9,178.9 L216.3,180.8 L218.6,189.3 L220.9,189.8 L223.2,204.4 L225.6,210.0 L227.9,218.5 L230.2,215.2 L232.6,219.3 L234.9,225.2 L237.2,236.7 L239.5,250.8 L241.9,251.3 L244.2,263.8 L246.5,271.0 L248.9,277.0 L251.2,278.7 L253.5,283.3 L255.8,280.7 L258.2,287.0 L260.5,287.6 L262.8,295.3 L265.2,297.5 L267.5,292.9 L269.8,298.7 L272.2,301.0 L274.5,296.2 L276.8,297.4 L279.1,311.8 L281.5,321.0 L283.8,327.5 L286.1,330.6 L288.5,333.5 L290.8,335.3 L293.1,333.2 L295.4,338.8 L297.8,331.5 L300.1,336.5 L302.4,344.5 L304.8,356.0 L307.1,355.9 L309.4,356.7 L311.7,366.9 L314.1,371.4 L316.4,369.5 L318.7,371.4 L321.1,371.4 L323.4,371.4 L325.7,371.4 L328.1,371.4 L330.4,371.4 L332.7,362.8 L335.0,364.4 L337.4,364.6 L339.7,365.7 L342.0,355.2 L344.4,355.4 L346.7,352.5 L349.0,360.7 L351.3,353.4 L353.7,347.3 L356.0,352.1 L358.3,359.8 L360.7,352.7 L363.0,351.1 L365.3,352.2 L367.6,345.9 L370.0,340.9 L372.3,334.6 L374.6,332.6 L377.0,332.1 L379.3,323.6 L381.6,317.3 L384.0,315.2 L386.3,308.3 L388.6,308.8 L390.9,305.1 L393.3,301.2 L395.6,293.8 L397.9,291.4 L400.3,290.4 L402.6,285.2 L404.9,285.7 L407.2,288.7 L409.6,296.3 L411.9,291.1 L414.2,287.5 L416.6,277.3 L418.9,280.8 L421.2,280.6 L423.5,283.6 L425.9,288.0 L428.2,277.5 L430.5,277.8 L432.9,273.7 L435.2,269.3 L437.5,257.3 L439.9,256.9 L442.2,249.0 L444.5,259.3 L446.8,252.9 L449.2,257.3 L451.5,248.5 L453.8,252.1 L456.2,240.8 L458.5,243.3 L460.8,240.6 L463.1,249.1 L465.5,242.9 L467.8,234.1 L470.1,226.0 L472.5,232.4 L474.8,225.3 L477.1,223.4 L479.4,221.0 L481.8,225.0 L484.1,228.5 L486.4,230.6 L488.8,221.5 L491.1,219.0 L493.4,212.7 L495.8,215.8 L498.1,216.3 L500.4,220.6 L502.7,219.3 L505.1,218.9 L507.4,213.5 L509.7,217.0 L512.1,210.9 L514.4,209.1 L516.7,212.4 L519.0,198.2 L521.4,195.5 L523.7,195.0 L526.0,202.6 L528.4,190.2 L530.7,186.1 L533.0,190.2 L535.3,177.7 L537.7,181.8 L540.0,187.3 L542.3,185.4 L544.7,176.1 L547.0,177.7 L549.3,169.1 L551.7,174.4 L554.0,170.3 L556.3,179.0 L558.6,182.7 L561.0,184.5 L563.3,182.2 L565.6,182.7 L568.0,179.5 L570.3,181.5 L572.6,180.3 L574.9,187.2 L577.3,182.3 L579.6,181.8 L581.9,178.8 L584.3,168.3 L586.6,166.4 L588.9,167.5 L591.2,164.7 L593.6,162.0 L595.9,169.8 L598.2,160.9 L600.6,154.4 L602.9,168.2 L605.2,156.1 L607.6,156.5 L609.9,155.6 L612.2,152.1 L614.5,158.4 L616.9,158.3 L619.2,157.7 L621.5,159.8 L623.9,154.6 L626.2,156.5 L628.5,153.2 L630.8,162.4 L633.2,166.3 L635.5,162.1 L637.8,157.6 L640.2,149.0 L642.5,150.2 L644.8,150.3 L647.1,154.2 L649.5,145.2 L651.8,148.8 L654.1,146.9" stroke="#afa200"/>
<path d="M99.8,28.0 L102.1,28.6 L104.5,26.1 L106.8,23.4 L109.1,24.6 L111.4,24.4 L113.8,26.3 L116.1,23.4 L118.4,21.7 L120.8,21.9 L123.1,23.2 L125.4,24.4 L127.7,23.6 L130.1,23.6 L132.4,24.0 L134.7,22.1 L137.1,21.4 L139.4,21.7 L141.7,23.1 L144.0,21.9 L146.4,21.5 L148.7,21.0 L151.0,24.1 L153.4,25.6 L155.7,24.6 L158.0,24.1 L160.4,24.1 L162.7,25.4 L165.0,27.8 L167.3,27.5 L169.7,30.8 L172.0,34.0 L174.3,37.4 L176.7,45.6 L179.0,53.1 L181.3,62.4 L183.6,71.8 L186.0,82.8 L188.3,90.5 L190.6,98.4 L193.0,108.4 L195.3,116.5 L197.6,124.3 L199.9,132.4 L202.3,141.4 L204.6,151.0 L206.9,156.7 L209.3,165.2 L211.6,171.3 L213.9,182.0 L216.3,193.9 L218.6,202.0 L220.9,212.6 L223.2,220.2 L225.6,226.6 L227.9,231.6 L230.2,238.6 L232.6,247.1 L234.9,251.5 L237.2,256.3 L239.5,268.0 L241.9,272.3 L244.2,281.5 L246.5,287.8 L248.9,291.4 L251.2,297.6 L253.5,305.3 L255.8,309.0 L258.2,318.3 L260.5,319.4 L262.8,326.5 L265.2,326.0 L267.5,329.0 L269.8,331.3 L272.2,335.0 L274.5,339.4 L276.8,339.7 L279.1,340.7 L281.5,344.7 L283.8,350.0 L286.1,348.4 L288.5,352.2 L290.8,351.6 L293.1,356.9 L295.4,358.6 L297.8,362.2 L300.1,363.5 L302.4,365.3 L304.8,366.6 L307.1,367.9 L309.4,366.8 L311.7,368.2 L314.1,371.4 L316.4,371.4 L318.7,371.4 L321.1,370.0 L323.4,371.0 L325.7,369.8 L328.1,371.4 L330.4,366.9 L332.7,367.0 L335.0,369.2 L337.4,371.4 L339.7,369.3 L342.0,371.0 L344.4,368.5 L346.7,371.4 L349.0,371.4 L351.3,368.9 L353.7,367.4 L356.0,362.5 L358.3,362.6 L360.7,362.4 L363.0,360.0 L365.3,360.2 L367.6,356.6 L370.0,350.3 L372.3,346.9 L374.6,347.9 L377.0,344.0 L379.3,346.9 L381.6,342.7 L384.0,342.7 L386.3,344.1 L388.6,340.9 L390.9,341.5 L393.3,335.9 L395.6,330.9 L397.9,328.0 L400.3,323.1 L402.6,321.3 L404.9,320.0 L407.2,315.2 L409.6,315.0 L411.9,308.6 L414.2,306.6 L416.6,303.3 L418.9,303.7 L421.2,301.3 L423.5,298.5 L425.9,296.6 L428.2,293.9 L430.5,290.8 L432.9,288.6 L435.2,284.6 L437.5,284.2 L439.9,280.4 L442.2,278.3 L444.5,274.7 L446.8,272.8 L449.2,271.0 L451.5,266.8 L453.8,266.0 L456.2,264.1 L458.5,263.2 L460.8,257.8 L463.1,257.2 L465.5,254.4 L467.8,255.8 L470.1,253.6 L472.5,250.6 L474.8,249.8 L477.1,246.1 L479.4,247.5 L481.8,243.5 L484.1,241.5 L486.4,240.0 L488.8,235.6 L491.1,233.7 L493.4,228.5 L495.8,222.2 L498.1,224.1 L500.4,224.3 L502.7,225.7 L505.1,224.2 L507.4,222.6 L509.7,221.4 L512.1,220.2 L514.4,215.7 L516.7,213.9 L519.0,215.4 L521.4,211.1 L523.7,205.6 L526.0,204.5 L528.4,206.0 L530.7,202.0 L533.0,202.7 L535.3,201.8 L537.7,200.4 L540.0,197.0 L542.3,199.6 L544.7,196.5 L547.0,194.4 L549.3,197.9 L551.7,198.3 L554.0,194.5 L556.3,190.8 L558.6,190.8 L561.0,189.2 L563.3,190.4 L565.6,188.0 L568.0,186.5 L570.3,188.5 L572.6,184.4 L574.9,185.2 L577.3,183.1 L579.6,181.7 L581.9,180.2 L584.3,182.7 L586.6,182.8 L588.9,176.5 L591.2,176.1 L593.6,173.0 L595.9,171.3 L598.2,167.9 L600.6,166.6 L602.9,166.8 L605.2,166.0 L607.6,167.9 L609.9,164.5 L612.2,165.1 L614.5,164.3 L616.9,168.2 L619.2,165.2 L621.5,164.4 L623.9,164.1 L626.2,163.1 L628.5,164.1 L630.8,162.2 L633.2,162.5 L635.5,156.9 L637.8,158.8 L640.2,156.8 L642.5,156.3 L644.8,155.9 L647.1,154.5 L649.5,157.9 L651.8,153.4 L654.1,154.7" stroke="#619cff"/>
<path d="M99.8,20.2 L102.1,20.8 L104.5,20.7 L106.8,20.9 L109.1,19.6 L111.4,18.7 L113.8,18.8 L116.1,18.7 L118.4,18.7 L120.8,18.7 L123.1,18.7 L125.4,18.7 L127.7,18.7 L130.1,20.3 L132.4,18.7 L134.7,19.6 L137.1,19.7 L139.4,18.9 L141.7,20.1 L144.0,21.0 L146.4,20.2 L148.7,19.8 L151.0,18.7 L153.4,18.7 L155.7,18.7 L158.0,18.7 L160.4,18.7 L162.7,18.7 L165.0,20.8 L167.3,22.8 L169.7,29.6 L172.0,35.2 L174.3,43.0 L176.7,51.0 L179.0,58.8 L181.3,71.7 L183.6,82.5 L186.0,90.7 L188.3,99.6 L190.6,108.3 L193.0,116.6 L195.3,123.7 L197.6,134.4 L199.9,143.5 L202.3,155.8 L204.6,164.0 L206.9,173.4 L209.3,185.2 L211.6,192.0 L213.9,201.7 L216.3,211.0 L218.6,221.2 L220.9,227.0 L223.2,234.6 L225.6,238.9 L227.9,247.0 L230.2,251.9 L232.6,259.6 L234.9,266.4 L237.2,273.0 L239.5,282.0 L241.9,285.9 L244.2,296.8 L246.5,304.7 L248.9,307.7 L251.2,310.2 L253.5,315.3 L255.8,319.8 L258.2,323.1 L260.5,326.8 L262.8,329.5 L265.2,336.2 L267.5,340.2 L269.8,342.4 L272.2,344.3 L274.5,347.8 L276.8,351.5 L279.1,353.4 L281.5,359.4 L283.8,359.8 L286.1,360.7 L288.5,363.6 L290.8,364.1 L293.1,364.6 L295.4,369.1 L297.8,365.8 L300.1,367.6 L302.4,368.0 L304.8,370.0 L307.1,371.4 L309.4,371.4 L311.7,371.4 L314.1,371.4 L316.4,371.4 L318.7,371.4 L321.1,371.4 L323.4,368.1 L325.7,368.7 L328.1,365.4 L330.4,366.9 L332.7,366.8 L335.0,367.3 L337.4,370.8 L339.7,366.4 L342.0,369.1 L344.4,371.1 L346.7,368.4 L349.0,371.4 L351.3,369.6 L353.7,368.1 L356.0,365.5 L358.3,363.5 L360.7,358.6 L363.0,359.3 L365.3,358.8 L367.6,360.0 L370.0,359.5 L372.3,356.6 L374.6,357.5 L377.0,355.2 L379.3,350.8 L381.6,346.0 L384.0,347.8 L386.3,348.7 L388.6,346.4 L390.9,341.4 L393.3,335.7 L395.6,334.7 L397.9,332.0 L400.3,330.5 L402.6,330.7 L404.9,329.8 L407.2,330.5 L409.6,327.2 L411.9,321.0 L414.2,317.9 L416.6,318.7 L418.9,317.4 L421.2,311.9 L423.5,313.2 L425.9,310.3 L428.2,306.5 L430.5,305.4 L432.9,302.8 L435.2,300.4 L437.5,295.4 L439.9,294.4 L442.2,292.3 L444.5,288.4 L446.8,289.8 L449.2,286.5 L451.5,284.1 L453.8,285.1 L456.2,280.2 L458.5,276.9 L460.8,273.2 L463.1,274.8 L465.5,272.9 L467.8,270.5 L470.1,267.6 L472.5,266.0 L474.8,260.4 L477.1,260.8 L479.4,258.5 L481.8,252.3 L484.1,252.2 L486.4,252.0 L488.8,247.9 L491.1,245.7 L493.4,242.7 L495.8,239.6 L498.1,242.8 L500.4,238.8 L502.7,231.9 L505.1,232.7 L507.4,232.7 L509.7,231.0 L512.1,231.6 L514.4,230.6 L516.7,227.8 L519.0,229.6 L521.4,224.5 L523.7,221.5 L526.0,219.9 L528.4,220.2 L530.7,220.2 L533.0,218.4 L535.3,215.3 L537.7,215.5 L540.0,213.1 L542.3,210.9 L544.7,209.4 L547.0,206.6 L549.3,203.1 L551.7,200.6 L554.0,202.5 L556.3,201.5 L558.6,200.9 L561.0,202.3 L563.3,203.8 L565.6,198.5 L568.0,201.4 L570.3,200.2 L572.6,202.7 L574.9,201.4 L577.3,197.0 L579.6,196.6 L581.9,192.3 L584.3,187.6 L586.6,184.9 L588.9,187.3 L591.2,188.7 L593.6,187.8 L595.9,186.9 L598.2,186.6 L600.6,186.1 L602.9,178.5 L605.2,179.5 L607.6,176.8 L609.9,176.5 L612.2,175.5 L614.5,174.0 L616.9,174.6 L619.2,174.1 L621.5,174.9 L623.9,174.3 L626.2,173.5 L628.5,171.4 L630.8,170.1 L633.2,173.7 L635.5,173.5 L637.8,173.4 L640.2,168.4 L642.5,168.7 L644.8,164.1 L647.1,164.5 L649.5,164.6 L651.8,162.4 L654.1,162.6" stroke="#c69900"/>
<path d="M99.8,33.5 L102.1,32.1 L104.5,31.2 L106.8,29.8 L109.1,28.6 L111.4,28.1 L113.8,29.5 L116.1,31.2 L118.4,30.3 L120.8,30.0 L123.1,31.7 L125.4,31.5 L127.7,31.1 L130.1,30.3 L132.4,29.3 L134.7,27.2 L137.1,25.3 L139.4,27.2 L141.7,25.6 L144.0,28.6 L146.4,28.8 L148.7,28.6 L151.0,30.7 L153.4,27.6 L155.7,31.3 L158.0,30.1 L160.4,32.6 L162.7,32.0 L165.0,33.0 L167.3,36.7 L169.7,34.8 L172.0,37.3 L174.3,39.0 L176.7,42.5 L179.0,47.9 L181.3,53.8 L183.6,62.9 L186.0,67.1 L188.3,80.1 L190.6,87.3 L193.0,90.3 L195.3,98.3 L197.6,105.9 L199.9,115.2 L202.3,122.4 L204.6,130.1 L206.9,139.3 L209.3,148.3 L211.6,155.9 L213.9,161.8 L216.3,171.5 L218.6,180.1 L220.9,190.7 L223.2,196.7 L225.6,207.6 L227.9,215.1 L230.2,220.0 L232.6,226.3 L234.9,232.4 L237.2,239.4 L239.5,245.0 L241.9,252.5 L244.2,256.0 L246.5,263.9 L248.9,271.0 L251.2,276.3 L253.5,282.1 L255.8,288.1 L258.2,294.2 L260.5,298.9 L262.8,306.1 L265.2,306.9 L267.5,309.8 L269.8,315.2 L272.2,316.5 L274.5,322.5 L276.8,328.8 L279.1,331.6 L281.5,331.9 L283.8,336.2 L286.1,334.1 L288.5,338.1 L290.8,341.2 L293.1,347.6 L295.4,346.3 L297.8,349.6 L300.1,352.4 L302.4,354.4 L304.8,358.7 L307.1,361.9 L309.4,363.5 L311.7,361.6 L314.1,363.9 L316.4,364.5 L318.7,368.6 L321.1,371.4 L323.4,370.7 L325.7,371.4 L328.1,371.4 L330.4,368.5 L332.7,369.4 L335.0,369.0 L337.4,371.4 L339.7,371.4 L342.0,369.9 L344.4,371.3 L346.7,369.9 L349.0,371.4 L351.3,371.0 L353.7,371.4 L356.0,371.4 L358.3,371.4 L360.7,366.4 L363.0,364.0 L365.3,359.6 L367.6,355.7 L370.0,355.4 L372.3,348.2 L374.6,346.4 L377.0,341.6 L379.3,338.0 L381.6,334.8 L384.0,331.8 L386.3,324.4 L388.6,321.5 L390.9,314.2 L393.3,312.1 L395.6,308.5 L397.9,306.9 L400.3,301.7 L402.6,298.1 L404.9,295.3 L407.2,289.1 L409.6,283.9 L411.9,281.1 L414.2,277.0 L416.6,270.7 L418.9,268.1 L421.2,263.2 L423.5,259.1 L425.9,254.8 L428.2,252.0 L430.5,250.6 L432.9,246.6 L435.2,246.1 L437.5,238.2 L439.9,232.6 L442.2,231.7 L444.5,228.2 L446.8,223.1 L449.2,223.1 L451.5,220.1 L453.8,216.4 L456.2,214.4 L458.5,212.2 L460.8,207.7 L463.1,207.9 L465.5,203.6 L467.8,201.8 L470.1,199.2 L472.5,201.0 L474.8,198.4 L477.1,196.9 L479.4,194.7 L481.8,195.0 L484.1,190.2 L486.4,186.4 L488.8,186.3 L491.1,182.7 L493.4,181.4 L495.8,180.7 L498.1,178.5 L500.4,177.6 L502.7,169.3 L505.1,168.0 L507.4,165.3 L509.7,163.1 L512.1,165.1 L514.4,163.4 L516.7,161.3 L519.0,161.0 L521.4,159.5 L523.7,159.5 L526.0,158.1 L528.4,160.3 L530.7,157.8 L533.0,161.0 L535.3,156.8 L537.7,153.5 L540.0,151.4 L542.3,148.4 L544.7,145.1 L547.0,143.5 L549.3,141.1 L551.7,139.2 L554.0,142.7 L556.3,142.9 L558.6,140.1 L561.0,141.7 L563.3,138.9 L565.6,137.8 L568.0,136.6 L570.3,136.4 L572.6,139.6 L574.9,137.2 L577.3,133.6 L579.6,130.6 L581.9,128.9 L584.3,132.8 L586.6,130.2 L588.9,127.5 L591.2,127.7 L593.6,125.3 L595.9,125.0 L598.2,117.8 L600.6,117.9 L602.9,112.1 L605.2,114.8 L607.6,114.7 L609.9,116.4 L612.2,114.6 L614.5,115.7 L616.9,111.6 L619.2,113.3 L621.5,113.3 L623.9,112.3 L626.2,111.8 L628.5,110.3 L630.8,111.6 L633.2,110.6 L635.5,112.0 L637.8,109.3 L640.2,107.8 L642.5,104.7 L644.8,100.7 L647.1,99.7 L649.5,94.7 L651.8,92.3 L654.1,95.4" stroke="#93aa00"/></g>
<path d="M99.59,33.00 L100.59,32.98 L101.59,32.96 L102.59,32.94 L103.59,32.92 L104.59,32.90 L105.59,32.87 L106.59,32.85 L107.59,32.82 L108.59,32.80 L109.59,32.77 L110.59,32.74 L111.59,32.70 L112.59,32.67 L113.59,32.63 L114.59,32.60 L115.59,32.55 L116.59,32.51 L117.59,32.47 L118.58,32.42 L119.58,32.37 L120.58,32.32 L121.58,32.27 L122.58,32.23 L123.58,32.18 L124.58,32.13 L125.58,32.09 L126.58,32.05 L127.57,32.01 L128.57,31.97 L129.57,31.94 L130.57,31.91 L131.57,31.88 L132.57,31.86 L133.57,31.84 L134.57,31.82 L135.57,31.80 L136.57,31.79 L137.57,31.77 L138.57,31.76 L139.57,31.75 L140.57,31.74 L141.57,31.73 L142.57,31.73 L143.57,31.72 L144.57,31.73 L145.57,31.73 L146.57,31.74 L147.57,31.75 L148.57,31.76 L149.57,31.78 L150.57,31.81 L151.57,31.84 L152.57,31.88 L153.56,31.92 L154.56,31.98 L155.56,32.06 L156.55,32.14 L157.54,32.25 L158.52,32.38 L159.50,32.53 L160.46,32.72 L161.41,32.95 L162.34,33.22 L163.25,33.55 L164.13,33.93 L164.98,34.37 L165.80,34.86 L166.58,35.42 L167.32,36.03 L168.03,36.69 L168.71,37.39 L169.36,38.12 L169.99,38.89 L170.58,39.67 L171.16,40.48 L171.71,41.31 L172.24,42.15 L172.75,43.00 L173.25,43.87 L173.72,44.74 L174.19,45.63 L174.64,46.52 L175.08,47.42 L175.50,48.32 L175.91,49.23 L176.32,50.14 L176.71,51.06 L177.09,51.99 L177.46,52.91 L177.82,53.85 L178.17,54.78 L178.51,55.72 L178.84,56.66 L179.16,57.61 L179.47,58.56 L179.77,59.51 L180.07,60.47 L180.36,61.42 L180.64,62.38 L180.92,63.34 L181.19,64.31 L181.46,65.27 L181.72,66.23 L181.98,67.20 L182.24,68.16 L182.50,69.13 L182.76,70.10 L183.01,71.06 L183.27,72.03 L183.53,73.00 L183.78,73.96 L184.04,74.93 L184.30,75.89 L184.57,76.86 L184.83,77.82 L185.09,78.79 L185.36,79.75 L185.62,80.72 L185.89,81.68 L186.16,82.64 L186.43,83.61 L186.69,84.57 L186.96,85.53 L187.23,86.50 L187.50,87.46 L187.77,88.42 L188.04,89.39 L188.31,90.35 L188.58,91.31 L188.84,92.28 L189.11,93.24 L189.38,94.20 L189.65,95.16 L189.92,96.13 L190.19,97.09 L190.46,98.05 L190.73,99.02 L191.00,99.98 L191.27,100.94 L191.53,101.91 L191.80,102.87 L192.07,103.83 L192.34,104.80 L192.61,105.76 L192.88,106.72 L193.15,107.68 L193.42,108.65 L193.69,109.61 L193.96,110.57 L194.23,111.54 L194.50,112.50 L194.77,113.46 L195.04,114.43 L195.31,115.39 L195.58,116.35 L195.85,117.31 L196.12,118.28 L196.39,119.24 L196.66,120.20 L196.93,121.17 L197.19,122.13 L197.46,123.09 L197.73,124.06 L198.00,125.02 L198.27,125.98 L198.54,126.95 L198.81,127.91 L199.08,128.87 L199.34,129.84 L199.61,130.80 L199.88,131.76 L200.15,132.73 L200.42,133.69 L200.68,134.65 L200.95,135.62 L201.22,136.58 L201.49,137.54 L201.75,138.51 L202.02,139.47 L202.29,140.43 L202.56,141.40 L202.82,142.36 L203.09,143.32 L203.36,144.29 L203.63,145.25 L203.90,146.21 L204.16,147.18 L204.43,148.14 L204.70,149.10 L204.97,150.07 L205.24,151.03 L205.51,151.99 L205.78,152.96 L206.04,153.92 L206.31,154.88 L206.58,155.85 L206.85,156.81 L207.12,157.77 L207.39,158.74 L207.66,159.70 L207.93,160.66 L208.20,161.62 L208.47,162.59 L208.74,163.55 L209.01,164.51 L209.28,165.48 L209.55,166.44 L209.82,167.40 L210.09,168.36 L210.36,169.33 L210.63,170.29 L210.90,171.25 L211.17,172.22 L211.43,173.18 L211.70,174.14 L211.97,175.11 L212.24,176.07 L212.50,177.04 L212.77,178.00 L213.03,178.96 L213.30,179.93 L213.56,180.89 L213.83,181.86 L214.09,182.82 L214.36,183.78 L214.63,184.75 L214.89,185.71 L215.16,186.68 L215.43,187.64 L215.70,188.60 L215.97,189.56 L216.25,190.53 L216.52,191.49 L216.80,192.45 L217.08,193.41 L217.36,194.37 L217.65,195.33 L217.93,196.28 L218.22,197.24 L218.51,198.20 L218.80,199.15 L219.10,200.11 L219.39,201.07 L219.69,202.02 L219.99,202.97 L220.29,203.93 L220.59,204.88 L220.89,205.83 L221.20,206.79 L221.50,207.74 L221.81,208.69 L222.11,209.64 L222.42,210.60 L222.73,211.55 L223.04,212.50 L223.35,213.45 L223.66,214.40 L223.97,215.35 L224.28,216.30 L224.59,217.25 L224.90,218.20 L225.20,219.15 L225.51,220.11 L225.82,221.06 L226.13,222.01 L226.44,222.96 L226.74,223.91 L227.05,224.86 L227.35,225.82 L227.66,226.77 L227.96,227.72 L228.27,228.67 L228.57,229.63 L228.88,230.58 L229.18,231.53 L229.49,232.48 L229.79,233.43 L230.10,234.39 L230.41,235.34 L230.72,236.29 L231.03,237.24 L231.34,238.19 L231.66,239.14 L231.97,240.09 L232.29,241.04 L232.61,241.98 L232.93,242.93 L233.25,243.88 L233.57,244.82 L233.90,245.77 L234.22,246.72 L234.55,247.66 L234.88,248.60 L235.22,249.54 L235.56,250.49 L235.90,251.42 L236.25,252.36 L236.60,253.30 L236.96,254.23 L237.33,255.16 L237.70,256.09 L238.07,257.01 L238.46,257.94 L238.84,258.86 L239.23,259.78 L239.63,260.70 L240.03,261.62 L240.42,262.53 L240.82,263.45 L241.22,264.37 L241.61,265.29 L242.00,266.21 L242.39,267.13 L242.77,268.05 L243.15,268.98 L243.52,269.91 L243.89,270.84 L244.26,271.77 L244.62,272.70 L244.98,273.63 L245.34,274.56 L245.70,275.50 L246.06,276.43 L246.42,277.36 L246.78,278.29 L247.15,279.23 L247.51,280.16 L247.88,281.09 L248.25,282.01 L248.63,282.94 L249.01,283.87 L249.39,284.79 L249.77,285.72 L250.16,286.64 L250.55,287.56 L250.94,288.48 L251.34,289.40 L251.74,290.31 L252.14,291.23 L252.55,292.14 L252.96,293.05 L253.38,293.96 L253.80,294.87 L254.22,295.77 L254.65,296.67 L255.09,297.57 L255.53,298.47 L255.97,299.37 L256.42,300.26 L256.88,301.15 L257.34,302.04 L257.80,302.92 L258.27,303.81 L258.74,304.69 L259.22,305.57 L259.70,306.45 L260.18,307.32 L260.67,308.19 L261.16,309.06 L261.65,309.93 L262.15,310.80 L262.66,311.66 L263.16,312.52 L263.68,313.38 L264.19,314.24 L264.71,315.10 L265.23,315.95 L265.76,316.80 L266.29,317.64 L266.82,318.49 L267.36,319.33 L267.90,320.17 L268.45,321.01 L269.00,321.85 L269.55,322.68 L270.10,323.51 L270.66,324.35 L271.22,325.18 L271.77,326.00 L272.33,326.83 L272.90,327.66 L273.46,328.49 L274.02,329.31 L274.59,330.14 L275.16,330.96 L275.73,331.78 L276.30,332.60 L276.88,333.41 L277.47,334.22 L278.05,335.03 L278.65,335.83 L279.25,336.63 L279.86,337.42 L280.48,338.21 L281.10,338.99 L281.74,339.76 L282.38,340.53 L283.02,341.29 L283.68,342.05 L284.34,342.80 L285.01,343.54 L285.68,344.27 L286.37,345.01 L287.05,345.73 L287.75,346.45 L288.44,347.17 L289.15,347.88 L289.86,348.58 L290.57,349.28 L291.29,349.98 L292.01,350.67 L292.74,351.35 L293.48,352.02 L294.22,352.69 L294.97,353.36 L295.72,354.01 L296.49,354.66 L297.25,355.30 L298.03,355.93 L298.81,356.55 L299.60,357.16 L300.39,357.76 L301.20,358.35 L302.01,358.92 L302.84,359.48 L303.68,360.02 L304.53,360.53 L305.39,361.02 L306.27,361.49 L307.16,361.92 L308.06,362.33 L308.98,362.72 L309.91,363.08 L310.84,363.42 L311.79,363.73 L312.74,364.03 L313.69,364.30 L314.66,364.56 L315.63,364.80 L316.60,365.03 L317.57,365.24 L318.55,365.43 L319.53,365.61 L320.52,365.76 L321.50,365.90 L322.49,366.02 L323.48,366.11 L324.48,366.18 L325.47,366.23 L326.47,366.27 L327.47,366.28 L328.46,366.28 L329.46,366.27 L330.46,366.24 L331.46,366.20 L332.45,366.15 L333.45,366.08 L334.44,365.99 L335.42,365.87 L336.40,365.74 L337.38,365.57 L338.35,365.36 L339.31,365.12 L340.26,364.85 L341.19,364.54 L342.13,364.20 L343.05,363.84 L343.96,363.44 L344.86,363.02 L345.76,362.59 L346.65,362.14 L347.53,361.67 L348.40,361.19 L349.27,360.69 L350.13,360.19 L350.98,359.67 L351.83,359.14 L352.67,358.60 L353.51,358.05 L354.34,357.50 L355.16,356.93 L355.98,356.35 L356.79,355.77 L357.60,355.18 L358.40,354.58 L359.19,353.98 L359.98,353.37 L360.77,352.75 L361.55,352.13 L362.33,351.50 L363.10,350.86 L363.86,350.22 L364.63,349.57 L365.38,348.92 L366.14,348.27 L366.89,347.60 L367.63,346.94 L368.38,346.27 L369.12,345.60 L369.85,344.92 L370.58,344.24 L371.31,343.55 L372.04,342.87 L372.76,342.17 L373.48,341.48 L374.20,340.78 L374.91,340.08 L375.62,339.38 L376.33,338.67 L377.03,337.96 L377.74,337.25 L378.44,336.54 L379.14,335.83 L379.83,335.11 L380.53,334.39 L381.22,333.67 L381.91,332.94 L382.60,332.22 L383.29,331.49 L383.97,330.76 L384.65,330.03 L385.34,329.30 L386.02,328.57 L386.69,327.83 L387.37,327.10 L388.05,326.36 L388.72,325.62 L389.39,324.88 L390.06,324.14 L390.73,323.40 L391.40,322.65 L392.07,321.91 L392.74,321.16 L393.40,320.42 L394.07,319.67 L394.73,318.92 L395.40,318.18 L396.06,317.43 L396.72,316.68 L397.38,315.92 L398.04,315.17 L398.70,314.42 L399.36,313.67 L400.01,312.92 L400.67,312.16 L401.33,311.41 L401.99,310.65 L402.64,309.90 L403.30,309.14 L403.95,308.39 L404.61,307.63 L405.26,306.88 L405.92,306.12 L406.57,305.36 L407.22,304.61 L407.88,303.85 L408.53,303.09 L409.18,302.34 L409.84,301.58 L410.49,300.82 L411.14,300.06 L411.80,299.31 L412.45,298.55 L413.10,297.79 L413.76,297.04 L414.41,296.28 L415.06,295.52 L415.72,294.77 L416.37,294.01 L417.02,293.25 L417.68,292.50 L418.33,291.74 L418.99,290.98 L419.64,290.23 L420.30,289.47 L420.96,288.72 L421.61,287.96 L422.27,287.21 L422.93,286.46 L423.58,285.70 L424.24,284.95 L424.90,284.20 L425.56,283.45 L426.22,282.70 L426.88,281.94 L427.54,281.19 L428.20,280.44 L428.87,279.70 L429.53,278.95 L430.19,278.20 L430.86,277.45 L431.52,276.70 L432.19,275.96 L432.85,275.21 L433.52,274.47 L434.19,273.73 L434.86,272.98 L435.53,272.24 L436.20,271.50 L436.87,270.76 L437.55,270.02 L438.22,269.28 L438.89,268.54 L439.57,267.80 L440.25,267.07 L440.92,266.33 L441.60,265.60 L442.28,264.87 L442.96,264.13 L443.65,263.40 L444.33,262.67 L445.01,261.94 L445.70,261.21 L446.39,260.49 L447.07,259.76 L447.76,259.04 L448.45,258.31 L449.14,257.59 L449.84,256.87 L450.53,256.15 L451.23,255.43 L451.92,254.71 L452.62,254.00 L453.32,253.28 L454.02,252.57 L454.72,251.86 L455.43,251.15 L456.13,250.44 L456.84,249.73 L457.55,249.02 L458.26,248.32 L458.97,247.62 L459.68,246.91 L460.39,246.21 L461.11,245.52 L461.83,244.82 L462.54,244.12 L463.26,243.43 L463.98,242.74 L464.71,242.05 L465.43,241.36 L466.16,240.67 L466.89,239.98 L467.62,239.30 L468.35,238.62 L469.08,237.94 L469.81,237.26 L470.55,236.58 L471.29,235.91 L472.03,235.23 L472.77,234.56 L473.51,233.89 L474.26,233.23 L475.00,232.56 L475.75,231.90 L476.50,231.24 L477.25,230.58 L478.01,229.92 L478.76,229.26 L479.52,228.61 L480.28,227.96 L481.04,227.31 L481.80,226.66 L482.57,226.02 L483.33,225.38 L484.10,224.74 L484.87,224.10 L485.64,223.46 L486.42,222.83 L487.19,222.20 L487.97,221.57 L488.75,220.94 L489.53,220.32 L490.31,219.69 L491.10,219.07 L491.88,218.46 L492.67,217.84 L493.46,217.23 L494.25,216.62 L495.05,216.01 L495.84,215.41 L496.64,214.80 L497.44,214.20 L498.24,213.60 L499.04,213.01 L499.85,212.42 L500.66,211.82 L501.46,211.24 L502.27,210.65 L503.09,210.07 L503.90,209.49 L504.72,208.91 L505.54,208.33 L506.35,207.76 L507.18,207.19 L508.00,206.62 L508.82,206.06 L509.65,205.50 L510.48,204.94 L511.31,204.38 L512.14,203.82 L512.98,203.27 L513.81,202.72 L514.65,202.18 L515.49,201.63 L516.33,201.09 L517.17,200.55 L518.01,200.02 L518.86,199.48 L519.71,198.95 L520.56,198.42 L521.41,197.90 L522.26,197.37 L523.11,196.85 L523.97,196.33 L524.82,195.82 L525.68,195.30 L526.54,194.79 L527.40,194.29 L528.27,193.78 L529.13,193.28 L530.00,192.78 L530.86,192.28 L531.73,191.78 L532.60,191.29 L533.47,190.80 L534.35,190.31 L535.22,189.83 L536.09,189.34 L536.97,188.86 L537.85,188.38 L538.73,187.91 L539.61,187.43 L540.49,186.96 L541.37,186.49 L542.26,186.03 L543.14,185.56 L544.03,185.10 L544.92,184.64 L545.81,184.18 L546.70,183.72 L547.59,183.27 L548.48,182.82 L549.37,182.37 L550.27,181.92 L551.16,181.47 L552.06,181.03 L552.95,180.59 L553.85,180.15 L554.75,179.71 L555.65,179.28 L556.55,178.84 L557.45,178.41 L558.36,177.98 L559.26,177.55 L560.16,177.12 L561.07,176.70 L561.97,176.27 L562.88,175.85 L563.79,175.43 L564.70,175.01 L565.61,174.59 L566.51,174.18 L567.42,173.76 L568.34,173.35 L569.25,172.94 L570.16,172.53 L571.07,172.12 L571.98,171.71 L572.90,171.31 L573.81,170.90 L574.73,170.50 L575.64,170.10 L576.56,169.70 L577.48,169.30 L578.39,168.90 L579.31,168.50 L580.23,168.10 L581.15,167.71 L582.07,167.32 L582.99,166.92 L583.91,166.53 L584.83,166.14 L585.75,165.75 L586.67,165.36 L587.59,164.97 L588.51,164.58 L589.43,164.20 L590.36,163.81 L591.28,163.43 L592.20,163.04 L593.13,162.66 L594.05,162.28 L594.98,161.90 L595.90,161.52 L596.83,161.14 L597.75,160.76 L598.68,160.38 L599.60,160.00 L600.53,159.62 L601.45,159.25 L602.38,158.87 L603.31,158.50 L604.24,158.12 L605.16,157.75 L606.09,157.38 L607.02,157.01 L607.95,156.63 L608.88,156.26 L609.81,155.89 L610.74,155.52 L611.67,155.16 L612.60,154.79 L613.53,154.42 L614.46,154.06 L615.39,153.69 L616.32,153.33 L617.25,152.96 L618.18,152.60 L619.11,152.24 L620.05,151.88 L620.98,151.52 L621.91,151.16 L622.85,150.80 L623.78,150.44 L624.72,150.09 L625.65,149.73 L626.59,149.38 L627.52,149.03 L628.46,148.67 L629.39,148.32 L630.33,147.97 L631.27,147.63 L632.21,147.28 L633.14,146.93 L634.08,146.59 L635.02,146.25 L635.96,145.91 L636.90,145.57 L637.85,145.23 L638.79,144.89 L639.73,144.56 L640.67,144.23 L641.62,143.90 L642.56,143.57 L643.51,143.24 L644.45,142.92 L645.40,142.60 L646.35,142.28 L647.30,141.96 L648.24,141.65 L649.19,141.33 L650.15,141.02 L651.10,140.72 L652.05,140.41 L653.00,140.11 L653.96,139.81 L654.91,139.51 L655.86,139.21" fill="none" stroke="#000" stroke-width="6.0" stroke-linejoin="round"/>
<g fill="#7570B3"><rect x="94.50" y="442.80" width="5.0" height="5.0"/><rect x="96.74" y="442.80" width="5.0" height="5.0"/><rect x="98.97" y="442.80" width="5.0" height="5.0"/><rect x="101.21" y="442.80" width="5.0" height="5.0"/><rect x="103.44" y="442.80" width="5.0" height="5.0"/><rect x="105.68" y="442.80" width="5.0" height="5.0"/><rect x="107.92" y="442.80" width="5.0" height="5.0"/><rect x="110.15" y="442.80" width="5.0" height="5.0"/><rect x="112.39" y="442.80" width="5.0" height="5.0"/><rect x="114.62" y="442.80" width="5.0" height="5.0"/><rect x="116.86" y="442.80" width="5.0" height="5.0"/><rect x="119.10" y="442.80" width="5.0" height="5.0"/><rect x="121.33" y="442.80" width="5.0" height="5.0"/><rect x="123.57" y="442.80" width="5.0" height="5.0"/><rect x="125.80" y="442.81" width="5.0" height="5.0"/><rect x="128.04" y="442.82" width="5.0" height="5.0"/><rect x="130.28" y="442.83" width="5.0" height="5.0"/><rect x="132.51" y="442.85" width="5.0" height="5.0"/><rect x="134.75" y="442.87" width="5.0" height="5.0"/><rect x="136.98" y="442.90" width="5.0" height="5.0"/><rect x="139.22" y="442.95" width="5.0" height="5.0"/><rect x="141.46" y="443.03" width="5.0" height="5.0"/><rect x="143.69" y="443.14" width="5.0" height="5.0"/><rect x="145.93" y="443.30" width="5.0" height="5.0"/><rect x="148.16" y="443.53" width="5.0" height="5.0"/><rect x="150.40" y="443.88" width="5.0" height="5.0"/><rect x="152.64" y="444.35" width="5.0" height="5.0"/><rect x="154.87" y="444.94" width="5.0" height="5.0"/><rect x="157.11" y="445.66" width="5.0" height="5.0"/><rect x="159.34" y="446.56" width="5.0" height="5.0"/><rect x="161.58" y="447.73" width="5.0" height="5.0"/><rect x="163.82" y="449.31" width="5.0" height="5.0"/><rect x="166.05" y="451.35" width="5.0" height="5.0"/><rect x="168.29" y="453.90" width="5.0" height="5.0"/><rect x="170.52" y="457.14" width="5.0" height="5.0"/><rect x="172.76" y="461.32" width="5.0" height="5.0"/><rect x="175.00" y="467.09" width="5.0" height="5.0"/><rect x="177.23" y="473.20" width="5.0" height="5.0"/><rect x="179.47" y="479.06" width="5.0" height="5.0"/><rect x="181.70" y="485.46" width="5.0" height="5.0"/><rect x="183.94" y="492.65" width="5.0" height="5.0"/><rect x="186.18" y="499.63" width="5.0" height="5.0"/><rect x="188.41" y="506.19" width="5.0" height="5.0"/><rect x="190.65" y="512.87" width="5.0" height="5.0"/><rect x="192.88" y="519.72" width="5.0" height="5.0"/><rect x="195.12" y="526.74" width="5.0" height="5.0"/><rect x="197.36" y="533.91" width="5.0" height="5.0"/><rect x="199.59" y="540.79" width="5.0" height="5.0"/><rect x="201.83" y="547.37" width="5.0" height="5.0"/><rect x="204.06" y="553.87" width="5.0" height="5.0"/><rect x="206.30" y="560.51" width="5.0" height="5.0"/><rect x="208.54" y="567.34" width="5.0" height="5.0"/><rect x="210.77" y="574.02" width="5.0" height="5.0"/><rect x="213.01" y="580.19" width="5.0" height="5.0"/><rect x="215.24" y="585.84" width="5.0" height="5.0"/><rect x="217.48" y="591.35" width="5.0" height="5.0"/><rect x="219.72" y="597.15" width="5.0" height="5.0"/><rect x="221.95" y="603.28" width="5.0" height="5.0"/><rect x="224.19" y="609.43" width="5.0" height="5.0"/><rect x="226.42" y="615.32" width="5.0" height="5.0"/><rect x="228.66" y="620.99" width="5.0" height="5.0"/><rect x="230.90" y="626.48" width="5.0" height="5.0"/><rect x="233.13" y="631.81" width="5.0" height="5.0"/><rect x="235.37" y="636.93" width="5.0" height="5.0"/><rect x="237.60" y="641.95" width="5.0" height="5.0"/><rect x="239.84" y="646.97" width="5.0" height="5.0"/><rect x="242.08" y="652.01" width="5.0" height="5.0"/><rect x="244.31" y="657.01" width="5.0" height="5.0"/><rect x="246.55" y="661.90" width="5.0" height="5.0"/><rect x="248.78" y="666.69" width="5.0" height="5.0"/><rect x="251.02" y="671.39" width="5.0" height="5.0"/><rect x="253.26" y="676.03" width="5.0" height="5.0"/><rect x="255.49" y="680.65" width="5.0" height="5.0"/><rect x="257.73" y="685.21" width="5.0" height="5.0"/><rect x="259.96" y="689.56" width="5.0" height="5.0"/><rect x="262.20" y="693.61" width="5.0" height="5.0"/><rect x="264.44" y="697.40" width="5.0" height="5.0"/><rect x="266.67" y="700.98" width="5.0" height="5.0"/><rect x="268.91" y="704.39" width="5.0" height="5.0"/><rect x="271.14" y="707.63" width="5.0" height="5.0"/><rect x="273.38" y="710.71" width="5.0" height="5.0"/><rect x="275.62" y="713.66" width="5.0" height="5.0"/><rect x="277.85" y="716.49" width="5.0" height="5.0"/><rect x="280.09" y="719.20" width="5.0" height="5.0"/><rect x="282.32" y="721.76" width="5.0" height="5.0"/><rect x="284.56" y="724.20" width="5.0" height="5.0"/><rect x="286.80" y="726.51" width="5.0" height="5.0"/><rect x="289.03" y="728.61" width="5.0" height="5.0"/><rect x="291.27" y="730.45" width="5.0" height="5.0"/><rect x="293.50" y="732.08" width="5.0" height="5.0"/><rect x="295.74" y="733.58" width="5.0" height="5.0"/><rect x="297.98" y="735.05" width="5.0" height="5.0"/><rect x="300.21" y="736.50" width="5.0" height="5.0"/><rect x="302.45" y="737.84" width="5.0" height="5.0"/><rect x="304.68" y="738.95" width="5.0" height="5.0"/><rect x="306.92" y="739.86" width="5.0" height="5.0"/><rect x="309.16" y="740.60" width="5.0" height="5.0"/><rect x="311.39" y="741.25" width="5.0" height="5.0"/><rect x="313.63" y="741.82" width="5.0" height="5.0"/><rect x="315.86" y="742.32" width="5.0" height="5.0"/><rect x="318.10" y="742.71" width="5.0" height="5.0"/><rect x="320.34" y="742.97" width="5.0" height="5.0"/><rect x="322.57" y="743.14" width="5.0" height="5.0"/><rect x="324.81" y="743.23" width="5.0" height="5.0"/><rect x="327.04" y="743.18" width="5.0" height="5.0"/><rect x="329.28" y="742.93" width="5.0" height="5.0"/><rect x="331.52" y="742.47" width="5.0" height="5.0"/><rect x="333.75" y="741.87" width="5.0" height="5.0"/><rect x="335.99" y="741.14" width="5.0" height="5.0"/><rect x="338.22" y="740.28" width="5.0" height="5.0"/><rect x="340.46" y="739.38" width="5.0" height="5.0"/><rect x="342.70" y="738.49" width="5.0" height="5.0"/><rect x="344.93" y="737.63" width="5.0" height="5.0"/><rect x="347.17" y="736.78" width="5.0" height="5.0"/><rect x="349.40" y="735.92" width="5.0" height="5.0"/><rect x="351.64" y="734.96" width="5.0" height="5.0"/><rect x="353.88" y="733.83" width="5.0" height="5.0"/><rect x="356.11" y="732.50" width="5.0" height="5.0"/><rect x="358.35" y="731.02" width="5.0" height="5.0"/><rect x="360.58" y="729.42" width="5.0" height="5.0"/><rect x="362.82" y="727.75" width="5.0" height="5.0"/><rect x="365.06" y="726.01" width="5.0" height="5.0"/><rect x="367.29" y="724.21" width="5.0" height="5.0"/><rect x="369.53" y="722.35" width="5.0" height="5.0"/><rect x="371.76" y="720.44" width="5.0" height="5.0"/><rect x="374.00" y="718.47" width="5.0" height="5.0"/><rect x="376.24" y="716.46" width="5.0" height="5.0"/><rect x="378.47" y="714.41" width="5.0" height="5.0"/><rect x="380.71" y="712.32" width="5.0" height="5.0"/><rect x="382.94" y="710.21" width="5.0" height="5.0"/><rect x="385.18" y="708.06" width="5.0" height="5.0"/><rect x="387.42" y="705.89" width="5.0" height="5.0"/><rect x="389.65" y="703.69" width="5.0" height="5.0"/><rect x="391.89" y="701.48" width="5.0" height="5.0"/><rect x="394.12" y="699.25" width="5.0" height="5.0"/><rect x="396.36" y="697.02" width="5.0" height="5.0"/><rect x="398.60" y="694.77" width="5.0" height="5.0"/><rect x="400.83" y="692.52" width="5.0" height="5.0"/><rect x="403.07" y="690.26" width="5.0" height="5.0"/><rect x="405.30" y="688.00" width="5.0" height="5.0"/><rect x="407.54" y="685.75" width="5.0" height="5.0"/><rect x="409.78" y="683.50" width="5.0" height="5.0"/><rect x="412.01" y="681.25" width="5.0" height="5.0"/><rect x="414.25" y="679.01" width="5.0" height="5.0"/><rect x="416.48" y="676.79" width="5.0" height="5.0"/><rect x="418.72" y="674.57" width="5.0" height="5.0"/><rect x="420.96" y="672.37" width="5.0" height="5.0"/><rect x="423.19" y="670.18" width="5.0" height="5.0"/><rect x="425.43" y="668.01" width="5.0" height="5.0"/><rect x="427.66" y="665.86" width="5.0" height="5.0"/><rect x="429.90" y="663.73" width="5.0" height="5.0"/><rect x="432.14" y="661.62" width="5.0" height="5.0"/><rect x="434.37" y="659.53" width="5.0" height="5.0"/><rect x="436.61" y="657.46" width="5.0" height="5.0"/><rect x="438.84" y="655.42" width="5.0" height="5.0"/><rect x="441.08" y="653.40" width="5.0" height="5.0"/><rect x="443.32" y="651.40" width="5.0" height="5.0"/><rect x="445.55" y="649.44" width="5.0" height="5.0"/><rect x="447.79" y="647.49" width="5.0" height="5.0"/><rect x="450.02" y="645.58" width="5.0" height="5.0"/><rect x="452.26" y="643.69" width="5.0" height="5.0"/><rect x="454.50" y="641.83" width="5.0" height="5.0"/><rect x="456.73" y="639.99" width="5.0" height="5.0"/><rect x="458.97" y="638.19" width="5.0" height="5.0"/><rect x="461.20" y="636.41" width="5.0" height="5.0"/><rect x="463.44" y="634.66" width="5.0" height="5.0"/><rect x="465.68" y="632.94" width="5.0" height="5.0"/><rect x="467.91" y="631.24" width="5.0" height="5.0"/><rect x="470.15" y="629.58" width="5.0" height="5.0"/><rect x="472.38" y="627.94" width="5.0" height="5.0"/><rect x="474.62" y="626.33" width="5.0" height="5.0"/><rect x="476.86" y="624.74" width="5.0" height="5.0"/><rect x="479.09" y="623.18" width="5.0" height="5.0"/><rect x="481.33" y="621.65" width="5.0" height="5.0"/><rect x="483.56" y="620.15" width="5.0" height="5.0"/><rect x="485.80" y="618.66" width="5.0" height="5.0"/><rect x="488.04" y="617.21" width="5.0" height="5.0"/><rect x="490.27" y="615.78" width="5.0" height="5.0"/><rect x="492.51" y="614.37" width="5.0" height="5.0"/><rect x="494.74" y="612.98" width="5.0" height="5.0"/><rect x="496.98" y="611.62" width="5.0" height="5.0"/><rect x="499.22" y="610.28" width="5.0" height="5.0"/><rect x="501.45" y="608.96" width="5.0" height="5.0"/><rect x="503.69" y="607.66" width="5.0" height="5.0"/><rect x="505.92" y="606.38" width="5.0" height="5.0"/><rect x="508.16" y="605.12" width="5.0" height="5.0"/><rect x="510.40" y="603.88" width="5.0" height="5.0"/><rect x="512.63" y="602.66" width="5.0" height="5.0"/><rect x="514.87" y="601.45" width="5.0" height="5.0"/><rect x="517.10" y="600.26" width="5.0" height="5.0"/><rect x="519.34" y="599.08" width="5.0" height="5.0"/><rect x="521.58" y="597.92" width="5.0" height="5.0"/><rect x="523.81" y="596.77" width="5.0" height="5.0"/><rect x="526.05" y="595.63" width="5.0" height="5.0"/><rect x="528.28" y="594.51" width="5.0" height="5.0"/><rect x="530.52" y="593.39" width="5.0" height="5.0"/><rect x="532.76" y="592.29" width="5.0" height="5.0"/><rect x="534.99" y="591.20" width="5.0" height="5.0"/><rect x="537.23" y="590.12" width="5.0" height="5.0"/><rect x="539.46" y="589.04" width="5.0" height="5.0"/><rect x="541.70" y="587.97" width="5.0" height="5.0"/><rect x="543.94" y="586.91" width="5.0" height="5.0"/><rect x="546.17" y="585.86" width="5.0" height="5.0"/><rect x="548.41" y="584.81" width="5.0" height="5.0"/><rect x="550.64" y="583.77" width="5.0" height="5.0"/><rect x="552.88" y="582.73" width="5.0" height="5.0"/><rect x="555.12" y="581.70" width="5.0" height="5.0"/><rect x="557.35" y="580.67" width="5.0" height="5.0"/><rect x="559.59" y="579.65" width="5.0" height="5.0"/><rect x="561.82" y="578.62" width="5.0" height="5.0"/><rect x="564.06" y="577.61" width="5.0" height="5.0"/><rect x="566.30" y="576.59" width="5.0" height="5.0"/><rect x="568.53" y="575.58" width="5.0" height="5.0"/><rect x="570.77" y="574.56" width="5.0" height="5.0"/><rect x="573.00" y="573.55" width="5.0" height="5.0"/><rect x="575.24" y="572.55" width="5.0" height="5.0"/><rect x="577.48" y="571.54" width="5.0" height="5.0"/><rect x="579.71" y="570.54" width="5.0" height="5.0"/><rect x="581.95" y="569.54" width="5.0" height="5.0"/><rect x="584.18" y="568.54" width="5.0" height="5.0"/><rect x="586.42" y="567.55" width="5.0" height="5.0"/><rect x="588.66" y="566.56" width="5.0" height="5.0"/><rect x="590.89" y="565.57" width="5.0" height="5.0"/><rect x="593.13" y="564.59" width="5.0" height="5.0"/><rect x="595.36" y="563.61" width="5.0" height="5.0"/><rect x="597.60" y="562.64" width="5.0" height="5.0"/><rect x="599.84" y="561.67" width="5.0" height="5.0"/><rect x="602.07" y="560.72" width="5.0" height="5.0"/><rect x="604.31" y="559.77" width="5.0" height="5.0"/><rect x="606.54" y="558.83" width="5.0" height="5.0"/><rect x="608.78" y="557.90" width="5.0" height="5.0"/><rect x="611.02" y="556.98" width="5.0" height="5.0"/><rect x="613.25" y="556.08" width="5.0" height="5.0"/><rect x="615.49" y="555.19" width="5.0" height="5.0"/><rect x="617.72" y="554.32" width="5.0" height="5.0"/><rect x="619.96" y="553.46" width="5.0" height="5.0"/><rect x="622.20" y="552.63" width="5.0" height="5.0"/><rect x="624.43" y="551.81" width="5.0" height="5.0"/><rect x="626.67" y="551.02" width="5.0" height="5.0"/><rect x="628.90" y="550.26" width="5.0" height="5.0"/><rect x="631.14" y="549.53" width="5.0" height="5.0"/><rect x="633.38" y="548.82" width="5.0" height="5.0"/><rect x="635.61" y="548.15" width="5.0" height="5.0"/><rect x="637.85" y="547.52" width="5.0" height="5.0"/><rect x="640.08" y="546.92" width="5.0" height="5.0"/><rect x="642.32" y="546.36" width="5.0" height="5.0"/><rect x="644.56" y="545.85" width="5.0" height="5.0"/><rect x="646.79" y="545.39" width="5.0" height="5.0"/><rect x="649.03" y="544.98" width="5.0" height="5.0"/><rect x="651.26" y="544.62" width="5.0" height="5.0"/><rect x="653.50" y="544.30" width="5.0" height="5.0"/></g>
<g fill="#E69F00"><circle cx="154.60" cy="510.76" r="3.1"/><circle cx="156.84" cy="510.21" r="3.1"/><circle cx="159.07" cy="509.01" r="3.1"/><circle cx="161.31" cy="509.34" r="3.1"/><circle cx="163.54" cy="509.83" r="3.1"/><circle cx="165.78" cy="511.05" r="3.1"/><circle cx="168.02" cy="512.10" r="3.1"/><circle cx="170.25" cy="513.33" r="3.1"/><circle cx="172.49" cy="515.05" r="3.1"/><circle cx="174.72" cy="517.57" r="3.1"/><circle cx="176.96" cy="520.50" r="3.1"/><circle cx="179.20" cy="523.39" r="3.1"/><circle cx="181.43" cy="526.77" r="3.1"/><circle cx="183.67" cy="530.92" r="3.1"/><circle cx="185.90" cy="535.69" r="3.1"/><circle cx="188.14" cy="540.36" r="3.1"/><circle cx="190.38" cy="545.21" r="3.1"/><circle cx="192.61" cy="549.68" r="3.1"/><circle cx="194.85" cy="553.38" r="3.1"/><circle cx="197.08" cy="558.62" r="3.1"/><circle cx="199.32" cy="564.75" r="3.1"/><circle cx="201.56" cy="570.06" r="3.1"/><circle cx="203.79" cy="575.24" r="3.1"/><circle cx="206.03" cy="579.76" r="3.1"/><circle cx="208.26" cy="584.24" r="3.1"/><circle cx="210.50" cy="589.48" r="3.1"/><circle cx="212.74" cy="595.14" r="3.1"/><circle cx="214.97" cy="601.00" r="3.1"/><circle cx="217.21" cy="606.24" r="3.1"/><circle cx="219.44" cy="610.94" r="3.1"/><circle cx="221.68" cy="614.79" r="3.1"/><circle cx="223.92" cy="618.81" r="3.1"/><circle cx="226.15" cy="623.39" r="3.1"/><circle cx="228.39" cy="627.77" r="3.1"/><circle cx="230.62" cy="630.99" r="3.1"/><circle cx="232.86" cy="634.18" r="3.1"/><circle cx="235.10" cy="637.49" r="3.1"/><circle cx="237.33" cy="640.57" r="3.1"/><circle cx="239.57" cy="643.45" r="3.1"/><circle cx="241.80" cy="646.96" r="3.1"/><circle cx="244.04" cy="650.22" r="3.1"/><circle cx="246.28" cy="653.07" r="3.1"/><circle cx="248.51" cy="655.79" r="3.1"/><circle cx="250.75" cy="658.13" r="3.1"/><circle cx="252.98" cy="660.66" r="3.1"/><circle cx="255.22" cy="663.11" r="3.1"/><circle cx="257.46" cy="665.91" r="3.1"/><circle cx="259.69" cy="668.17" r="3.1"/><circle cx="261.93" cy="670.91" r="3.1"/><circle cx="264.16" cy="672.26" r="3.1"/><circle cx="266.40" cy="673.59" r="3.1"/><circle cx="268.64" cy="675.02" r="3.1"/><circle cx="270.87" cy="676.41" r="3.1"/><circle cx="273.11" cy="677.22" r="3.1"/><circle cx="275.34" cy="677.61" r="3.1"/><circle cx="277.58" cy="678.31" r="3.1"/><circle cx="279.82" cy="678.94" r="3.1"/><circle cx="282.05" cy="679.43" r="3.1"/><circle cx="284.29" cy="680.02" r="3.1"/><circle cx="286.52" cy="681.16" r="3.1"/><circle cx="288.76" cy="681.43" r="3.1"/><circle cx="291.00" cy="681.50" r="3.1"/><circle cx="293.23" cy="681.44" r="3.1"/><circle cx="295.47" cy="681.49" r="3.1"/><circle cx="297.70" cy="681.13" r="3.1"/><circle cx="299.94" cy="680.85" r="3.1"/><circle cx="302.18" cy="681.19" r="3.1"/><circle cx="304.41" cy="681.14" r="3.1"/><circle cx="306.65" cy="681.21" r="3.1"/><circle cx="308.88" cy="680.47" r="3.1"/><circle cx="311.12" cy="679.41" r="3.1"/><circle cx="313.36" cy="678.56" r="3.1"/><circle cx="315.59" cy="677.72" r="3.1"/><circle cx="317.83" cy="676.91" r="3.1"/><circle cx="320.06" cy="675.66" r="3.1"/><circle cx="322.30" cy="674.09" r="3.1"/><circle cx="324.54" cy="673.11" r="3.1"/><circle cx="326.77" cy="672.02" r="3.1"/><circle cx="329.01" cy="671.30" r="3.1"/><circle cx="331.24" cy="670.19" r="3.1"/><circle cx="333.48" cy="668.59" r="3.1"/><circle cx="335.72" cy="667.83" r="3.1"/><circle cx="337.95" cy="667.42" r="3.1"/><circle cx="340.19" cy="666.73" r="3.1"/><circle cx="342.42" cy="665.81" r="3.1"/><circle cx="344.66" cy="665.06" r="3.1"/><circle cx="346.90" cy="664.13" r="3.1"/><circle cx="349.13" cy="662.80" r="3.1"/><circle cx="351.37" cy="662.38" r="3.1"/><circle cx="353.60" cy="660.60" r="3.1"/><circle cx="355.84" cy="657.93" r="3.1"/><circle cx="358.08" cy="658.06" r="3.1"/><circle cx="360.31" cy="656.97" r="3.1"/><circle cx="362.55" cy="654.48" r="3.1"/><circle cx="364.78" cy="653.80" r="3.1"/><circle cx="367.02" cy="651.68" r="3.1"/><circle cx="369.26" cy="651.21" r="3.1"/><circle cx="371.49" cy="649.90" r="3.1"/><circle cx="373.73" cy="649.19" r="3.1"/><circle cx="375.96" cy="647.72" r="3.1"/><circle cx="378.20" cy="646.24" r="3.1"/><circle cx="380.44" cy="644.08" r="3.1"/><circle cx="382.67" cy="642.72" r="3.1"/><circle cx="384.91" cy="641.07" r="3.1"/><circle cx="387.14" cy="640.08" r="3.1"/><circle cx="389.38" cy="638.76" r="3.1"/><circle cx="391.62" cy="637.39" r="3.1"/><circle cx="393.85" cy="634.73" r="3.1"/><circle cx="396.09" cy="632.70" r="3.1"/><circle cx="398.32" cy="632.63" r="3.1"/><circle cx="400.56" cy="632.34" r="3.1"/><circle cx="402.80" cy="631.94" r="3.1"/><circle cx="405.03" cy="630.52" r="3.1"/><circle cx="407.27" cy="627.82" r="3.1"/><circle cx="409.50" cy="624.61" r="3.1"/><circle cx="411.74" cy="622.92" r="3.1"/><circle cx="413.98" cy="621.51" r="3.1"/><circle cx="416.21" cy="620.00" r="3.1"/><circle cx="418.45" cy="617.76" r="3.1"/><circle cx="420.68" cy="614.83" r="3.1"/><circle cx="422.92" cy="612.62" r="3.1"/><circle cx="425.16" cy="615.12" r="3.1"/><circle cx="427.39" cy="613.01" r="3.1"/><circle cx="429.63" cy="608.42" r="3.1"/><circle cx="431.86" cy="607.37" r="3.1"/><circle cx="434.10" cy="607.37" r="3.1"/><circle cx="436.34" cy="603.58" r="3.1"/><circle cx="438.57" cy="603.08" r="3.1"/><circle cx="440.81" cy="601.98" r="3.1"/><circle cx="443.04" cy="599.99" r="3.1"/><circle cx="445.28" cy="597.23" r="3.1"/><circle cx="447.52" cy="595.39" r="3.1"/><circle cx="449.75" cy="596.71" r="3.1"/><circle cx="451.99" cy="594.64" r="3.1"/><circle cx="454.22" cy="593.36" r="3.1"/><circle cx="456.46" cy="590.51" r="3.1"/><circle cx="458.70" cy="588.17" r="3.1"/><circle cx="460.93" cy="587.83" r="3.1"/><circle cx="463.17" cy="583.76" r="3.1"/><circle cx="465.40" cy="582.00" r="3.1"/><circle cx="467.64" cy="579.95" r="3.1"/><circle cx="469.88" cy="577.76" r="3.1"/><circle cx="472.11" cy="576.79" r="3.1"/><circle cx="474.35" cy="573.64" r="3.1"/><circle cx="476.58" cy="571.16" r="3.1"/><circle cx="478.82" cy="569.12" r="3.1"/><circle cx="481.06" cy="567.70" r="3.1"/><circle cx="483.29" cy="566.49" r="3.1"/><circle cx="485.53" cy="566.08" r="3.1"/><circle cx="487.76" cy="564.80" r="3.1"/><circle cx="490.00" cy="563.85" r="3.1"/><circle cx="492.24" cy="562.11" r="3.1"/><circle cx="494.47" cy="561.12" r="3.1"/><circle cx="496.71" cy="559.72" r="3.1"/><circle cx="498.94" cy="556.72" r="3.1"/><circle cx="501.18" cy="556.14" r="3.1"/><circle cx="503.42" cy="555.23" r="3.1"/><circle cx="505.65" cy="553.90" r="3.1"/><circle cx="507.89" cy="553.39" r="3.1"/><circle cx="510.12" cy="551.61" r="3.1"/><circle cx="512.36" cy="553.00" r="3.1"/><circle cx="514.60" cy="552.67" r="3.1"/><circle cx="516.83" cy="548.65" r="3.1"/><circle cx="519.07" cy="545.26" r="3.1"/><circle cx="521.30" cy="545.04" r="3.1"/><circle cx="523.54" cy="547.02" r="3.1"/><circle cx="525.78" cy="545.41" r="3.1"/><circle cx="528.01" cy="544.45" r="3.1"/><circle cx="530.25" cy="544.72" r="3.1"/><circle cx="532.48" cy="545.06" r="3.1"/><circle cx="534.72" cy="543.58" r="3.1"/><circle cx="536.96" cy="540.85" r="3.1"/><circle cx="539.19" cy="539.15" r="3.1"/><circle cx="541.43" cy="538.78" r="3.1"/><circle cx="543.66" cy="539.30" r="3.1"/><circle cx="545.90" cy="538.34" r="3.1"/><circle cx="548.14" cy="536.36" r="3.1"/><circle cx="550.37" cy="535.25" r="3.1"/><circle cx="552.61" cy="536.45" r="3.1"/><circle cx="554.84" cy="537.10" r="3.1"/><circle cx="557.08" cy="534.76" r="3.1"/><circle cx="559.32" cy="532.37" r="3.1"/><circle cx="561.55" cy="530.85" r="3.1"/><circle cx="563.79" cy="530.52" r="3.1"/><circle cx="566.02" cy="529.93" r="3.1"/><circle cx="568.26" cy="530.28" r="3.1"/><circle cx="570.50" cy="530.24" r="3.1"/><circle cx="572.73" cy="531.44" r="3.1"/><circle cx="574.97" cy="531.50" r="3.1"/><circle cx="577.20" cy="530.32" r="3.1"/><circle cx="579.44" cy="529.69" r="3.1"/><circle cx="581.68" cy="528.77" r="3.1"/><circle cx="583.91" cy="527.18" r="3.1"/><circle cx="586.15" cy="529.40" r="3.1"/><circle cx="588.38" cy="530.95" r="3.1"/><circle cx="590.62" cy="531.02" r="3.1"/><circle cx="592.86" cy="530.34" r="3.1"/><circle cx="595.09" cy="529.21" r="3.1"/><circle cx="597.33" cy="527.19" r="3.1"/><circle cx="599.56" cy="527.23" r="3.1"/><circle cx="601.80" cy="528.79" r="3.1"/><circle cx="604.04" cy="526.72" r="3.1"/><circle cx="606.27" cy="525.49" r="3.1"/><circle cx="608.51" cy="526.68" r="3.1"/><circle cx="610.74" cy="529.63" r="3.1"/><circle cx="612.98" cy="531.53" r="3.1"/><circle cx="615.22" cy="529.87" r="3.1"/><circle cx="617.45" cy="528.82" r="3.1"/><circle cx="619.69" cy="528.44" r="3.1"/><circle cx="621.92" cy="527.22" r="3.1"/><circle cx="624.16" cy="525.09" r="3.1"/><circle cx="626.40" cy="526.17" r="3.1"/><circle cx="628.63" cy="527.13" r="3.1"/><circle cx="630.87" cy="526.84" r="3.1"/><circle cx="633.10" cy="527.42" r="3.1"/><circle cx="635.34" cy="527.30" r="3.1"/><circle cx="637.58" cy="525.27" r="3.1"/><circle cx="639.81" cy="524.34" r="3.1"/><circle cx="642.05" cy="524.69" r="3.1"/><circle cx="644.28" cy="523.12" r="3.1"/><circle cx="646.52" cy="521.84" r="3.1"/><circle cx="648.76" cy="520.87" r="3.1"/><circle cx="650.99" cy="518.83" r="3.1"/><circle cx="653.23" cy="515.98" r="3.1"/><circle cx="655.46" cy="515.20" r="3.1"/></g>
<g fill="none" stroke="#E7298A" stroke-width="0.95"><rect x="94.10" y="442.40" width="5.8" height="5.8"/><rect x="96.34" y="442.40" width="5.8" height="5.8"/><rect x="98.57" y="442.40" width="5.8" height="5.8"/><rect x="100.81" y="442.40" width="5.8" height="5.8"/><rect x="103.04" y="442.40" width="5.8" height="5.8"/><rect x="105.28" y="442.40" width="5.8" height="5.8"/><rect x="107.52" y="442.40" width="5.8" height="5.8"/><rect x="109.75" y="442.40" width="5.8" height="5.8"/><rect x="111.99" y="442.40" width="5.8" height="5.8"/><rect x="114.22" y="442.40" width="5.8" height="5.8"/><rect x="116.46" y="442.40" width="5.8" height="5.8"/><rect x="118.70" y="442.40" width="5.8" height="5.8"/><rect x="120.93" y="442.40" width="5.8" height="5.8"/><rect x="123.17" y="442.40" width="5.8" height="5.8"/><rect x="125.40" y="442.41" width="5.8" height="5.8"/><rect x="127.64" y="442.42" width="5.8" height="5.8"/><rect x="129.88" y="442.43" width="5.8" height="5.8"/><rect x="132.11" y="442.45" width="5.8" height="5.8"/><rect x="134.35" y="442.47" width="5.8" height="5.8"/><rect x="136.58" y="442.50" width="5.8" height="5.8"/><rect x="138.82" y="442.55" width="5.8" height="5.8"/><rect x="141.06" y="442.63" width="5.8" height="5.8"/><rect x="143.29" y="442.74" width="5.8" height="5.8"/><rect x="145.53" y="442.90" width="5.8" height="5.8"/><rect x="147.76" y="443.13" width="5.8" height="5.8"/><rect x="150.00" y="443.48" width="5.8" height="5.8"/><rect x="152.24" y="443.95" width="5.8" height="5.8"/><rect x="154.47" y="444.54" width="5.8" height="5.8"/><rect x="156.71" y="445.26" width="5.8" height="5.8"/><rect x="158.94" y="446.16" width="5.8" height="5.8"/><rect x="161.18" y="447.33" width="5.8" height="5.8"/><rect x="163.42" y="448.91" width="5.8" height="5.8"/><rect x="165.65" y="450.95" width="5.8" height="5.8"/><rect x="167.89" y="453.50" width="5.8" height="5.8"/><rect x="170.12" y="456.74" width="5.8" height="5.8"/><rect x="172.36" y="460.92" width="5.8" height="5.8"/><rect x="174.60" y="466.69" width="5.8" height="5.8"/><rect x="176.83" y="472.80" width="5.8" height="5.8"/><rect x="179.07" y="478.66" width="5.8" height="5.8"/><rect x="181.30" y="485.06" width="5.8" height="5.8"/><rect x="183.54" y="492.25" width="5.8" height="5.8"/><rect x="185.78" y="499.23" width="5.8" height="5.8"/><rect x="188.01" y="505.79" width="5.8" height="5.8"/><rect x="190.25" y="512.47" width="5.8" height="5.8"/><rect x="192.48" y="519.32" width="5.8" height="5.8"/><rect x="194.72" y="526.35" width="5.8" height="5.8"/><rect x="196.96" y="533.53" width="5.8" height="5.8"/><rect x="199.19" y="540.34" width="5.8" height="5.8"/><rect x="201.43" y="546.78" width="5.8" height="5.8"/><rect x="203.66" y="553.09" width="5.8" height="5.8"/><rect x="205.90" y="559.51" width="5.8" height="5.8"/><rect x="208.14" y="566.08" width="5.8" height="5.8"/><rect x="210.37" y="572.49" width="5.8" height="5.8"/><rect x="212.61" y="578.38" width="5.8" height="5.8"/><rect x="214.84" y="583.75" width="5.8" height="5.8"/><rect x="217.08" y="588.96" width="5.8" height="5.8"/><rect x="219.32" y="594.34" width="5.8" height="5.8"/><rect x="221.55" y="599.83" width="5.8" height="5.8"/><rect x="223.79" y="605.45" width="5.8" height="5.8"/><rect x="226.02" y="611.35" width="5.8" height="5.8"/><rect x="228.26" y="617.69" width="5.8" height="5.8"/><rect x="230.50" y="624.09" width="5.8" height="5.8"/><rect x="232.73" y="630.06" width="5.8" height="5.8"/><rect x="234.97" y="635.58" width="5.8" height="5.8"/><rect x="237.20" y="640.81" width="5.8" height="5.8"/><rect x="239.44" y="645.69" width="5.8" height="5.8"/><rect x="241.68" y="650.16" width="5.8" height="5.8"/><rect x="243.91" y="654.27" width="5.8" height="5.8"/><rect x="246.15" y="658.33" width="5.8" height="5.8"/><rect x="248.38" y="662.65" width="5.8" height="5.8"/><rect x="250.62" y="667.17" width="5.8" height="5.8"/><rect x="252.86" y="671.61" width="5.8" height="5.8"/><rect x="255.09" y="675.88" width="5.8" height="5.8"/><rect x="257.33" y="680.03" width="5.8" height="5.8"/><rect x="259.56" y="683.90" width="5.8" height="5.8"/><rect x="261.80" y="687.41" width="5.8" height="5.8"/><rect x="264.04" y="690.61" width="5.8" height="5.8"/><rect x="266.27" y="693.62" width="5.8" height="5.8"/><rect x="268.51" y="696.50" width="5.8" height="5.8"/><rect x="270.74" y="699.22" width="5.8" height="5.8"/><rect x="272.98" y="701.87" width="5.8" height="5.8"/><rect x="275.22" y="704.60" width="5.8" height="5.8"/><rect x="277.45" y="707.47" width="5.8" height="5.8"/><rect x="279.69" y="710.40" width="5.8" height="5.8"/><rect x="281.92" y="713.22" width="5.8" height="5.8"/><rect x="284.16" y="715.87" width="5.8" height="5.8"/><rect x="286.40" y="718.41" width="5.8" height="5.8"/><rect x="288.63" y="720.79" width="5.8" height="5.8"/><rect x="290.87" y="723.02" width="5.8" height="5.8"/><rect x="293.10" y="725.12" width="5.8" height="5.8"/><rect x="295.34" y="727.04" width="5.8" height="5.8"/><rect x="297.58" y="728.71" width="5.8" height="5.8"/><rect x="299.81" y="730.17" width="5.8" height="5.8"/><rect x="302.05" y="731.49" width="5.8" height="5.8"/><rect x="304.28" y="732.75" width="5.8" height="5.8"/><rect x="306.52" y="733.97" width="5.8" height="5.8"/><rect x="308.76" y="735.12" width="5.8" height="5.8"/><rect x="310.99" y="736.13" width="5.8" height="5.8"/><rect x="313.23" y="736.98" width="5.8" height="5.8"/><rect x="315.46" y="737.69" width="5.8" height="5.8"/><rect x="317.70" y="738.30" width="5.8" height="5.8"/><rect x="319.94" y="738.84" width="5.8" height="5.8"/><rect x="322.17" y="739.31" width="5.8" height="5.8"/><rect x="324.41" y="739.72" width="5.8" height="5.8"/><rect x="326.64" y="740.03" width="5.8" height="5.8"/><rect x="328.88" y="740.28" width="5.8" height="5.8"/><rect x="331.12" y="740.50" width="5.8" height="5.8"/><rect x="333.35" y="740.72" width="5.8" height="5.8"/><rect x="335.59" y="740.99" width="5.8" height="5.8"/><rect x="337.82" y="741.25" width="5.8" height="5.8"/><rect x="340.06" y="741.41" width="5.8" height="5.8"/><rect x="342.30" y="741.40" width="5.8" height="5.8"/><rect x="344.53" y="741.23" width="5.8" height="5.8"/><rect x="346.77" y="740.95" width="5.8" height="5.8"/><rect x="349.00" y="740.58" width="5.8" height="5.8"/><rect x="351.24" y="740.13" width="5.8" height="5.8"/><rect x="353.48" y="739.54" width="5.8" height="5.8"/><rect x="355.71" y="738.74" width="5.8" height="5.8"/><rect x="357.95" y="737.77" width="5.8" height="5.8"/><rect x="360.18" y="736.73" width="5.8" height="5.8"/><rect x="362.42" y="735.67" width="5.8" height="5.8"/><rect x="364.66" y="734.56" width="5.8" height="5.8"/><rect x="366.89" y="733.38" width="5.8" height="5.8"/><rect x="369.13" y="732.13" width="5.8" height="5.8"/><rect x="371.36" y="730.83" width="5.8" height="5.8"/><rect x="373.60" y="729.48" width="5.8" height="5.8"/><rect x="375.84" y="728.07" width="5.8" height="5.8"/><rect x="378.07" y="726.62" width="5.8" height="5.8"/><rect x="380.31" y="725.12" width="5.8" height="5.8"/><rect x="382.54" y="723.58" width="5.8" height="5.8"/><rect x="384.78" y="722.00" width="5.8" height="5.8"/><rect x="387.02" y="720.38" width="5.8" height="5.8"/><rect x="389.25" y="718.72" width="5.8" height="5.8"/><rect x="391.49" y="717.03" width="5.8" height="5.8"/><rect x="393.72" y="715.32" width="5.8" height="5.8"/><rect x="395.96" y="713.57" width="5.8" height="5.8"/><rect x="398.20" y="711.80" width="5.8" height="5.8"/><rect x="400.43" y="710.01" width="5.8" height="5.8"/><rect x="402.67" y="708.20" width="5.8" height="5.8"/><rect x="404.90" y="706.38" width="5.8" height="5.8"/><rect x="407.14" y="704.54" width="5.8" height="5.8"/><rect x="409.38" y="702.68" width="5.8" height="5.8"/><rect x="411.61" y="700.81" width="5.8" height="5.8"/><rect x="413.85" y="698.94" width="5.8" height="5.8"/><rect x="416.08" y="697.06" width="5.8" height="5.8"/><rect x="418.32" y="695.17" width="5.8" height="5.8"/><rect x="420.56" y="693.28" width="5.8" height="5.8"/><rect x="422.79" y="691.38" width="5.8" height="5.8"/><rect x="425.03" y="689.49" width="5.8" height="5.8"/><rect x="427.26" y="687.59" width="5.8" height="5.8"/><rect x="429.50" y="685.70" width="5.8" height="5.8"/><rect x="431.74" y="683.82" width="5.8" height="5.8"/><rect x="433.97" y="681.94" width="5.8" height="5.8"/><rect x="436.21" y="680.06" width="5.8" height="5.8"/><rect x="438.44" y="678.19" width="5.8" height="5.8"/><rect x="440.68" y="676.33" width="5.8" height="5.8"/><rect x="442.92" y="674.48" width="5.8" height="5.8"/><rect x="445.15" y="672.64" width="5.8" height="5.8"/><rect x="447.39" y="670.82" width="5.8" height="5.8"/><rect x="449.62" y="669.00" width="5.8" height="5.8"/><rect x="451.86" y="667.20" width="5.8" height="5.8"/><rect x="454.10" y="665.41" width="5.8" height="5.8"/><rect x="456.33" y="663.64" width="5.8" height="5.8"/><rect x="458.57" y="661.89" width="5.8" height="5.8"/><rect x="460.80" y="660.15" width="5.8" height="5.8"/><rect x="463.04" y="658.42" width="5.8" height="5.8"/><rect x="465.28" y="656.72" width="5.8" height="5.8"/><rect x="467.51" y="655.03" width="5.8" height="5.8"/><rect x="469.75" y="653.36" width="5.8" height="5.8"/><rect x="471.98" y="651.71" width="5.8" height="5.8"/><rect x="474.22" y="650.07" width="5.8" height="5.8"/><rect x="476.46" y="648.46" width="5.8" height="5.8"/><rect x="478.69" y="646.87" width="5.8" height="5.8"/><rect x="480.93" y="645.29" width="5.8" height="5.8"/><rect x="483.16" y="643.74" width="5.8" height="5.8"/><rect x="485.40" y="642.20" width="5.8" height="5.8"/><rect x="487.64" y="640.69" width="5.8" height="5.8"/><rect x="489.87" y="639.20" width="5.8" height="5.8"/><rect x="492.11" y="637.72" width="5.8" height="5.8"/><rect x="494.34" y="636.27" width="5.8" height="5.8"/><rect x="496.58" y="634.84" width="5.8" height="5.8"/><rect x="498.82" y="633.43" width="5.8" height="5.8"/><rect x="501.05" y="632.03" width="5.8" height="5.8"/><rect x="503.29" y="630.66" width="5.8" height="5.8"/><rect x="505.52" y="629.31" width="5.8" height="5.8"/><rect x="507.76" y="627.98" width="5.8" height="5.8"/><rect x="510.00" y="626.67" width="5.8" height="5.8"/><rect x="512.23" y="625.38" width="5.8" height="5.8"/><rect x="514.47" y="624.10" width="5.8" height="5.8"/><rect x="516.70" y="622.85" width="5.8" height="5.8"/><rect x="518.94" y="621.62" width="5.8" height="5.8"/><rect x="521.18" y="620.40" width="5.8" height="5.8"/><rect x="523.41" y="619.20" width="5.8" height="5.8"/><rect x="525.65" y="618.02" width="5.8" height="5.8"/><rect x="527.88" y="616.86" width="5.8" height="5.8"/><rect x="530.12" y="615.72" width="5.8" height="5.8"/><rect x="532.36" y="614.59" width="5.8" height="5.8"/><rect x="534.59" y="613.48" width="5.8" height="5.8"/><rect x="536.83" y="612.39" width="5.8" height="5.8"/><rect x="539.06" y="611.31" width="5.8" height="5.8"/><rect x="541.30" y="610.25" width="5.8" height="5.8"/><rect x="543.54" y="609.20" width="5.8" height="5.8"/><rect x="545.77" y="608.17" width="5.8" height="5.8"/><rect x="548.01" y="607.16" width="5.8" height="5.8"/><rect x="550.24" y="606.15" width="5.8" height="5.8"/><rect x="552.48" y="605.17" width="5.8" height="5.8"/><rect x="554.72" y="604.19" width="5.8" height="5.8"/><rect x="556.95" y="603.23" width="5.8" height="5.8"/><rect x="559.19" y="602.28" width="5.8" height="5.8"/><rect x="561.42" y="601.35" width="5.8" height="5.8"/><rect x="563.66" y="600.42" width="5.8" height="5.8"/><rect x="565.90" y="599.51" width="5.8" height="5.8"/><rect x="568.13" y="598.61" width="5.8" height="5.8"/><rect x="570.37" y="597.72" width="5.8" height="5.8"/><rect x="572.60" y="596.85" width="5.8" height="5.8"/><rect x="574.84" y="595.98" width="5.8" height="5.8"/><rect x="577.08" y="595.12" width="5.8" height="5.8"/><rect x="579.31" y="594.28" width="5.8" height="5.8"/><rect x="581.55" y="593.44" width="5.8" height="5.8"/><rect x="583.78" y="592.61" width="5.8" height="5.8"/><rect x="586.02" y="591.80" width="5.8" height="5.8"/><rect x="588.26" y="590.99" width="5.8" height="5.8"/><rect x="590.49" y="590.19" width="5.8" height="5.8"/><rect x="592.73" y="589.40" width="5.8" height="5.8"/><rect x="594.96" y="588.62" width="5.8" height="5.8"/><rect x="597.20" y="587.85" width="5.8" height="5.8"/><rect x="599.44" y="587.09" width="5.8" height="5.8"/><rect x="601.67" y="586.33" width="5.8" height="5.8"/><rect x="603.91" y="585.59" width="5.8" height="5.8"/><rect x="606.14" y="584.85" width="5.8" height="5.8"/><rect x="608.38" y="584.12" width="5.8" height="5.8"/><rect x="610.62" y="583.40" width="5.8" height="5.8"/><rect x="612.85" y="582.70" width="5.8" height="5.8"/><rect x="615.09" y="581.99" width="5.8" height="5.8"/><rect x="617.32" y="581.30" width="5.8" height="5.8"/><rect x="619.56" y="580.62" width="5.8" height="5.8"/><rect x="621.80" y="579.95" width="5.8" height="5.8"/><rect x="624.03" y="579.29" width="5.8" height="5.8"/><rect x="626.27" y="578.64" width="5.8" height="5.8"/><rect x="628.50" y="578.00" width="5.8" height="5.8"/><rect x="630.74" y="577.37" width="5.8" height="5.8"/><rect x="632.98" y="576.76" width="5.8" height="5.8"/><rect x="635.21" y="576.15" width="5.8" height="5.8"/><rect x="637.45" y="575.56" width="5.8" height="5.8"/><rect x="639.68" y="574.99" width="5.8" height="5.8"/><rect x="641.92" y="574.42" width="5.8" height="5.8"/><rect x="644.16" y="573.88" width="5.8" height="5.8"/><rect x="646.39" y="573.35" width="5.8" height="5.8"/><rect x="648.63" y="572.83" width="5.8" height="5.8"/><rect x="650.86" y="572.33" width="5.8" height="5.8"/><rect x="653.10" y="571.85" width="5.8" height="5.8"/></g>
<g fill="none" stroke="#1B9E77" stroke-width="1.0"><circle cx="151.70" cy="518.83" r="2.9"/><circle cx="153.94" cy="516.69" r="2.9"/><circle cx="156.17" cy="517.77" r="2.9"/><circle cx="158.41" cy="516.24" r="2.9"/><circle cx="160.64" cy="515.37" r="2.9"/><circle cx="162.88" cy="517.26" r="2.9"/><circle cx="165.12" cy="516.17" r="2.9"/><circle cx="167.35" cy="517.44" r="2.9"/><circle cx="169.59" cy="519.91" r="2.9"/><circle cx="171.82" cy="517.97" r="2.9"/><circle cx="174.06" cy="520.60" r="2.9"/><circle cx="176.30" cy="521.05" r="2.9"/><circle cx="178.53" cy="522.43" r="2.9"/><circle cx="180.77" cy="522.94" r="2.9"/><circle cx="183.00" cy="523.30" r="2.9"/><circle cx="185.24" cy="526.20" r="2.9"/><circle cx="187.48" cy="529.41" r="2.9"/><circle cx="189.71" cy="528.91" r="2.9"/><circle cx="191.95" cy="532.62" r="2.9"/><circle cx="194.18" cy="535.58" r="2.9"/><circle cx="196.42" cy="542.02" r="2.9"/><circle cx="198.66" cy="548.81" r="2.9"/><circle cx="200.89" cy="549.36" r="2.9"/><circle cx="203.13" cy="554.05" r="2.9"/><circle cx="205.36" cy="557.17" r="2.9"/><circle cx="207.60" cy="560.47" r="2.9"/><circle cx="209.84" cy="560.49" r="2.9"/><circle cx="212.07" cy="563.98" r="2.9"/><circle cx="214.31" cy="568.62" r="2.9"/><circle cx="216.54" cy="570.89" r="2.9"/><circle cx="218.78" cy="575.05" r="2.9"/><circle cx="221.02" cy="577.71" r="2.9"/><circle cx="223.25" cy="584.44" r="2.9"/><circle cx="225.49" cy="584.23" r="2.9"/><circle cx="227.72" cy="586.58" r="2.9"/><circle cx="229.96" cy="591.31" r="2.9"/><circle cx="232.20" cy="593.36" r="2.9"/><circle cx="234.43" cy="598.02" r="2.9"/><circle cx="236.67" cy="599.66" r="2.9"/><circle cx="238.90" cy="603.76" r="2.9"/><circle cx="241.14" cy="610.65" r="2.9"/><circle cx="243.38" cy="614.04" r="2.9"/><circle cx="245.61" cy="617.65" r="2.9"/><circle cx="247.85" cy="621.33" r="2.9"/><circle cx="250.08" cy="623.40" r="2.9"/><circle cx="252.32" cy="626.72" r="2.9"/><circle cx="254.56" cy="629.51" r="2.9"/><circle cx="256.79" cy="636.29" r="2.9"/><circle cx="259.03" cy="639.52" r="2.9"/><circle cx="261.26" cy="641.76" r="2.9"/><circle cx="263.50" cy="645.31" r="2.9"/><circle cx="265.74" cy="647.70" r="2.9"/><circle cx="267.97" cy="648.76" r="2.9"/><circle cx="270.21" cy="650.33" r="2.9"/><circle cx="272.44" cy="655.31" r="2.9"/><circle cx="274.68" cy="655.59" r="2.9"/><circle cx="276.92" cy="657.81" r="2.9"/><circle cx="279.15" cy="661.71" r="2.9"/><circle cx="281.39" cy="664.44" r="2.9"/><circle cx="283.62" cy="665.81" r="2.9"/><circle cx="285.86" cy="669.16" r="2.9"/><circle cx="288.10" cy="673.06" r="2.9"/><circle cx="290.33" cy="674.21" r="2.9"/><circle cx="292.57" cy="677.39" r="2.9"/><circle cx="294.80" cy="677.40" r="2.9"/><circle cx="297.04" cy="679.00" r="2.9"/><circle cx="299.28" cy="676.83" r="2.9"/><circle cx="301.51" cy="679.72" r="2.9"/><circle cx="303.75" cy="680.53" r="2.9"/><circle cx="305.98" cy="681.48" r="2.9"/><circle cx="308.22" cy="683.02" r="2.9"/><circle cx="310.46" cy="681.27" r="2.9"/><circle cx="312.69" cy="686.50" r="2.9"/><circle cx="314.93" cy="684.06" r="2.9"/><circle cx="317.16" cy="685.40" r="2.9"/><circle cx="319.40" cy="682.16" r="2.9"/><circle cx="321.64" cy="683.39" r="2.9"/><circle cx="323.87" cy="684.01" r="2.9"/><circle cx="326.11" cy="681.99" r="2.9"/><circle cx="328.34" cy="681.82" r="2.9"/><circle cx="330.58" cy="682.25" r="2.9"/><circle cx="332.82" cy="681.31" r="2.9"/><circle cx="335.05" cy="679.64" r="2.9"/><circle cx="337.29" cy="679.82" r="2.9"/><circle cx="339.52" cy="678.54" r="2.9"/><circle cx="341.76" cy="677.30" r="2.9"/><circle cx="344.00" cy="675.90" r="2.9"/><circle cx="346.23" cy="674.51" r="2.9"/><circle cx="348.47" cy="675.05" r="2.9"/><circle cx="350.70" cy="671.62" r="2.9"/><circle cx="352.94" cy="675.43" r="2.9"/><circle cx="355.18" cy="671.04" r="2.9"/><circle cx="357.41" cy="671.01" r="2.9"/><circle cx="359.65" cy="664.73" r="2.9"/><circle cx="361.88" cy="666.92" r="2.9"/><circle cx="364.12" cy="666.60" r="2.9"/><circle cx="366.36" cy="663.75" r="2.9"/><circle cx="368.59" cy="661.65" r="2.9"/><circle cx="370.83" cy="660.69" r="2.9"/><circle cx="373.06" cy="660.21" r="2.9"/><circle cx="375.30" cy="662.05" r="2.9"/><circle cx="377.54" cy="661.25" r="2.9"/><circle cx="379.77" cy="657.84" r="2.9"/><circle cx="382.01" cy="653.90" r="2.9"/><circle cx="384.24" cy="654.27" r="2.9"/><circle cx="386.48" cy="648.38" r="2.9"/><circle cx="388.72" cy="649.36" r="2.9"/><circle cx="390.95" cy="645.41" r="2.9"/><circle cx="393.19" cy="646.57" r="2.9"/><circle cx="395.42" cy="644.36" r="2.9"/><circle cx="397.66" cy="644.72" r="2.9"/><circle cx="399.90" cy="641.63" r="2.9"/><circle cx="402.13" cy="634.20" r="2.9"/><circle cx="404.37" cy="636.08" r="2.9"/><circle cx="406.60" cy="636.30" r="2.9"/><circle cx="408.84" cy="636.06" r="2.9"/><circle cx="411.08" cy="632.04" r="2.9"/><circle cx="413.31" cy="634.11" r="2.9"/><circle cx="415.55" cy="627.92" r="2.9"/><circle cx="417.78" cy="628.91" r="2.9"/><circle cx="420.02" cy="628.25" r="2.9"/><circle cx="422.26" cy="621.60" r="2.9"/><circle cx="424.49" cy="623.39" r="2.9"/><circle cx="426.73" cy="620.65" r="2.9"/><circle cx="428.96" cy="617.67" r="2.9"/><circle cx="431.20" cy="614.61" r="2.9"/><circle cx="433.44" cy="615.08" r="2.9"/><circle cx="435.67" cy="616.25" r="2.9"/><circle cx="437.91" cy="616.64" r="2.9"/><circle cx="440.14" cy="613.87" r="2.9"/><circle cx="442.38" cy="615.60" r="2.9"/><circle cx="444.62" cy="608.08" r="2.9"/><circle cx="446.85" cy="601.25" r="2.9"/><circle cx="449.09" cy="607.68" r="2.9"/><circle cx="451.32" cy="604.30" r="2.9"/><circle cx="453.56" cy="610.42" r="2.9"/><circle cx="455.80" cy="603.79" r="2.9"/><circle cx="458.03" cy="600.14" r="2.9"/><circle cx="460.27" cy="600.11" r="2.9"/><circle cx="462.50" cy="598.67" r="2.9"/><circle cx="464.74" cy="594.58" r="2.9"/><circle cx="466.98" cy="594.18" r="2.9"/><circle cx="469.21" cy="592.91" r="2.9"/><circle cx="471.45" cy="588.63" r="2.9"/><circle cx="473.68" cy="590.27" r="2.9"/><circle cx="475.92" cy="587.12" r="2.9"/><circle cx="478.16" cy="587.24" r="2.9"/><circle cx="480.39" cy="584.00" r="2.9"/><circle cx="482.63" cy="578.91" r="2.9"/><circle cx="484.86" cy="580.74" r="2.9"/><circle cx="487.10" cy="578.51" r="2.9"/><circle cx="489.34" cy="577.66" r="2.9"/><circle cx="491.57" cy="575.99" r="2.9"/><circle cx="493.81" cy="573.96" r="2.9"/><circle cx="496.04" cy="573.07" r="2.9"/><circle cx="498.28" cy="571.83" r="2.9"/><circle cx="500.52" cy="571.06" r="2.9"/><circle cx="502.75" cy="571.41" r="2.9"/><circle cx="504.99" cy="570.81" r="2.9"/><circle cx="507.22" cy="569.01" r="2.9"/><circle cx="509.46" cy="565.63" r="2.9"/><circle cx="511.70" cy="564.95" r="2.9"/><circle cx="513.93" cy="564.36" r="2.9"/><circle cx="516.17" cy="559.52" r="2.9"/><circle cx="518.40" cy="561.16" r="2.9"/><circle cx="520.64" cy="559.02" r="2.9"/><circle cx="522.88" cy="553.57" r="2.9"/><circle cx="525.11" cy="555.31" r="2.9"/><circle cx="527.35" cy="554.08" r="2.9"/><circle cx="529.58" cy="555.48" r="2.9"/><circle cx="531.82" cy="553.99" r="2.9"/><circle cx="534.06" cy="553.94" r="2.9"/><circle cx="536.29" cy="551.23" r="2.9"/><circle cx="538.53" cy="549.86" r="2.9"/><circle cx="540.76" cy="549.45" r="2.9"/><circle cx="543.00" cy="547.40" r="2.9"/><circle cx="545.24" cy="551.17" r="2.9"/><circle cx="547.47" cy="543.93" r="2.9"/><circle cx="549.71" cy="551.84" r="2.9"/><circle cx="551.94" cy="544.00" r="2.9"/><circle cx="554.18" cy="541.78" r="2.9"/><circle cx="556.42" cy="546.77" r="2.9"/><circle cx="558.65" cy="545.87" r="2.9"/><circle cx="560.89" cy="545.28" r="2.9"/><circle cx="563.12" cy="545.50" r="2.9"/><circle cx="565.36" cy="540.05" r="2.9"/><circle cx="567.60" cy="539.37" r="2.9"/><circle cx="569.83" cy="544.92" r="2.9"/><circle cx="572.07" cy="539.63" r="2.9"/><circle cx="574.30" cy="539.76" r="2.9"/><circle cx="576.54" cy="539.58" r="2.9"/><circle cx="578.78" cy="538.91" r="2.9"/><circle cx="581.01" cy="538.47" r="2.9"/><circle cx="583.25" cy="542.77" r="2.9"/><circle cx="585.48" cy="540.20" r="2.9"/><circle cx="587.72" cy="540.50" r="2.9"/><circle cx="589.96" cy="539.74" r="2.9"/><circle cx="592.19" cy="536.27" r="2.9"/><circle cx="594.43" cy="534.62" r="2.9"/><circle cx="596.66" cy="536.58" r="2.9"/><circle cx="598.90" cy="534.50" r="2.9"/><circle cx="601.14" cy="536.07" r="2.9"/><circle cx="603.37" cy="532.32" r="2.9"/><circle cx="605.61" cy="538.93" r="2.9"/><circle cx="607.84" cy="534.27" r="2.9"/><circle cx="610.08" cy="532.93" r="2.9"/><circle cx="612.32" cy="535.45" r="2.9"/><circle cx="614.55" cy="533.64" r="2.9"/><circle cx="616.79" cy="533.81" r="2.9"/><circle cx="619.02" cy="531.45" r="2.9"/><circle cx="621.26" cy="532.43" r="2.9"/><circle cx="623.50" cy="530.89" r="2.9"/><circle cx="625.73" cy="536.48" r="2.9"/><circle cx="627.97" cy="531.79" r="2.9"/><circle cx="630.20" cy="529.05" r="2.9"/><circle cx="632.44" cy="530.34" r="2.9"/><circle cx="634.68" cy="532.46" r="2.9"/><circle cx="636.91" cy="530.92" r="2.9"/><circle cx="639.15" cy="526.68" r="2.9"/><circle cx="641.38" cy="526.82" r="2.9"/><circle cx="643.62" cy="532.16" r="2.9"/><circle cx="645.86" cy="532.44" r="2.9"/><circle cx="648.09" cy="533.25" r="2.9"/><circle cx="650.33" cy="531.26" r="2.9"/><circle cx="652.56" cy="532.01" r="2.9"/><circle cx="654.80" cy="527.15" r="2.9"/></g>
<text x="54.6" y="25.40" text-anchor="end" style="font-family:'Liberation Sans',sans-serif;font-size:17.6px;fill:#4D4D4D">1.0</text>
<text x="54.6" y="452.00" text-anchor="end" style="font-family:'Liberation Sans',sans-serif;font-size:17.6px;fill:#4D4D4D">1.0</text>
<text x="54.6" y="113.58" text-anchor="end" style="font-family:'Liberation Sans',sans-serif;font-size:17.6px;fill:#4D4D4D">0.8</text>
<text x="54.6" y="527.00" text-anchor="end" style="font-family:'Liberation Sans',sans-serif;font-size:17.6px;fill:#4D4D4D">0.8</text>
<text x="54.6" y="201.75" text-anchor="end" style="font-family:'Liberation Sans',sans-serif;font-size:17.6px;fill:#4D4D4D">0.5</text>
<text x="54.6" y="602.00" text-anchor="end" style="font-family:'Liberation Sans',sans-serif;font-size:17.6px;fill:#4D4D4D">0.5</text>
<text x="54.6" y="289.92" text-anchor="end" style="font-family:'Liberation Sans',sans-serif;font-size:17.6px;fill:#4D4D4D">0.2</text>
<text x="54.6" y="677.00" text-anchor="end" style="font-family:'Liberation Sans',sans-serif;font-size:17.6px;fill:#4D4D4D">0.2</text>
<text x="54.6" y="378.10" text-anchor="end" style="font-family:'Liberation Sans',sans-serif;font-size:17.6px;fill:#4D4D4D">0.0</text>
<text x="54.6" y="752.00" text-anchor="end" style="font-family:'Liberation Sans',sans-serif;font-size:17.6px;fill:#4D4D4D">0.0</text>
<text x="97.00" y="788.2" text-anchor="middle" style="font-family:'Liberation Sans',sans-serif;font-size:17.6px;fill:#4D4D4D">0.0</text>
<text x="236.75" y="788.2" text-anchor="middle" style="font-family:'Liberation Sans',sans-serif;font-size:17.6px;fill:#4D4D4D">0.5</text>
<text x="376.50" y="788.2" text-anchor="middle" style="font-family:'Liberation Sans',sans-serif;font-size:17.6px;fill:#4D4D4D">1.0</text>
<text x="516.25" y="788.2" text-anchor="middle" style="font-family:'Liberation Sans',sans-serif;font-size:17.6px;fill:#4D4D4D">1.5</text>
<text x="656.00" y="788.2" text-anchor="middle" style="font-family:'Liberation Sans',sans-serif;font-size:17.6px;fill:#4D4D4D">2.0</text>
<text x="376.8" y="822.5" text-anchor="middle" style="font-family:'Liberation Sans',sans-serif;font-size:26.65px;fill:#000">time (s)</text>
<text transform="translate(20.3,194.35) rotate(-90)" text-anchor="middle" style="font-family:'Liberation Sans',sans-serif;font-size:26.65px;fill:#000">normalized pupil radius (unitless)</text>
<text transform="translate(20.3,594.60) rotate(-90)" text-anchor="middle" style="font-family:'Liberation Sans',sans-serif;font-size:26.65px;fill:#000">normalized pupil radius (unitless)</text>
<path d="M622.4,38.6 C625.5,36.6 628.7,35.8 632.2,35.8 C639.6,35.8 644.6,39.2 644.6,46.5 L644.6,68.3 L640.2,68.3 L639.6,65.2 C637.2,67.5 634.5,68.6 630.6,68.6 C624.4,68.6 620.1,65.4 620.1,59.6 C620.1,53.2 625.2,49.6 635.4,49.3 L639.0,49.2 L639.0,47.2 C639.0,42.6 636.5,40.4 632.0,40.4 C629.2,40.4 626.6,41.2 624.0,42.3 Z M639.0,52.5 L635.6,52.6 C628.6,52.9 625.8,55.4 625.8,59.4 C625.8,62.7 627.8,64.7 631.2,64.7 C636,64.7 639.0,61.5 639.0,56.6 Z" fill="#000" fill-rule="evenodd"/>
<path d="M621,451.9 L626.7,451.9 L626.7,468.5 C629,466.8 632,465.9 636,465.9 C645,465.9 651.2,472.5 651.2,482.5 C651.2,492.5 645,499.1 635.8,499.1 C631.6,499.1 628.6,497.6 626.4,495.3 L625.8,498.2 L620.5,498.2 Z M626.4,482.5 C626.4,474.6 630,470.1 635.5,470.1 C641,470.1 644.6,474.6 644.6,482.5 C644.6,490.4 641,494.9 635.5,494.9 C630,494.9 626.4,490.4 626.4,482.5 Z" fill="#000" fill-rule="evenodd"/>
</svg>
</body></html>
